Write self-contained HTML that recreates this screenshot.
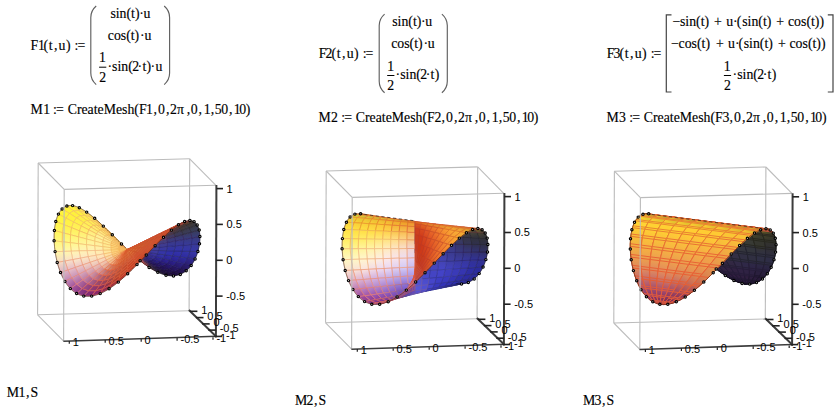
<!DOCTYPE html>
<html><head><meta charset="utf-8"><title>Mathcad</title>
<style>
html,body{margin:0;padding:0;background:#fff;}
body{width:839px;height:414px;overflow:hidden;font-family:"Liberation Serif",serif;}
svg{display:block;position:absolute;left:0;top:0;}
.m{font-family:"Liberation Serif",serif;font-size:13.8px;fill:#000;stroke:#000;stroke-width:0.15px;}
.al{font-family:"Liberation Sans",sans-serif;font-size:11px;fill:#000;}
.bx{stroke:#bcbcbc;stroke-width:1.1;fill:none;}
.ax{stroke:#3c3c3c;stroke-width:2;fill:none;stroke-linecap:square;}
.ax2{stroke:#3c3c3c;stroke-width:1.6;fill:none;stroke-linecap:square;}
.tk{stroke:#222;stroke-width:1.6;fill:none;}
.tk2{stroke:#222;stroke-width:1.2;fill:none;}
polygon{stroke-width:0.65;stroke-linejoin:round;}
.s2 polygon{stroke-width:0.7;}
.s3 polygon{stroke-width:1.0;}
.sil{stroke:#201810;stroke-width:0.9;stroke-opacity:0.75;stroke-dasharray:3.2 2.6;}
.dt{fill:#fff;fill-opacity:0.7;stroke:#000;stroke-width:1.15;}
.bl{stroke:#000;stroke-width:0.7;stroke-opacity:0.6;fill:none;}
.pr{stroke:#606060;stroke-width:1.15;fill:none;}
.fb{stroke:#000;stroke-width:1;}
.br{stroke:#444;stroke-width:1.2;fill:none;}
</style></head><body>
<svg width="839" height="414" viewBox="0 0 839 414">
<defs><linearGradient id="g1" gradientUnits="userSpaceOnUse" x1="130.6" y1="252.5" x2="139.4" y2="260.1"><stop stop-color="#9b9d6d"/><stop offset="1" stop-color="#7c7b65"/></linearGradient><linearGradient id="g2" gradientUnits="userSpaceOnUse" x1="139.4" y1="260.1" x2="147.9" y2="266.4"><stop stop-color="#7c7b65"/><stop offset="1" stop-color="#5b5757"/></linearGradient><linearGradient id="g3" gradientUnits="userSpaceOnUse" x1="121.8" y1="244.2" x2="130.6" y2="252.5"><stop stop-color="#b8bb71"/><stop offset="1" stop-color="#9b9d6d"/></linearGradient><linearGradient id="g4" gradientUnits="userSpaceOnUse" x1="147.9" y1="266.4" x2="156.1" y2="271.0"><stop stop-color="#5b5757"/><stop offset="1" stop-color="#3c3248"/></linearGradient><linearGradient id="g5" gradientUnits="userSpaceOnUse" x1="113.1" y1="235.6" x2="121.8" y2="244.2"><stop stop-color="#d2d36f"/><stop offset="1" stop-color="#b8bb71"/></linearGradient><linearGradient id="g6" gradientUnits="userSpaceOnUse" x1="156.1" y1="271.0" x2="163.8" y2="273.8"><stop stop-color="#3c3248"/><stop offset="1" stop-color="#23143b"/></linearGradient><linearGradient id="g7" gradientUnits="userSpaceOnUse" x1="104.6" y1="227.4" x2="113.1" y2="235.6"><stop stop-color="#e7e569"/><stop offset="1" stop-color="#d2d36f"/></linearGradient><linearGradient id="g8" gradientUnits="userSpaceOnUse" x1="130.2" y1="252.2" x2="137.9" y2="258.9"><stop stop-color="#a1a174"/><stop offset="1" stop-color="#82806b"/></linearGradient><linearGradient id="g9" gradientUnits="userSpaceOnUse" x1="137.9" y1="258.9" x2="145.4" y2="264.4"><stop stop-color="#82806b"/><stop offset="1" stop-color="#625c5e"/></linearGradient><linearGradient id="g10" gradientUnits="userSpaceOnUse" x1="122.4" y1="244.8" x2="130.2" y2="252.2"><stop stop-color="#bdbd78"/><stop offset="1" stop-color="#a1a174"/></linearGradient><linearGradient id="g11" gradientUnits="userSpaceOnUse" x1="163.8" y1="273.8" x2="170.9" y2="274.4"><stop stop-color="#23143b"/><stop offset="1" stop-color="#1c0a3b"/></linearGradient><linearGradient id="g12" gradientUnits="userSpaceOnUse" x1="145.4" y1="264.4" x2="152.7" y2="268.5"><stop stop-color="#625c5e"/><stop offset="1" stop-color="#42384e"/></linearGradient><linearGradient id="g13" gradientUnits="userSpaceOnUse" x1="96.5" y1="220.1" x2="104.6" y2="227.4"><stop stop-color="#f5ef5e"/><stop offset="1" stop-color="#e7e569"/></linearGradient><linearGradient id="g14" gradientUnits="userSpaceOnUse" x1="114.7" y1="237.3" x2="122.4" y2="244.8"><stop stop-color="#d5d476"/><stop offset="1" stop-color="#bdbd78"/></linearGradient><linearGradient id="g15" gradientUnits="userSpaceOnUse" x1="152.7" y1="268.5" x2="159.5" y2="270.9"><stop stop-color="#42384e"/><stop offset="1" stop-color="#261840"/></linearGradient><linearGradient id="g16" gradientUnits="userSpaceOnUse" x1="107.3" y1="230.0" x2="114.7" y2="237.3"><stop stop-color="#e9e470"/><stop offset="1" stop-color="#d5d476"/></linearGradient><linearGradient id="g17" gradientUnits="userSpaceOnUse" x1="88.9" y1="214.1" x2="96.5" y2="220.1"><stop stop-color="#fdf252"/><stop offset="1" stop-color="#f5ef5e"/></linearGradient><linearGradient id="g18" gradientUnits="userSpaceOnUse" x1="170.9" y1="274.4" x2="177.4" y2="273.0"><stop stop-color="#1c0a3b"/><stop offset="1" stop-color="#210f48"/></linearGradient><linearGradient id="g19" gradientUnits="userSpaceOnUse" x1="129.8" y1="251.9" x2="136.4" y2="257.6"><stop stop-color="#a7a67c"/><stop offset="1" stop-color="#8a8773"/></linearGradient><linearGradient id="g20" gradientUnits="userSpaceOnUse" x1="136.4" y1="257.6" x2="143.0" y2="262.5"><stop stop-color="#8a8773"/><stop offset="1" stop-color="#6a6466"/></linearGradient><linearGradient id="g21" gradientUnits="userSpaceOnUse" x1="159.5" y1="270.9" x2="165.8" y2="271.5"><stop stop-color="#261840"/><stop offset="1" stop-color="#1e0d43"/></linearGradient><linearGradient id="g22" gradientUnits="userSpaceOnUse" x1="123.0" y1="245.5" x2="129.8" y2="251.9"><stop stop-color="#c2c080"/><stop offset="1" stop-color="#a7a67c"/></linearGradient><linearGradient id="g23" gradientUnits="userSpaceOnUse" x1="100.1" y1="223.6" x2="107.3" y2="230.0"><stop stop-color="#f7ee66"/><stop offset="1" stop-color="#e9e470"/></linearGradient><linearGradient id="g24" gradientUnits="userSpaceOnUse" x1="143.0" y1="262.5" x2="149.2" y2="266.0"><stop stop-color="#6a6466"/><stop offset="1" stop-color="#4a3f56"/></linearGradient><linearGradient id="g25" gradientUnits="userSpaceOnUse" x1="116.4" y1="238.9" x2="123.0" y2="245.5"><stop stop-color="#d9d67f"/><stop offset="1" stop-color="#c2c080"/></linearGradient><linearGradient id="g26" gradientUnits="userSpaceOnUse" x1="149.2" y1="266.0" x2="155.1" y2="268.1"><stop stop-color="#4a3f56"/><stop offset="1" stop-color="#2e204b"/></linearGradient><linearGradient id="g27" gradientUnits="userSpaceOnUse" x1="109.9" y1="232.6" x2="116.4" y2="238.9"><stop stop-color="#ece579"/><stop offset="1" stop-color="#d9d67f"/></linearGradient><linearGradient id="g28" gradientUnits="userSpaceOnUse" x1="81.9" y1="210.0" x2="88.9" y2="214.1"><stop stop-color="#fff345"/><stop offset="1" stop-color="#fdf252"/></linearGradient><linearGradient id="g29" gradientUnits="userSpaceOnUse" x1="93.4" y1="218.3" x2="100.1" y2="223.6"><stop stop-color="#fef05a"/><stop offset="1" stop-color="#f7ee66"/></linearGradient><linearGradient id="g30" gradientUnits="userSpaceOnUse" x1="165.8" y1="271.5" x2="171.4" y2="270.2"><stop stop-color="#1e0d43"/><stop offset="1" stop-color="#241354"/></linearGradient><linearGradient id="g31" gradientUnits="userSpaceOnUse" x1="177.4" y1="273.0" x2="182.9" y2="269.6"><stop stop-color="#210f48"/><stop offset="1" stop-color="#261658"/></linearGradient><linearGradient id="g32" gradientUnits="userSpaceOnUse" x1="155.1" y1="268.1" x2="160.6" y2="268.6"><stop stop-color="#2e204b"/><stop offset="1" stop-color="#22114d"/></linearGradient><linearGradient id="g33" gradientUnits="userSpaceOnUse" x1="103.7" y1="227.0" x2="109.9" y2="232.6"><stop stop-color="#faee6f"/><stop offset="1" stop-color="#ece579"/></linearGradient><linearGradient id="g34" gradientUnits="userSpaceOnUse" x1="129.3" y1="251.5" x2="135.0" y2="256.4"><stop stop-color="#afac85"/><stop offset="1" stop-color="#938f7c"/></linearGradient><linearGradient id="g35" gradientUnits="userSpaceOnUse" x1="135.0" y1="256.4" x2="140.5" y2="260.5"><stop stop-color="#938f7c"/><stop offset="1" stop-color="#746d6f"/></linearGradient><linearGradient id="g36" gradientUnits="userSpaceOnUse" x1="123.6" y1="246.1" x2="129.3" y2="251.5"><stop stop-color="#c7c588"/><stop offset="1" stop-color="#afac85"/></linearGradient><linearGradient id="g37" gradientUnits="userSpaceOnUse" x1="140.5" y1="260.5" x2="145.8" y2="263.5"><stop stop-color="#746d6f"/><stop offset="1" stop-color="#544961"/></linearGradient><linearGradient id="g38" gradientUnits="userSpaceOnUse" x1="118.0" y1="240.6" x2="123.6" y2="246.1"><stop stop-color="#ddd887"/><stop offset="1" stop-color="#c7c588"/></linearGradient><linearGradient id="g39" gradientUnits="userSpaceOnUse" x1="87.2" y1="214.7" x2="93.4" y2="218.3"><stop stop-color="#fff04e"/><stop offset="1" stop-color="#fef05a"/></linearGradient><linearGradient id="g40" gradientUnits="userSpaceOnUse" x1="75.6" y1="208.1" x2="81.9" y2="210.0"><stop stop-color="#fff43a"/><stop offset="1" stop-color="#fff345"/></linearGradient><linearGradient id="g41" gradientUnits="userSpaceOnUse" x1="171.4" y1="270.2" x2="176.4" y2="267.3"><stop stop-color="#241354"/><stop offset="1" stop-color="#281867"/></linearGradient><linearGradient id="g42" gradientUnits="userSpaceOnUse" x1="145.8" y1="263.5" x2="150.8" y2="265.2"><stop stop-color="#544961"/><stop offset="1" stop-color="#382956"/></linearGradient><linearGradient id="g43" gradientUnits="userSpaceOnUse" x1="97.9" y1="222.5" x2="103.7" y2="227.0"><stop stop-color="#fff063"/><stop offset="1" stop-color="#faee6f"/></linearGradient><linearGradient id="g44" gradientUnits="userSpaceOnUse" x1="160.6" y1="268.6" x2="165.5" y2="267.5"><stop stop-color="#22114d"/><stop offset="1" stop-color="#24135d"/></linearGradient><linearGradient id="g45" gradientUnits="userSpaceOnUse" x1="112.5" y1="235.3" x2="118.0" y2="240.6"><stop stop-color="#efe682"/><stop offset="1" stop-color="#ddd887"/></linearGradient><linearGradient id="g46" gradientUnits="userSpaceOnUse" x1="182.9" y1="269.6" x2="187.6" y2="264.7"><stop stop-color="#261658"/><stop offset="1" stop-color="#2b1e73"/></linearGradient><linearGradient id="g47" gradientUnits="userSpaceOnUse" x1="150.8" y1="265.2" x2="155.4" y2="265.7"><stop stop-color="#382956"/><stop offset="1" stop-color="#271658"/></linearGradient><linearGradient id="g48" gradientUnits="userSpaceOnUse" x1="107.3" y1="230.5" x2="112.5" y2="235.3"><stop stop-color="#fdef78"/><stop offset="1" stop-color="#efe682"/></linearGradient><linearGradient id="g49" gradientUnits="userSpaceOnUse" x1="81.7" y1="213.0" x2="87.2" y2="214.7"><stop stop-color="#fff043"/><stop offset="1" stop-color="#fff04e"/></linearGradient><linearGradient id="g50" gradientUnits="userSpaceOnUse" x1="92.5" y1="219.4" x2="97.9" y2="222.5"><stop stop-color="#ffef58"/><stop offset="1" stop-color="#fff063"/></linearGradient><linearGradient id="g51" gradientUnits="userSpaceOnUse" x1="128.9" y1="251.2" x2="133.5" y2="255.2"><stop stop-color="#b7b48e"/><stop offset="1" stop-color="#9d9885"/></linearGradient><linearGradient id="g52" gradientUnits="userSpaceOnUse" x1="133.5" y1="255.2" x2="138.0" y2="258.5"><stop stop-color="#9d9885"/><stop offset="1" stop-color="#807979"/></linearGradient><linearGradient id="g53" gradientUnits="userSpaceOnUse" x1="124.2" y1="246.8" x2="128.9" y2="251.2"><stop stop-color="#cdca91"/><stop offset="1" stop-color="#b7b48e"/></linearGradient><linearGradient id="g54" gradientUnits="userSpaceOnUse" x1="165.5" y1="267.5" x2="169.8" y2="264.9"><stop stop-color="#24135d"/><stop offset="1" stop-color="#281973"/></linearGradient><linearGradient id="g55" gradientUnits="userSpaceOnUse" x1="138.0" y1="258.5" x2="142.4" y2="261.0"><stop stop-color="#807979"/><stop offset="1" stop-color="#61566b"/></linearGradient><linearGradient id="g56" gradientUnits="userSpaceOnUse" x1="119.6" y1="242.2" x2="124.2" y2="246.8"><stop stop-color="#e0db91"/><stop offset="1" stop-color="#cdca91"/></linearGradient><linearGradient id="g57" gradientUnits="userSpaceOnUse" x1="102.3" y1="226.7" x2="107.3" y2="230.5"><stop stop-color="#fff06e"/><stop offset="1" stop-color="#fdef78"/></linearGradient><linearGradient id="g58" gradientUnits="userSpaceOnUse" x1="155.4" y1="265.7" x2="159.6" y2="264.7"><stop stop-color="#271658"/><stop offset="1" stop-color="#251566"/></linearGradient><linearGradient id="g59" gradientUnits="userSpaceOnUse" x1="176.4" y1="267.3" x2="180.5" y2="262.9"><stop stop-color="#281867"/><stop offset="1" stop-color="#2c2182"/></linearGradient><linearGradient id="g60" gradientUnits="userSpaceOnUse" x1="142.4" y1="261.0" x2="146.5" y2="262.4"><stop stop-color="#61566b"/><stop offset="1" stop-color="#433461"/></linearGradient><linearGradient id="g61" gradientUnits="userSpaceOnUse" x1="115.1" y1="237.9" x2="119.6" y2="242.2"><stop stop-color="#efe78c"/><stop offset="1" stop-color="#e0db91"/></linearGradient><linearGradient id="g62" gradientUnits="userSpaceOnUse" x1="87.7" y1="217.9" x2="92.5" y2="219.4"><stop stop-color="#feee4e"/><stop offset="1" stop-color="#ffef58"/></linearGradient><linearGradient id="g63" gradientUnits="userSpaceOnUse" x1="146.5" y1="262.4" x2="150.3" y2="262.7"><stop stop-color="#433461"/><stop offset="1" stop-color="#2a1a5f"/></linearGradient><linearGradient id="g64" gradientUnits="userSpaceOnUse" x1="110.8" y1="234.0" x2="115.1" y2="237.9"><stop stop-color="#faee83"/><stop offset="1" stop-color="#efe78c"/></linearGradient><linearGradient id="g65" gradientUnits="userSpaceOnUse" x1="97.8" y1="224.0" x2="102.3" y2="226.7"><stop stop-color="#ffef63"/><stop offset="1" stop-color="#fff06e"/></linearGradient><linearGradient id="g66" gradientUnits="userSpaceOnUse" x1="187.6" y1="264.7" x2="191.3" y2="258.4"><stop stop-color="#2b1e73"/><stop offset="1" stop-color="#302a92"/></linearGradient><linearGradient id="g67" gradientUnits="userSpaceOnUse" x1="159.6" y1="264.7" x2="163.2" y2="262.6"><stop stop-color="#251566"/><stop offset="1" stop-color="#291c7d"/></linearGradient><linearGradient id="g68" gradientUnits="userSpaceOnUse" x1="169.8" y1="264.9" x2="173.4" y2="261.1"><stop stop-color="#281973"/><stop offset="1" stop-color="#2b218c"/></linearGradient><linearGradient id="g69" gradientUnits="userSpaceOnUse" x1="106.8" y1="230.8" x2="110.8" y2="234.0"><stop stop-color="#fef079"/><stop offset="1" stop-color="#faee83"/></linearGradient><linearGradient id="g70" gradientUnits="userSpaceOnUse" x1="128.5" y1="250.8" x2="132.1" y2="253.9"><stop stop-color="#c0bc97"/><stop offset="1" stop-color="#a9a48e"/></linearGradient><linearGradient id="g71" gradientUnits="userSpaceOnUse" x1="150.3" y1="262.7" x2="153.6" y2="262.0"><stop stop-color="#2a1a5f"/><stop offset="1" stop-color="#26196f"/></linearGradient><linearGradient id="g72" gradientUnits="userSpaceOnUse" x1="132.1" y1="253.9" x2="135.6" y2="256.5"><stop stop-color="#a9a48e"/><stop offset="1" stop-color="#8f8682"/></linearGradient><linearGradient id="g73" gradientUnits="userSpaceOnUse" x1="124.9" y1="247.4" x2="128.5" y2="250.8"><stop stop-color="#d3cf9b"/><stop offset="1" stop-color="#c0bc97"/></linearGradient><linearGradient id="g74" gradientUnits="userSpaceOnUse" x1="135.6" y1="256.5" x2="139.0" y2="258.4"><stop stop-color="#8f8682"/><stop offset="1" stop-color="#716575"/></linearGradient><linearGradient id="g75" gradientUnits="userSpaceOnUse" x1="121.3" y1="243.9" x2="124.9" y2="247.4"><stop stop-color="#e2de9a"/><stop offset="1" stop-color="#d3cf9b"/></linearGradient><linearGradient id="g76" gradientUnits="userSpaceOnUse" x1="93.8" y1="222.7" x2="97.8" y2="224.0"><stop stop-color="#feed5a"/><stop offset="1" stop-color="#ffef63"/></linearGradient><linearGradient id="g77" gradientUnits="userSpaceOnUse" x1="180.5" y1="262.9" x2="183.7" y2="257.4"><stop stop-color="#2c2182"/><stop offset="1" stop-color="#2e2b9d"/></linearGradient><linearGradient id="g78" gradientUnits="userSpaceOnUse" x1="139.0" y1="258.4" x2="142.1" y2="259.6"><stop stop-color="#716575"/><stop offset="1" stop-color="#53456c"/></linearGradient><linearGradient id="g79" gradientUnits="userSpaceOnUse" x1="117.8" y1="240.5" x2="121.3" y2="243.9"><stop stop-color="#eee896"/><stop offset="1" stop-color="#e2de9a"/></linearGradient><linearGradient id="g80" gradientUnits="userSpaceOnUse" x1="103.1" y1="228.7" x2="106.8" y2="230.8"><stop stop-color="#ffee6f"/><stop offset="1" stop-color="#fef079"/></linearGradient><linearGradient id="g81" gradientUnits="userSpaceOnUse" x1="163.2" y1="262.6" x2="166.2" y2="259.4"><stop stop-color="#291c7d"/><stop offset="1" stop-color="#2e2594"/></linearGradient><linearGradient id="g82" gradientUnits="userSpaceOnUse" x1="153.6" y1="262.0" x2="156.6" y2="260.2"><stop stop-color="#26196f"/><stop offset="1" stop-color="#2a2085"/></linearGradient><linearGradient id="g83" gradientUnits="userSpaceOnUse" x1="142.1" y1="259.6" x2="145.1" y2="259.8"><stop stop-color="#53456c"/><stop offset="1" stop-color="#3b2e6b"/></linearGradient><linearGradient id="g84" gradientUnits="userSpaceOnUse" x1="114.4" y1="237.5" x2="117.8" y2="240.5"><stop stop-color="#f7ed8d"/><stop offset="1" stop-color="#eee896"/></linearGradient><linearGradient id="g85" gradientUnits="userSpaceOnUse" x1="173.4" y1="261.1" x2="176.2" y2="256.4"><stop stop-color="#2b218c"/><stop offset="1" stop-color="#2f2ba2"/></linearGradient><linearGradient id="g86" gradientUnits="userSpaceOnUse" x1="111.3" y1="235.0" x2="114.4" y2="237.5"><stop stop-color="#fcee83"/><stop offset="1" stop-color="#f7ed8d"/></linearGradient><linearGradient id="g87" gradientUnits="userSpaceOnUse" x1="145.1" y1="259.8" x2="147.7" y2="259.3"><stop stop-color="#3b2e6b"/><stop offset="1" stop-color="#2f2677"/></linearGradient><linearGradient id="g88" gradientUnits="userSpaceOnUse" x1="99.8" y1="227.6" x2="103.1" y2="228.7"><stop stop-color="#feeb68"/><stop offset="1" stop-color="#ffee6f"/></linearGradient><linearGradient id="g89" gradientUnits="userSpaceOnUse" x1="191.3" y1="258.4" x2="193.9" y2="251.4"><stop stop-color="#302a92"/><stop offset="1" stop-color="#3737a7"/></linearGradient><linearGradient id="g90" gradientUnits="userSpaceOnUse" x1="156.6" y1="260.2" x2="159.1" y2="257.6"><stop stop-color="#2a2085"/><stop offset="1" stop-color="#302a9a"/></linearGradient><linearGradient id="g91" gradientUnits="userSpaceOnUse" x1="128.0" y1="250.5" x2="130.6" y2="252.7"><stop stop-color="#c8c5a0"/><stop offset="1" stop-color="#b6b097"/></linearGradient><linearGradient id="g92" gradientUnits="userSpaceOnUse" x1="130.6" y1="252.7" x2="133.1" y2="254.6"><stop stop-color="#b6b097"/><stop offset="1" stop-color="#9e958b"/></linearGradient><linearGradient id="g93" gradientUnits="userSpaceOnUse" x1="125.5" y1="248.0" x2="128.0" y2="250.5"><stop stop-color="#d7d4a4"/><stop offset="1" stop-color="#c8c5a0"/></linearGradient><linearGradient id="g94" gradientUnits="userSpaceOnUse" x1="108.4" y1="233.3" x2="111.3" y2="235.0"><stop stop-color="#fdec7a"/><stop offset="1" stop-color="#fcee83"/></linearGradient><linearGradient id="g95" gradientUnits="userSpaceOnUse" x1="133.1" y1="254.6" x2="135.5" y2="255.9"><stop stop-color="#9e958b"/><stop offset="1" stop-color="#83777e"/></linearGradient><linearGradient id="g96" gradientUnits="userSpaceOnUse" x1="166.2" y1="259.4" x2="168.6" y2="255.3"><stop stop-color="#2e2594"/><stop offset="1" stop-color="#312ea5"/></linearGradient><linearGradient id="g97" gradientUnits="userSpaceOnUse" x1="122.9" y1="245.5" x2="125.5" y2="248.0"><stop stop-color="#e3e0a3"/><stop offset="1" stop-color="#d7d4a4"/></linearGradient><linearGradient id="g98" gradientUnits="userSpaceOnUse" x1="147.7" y1="259.3" x2="150.0" y2="257.9"><stop stop-color="#2f2677"/><stop offset="1" stop-color="#312887"/></linearGradient><linearGradient id="g99" gradientUnits="userSpaceOnUse" x1="135.5" y1="255.9" x2="137.8" y2="256.7"><stop stop-color="#83777e"/><stop offset="1" stop-color="#685975"/></linearGradient><linearGradient id="g100" gradientUnits="userSpaceOnUse" x1="183.7" y1="257.4" x2="186.1" y2="251.2"><stop stop-color="#2e2b9d"/><stop offset="1" stop-color="#3435a9"/></linearGradient><linearGradient id="g101" gradientUnits="userSpaceOnUse" x1="120.4" y1="243.1" x2="122.9" y2="245.5"><stop stop-color="#ede79f"/><stop offset="1" stop-color="#e3e0a3"/></linearGradient><linearGradient id="g102" gradientUnits="userSpaceOnUse" x1="137.8" y1="256.7" x2="139.9" y2="256.9"><stop stop-color="#685975"/><stop offset="1" stop-color="#514273"/></linearGradient><linearGradient id="g103" gradientUnits="userSpaceOnUse" x1="118.0" y1="240.9" x2="120.4" y2="243.1"><stop stop-color="#f5eb96"/><stop offset="1" stop-color="#ede79f"/></linearGradient><linearGradient id="g104" gradientUnits="userSpaceOnUse" x1="176.2" y1="256.4" x2="178.2" y2="251.0"><stop stop-color="#2f2ba2"/><stop offset="1" stop-color="#3333ab"/></linearGradient><linearGradient id="g105" gradientUnits="userSpaceOnUse" x1="150.0" y1="257.9" x2="151.9" y2="255.8"><stop stop-color="#312887"/><stop offset="1" stop-color="#362e96"/></linearGradient><linearGradient id="g106" gradientUnits="userSpaceOnUse" x1="159.1" y1="257.6" x2="161.0" y2="254.3"><stop stop-color="#302a9a"/><stop offset="1" stop-color="#3434a7"/></linearGradient><linearGradient id="g107" gradientUnits="userSpaceOnUse" x1="115.8" y1="239.2" x2="118.0" y2="240.9"><stop stop-color="#fcec8b"/><stop offset="1" stop-color="#f5eb96"/></linearGradient><linearGradient id="g108" gradientUnits="userSpaceOnUse" x1="139.9" y1="256.9" x2="141.8" y2="256.5"><stop stop-color="#514273"/><stop offset="1" stop-color="#463879"/></linearGradient><linearGradient id="g109" gradientUnits="userSpaceOnUse" x1="94.5" y1="229.3" x2="96.9" y2="227.8"><stop stop-color="#feeb70"/><stop offset="1" stop-color="#fdea68"/></linearGradient><linearGradient id="g110" gradientUnits="userSpaceOnUse" x1="113.7" y1="238.0" x2="115.8" y2="239.2"><stop stop-color="#fce881"/><stop offset="1" stop-color="#fcec8b"/></linearGradient><linearGradient id="g111" gradientUnits="userSpaceOnUse" x1="141.8" y1="256.5" x2="143.4" y2="255.5"><stop stop-color="#463879"/><stop offset="1" stop-color="#433683"/></linearGradient><linearGradient id="g112" gradientUnits="userSpaceOnUse" x1="59.8" y1="223.0" x2="62.2" y2="216.1"><stop stop-color="#fff546"/><stop offset="1" stop-color="#fff63b"/></linearGradient><linearGradient id="g113" gradientUnits="userSpaceOnUse" x1="85.1" y1="227.9" x2="87.3" y2="224.7"><stop stop-color="#ffee63"/><stop offset="1" stop-color="#ffed59"/></linearGradient><linearGradient id="g114" gradientUnits="userSpaceOnUse" x1="151.9" y1="255.8" x2="153.5" y2="253.3"><stop stop-color="#362e96"/><stop offset="1" stop-color="#3c369d"/></linearGradient><linearGradient id="g115" gradientUnits="userSpaceOnUse" x1="127.6" y1="250.2" x2="129.2" y2="251.5"><stop stop-color="#cecba8"/><stop offset="1" stop-color="#c0ba9f"/></linearGradient><linearGradient id="g116" gradientUnits="userSpaceOnUse" x1="129.2" y1="251.5" x2="130.7" y2="252.6"><stop stop-color="#c0ba9f"/><stop offset="1" stop-color="#ada393"/></linearGradient><linearGradient id="g117" gradientUnits="userSpaceOnUse" x1="67.7" y1="226.2" x2="69.8" y2="220.0"><stop stop-color="#fff24e"/><stop offset="1" stop-color="#fff242"/></linearGradient><linearGradient id="g118" gradientUnits="userSpaceOnUse" x1="126.1" y1="248.7" x2="127.6" y2="250.2"><stop stop-color="#d9d7ad"/><stop offset="1" stop-color="#cecba8"/></linearGradient><linearGradient id="g119" gradientUnits="userSpaceOnUse" x1="130.7" y1="252.6" x2="132.1" y2="253.4"><stop stop-color="#ada393"/><stop offset="1" stop-color="#968886"/></linearGradient><linearGradient id="g120" gradientUnits="userSpaceOnUse" x1="124.5" y1="247.2" x2="126.1" y2="248.7"><stop stop-color="#e0dead"/><stop offset="1" stop-color="#d9d7ad"/></linearGradient><linearGradient id="g121" gradientUnits="userSpaceOnUse" x1="101.7" y1="233.8" x2="103.6" y2="232.7"><stop stop-color="#fdea82"/><stop offset="1" stop-color="#fbe777"/></linearGradient><linearGradient id="g122" gradientUnits="userSpaceOnUse" x1="143.4" y1="255.5" x2="144.8" y2="254.1"><stop stop-color="#433683"/><stop offset="1" stop-color="#463a8c"/></linearGradient><linearGradient id="g123" gradientUnits="userSpaceOnUse" x1="193.9" y1="251.4" x2="195.5" y2="244.2"><stop stop-color="#3737a7"/><stop offset="1" stop-color="#373996"/></linearGradient><linearGradient id="g124" gradientUnits="userSpaceOnUse" x1="132.1" y1="253.4" x2="133.5" y2="253.9"><stop stop-color="#968886"/><stop offset="1" stop-color="#7d6c7b"/></linearGradient><linearGradient id="g125" gradientUnits="userSpaceOnUse" x1="92.7" y1="231.9" x2="94.5" y2="229.3"><stop stop-color="#ffed7d"/><stop offset="1" stop-color="#feeb70"/></linearGradient><linearGradient id="g126" gradientUnits="userSpaceOnUse" x1="133.5" y1="253.9" x2="134.7" y2="254.0"><stop stop-color="#7d6c7b"/><stop offset="1" stop-color="#685677"/></linearGradient><linearGradient id="g127" gradientUnits="userSpaceOnUse" x1="75.6" y1="229.3" x2="77.4" y2="224.0"><stop stop-color="#fff15d"/><stop offset="1" stop-color="#fff04e"/></linearGradient><linearGradient id="g128" gradientUnits="userSpaceOnUse" x1="121.6" y1="244.4" x2="123.0" y2="245.7"><stop stop-color="#e9e2a1"/><stop offset="1" stop-color="#e5e1a9"/></linearGradient><linearGradient id="g129" gradientUnits="userSpaceOnUse" x1="186.1" y1="251.2" x2="187.4" y2="244.8"><stop stop-color="#3435a9"/><stop offset="1" stop-color="#37399b"/></linearGradient><linearGradient id="g130" gradientUnits="userSpaceOnUse" x1="120.3" y1="243.4" x2="121.6" y2="244.4"><stop stop-color="#eee095"/><stop offset="1" stop-color="#e9e2a1"/></linearGradient><linearGradient id="g131" gradientUnits="userSpaceOnUse" x1="134.7" y1="254.0" x2="135.9" y2="253.8"><stop stop-color="#685677"/><stop offset="1" stop-color="#5c4a79"/></linearGradient><linearGradient id="g132" gradientUnits="userSpaceOnUse" x1="83.5" y1="232.4" x2="85.1" y2="227.9"><stop stop-color="#fff070"/><stop offset="1" stop-color="#ffee63"/></linearGradient><linearGradient id="g133" gradientUnits="userSpaceOnUse" x1="178.2" y1="251.0" x2="179.4" y2="245.5"><stop stop-color="#3333ab"/><stop offset="1" stop-color="#37379c"/></linearGradient><linearGradient id="g134" gradientUnits="userSpaceOnUse" x1="100.3" y1="235.8" x2="101.7" y2="233.8"><stop stop-color="#ffef93"/><stop offset="1" stop-color="#fdea82"/></linearGradient><linearGradient id="g135" gradientUnits="userSpaceOnUse" x1="119.0" y1="242.7" x2="120.3" y2="243.4"><stop stop-color="#efdc8a"/><stop offset="1" stop-color="#eee095"/></linearGradient><linearGradient id="g136" gradientUnits="userSpaceOnUse" x1="109.0" y1="238.3" x2="110.3" y2="237.5"><stop stop-color="#fae588"/><stop offset="1" stop-color="#f7e17f"/></linearGradient><linearGradient id="g137" gradientUnits="userSpaceOnUse" x1="117.9" y1="242.3" x2="119.0" y2="242.7"><stop stop-color="#edd682"/><stop offset="1" stop-color="#efdc8a"/></linearGradient><linearGradient id="g138" gradientUnits="userSpaceOnUse" x1="170.3" y1="250.8" x2="171.3" y2="246.1"><stop stop-color="#3131a8"/><stop offset="1" stop-color="#36379a"/></linearGradient><linearGradient id="g139" gradientUnits="userSpaceOnUse" x1="91.4" y1="235.6" x2="92.7" y2="231.9"><stop stop-color="#fff087"/><stop offset="1" stop-color="#ffed7d"/></linearGradient><linearGradient id="g140" gradientUnits="userSpaceOnUse" x1="58.4" y1="231.6" x2="59.8" y2="223.0"><stop stop-color="#fff65c"/><stop offset="1" stop-color="#fff546"/></linearGradient><linearGradient id="g141" gradientUnits="userSpaceOnUse" x1="107.9" y1="239.8" x2="109.0" y2="238.3"><stop stop-color="#ffea91"/><stop offset="1" stop-color="#fae588"/></linearGradient><linearGradient id="g142" gradientUnits="userSpaceOnUse" x1="162.4" y1="250.6" x2="163.2" y2="246.7"><stop stop-color="#3737a3"/><stop offset="1" stop-color="#3c3a97"/></linearGradient><linearGradient id="g143" gradientUnits="userSpaceOnUse" x1="66.5" y1="233.7" x2="67.7" y2="226.2"><stop stop-color="#fff465"/><stop offset="1" stop-color="#fff24e"/></linearGradient><linearGradient id="g144" gradientUnits="userSpaceOnUse" x1="74.5" y1="235.8" x2="75.6" y2="229.3"><stop stop-color="#fff473"/><stop offset="1" stop-color="#fff15d"/></linearGradient><linearGradient id="g145" gradientUnits="userSpaceOnUse" x1="154.5" y1="250.4" x2="155.2" y2="247.4"><stop stop-color="#413c9c"/><stop offset="1" stop-color="#464195"/></linearGradient><linearGradient id="g146" gradientUnits="userSpaceOnUse" x1="82.6" y1="238.0" x2="83.5" y2="232.4"><stop stop-color="#fff384"/><stop offset="1" stop-color="#fff070"/></linearGradient><linearGradient id="g147" gradientUnits="userSpaceOnUse" x1="127.2" y1="249.8" x2="127.7" y2="250.3"><stop stop-color="#d0ceb1"/><stop offset="1" stop-color="#c7c1a7"/></linearGradient><linearGradient id="g148" gradientUnits="userSpaceOnUse" x1="127.7" y1="250.3" x2="128.2" y2="250.6"><stop stop-color="#c7c1a7"/><stop offset="1" stop-color="#b8af9a"/></linearGradient><linearGradient id="g149" gradientUnits="userSpaceOnUse" x1="126.7" y1="249.3" x2="127.2" y2="249.8"><stop stop-color="#d6d6b6"/><stop offset="1" stop-color="#d0ceb1"/></linearGradient><linearGradient id="g150" gradientUnits="userSpaceOnUse" x1="128.2" y1="250.6" x2="128.7" y2="250.9"><stop stop-color="#b8af9a"/><stop offset="1" stop-color="#a5968c"/></linearGradient><linearGradient id="g151" gradientUnits="userSpaceOnUse" x1="128.7" y1="250.9" x2="129.1" y2="251.1"><stop stop-color="#a5968c"/><stop offset="1" stop-color="#8f7d7f"/></linearGradient><linearGradient id="g152" gradientUnits="userSpaceOnUse" x1="129.1" y1="251.1" x2="129.6" y2="251.1"><stop stop-color="#8f7d7f"/><stop offset="1" stop-color="#7d6778"/></linearGradient><linearGradient id="g153" gradientUnits="userSpaceOnUse" x1="125.2" y1="247.9" x2="125.7" y2="248.3"><stop stop-color="#d9d4ac"/><stop offset="1" stop-color="#d9d8b4"/></linearGradient><linearGradient id="g154" gradientUnits="userSpaceOnUse" x1="90.7" y1="240.1" x2="91.4" y2="235.6"><stop stop-color="#fff395"/><stop offset="1" stop-color="#fff087"/></linearGradient><linearGradient id="g155" gradientUnits="userSpaceOnUse" x1="124.7" y1="247.6" x2="125.2" y2="247.9"><stop stop-color="#d9cfa0"/><stop offset="1" stop-color="#d9d4ac"/></linearGradient><linearGradient id="g156" gradientUnits="userSpaceOnUse" x1="129.6" y1="251.1" x2="129.9" y2="251.0"><stop stop-color="#7d6778"/><stop offset="1" stop-color="#715b78"/></linearGradient><linearGradient id="g157" gradientUnits="userSpaceOnUse" x1="124.3" y1="247.3" x2="124.7" y2="247.6"><stop stop-color="#d9c893"/><stop offset="1" stop-color="#d9cfa0"/></linearGradient><linearGradient id="g158" gradientUnits="userSpaceOnUse" x1="124.0" y1="247.2" x2="124.3" y2="247.3"><stop stop-color="#dbc387"/><stop offset="1" stop-color="#d9c893"/></linearGradient><linearGradient id="g159" gradientUnits="userSpaceOnUse" x1="123.6" y1="247.2" x2="124.0" y2="247.2"><stop stop-color="#e0c27e"/><stop offset="1" stop-color="#dbc387"/></linearGradient><linearGradient id="g160" gradientUnits="userSpaceOnUse" x1="123.4" y1="247.4" x2="123.6" y2="247.2"><stop stop-color="#e8c479"/><stop offset="1" stop-color="#e0c27e"/></linearGradient><linearGradient id="g161" gradientUnits="userSpaceOnUse" x1="195.5" y1="244.2" x2="195.9" y2="237.2"><stop stop-color="#373996"/><stop offset="1" stop-color="#383c7a"/></linearGradient><linearGradient id="g162" gradientUnits="userSpaceOnUse" x1="123.2" y1="247.7" x2="123.4" y2="247.4"><stop stop-color="#f1c875"/><stop offset="1" stop-color="#e8c479"/></linearGradient><linearGradient id="g163" gradientUnits="userSpaceOnUse" x1="187.4" y1="244.8" x2="187.8" y2="238.7"><stop stop-color="#37399b"/><stop offset="1" stop-color="#383b7f"/></linearGradient><linearGradient id="g164" gradientUnits="userSpaceOnUse" x1="179.4" y1="245.5" x2="179.7" y2="240.1"><stop stop-color="#37379c"/><stop offset="1" stop-color="#3a3a84"/></linearGradient><linearGradient id="g165" gradientUnits="userSpaceOnUse" x1="171.3" y1="246.1" x2="171.6" y2="241.6"><stop stop-color="#36379a"/><stop offset="1" stop-color="#3a3a84"/></linearGradient><linearGradient id="g166" gradientUnits="userSpaceOnUse" x1="123.0" y1="248.1" x2="123.2" y2="247.7"><stop stop-color="#f9cd75"/><stop offset="1" stop-color="#f1c875"/></linearGradient><linearGradient id="g167" gradientUnits="userSpaceOnUse" x1="163.2" y1="246.7" x2="163.5" y2="243.1"><stop stop-color="#3c3a97"/><stop offset="1" stop-color="#413d87"/></linearGradient><linearGradient id="g168" gradientUnits="userSpaceOnUse" x1="155.2" y1="247.4" x2="155.3" y2="244.5"><stop stop-color="#464195"/><stop offset="1" stop-color="#4b4389"/></linearGradient><linearGradient id="g169" gradientUnits="userSpaceOnUse" x1="147.1" y1="248.0" x2="147.2" y2="246.0"><stop stop-color="#524890"/><stop offset="1" stop-color="#564a88"/></linearGradient><linearGradient id="g170" gradientUnits="userSpaceOnUse" x1="98.6" y1="246.2" x2="98.7" y2="242.2"><stop stop-color="#fff0a4"/><stop offset="1" stop-color="#fff09c"/></linearGradient><linearGradient id="g171" gradientUnits="userSpaceOnUse" x1="90.6" y1="245.2" x2="90.7" y2="240.1"><stop stop-color="#fff3a4"/><stop offset="1" stop-color="#fff395"/></linearGradient><linearGradient id="g172" gradientUnits="userSpaceOnUse" x1="82.5" y1="244.2" x2="82.6" y2="238.0"><stop stop-color="#fff59c"/><stop offset="1" stop-color="#fff384"/></linearGradient><linearGradient id="g173" gradientUnits="userSpaceOnUse" x1="131.0" y1="248.9" x2="131.0" y2="248.5"><stop stop-color="#6e5984"/><stop offset="1" stop-color="#6f567c"/></linearGradient><linearGradient id="g174" gradientUnits="userSpaceOnUse" x1="74.4" y1="243.2" x2="74.5" y2="235.8"><stop stop-color="#fff790"/><stop offset="1" stop-color="#fff473"/></linearGradient><linearGradient id="g175" gradientUnits="userSpaceOnUse" x1="66.3" y1="242.2" x2="66.5" y2="233.7"><stop stop-color="#fff884"/><stop offset="1" stop-color="#fff465"/></linearGradient><linearGradient id="g176" gradientUnits="userSpaceOnUse" x1="58.2" y1="241.3" x2="58.4" y2="231.6"><stop stop-color="#fff87b"/><stop offset="1" stop-color="#fff65c"/></linearGradient><linearGradient id="g177" gradientUnits="userSpaceOnUse" x1="131.0" y1="248.5" x2="130.9" y2="248.3"><stop stop-color="#6f567c"/><stop offset="1" stop-color="#72526f"/></linearGradient><linearGradient id="g178" gradientUnits="userSpaceOnUse" x1="123.3" y1="250.9" x2="123.1" y2="250.3"><stop stop-color="#fccc76"/><stop offset="1" stop-color="#ffd37a"/></linearGradient><linearGradient id="g179" gradientUnits="userSpaceOnUse" x1="139.1" y1="247.4" x2="139.0" y2="246.4"><stop stop-color="#625186"/><stop offset="1" stop-color="#65507c"/></linearGradient><linearGradient id="g180" gradientUnits="userSpaceOnUse" x1="130.9" y1="248.3" x2="130.7" y2="248.1"><stop stop-color="#72526f"/><stop offset="1" stop-color="#794f5e"/></linearGradient><linearGradient id="g181" gradientUnits="userSpaceOnUse" x1="123.5" y1="251.4" x2="123.3" y2="250.9"><stop stop-color="#f5c16f"/><stop offset="1" stop-color="#fccc76"/></linearGradient><linearGradient id="g182" gradientUnits="userSpaceOnUse" x1="123.8" y1="251.8" x2="123.5" y2="251.4"><stop stop-color="#edb466"/><stop offset="1" stop-color="#f5c16f"/></linearGradient><linearGradient id="g183" gradientUnits="userSpaceOnUse" x1="130.7" y1="248.1" x2="130.5" y2="248.0"><stop stop-color="#794f5e"/><stop offset="1" stop-color="#854f4d"/></linearGradient><linearGradient id="g184" gradientUnits="userSpaceOnUse" x1="124.2" y1="252.1" x2="123.8" y2="251.8"><stop stop-color="#e4a45b"/><stop offset="1" stop-color="#edb466"/></linearGradient><linearGradient id="g185" gradientUnits="userSpaceOnUse" x1="147.2" y1="246.0" x2="147.0" y2="244.2"><stop stop-color="#564a88"/><stop offset="1" stop-color="#5b4a7c"/></linearGradient><linearGradient id="g186" gradientUnits="userSpaceOnUse" x1="130.5" y1="248.0" x2="130.2" y2="248.1"><stop stop-color="#854f4d"/><stop offset="1" stop-color="#975440"/></linearGradient><linearGradient id="g187" gradientUnits="userSpaceOnUse" x1="124.6" y1="252.2" x2="124.2" y2="252.1"><stop stop-color="#dc924d"/><stop offset="1" stop-color="#e4a45b"/></linearGradient><linearGradient id="g188" gradientUnits="userSpaceOnUse" x1="130.2" y1="248.1" x2="129.8" y2="248.3"><stop stop-color="#975440"/><stop offset="1" stop-color="#ac5e38"/></linearGradient><linearGradient id="g189" gradientUnits="userSpaceOnUse" x1="125.0" y1="252.2" x2="124.6" y2="252.2"><stop stop-color="#d58342"/><stop offset="1" stop-color="#dc924d"/></linearGradient><linearGradient id="g190" gradientUnits="userSpaceOnUse" x1="139.0" y1="246.4" x2="138.7" y2="245.5"><stop stop-color="#65507c"/><stop offset="1" stop-color="#6a4d6e"/></linearGradient><linearGradient id="g191" gradientUnits="userSpaceOnUse" x1="125.5" y1="252.1" x2="125.0" y2="252.2"><stop stop-color="#d27a3c"/><stop offset="1" stop-color="#d58342"/></linearGradient><linearGradient id="g192" gradientUnits="userSpaceOnUse" x1="99.0" y1="250.4" x2="98.6" y2="246.2"><stop stop-color="#ffeeae"/><stop offset="1" stop-color="#fff0a4"/></linearGradient><linearGradient id="g193" gradientUnits="userSpaceOnUse" x1="129.8" y1="248.3" x2="129.4" y2="248.6"><stop stop-color="#ac5e38"/><stop offset="1" stop-color="#be6837"/></linearGradient><linearGradient id="g194" gradientUnits="userSpaceOnUse" x1="155.3" y1="244.5" x2="155.0" y2="242.0"><stop stop-color="#4b4389"/><stop offset="1" stop-color="#504479"/></linearGradient><linearGradient id="g195" gradientUnits="userSpaceOnUse" x1="129.4" y1="248.6" x2="129.0" y2="248.9"><stop stop-color="#be6837"/><stop offset="1" stop-color="#ca7038"/></linearGradient><linearGradient id="g196" gradientUnits="userSpaceOnUse" x1="129.0" y1="248.9" x2="128.5" y2="249.4"><stop stop-color="#ca7038"/><stop offset="1" stop-color="#d2763a"/></linearGradient><linearGradient id="g197" gradientUnits="userSpaceOnUse" x1="115.9" y1="253.5" x2="115.3" y2="251.8"><stop stop-color="#fbcf85"/><stop offset="1" stop-color="#ffd887"/></linearGradient><linearGradient id="g198" gradientUnits="userSpaceOnUse" x1="91.0" y1="250.6" x2="90.6" y2="245.2"><stop stop-color="#fff0b3"/><stop offset="1" stop-color="#fff3a4"/></linearGradient><linearGradient id="g199" gradientUnits="userSpaceOnUse" x1="163.5" y1="243.1" x2="163.1" y2="239.8"><stop stop-color="#413d87"/><stop offset="1" stop-color="#463f73"/></linearGradient><linearGradient id="g200" gradientUnits="userSpaceOnUse" x1="138.7" y1="245.5" x2="138.2" y2="245.0"><stop stop-color="#6a4d6e"/><stop offset="1" stop-color="#734b5c"/></linearGradient><linearGradient id="g201" gradientUnits="userSpaceOnUse" x1="116.6" y1="254.9" x2="115.9" y2="253.5"><stop stop-color="#f5c582"/><stop offset="1" stop-color="#fbcf85"/></linearGradient><linearGradient id="g202" gradientUnits="userSpaceOnUse" x1="83.0" y1="250.8" x2="82.5" y2="244.2"><stop stop-color="#fff2b4"/><stop offset="1" stop-color="#fff59c"/></linearGradient><linearGradient id="g203" gradientUnits="userSpaceOnUse" x1="147.0" y1="244.2" x2="146.5" y2="242.8"><stop stop-color="#5b4a7c"/><stop offset="1" stop-color="#61486b"/></linearGradient><linearGradient id="g204" gradientUnits="userSpaceOnUse" x1="171.6" y1="241.6" x2="171.1" y2="237.6"><stop stop-color="#3a3a84"/><stop offset="1" stop-color="#3e3b6b"/></linearGradient><linearGradient id="g205" gradientUnits="userSpaceOnUse" x1="75.1" y1="251.1" x2="74.4" y2="243.2"><stop stop-color="#fff5b2"/><stop offset="1" stop-color="#fff790"/></linearGradient><linearGradient id="g206" gradientUnits="userSpaceOnUse" x1="117.5" y1="256.1" x2="116.6" y2="254.9"><stop stop-color="#efb97b"/><stop offset="1" stop-color="#f5c582"/></linearGradient><linearGradient id="g207" gradientUnits="userSpaceOnUse" x1="99.9" y1="254.6" x2="99.0" y2="250.4"><stop stop-color="#ffe8b6"/><stop offset="1" stop-color="#ffeeae"/></linearGradient><linearGradient id="g208" gradientUnits="userSpaceOnUse" x1="138.2" y1="245.0" x2="137.5" y2="244.8"><stop stop-color="#734b5c"/><stop offset="1" stop-color="#814b4a"/></linearGradient><linearGradient id="g209" gradientUnits="userSpaceOnUse" x1="108.5" y1="256.0" x2="107.6" y2="253.2"><stop stop-color="#fddba5"/><stop offset="1" stop-color="#ffe3a2"/></linearGradient><linearGradient id="g210" gradientUnits="userSpaceOnUse" x1="179.7" y1="240.1" x2="179.1" y2="235.5"><stop stop-color="#3a3a84"/><stop offset="1" stop-color="#393a62"/></linearGradient><linearGradient id="g211" gradientUnits="userSpaceOnUse" x1="67.1" y1="251.3" x2="66.3" y2="242.2"><stop stop-color="#fff7ad"/><stop offset="1" stop-color="#fff884"/></linearGradient><linearGradient id="g212" gradientUnits="userSpaceOnUse" x1="118.6" y1="257.0" x2="117.5" y2="256.1"><stop stop-color="#e9a96e"/><stop offset="1" stop-color="#efb97b"/></linearGradient><linearGradient id="g213" gradientUnits="userSpaceOnUse" x1="155.0" y1="242.0" x2="154.3" y2="240.0"><stop stop-color="#504479"/><stop offset="1" stop-color="#584366"/></linearGradient><linearGradient id="g214" gradientUnits="userSpaceOnUse" x1="187.8" y1="238.7" x2="187.1" y2="233.3"><stop stop-color="#383b7f"/><stop offset="1" stop-color="#3a3c5d"/></linearGradient><linearGradient id="g215" gradientUnits="userSpaceOnUse" x1="137.5" y1="244.8" x2="136.6" y2="244.9"><stop stop-color="#814b4a"/><stop offset="1" stop-color="#95513c"/></linearGradient><linearGradient id="g216" gradientUnits="userSpaceOnUse" x1="92.1" y1="256.0" x2="91.0" y2="250.6"><stop stop-color="#fee7be"/><stop offset="1" stop-color="#fff0b3"/></linearGradient><linearGradient id="g217" gradientUnits="userSpaceOnUse" x1="59.1" y1="251.5" x2="58.2" y2="241.3"><stop stop-color="#fff6a8"/><stop offset="1" stop-color="#fff87b"/></linearGradient><linearGradient id="g218" gradientUnits="userSpaceOnUse" x1="119.8" y1="257.4" x2="118.6" y2="257.0"><stop stop-color="#e1965c"/><stop offset="1" stop-color="#e9a96e"/></linearGradient><linearGradient id="g219" gradientUnits="userSpaceOnUse" x1="146.5" y1="242.8" x2="145.6" y2="241.9"><stop stop-color="#61486b"/><stop offset="1" stop-color="#6b4658"/></linearGradient><linearGradient id="g220" gradientUnits="userSpaceOnUse" x1="109.7" y1="258.5" x2="108.5" y2="256.0"><stop stop-color="#f7cfa1"/><stop offset="1" stop-color="#fddba5"/></linearGradient><linearGradient id="g221" gradientUnits="userSpaceOnUse" x1="195.9" y1="237.2" x2="195.2" y2="231.1"><stop stop-color="#383c7a"/><stop offset="1" stop-color="#383d5c"/></linearGradient><linearGradient id="g222" gradientUnits="userSpaceOnUse" x1="136.6" y1="244.9" x2="135.5" y2="245.5"><stop stop-color="#95513c"/><stop offset="1" stop-color="#ab5a35"/></linearGradient><linearGradient id="g223" gradientUnits="userSpaceOnUse" x1="101.1" y1="258.5" x2="99.9" y2="254.6"><stop stop-color="#fbdeba"/><stop offset="1" stop-color="#ffe8b6"/></linearGradient><linearGradient id="g224" gradientUnits="userSpaceOnUse" x1="121.1" y1="257.4" x2="119.8" y2="257.4"><stop stop-color="#db844b"/><stop offset="1" stop-color="#e1965c"/></linearGradient><linearGradient id="g225" gradientUnits="userSpaceOnUse" x1="84.4" y1="257.4" x2="83.0" y2="250.8"><stop stop-color="#fce6c3"/><stop offset="1" stop-color="#fff2b4"/></linearGradient><linearGradient id="g226" gradientUnits="userSpaceOnUse" x1="163.1" y1="239.8" x2="162.1" y2="237.3"><stop stop-color="#463f73"/><stop offset="1" stop-color="#4e3e5e"/></linearGradient><linearGradient id="g227" gradientUnits="userSpaceOnUse" x1="122.5" y1="257.0" x2="121.1" y2="257.4"><stop stop-color="#d97b41"/><stop offset="1" stop-color="#db844b"/></linearGradient><linearGradient id="g228" gradientUnits="userSpaceOnUse" x1="135.5" y1="245.5" x2="134.4" y2="246.4"><stop stop-color="#ab5a35"/><stop offset="1" stop-color="#be6533"/></linearGradient><linearGradient id="g229" gradientUnits="userSpaceOnUse" x1="111.2" y1="260.5" x2="109.7" y2="258.5"><stop stop-color="#f1bf96"/><stop offset="1" stop-color="#f7cfa1"/></linearGradient><linearGradient id="g230" gradientUnits="userSpaceOnUse" x1="145.6" y1="241.9" x2="144.4" y2="241.5"><stop stop-color="#6b4658"/><stop offset="1" stop-color="#7b4745"/></linearGradient><linearGradient id="g231" gradientUnits="userSpaceOnUse" x1="134.4" y1="246.4" x2="133.1" y2="247.6"><stop stop-color="#be6533"/><stop offset="1" stop-color="#cc6d35"/></linearGradient><linearGradient id="g232" gradientUnits="userSpaceOnUse" x1="133.1" y1="247.6" x2="131.7" y2="249.0"><stop stop-color="#cc6d35"/><stop offset="1" stop-color="#d57338"/></linearGradient><linearGradient id="g233" gradientUnits="userSpaceOnUse" x1="154.3" y1="240.0" x2="153.1" y2="238.8"><stop stop-color="#584366"/><stop offset="1" stop-color="#644152"/></linearGradient><linearGradient id="g234" gradientUnits="userSpaceOnUse" x1="76.6" y1="258.9" x2="75.1" y2="251.1"><stop stop-color="#fbe6c9"/><stop offset="1" stop-color="#fff5b2"/></linearGradient><linearGradient id="g235" gradientUnits="userSpaceOnUse" x1="93.7" y1="261.1" x2="92.1" y2="256.0"><stop stop-color="#f6d8c0"/><stop offset="1" stop-color="#fee7be"/></linearGradient><linearGradient id="g236" gradientUnits="userSpaceOnUse" x1="102.8" y1="262.0" x2="101.1" y2="258.5"><stop stop-color="#f3cdb5"/><stop offset="1" stop-color="#fbdeba"/></linearGradient><linearGradient id="g237" gradientUnits="userSpaceOnUse" x1="171.1" y1="237.6" x2="169.9" y2="234.5"><stop stop-color="#3e3b6b"/><stop offset="1" stop-color="#453a53"/></linearGradient><linearGradient id="g238" gradientUnits="userSpaceOnUse" x1="113.0" y1="261.8" x2="111.2" y2="260.5"><stop stop-color="#efb086"/><stop offset="1" stop-color="#f1bf96"/></linearGradient><linearGradient id="g239" gradientUnits="userSpaceOnUse" x1="144.4" y1="241.5" x2="143.0" y2="241.8"><stop stop-color="#7b4745"/><stop offset="1" stop-color="#914c37"/></linearGradient><linearGradient id="g240" gradientUnits="userSpaceOnUse" x1="68.9" y1="260.3" x2="67.1" y2="251.3"><stop stop-color="#f9e1c8"/><stop offset="1" stop-color="#fff7ad"/></linearGradient><linearGradient id="g241" gradientUnits="userSpaceOnUse" x1="115.0" y1="262.5" x2="113.0" y2="261.8"><stop stop-color="#e19468"/><stop offset="1" stop-color="#efb086"/></linearGradient><linearGradient id="g242" gradientUnits="userSpaceOnUse" x1="179.1" y1="235.5" x2="177.7" y2="231.8"><stop stop-color="#393a62"/><stop offset="1" stop-color="#3f394a"/></linearGradient><linearGradient id="g243" gradientUnits="userSpaceOnUse" x1="86.4" y1="263.6" x2="84.4" y2="257.4"><stop stop-color="#f1d0c4"/><stop offset="1" stop-color="#fce6c3"/></linearGradient><linearGradient id="g244" gradientUnits="userSpaceOnUse" x1="104.9" y1="264.8" x2="102.8" y2="262.0"><stop stop-color="#e9b6a2"/><stop offset="1" stop-color="#f3cdb5"/></linearGradient><linearGradient id="g245" gradientUnits="userSpaceOnUse" x1="162.1" y1="237.3" x2="160.5" y2="235.6"><stop stop-color="#4e3e5e"/><stop offset="1" stop-color="#5c3d4a"/></linearGradient><linearGradient id="g246" gradientUnits="userSpaceOnUse" x1="143.0" y1="241.8" x2="141.2" y2="242.7"><stop stop-color="#914c37"/><stop offset="1" stop-color="#a85530"/></linearGradient><linearGradient id="g247" gradientUnits="userSpaceOnUse" x1="153.1" y1="238.8" x2="151.4" y2="238.3"><stop stop-color="#644152"/><stop offset="1" stop-color="#75423f"/></linearGradient><linearGradient id="g248" gradientUnits="userSpaceOnUse" x1="61.1" y1="261.7" x2="59.1" y2="251.5"><stop stop-color="#f6dcc4"/><stop offset="1" stop-color="#fff6a8"/></linearGradient><linearGradient id="g249" gradientUnits="userSpaceOnUse" x1="95.9" y1="265.5" x2="93.7" y2="261.1"><stop stop-color="#eac1b8"/><stop offset="1" stop-color="#f6d8c0"/></linearGradient><linearGradient id="g250" gradientUnits="userSpaceOnUse" x1="117.2" y1="262.5" x2="115.0" y2="262.5"><stop stop-color="#da8052"/><stop offset="1" stop-color="#e19468"/></linearGradient><linearGradient id="g251" gradientUnits="userSpaceOnUse" x1="187.1" y1="233.3" x2="185.5" y2="229.0"><stop stop-color="#3a3c5d"/><stop offset="1" stop-color="#3c3a45"/></linearGradient><linearGradient id="g252" gradientUnits="userSpaceOnUse" x1="119.5" y1="261.9" x2="117.2" y2="262.5"><stop stop-color="#dc7744"/><stop offset="1" stop-color="#da8052"/></linearGradient><linearGradient id="g253" gradientUnits="userSpaceOnUse" x1="141.2" y1="242.7" x2="139.3" y2="244.2"><stop stop-color="#a85530"/><stop offset="1" stop-color="#bd5f2f"/></linearGradient><linearGradient id="g254" gradientUnits="userSpaceOnUse" x1="79.0" y1="266.2" x2="76.6" y2="258.9"><stop stop-color="#ecc7c7"/><stop offset="1" stop-color="#fbe6c9"/></linearGradient><linearGradient id="g255" gradientUnits="userSpaceOnUse" x1="107.4" y1="266.7" x2="104.9" y2="264.8"><stop stop-color="#de9c88"/><stop offset="1" stop-color="#e9b6a2"/></linearGradient><linearGradient id="g256" gradientUnits="userSpaceOnUse" x1="139.3" y1="244.2" x2="137.1" y2="246.2"><stop stop-color="#bd5f2f"/><stop offset="1" stop-color="#cb6832"/></linearGradient><linearGradient id="g257" gradientUnits="userSpaceOnUse" x1="169.9" y1="234.5" x2="168.0" y2="232.5"><stop stop-color="#453a53"/><stop offset="1" stop-color="#543941"/></linearGradient><linearGradient id="g258" gradientUnits="userSpaceOnUse" x1="151.4" y1="238.3" x2="149.4" y2="238.7"><stop stop-color="#75423f"/><stop offset="1" stop-color="#8d4732"/></linearGradient><linearGradient id="g259" gradientUnits="userSpaceOnUse" x1="98.6" y1="269.1" x2="95.9" y2="265.5"><stop stop-color="#dca5a6"/><stop offset="1" stop-color="#eac1b8"/></linearGradient><linearGradient id="g260" gradientUnits="userSpaceOnUse" x1="89.0" y1="269.1" x2="86.4" y2="263.6"><stop stop-color="#e0b3ba"/><stop offset="1" stop-color="#f1d0c4"/></linearGradient><linearGradient id="g261" gradientUnits="userSpaceOnUse" x1="195.2" y1="231.1" x2="193.3" y2="226.3"><stop stop-color="#383d5c"/><stop offset="1" stop-color="#383b44"/></linearGradient><linearGradient id="g262" gradientUnits="userSpaceOnUse" x1="137.1" y1="246.2" x2="134.8" y2="248.5"><stop stop-color="#cb6832"/><stop offset="1" stop-color="#d46d35"/></linearGradient><linearGradient id="g263" gradientUnits="userSpaceOnUse" x1="110.2" y1="267.7" x2="107.4" y2="266.7"><stop stop-color="#d3846c"/><stop offset="1" stop-color="#de9c88"/></linearGradient><linearGradient id="g264" gradientUnits="userSpaceOnUse" x1="160.5" y1="235.6" x2="158.4" y2="235.0"><stop stop-color="#5c3d4a"/><stop offset="1" stop-color="#703d38"/></linearGradient><linearGradient id="g265" gradientUnits="userSpaceOnUse" x1="71.6" y1="268.7" x2="68.9" y2="260.3"><stop stop-color="#e6bcc7"/><stop offset="1" stop-color="#f9e1c8"/></linearGradient><linearGradient id="g266" gradientUnits="userSpaceOnUse" x1="149.4" y1="238.7" x2="147.0" y2="240.0"><stop stop-color="#8d4732"/><stop offset="1" stop-color="#a54f2c"/></linearGradient><linearGradient id="g267" gradientUnits="userSpaceOnUse" x1="113.3" y1="267.7" x2="110.2" y2="267.7"><stop stop-color="#cd7357"/><stop offset="1" stop-color="#d3846c"/></linearGradient><linearGradient id="g268" gradientUnits="userSpaceOnUse" x1="177.7" y1="231.8" x2="175.4" y2="229.4"><stop stop-color="#3f394a"/><stop offset="1" stop-color="#4e383a"/></linearGradient><linearGradient id="g269" gradientUnits="userSpaceOnUse" x1="101.8" y1="271.6" x2="98.6" y2="269.1"><stop stop-color="#cd898d"/><stop offset="1" stop-color="#dca5a6"/></linearGradient><linearGradient id="g270" gradientUnits="userSpaceOnUse" x1="82.1" y1="272.6" x2="79.0" y2="266.2"><stop stop-color="#d6a4ba"/><stop offset="1" stop-color="#ecc7c7"/></linearGradient><linearGradient id="g271" gradientUnits="userSpaceOnUse" x1="64.2" y1="271.3" x2="61.1" y2="261.7"><stop stop-color="#dfb4c3"/><stop offset="1" stop-color="#f6dcc4"/></linearGradient><linearGradient id="g272" gradientUnits="userSpaceOnUse" x1="92.3" y1="273.4" x2="89.0" y2="269.1"><stop stop-color="#cd93a7"/><stop offset="1" stop-color="#e0b3ba"/></linearGradient><linearGradient id="g273" gradientUnits="userSpaceOnUse" x1="116.5" y1="266.7" x2="113.3" y2="267.7"><stop stop-color="#cc6a48"/><stop offset="1" stop-color="#cd7357"/></linearGradient><linearGradient id="g274" gradientUnits="userSpaceOnUse" x1="147.0" y1="240.0" x2="144.2" y2="242.0"><stop stop-color="#a54f2c"/><stop offset="1" stop-color="#bb592c"/></linearGradient><linearGradient id="g275" gradientUnits="userSpaceOnUse" x1="158.4" y1="235.0" x2="155.8" y2="235.6"><stop stop-color="#703d38"/><stop offset="1" stop-color="#89422d"/></linearGradient><linearGradient id="g276" gradientUnits="userSpaceOnUse" x1="168.0" y1="232.5" x2="165.4" y2="231.8"><stop stop-color="#543941"/><stop offset="1" stop-color="#6a3a32"/></linearGradient><linearGradient id="g277" gradientUnits="userSpaceOnUse" x1="105.4" y1="272.9" x2="101.8" y2="271.6"><stop stop-color="#c17271"/><stop offset="1" stop-color="#cd898d"/></linearGradient><linearGradient id="g278" gradientUnits="userSpaceOnUse" x1="185.5" y1="229.0" x2="182.9" y2="226.3"><stop stop-color="#3c3a45"/><stop offset="1" stop-color="#473835"/></linearGradient><linearGradient id="g279" gradientUnits="userSpaceOnUse" x1="120.0" y1="264.9" x2="116.5" y2="266.7"><stop stop-color="#ce6640"/><stop offset="1" stop-color="#cc6a48"/></linearGradient><linearGradient id="g280" gradientUnits="userSpaceOnUse" x1="144.2" y1="242.0" x2="141.2" y2="244.8"><stop stop-color="#bb592c"/><stop offset="1" stop-color="#c9612f"/></linearGradient><linearGradient id="g281" gradientUnits="userSpaceOnUse" x1="75.2" y1="276.1" x2="71.6" y2="268.7"><stop stop-color="#ca95b9"/><stop offset="1" stop-color="#e6bcc7"/></linearGradient><linearGradient id="g282" gradientUnits="userSpaceOnUse" x1="141.2" y1="244.8" x2="137.9" y2="248.1"><stop stop-color="#c9612f"/><stop offset="1" stop-color="#d26533"/></linearGradient><linearGradient id="g283" gradientUnits="userSpaceOnUse" x1="96.2" y1="276.5" x2="92.3" y2="273.4"><stop stop-color="#bb768e"/><stop offset="1" stop-color="#cd93a7"/></linearGradient><linearGradient id="g284" gradientUnits="userSpaceOnUse" x1="86.0" y1="277.8" x2="82.1" y2="272.6"><stop stop-color="#be80a5"/><stop offset="1" stop-color="#d6a4ba"/></linearGradient><linearGradient id="g285" gradientUnits="userSpaceOnUse" x1="155.8" y1="235.6" x2="152.7" y2="237.2"><stop stop-color="#89422d"/><stop offset="1" stop-color="#a44a29"/></linearGradient><linearGradient id="g286" gradientUnits="userSpaceOnUse" x1="109.3" y1="272.9" x2="105.4" y2="272.9"><stop stop-color="#ba635b"/><stop offset="1" stop-color="#c17271"/></linearGradient><linearGradient id="g287" gradientUnits="userSpaceOnUse" x1="193.3" y1="226.3" x2="190.4" y2="223.2"><stop stop-color="#383b44"/><stop offset="1" stop-color="#433833"/></linearGradient><linearGradient id="g288" gradientUnits="userSpaceOnUse" x1="175.4" y1="229.4" x2="172.4" y2="228.6"><stop stop-color="#4e383a"/><stop offset="1" stop-color="#66382d"/></linearGradient><linearGradient id="g289" gradientUnits="userSpaceOnUse" x1="68.3" y1="279.7" x2="64.2" y2="271.3"><stop stop-color="#c187b5"/><stop offset="1" stop-color="#dfb4c3"/></linearGradient><linearGradient id="g290" gradientUnits="userSpaceOnUse" x1="165.4" y1="231.8" x2="162.2" y2="232.4"><stop stop-color="#6a3a32"/><stop offset="1" stop-color="#863e29"/></linearGradient><linearGradient id="g291" gradientUnits="userSpaceOnUse" x1="113.6" y1="271.6" x2="109.3" y2="272.9"><stop stop-color="#ba5c4b"/><stop offset="1" stop-color="#ba635b"/></linearGradient><linearGradient id="g292" gradientUnits="userSpaceOnUse" x1="152.7" y1="237.2" x2="149.1" y2="239.9"><stop stop-color="#a44a29"/><stop offset="1" stop-color="#ba5329"/></linearGradient><linearGradient id="g293" gradientUnits="userSpaceOnUse" x1="100.6" y1="278.0" x2="96.2" y2="276.5"><stop stop-color="#ae6074"/><stop offset="1" stop-color="#bb768e"/></linearGradient><linearGradient id="g294" gradientUnits="userSpaceOnUse" x1="79.7" y1="282.1" x2="75.2" y2="276.1"><stop stop-color="#b06aa1"/><stop offset="1" stop-color="#ca95b9"/></linearGradient><linearGradient id="g295" gradientUnits="userSpaceOnUse" x1="90.6" y1="281.4" x2="86.0" y2="277.8"><stop stop-color="#aa628d"/><stop offset="1" stop-color="#be80a5"/></linearGradient><linearGradient id="g296" gradientUnits="userSpaceOnUse" x1="118.0" y1="269.2" x2="113.6" y2="271.6"><stop stop-color="#bf5a40"/><stop offset="1" stop-color="#ba5c4b"/></linearGradient><linearGradient id="g297" gradientUnits="userSpaceOnUse" x1="182.9" y1="226.3" x2="179.4" y2="225.3"><stop stop-color="#473835"/><stop offset="1" stop-color="#623729"/></linearGradient><linearGradient id="g298" gradientUnits="userSpaceOnUse" x1="149.1" y1="239.9" x2="145.2" y2="243.4"><stop stop-color="#ba5329"/><stop offset="1" stop-color="#c85b2d"/></linearGradient><linearGradient id="g299" gradientUnits="userSpaceOnUse" x1="162.2" y1="232.4" x2="158.4" y2="234.4"><stop stop-color="#863e29"/><stop offset="1" stop-color="#a34526"/></linearGradient><linearGradient id="g300" gradientUnits="userSpaceOnUse" x1="105.4" y1="278.0" x2="100.6" y2="278.0"><stop stop-color="#a7535e"/><stop offset="1" stop-color="#ae6074"/></linearGradient><linearGradient id="g301" gradientUnits="userSpaceOnUse" x1="122.6" y1="265.9" x2="118.0" y2="269.2"><stop stop-color="#c65838"/><stop offset="1" stop-color="#bf5a40"/></linearGradient><linearGradient id="g302" gradientUnits="userSpaceOnUse" x1="172.4" y1="228.6" x2="168.6" y2="229.3"><stop stop-color="#66382d"/><stop offset="1" stop-color="#843b26"/></linearGradient><linearGradient id="g303" gradientUnits="userSpaceOnUse" x1="145.2" y1="243.4" x2="141.0" y2="247.7"><stop stop-color="#c85b2d"/><stop offset="1" stop-color="#d05e30"/></linearGradient><linearGradient id="g304" gradientUnits="userSpaceOnUse" x1="73.5" y1="286.4" x2="68.3" y2="279.7"><stop stop-color="#a3569c"/><stop offset="1" stop-color="#c187b5"/></linearGradient><linearGradient id="g305" gradientUnits="userSpaceOnUse" x1="95.8" y1="283.2" x2="90.6" y2="281.4"><stop stop-color="#9c4e76"/><stop offset="1" stop-color="#aa628d"/></linearGradient><linearGradient id="g306" gradientUnits="userSpaceOnUse" x1="85.0" y1="286.2" x2="79.7" y2="282.1"><stop stop-color="#9a4d8a"/><stop offset="1" stop-color="#b06aa1"/></linearGradient><linearGradient id="g307" gradientUnits="userSpaceOnUse" x1="110.6" y1="276.5" x2="105.4" y2="278.0"><stop stop-color="#aa504d"/><stop offset="1" stop-color="#a7535e"/></linearGradient><linearGradient id="g308" gradientUnits="userSpaceOnUse" x1="190.4" y1="223.2" x2="186.4" y2="222.1"><stop stop-color="#433833"/><stop offset="1" stop-color="#613827"/></linearGradient><linearGradient id="g309" gradientUnits="userSpaceOnUse" x1="158.4" y1="234.4" x2="154.1" y2="237.7"><stop stop-color="#a34526"/><stop offset="1" stop-color="#bb4e28"/></linearGradient><linearGradient id="g310" gradientUnits="userSpaceOnUse" x1="116.0" y1="273.6" x2="110.6" y2="276.5"><stop stop-color="#b45240"/><stop offset="1" stop-color="#aa504d"/></linearGradient><linearGradient id="g311" gradientUnits="userSpaceOnUse" x1="168.6" y1="229.3" x2="164.1" y2="231.7"><stop stop-color="#843b26"/><stop offset="1" stop-color="#a44125"/></linearGradient><linearGradient id="g312" gradientUnits="userSpaceOnUse" x1="179.4" y1="225.3" x2="175.0" y2="226.2"><stop stop-color="#623729"/><stop offset="1" stop-color="#833a23"/></linearGradient><linearGradient id="g313" gradientUnits="userSpaceOnUse" x1="101.5" y1="283.2" x2="95.8" y2="283.2"><stop stop-color="#964362"/><stop offset="1" stop-color="#9c4e76"/></linearGradient><linearGradient id="g314" gradientUnits="userSpaceOnUse" x1="154.1" y1="237.7" x2="149.3" y2="242.0"><stop stop-color="#bb4e28"/><stop offset="1" stop-color="#c9562c"/></linearGradient><linearGradient id="g315" gradientUnits="userSpaceOnUse" x1="121.7" y1="269.5" x2="116.0" y2="273.6"><stop stop-color="#be4f33"/><stop offset="1" stop-color="#b45240"/></linearGradient><linearGradient id="g316" gradientUnits="userSpaceOnUse" x1="79.4" y1="291.1" x2="73.5" y2="286.4"><stop stop-color="#8e3d89"/><stop offset="1" stop-color="#a3569c"/></linearGradient><linearGradient id="g317" gradientUnits="userSpaceOnUse" x1="91.0" y1="288.4" x2="85.0" y2="286.2"><stop stop-color="#8e3c77"/><stop offset="1" stop-color="#9a4d8a"/></linearGradient><linearGradient id="g318" gradientUnits="userSpaceOnUse" x1="127.4" y1="264.4" x2="121.7" y2="269.5"><stop stop-color="#c34b2a"/><stop offset="1" stop-color="#be4f33"/></linearGradient><linearGradient id="g319" gradientUnits="userSpaceOnUse" x1="107.6" y1="281.4" x2="101.5" y2="283.2"><stop stop-color="#97414e"/><stop offset="1" stop-color="#964362"/></linearGradient><linearGradient id="g320" gradientUnits="userSpaceOnUse" x1="133.1" y1="258.8" x2="127.4" y2="264.4"><stop stop-color="#cd502e"/><stop offset="1" stop-color="#c34b2a"/></linearGradient><linearGradient id="g321" gradientUnits="userSpaceOnUse" x1="164.1" y1="231.7" x2="159.0" y2="235.5"><stop stop-color="#a44125"/><stop offset="1" stop-color="#be4927"/></linearGradient><linearGradient id="g322" gradientUnits="userSpaceOnUse" x1="186.4" y1="222.1" x2="181.4" y2="223.0"><stop stop-color="#613827"/><stop offset="1" stop-color="#823a21"/></linearGradient><linearGradient id="g323" gradientUnits="userSpaceOnUse" x1="175.0" y1="226.2" x2="169.8" y2="228.9"><stop stop-color="#833a23"/><stop offset="1" stop-color="#a43f25"/></linearGradient><linearGradient id="g324" gradientUnits="userSpaceOnUse" x1="97.6" y1="288.4" x2="91.0" y2="288.4"><stop stop-color="#8d356a"/><stop offset="1" stop-color="#8e3c77"/></linearGradient><linearGradient id="g325" gradientUnits="userSpaceOnUse" x1="114.1" y1="277.9" x2="107.6" y2="281.4"><stop stop-color="#af4a3b"/><stop offset="1" stop-color="#97414e"/></linearGradient><linearGradient id="g326" gradientUnits="userSpaceOnUse" x1="86.2" y1="293.5" x2="79.4" y2="291.1"><stop stop-color="#802d78"/><stop offset="1" stop-color="#8e3d89"/></linearGradient><linearGradient id="g327" gradientUnits="userSpaceOnUse" x1="159.0" y1="235.5" x2="153.4" y2="240.7"><stop stop-color="#be4927"/><stop offset="1" stop-color="#cc522b"/></linearGradient><linearGradient id="g328" gradientUnits="userSpaceOnUse" x1="120.7" y1="273.1" x2="114.1" y2="277.9"><stop stop-color="#bf4b2d"/><stop offset="1" stop-color="#af4a3b"/></linearGradient><linearGradient id="g329" gradientUnits="userSpaceOnUse" x1="104.6" y1="286.3" x2="97.6" y2="288.4"><stop stop-color="#833054"/><stop offset="1" stop-color="#8d356a"/></linearGradient><linearGradient id="g330" gradientUnits="userSpaceOnUse" x1="169.8" y1="228.9" x2="163.9" y2="233.3"><stop stop-color="#a43f25"/><stop offset="1" stop-color="#bf4528"/></linearGradient><linearGradient id="g331" gradientUnits="userSpaceOnUse" x1="127.5" y1="267.1" x2="120.7" y2="273.1"><stop stop-color="#c74828"/><stop offset="1" stop-color="#bf4b2d"/></linearGradient><linearGradient id="g332" gradientUnits="userSpaceOnUse" x1="181.4" y1="223.0" x2="175.5" y2="226.1"><stop stop-color="#823a21"/><stop offset="1" stop-color="#a23f23"/></linearGradient><linearGradient id="g333" gradientUnits="userSpaceOnUse" x1="93.7" y1="293.5" x2="86.2" y2="293.5"><stop stop-color="#88296f"/><stop offset="1" stop-color="#802d78"/></linearGradient><linearGradient id="g334" gradientUnits="userSpaceOnUse" x1="112.1" y1="282.3" x2="104.6" y2="286.3"><stop stop-color="#a63b38"/><stop offset="1" stop-color="#833054"/></linearGradient><linearGradient id="g335" gradientUnits="userSpaceOnUse" x1="163.9" y1="233.3" x2="157.4" y2="239.3"><stop stop-color="#bf4528"/><stop offset="1" stop-color="#cd4f2b"/></linearGradient><linearGradient id="g336" gradientUnits="userSpaceOnUse" x1="119.8" y1="276.7" x2="112.1" y2="282.3"><stop stop-color="#be432a"/><stop offset="1" stop-color="#a63b38"/></linearGradient><linearGradient id="g337" gradientUnits="userSpaceOnUse" x1="101.7" y1="291.2" x2="93.7" y2="293.5"><stop stop-color="#88265b"/><stop offset="1" stop-color="#88296f"/></linearGradient><linearGradient id="g338" gradientUnits="userSpaceOnUse" x1="175.5" y1="226.1" x2="168.8" y2="231.2"><stop stop-color="#a23f23"/><stop offset="1" stop-color="#bc4526"/></linearGradient><linearGradient id="g339" gradientUnits="userSpaceOnUse" x1="157.4" y1="239.3" x2="150.4" y2="246.4"><stop stop-color="#cd4f2b"/><stop offset="1" stop-color="#d0562f"/></linearGradient><linearGradient id="g340" gradientUnits="userSpaceOnUse" x1="127.6" y1="269.8" x2="119.8" y2="276.7"><stop stop-color="#c64327"/><stop offset="1" stop-color="#be432a"/></linearGradient><linearGradient id="g341" gradientUnits="userSpaceOnUse" x1="150.4" y1="246.4" x2="143.0" y2="254.1"><stop stop-color="#d0562f"/><stop offset="1" stop-color="#cf4e29"/></linearGradient><linearGradient id="g342" gradientUnits="userSpaceOnUse" x1="143.0" y1="254.1" x2="135.4" y2="262.1"><stop stop-color="#cf4e29"/><stop offset="1" stop-color="#cb4726"/></linearGradient><linearGradient id="g343" gradientUnits="userSpaceOnUse" x1="110.1" y1="286.6" x2="101.7" y2="291.2"><stop stop-color="#9a2d43"/><stop offset="1" stop-color="#88265b"/></linearGradient><linearGradient id="g344" gradientUnits="userSpaceOnUse" x1="168.8" y1="231.2" x2="161.5" y2="237.9"><stop stop-color="#bc4526"/><stop offset="1" stop-color="#ca4c2a"/></linearGradient><linearGradient id="g345" gradientUnits="userSpaceOnUse" x1="118.8" y1="280.3" x2="110.1" y2="286.6"><stop stop-color="#b23632"/><stop offset="1" stop-color="#9a2d43"/></linearGradient><linearGradient id="g346" gradientUnits="userSpaceOnUse" x1="127.6" y1="272.5" x2="118.8" y2="280.3"><stop stop-color="#bf3c2a"/><stop offset="1" stop-color="#b23632"/></linearGradient><linearGradient id="g347" gradientUnits="userSpaceOnUse" x1="136.5" y1="263.8" x2="127.6" y2="272.5"><stop stop-color="#c74024"/><stop offset="1" stop-color="#bf3c2a"/></linearGradient><linearGradient id="g348" gradientUnits="userSpaceOnUse" x1="145.2" y1="254.7" x2="136.5" y2="263.8"><stop stop-color="#cd4926"/><stop offset="1" stop-color="#c74024"/></linearGradient><linearGradient id="g349" gradientUnits="userSpaceOnUse" x1="418.6" y1="261.5" x2="427.3" y2="269.5"><stop stop-color="#4079cf"/><stop offset="1" stop-color="#396cd1"/></linearGradient><linearGradient id="g350" gradientUnits="userSpaceOnUse" x1="427.3" y1="269.5" x2="435.9" y2="276.1"><stop stop-color="#396cd1"/><stop offset="1" stop-color="#355ecd"/></linearGradient><linearGradient id="g351" gradientUnits="userSpaceOnUse" x1="409.8" y1="252.6" x2="418.6" y2="261.5"><stop stop-color="#4887c6"/><stop offset="1" stop-color="#4079cf"/></linearGradient><linearGradient id="g352" gradientUnits="userSpaceOnUse" x1="435.9" y1="276.1" x2="444.1" y2="281.0"><stop stop-color="#355ecd"/><stop offset="1" stop-color="#334fc4"/></linearGradient><linearGradient id="g353" gradientUnits="userSpaceOnUse" x1="401.1" y1="243.6" x2="409.8" y2="252.6"><stop stop-color="#5393b9"/><stop offset="1" stop-color="#4887c6"/></linearGradient><linearGradient id="g354" gradientUnits="userSpaceOnUse" x1="444.1" y1="281.0" x2="451.8" y2="283.8"><stop stop-color="#334fc4"/><stop offset="1" stop-color="#3040b6"/></linearGradient><linearGradient id="g355" gradientUnits="userSpaceOnUse" x1="392.6" y1="234.8" x2="401.1" y2="243.6"><stop stop-color="#609ea7"/><stop offset="1" stop-color="#5393b9"/></linearGradient><linearGradient id="g356" gradientUnits="userSpaceOnUse" x1="418.2" y1="262.9" x2="425.9" y2="270.8"><stop stop-color="#4179d3"/><stop offset="1" stop-color="#3c6cd5"/></linearGradient><linearGradient id="g357" gradientUnits="userSpaceOnUse" x1="425.9" y1="270.8" x2="433.4" y2="277.4"><stop stop-color="#3c6cd5"/><stop offset="1" stop-color="#395fd1"/></linearGradient><linearGradient id="g358" gradientUnits="userSpaceOnUse" x1="410.4" y1="254.1" x2="418.2" y2="262.9"><stop stop-color="#4a86ca"/><stop offset="1" stop-color="#4179d3"/></linearGradient><linearGradient id="g359" gradientUnits="userSpaceOnUse" x1="433.4" y1="277.4" x2="440.6" y2="282.3"><stop stop-color="#395fd1"/><stop offset="1" stop-color="#3751c7"/></linearGradient><linearGradient id="g360" gradientUnits="userSpaceOnUse" x1="451.8" y1="283.8" x2="458.9" y2="284.4"><stop stop-color="#3040b6"/><stop offset="1" stop-color="#2c33aa"/></linearGradient><linearGradient id="g361" gradientUnits="userSpaceOnUse" x1="384.5" y1="227.0" x2="392.6" y2="234.8"><stop stop-color="#6fa792"/><stop offset="1" stop-color="#609ea7"/></linearGradient><linearGradient id="g362" gradientUnits="userSpaceOnUse" x1="402.7" y1="245.0" x2="410.4" y2="254.1"><stop stop-color="#5491bd"/><stop offset="1" stop-color="#4a86ca"/></linearGradient><linearGradient id="g363" gradientUnits="userSpaceOnUse" x1="440.6" y1="282.3" x2="447.5" y2="285.0"><stop stop-color="#3751c7"/><stop offset="1" stop-color="#3542b9"/></linearGradient><linearGradient id="g364" gradientUnits="userSpaceOnUse" x1="395.3" y1="236.2" x2="402.7" y2="245.0"><stop stop-color="#5f9bab"/><stop offset="1" stop-color="#5491bd"/></linearGradient><linearGradient id="g365" gradientUnits="userSpaceOnUse" x1="458.9" y1="284.4" x2="465.4" y2="282.9"><stop stop-color="#2c33aa"/><stop offset="1" stop-color="#2829a0"/></linearGradient><linearGradient id="g366" gradientUnits="userSpaceOnUse" x1="424.4" y1="272.2" x2="430.9" y2="278.8"><stop stop-color="#3e6cda"/><stop offset="1" stop-color="#3c5fd5"/></linearGradient><linearGradient id="g367" gradientUnits="userSpaceOnUse" x1="417.7" y1="264.3" x2="424.4" y2="272.2"><stop stop-color="#4378d7"/><stop offset="1" stop-color="#3e6cda"/></linearGradient><linearGradient id="g368" gradientUnits="userSpaceOnUse" x1="376.9" y1="220.7" x2="384.5" y2="227.0"><stop stop-color="#81ae7c"/><stop offset="1" stop-color="#6fa792"/></linearGradient><linearGradient id="g369" gradientUnits="userSpaceOnUse" x1="447.5" y1="285.0" x2="453.7" y2="285.5"><stop stop-color="#3542b9"/><stop offset="1" stop-color="#3034ac"/></linearGradient><linearGradient id="g370" gradientUnits="userSpaceOnUse" x1="411.0" y1="255.5" x2="417.7" y2="264.3"><stop stop-color="#4a84cf"/><stop offset="1" stop-color="#4378d7"/></linearGradient><linearGradient id="g371" gradientUnits="userSpaceOnUse" x1="430.9" y1="278.8" x2="437.2" y2="283.5"><stop stop-color="#3c5fd5"/><stop offset="1" stop-color="#3b52ca"/></linearGradient><linearGradient id="g372" gradientUnits="userSpaceOnUse" x1="388.1" y1="228.3" x2="395.3" y2="236.2"><stop stop-color="#6da396"/><stop offset="1" stop-color="#5f9bab"/></linearGradient><linearGradient id="g373" gradientUnits="userSpaceOnUse" x1="404.4" y1="246.3" x2="411.0" y2="255.5"><stop stop-color="#548fc1"/><stop offset="1" stop-color="#4a84cf"/></linearGradient><linearGradient id="g374" gradientUnits="userSpaceOnUse" x1="437.2" y1="283.5" x2="443.1" y2="286.2"><stop stop-color="#3b52ca"/><stop offset="1" stop-color="#3944bb"/></linearGradient><linearGradient id="g375" gradientUnits="userSpaceOnUse" x1="453.7" y1="285.5" x2="459.4" y2="283.8"><stop stop-color="#3034ac"/><stop offset="1" stop-color="#2b2ba5"/></linearGradient><linearGradient id="g376" gradientUnits="userSpaceOnUse" x1="397.9" y1="237.5" x2="404.4" y2="246.3"><stop stop-color="#5e98b0"/><stop offset="1" stop-color="#548fc1"/></linearGradient><linearGradient id="g377" gradientUnits="userSpaceOnUse" x1="369.9" y1="216.3" x2="376.9" y2="220.7"><stop stop-color="#96b564"/><stop offset="1" stop-color="#81ae7c"/></linearGradient><linearGradient id="g378" gradientUnits="userSpaceOnUse" x1="443.1" y1="286.2" x2="448.6" y2="286.6"><stop stop-color="#3944bb"/><stop offset="1" stop-color="#3436af"/></linearGradient><linearGradient id="g379" gradientUnits="userSpaceOnUse" x1="381.4" y1="221.9" x2="388.1" y2="228.3"><stop stop-color="#7daa7f"/><stop offset="1" stop-color="#6da396"/></linearGradient><linearGradient id="g380" gradientUnits="userSpaceOnUse" x1="422.9" y1="273.6" x2="428.5" y2="280.1"><stop stop-color="#406cdf"/><stop offset="1" stop-color="#3f60da"/></linearGradient><linearGradient id="g381" gradientUnits="userSpaceOnUse" x1="417.3" y1="265.7" x2="422.9" y2="273.6"><stop stop-color="#4577dc"/><stop offset="1" stop-color="#406cdf"/></linearGradient><linearGradient id="g382" gradientUnits="userSpaceOnUse" x1="428.5" y1="280.1" x2="433.8" y2="284.8"><stop stop-color="#3f60da"/><stop offset="1" stop-color="#3f54ce"/></linearGradient><linearGradient id="g383" gradientUnits="userSpaceOnUse" x1="411.6" y1="256.9" x2="417.3" y2="265.7"><stop stop-color="#4b83d4"/><stop offset="1" stop-color="#4577dc"/></linearGradient><linearGradient id="g384" gradientUnits="userSpaceOnUse" x1="391.7" y1="229.6" x2="397.9" y2="237.5"><stop stop-color="#6ba09b"/><stop offset="1" stop-color="#5e98b0"/></linearGradient><linearGradient id="g385" gradientUnits="userSpaceOnUse" x1="433.8" y1="284.8" x2="438.8" y2="287.4"><stop stop-color="#3f54ce"/><stop offset="1" stop-color="#3e45bd"/></linearGradient><linearGradient id="g386" gradientUnits="userSpaceOnUse" x1="406.0" y1="247.7" x2="411.6" y2="256.9"><stop stop-color="#548dc6"/><stop offset="1" stop-color="#4b83d4"/></linearGradient><linearGradient id="g387" gradientUnits="userSpaceOnUse" x1="448.6" y1="286.6" x2="453.5" y2="284.8"><stop stop-color="#3436af"/><stop offset="1" stop-color="#2f2eab"/></linearGradient><linearGradient id="g388" gradientUnits="userSpaceOnUse" x1="375.2" y1="217.4" x2="381.4" y2="221.9"><stop stop-color="#92b066"/><stop offset="1" stop-color="#7daa7f"/></linearGradient><linearGradient id="g389" gradientUnits="userSpaceOnUse" x1="363.6" y1="214.2" x2="369.9" y2="216.3"><stop stop-color="#b0bc4d"/><stop offset="1" stop-color="#96b564"/></linearGradient><linearGradient id="g390" gradientUnits="userSpaceOnUse" x1="438.8" y1="287.4" x2="443.4" y2="287.7"><stop stop-color="#3e45bd"/><stop offset="1" stop-color="#3738b3"/></linearGradient><linearGradient id="g391" gradientUnits="userSpaceOnUse" x1="400.5" y1="238.9" x2="406.0" y2="247.7"><stop stop-color="#5d96b5"/><stop offset="1" stop-color="#548dc6"/></linearGradient><linearGradient id="g392" gradientUnits="userSpaceOnUse" x1="385.9" y1="223.1" x2="391.7" y2="229.6"><stop stop-color="#7aa683"/><stop offset="1" stop-color="#6ba09b"/></linearGradient><linearGradient id="g393" gradientUnits="userSpaceOnUse" x1="421.5" y1="275.0" x2="426.0" y2="281.5"><stop stop-color="#426be3"/><stop offset="1" stop-color="#4160df"/></linearGradient><linearGradient id="g394" gradientUnits="userSpaceOnUse" x1="416.9" y1="267.1" x2="421.5" y2="275.0"><stop stop-color="#4676e1"/><stop offset="1" stop-color="#426be3"/></linearGradient><linearGradient id="g395" gradientUnits="userSpaceOnUse" x1="426.0" y1="281.5" x2="430.3" y2="286.1"><stop stop-color="#4160df"/><stop offset="1" stop-color="#4355d1"/></linearGradient><linearGradient id="g396" gradientUnits="userSpaceOnUse" x1="412.2" y1="258.3" x2="416.9" y2="267.1"><stop stop-color="#4c81d9"/><stop offset="1" stop-color="#4676e1"/></linearGradient><linearGradient id="g397" gradientUnits="userSpaceOnUse" x1="395.3" y1="230.9" x2="400.5" y2="238.9"><stop stop-color="#689ca0"/><stop offset="1" stop-color="#5d96b5"/></linearGradient><linearGradient id="g398" gradientUnits="userSpaceOnUse" x1="430.3" y1="286.1" x2="434.4" y2="288.5"><stop stop-color="#4355d1"/><stop offset="1" stop-color="#4347bf"/></linearGradient><linearGradient id="g399" gradientUnits="userSpaceOnUse" x1="369.7" y1="215.1" x2="375.2" y2="217.4"><stop stop-color="#acb64d"/><stop offset="1" stop-color="#92b066"/></linearGradient><linearGradient id="g400" gradientUnits="userSpaceOnUse" x1="380.5" y1="218.5" x2="385.9" y2="223.1"><stop stop-color="#8daa6a"/><stop offset="1" stop-color="#7aa683"/></linearGradient><linearGradient id="g401" gradientUnits="userSpaceOnUse" x1="407.6" y1="249.1" x2="412.2" y2="258.3"><stop stop-color="#538bcb"/><stop offset="1" stop-color="#4c81d9"/></linearGradient><linearGradient id="g402" gradientUnits="userSpaceOnUse" x1="358.2" y1="214.5" x2="363.6" y2="214.2"><stop stop-color="#ccc43b"/><stop offset="1" stop-color="#b0bc4d"/></linearGradient><linearGradient id="g403" gradientUnits="userSpaceOnUse" x1="434.4" y1="288.5" x2="438.2" y2="288.7"><stop stop-color="#4347bf"/><stop offset="1" stop-color="#3b39b7"/></linearGradient><linearGradient id="g404" gradientUnits="userSpaceOnUse" x1="390.4" y1="224.3" x2="395.3" y2="230.9"><stop stop-color="#75a189"/><stop offset="1" stop-color="#689ca0"/></linearGradient><linearGradient id="g405" gradientUnits="userSpaceOnUse" x1="403.2" y1="240.2" x2="407.6" y2="249.1"><stop stop-color="#5c92ba"/><stop offset="1" stop-color="#538bcb"/></linearGradient><linearGradient id="g406" gradientUnits="userSpaceOnUse" x1="420.0" y1="276.4" x2="423.5" y2="282.8"><stop stop-color="#4369e8"/><stop offset="1" stop-color="#435fe4"/></linearGradient><linearGradient id="g407" gradientUnits="userSpaceOnUse" x1="423.5" y1="282.8" x2="426.9" y2="287.3"><stop stop-color="#435fe4"/><stop offset="1" stop-color="#4655d6"/></linearGradient><linearGradient id="g408" gradientUnits="userSpaceOnUse" x1="416.4" y1="268.5" x2="420.0" y2="276.4"><stop stop-color="#4774e5"/><stop offset="1" stop-color="#4369e8"/></linearGradient><linearGradient id="g409" gradientUnits="userSpaceOnUse" x1="375.8" y1="216.1" x2="380.5" y2="218.5"><stop stop-color="#a8b04f"/><stop offset="1" stop-color="#8daa6a"/></linearGradient><linearGradient id="g410" gradientUnits="userSpaceOnUse" x1="364.9" y1="215.3" x2="369.7" y2="215.1"><stop stop-color="#cbbe3a"/><stop offset="1" stop-color="#acb64d"/></linearGradient><linearGradient id="g411" gradientUnits="userSpaceOnUse" x1="426.9" y1="287.3" x2="430.1" y2="289.7"><stop stop-color="#4655d6"/><stop offset="1" stop-color="#4848c0"/></linearGradient><linearGradient id="g412" gradientUnits="userSpaceOnUse" x1="398.9" y1="232.1" x2="403.2" y2="240.2"><stop stop-color="#6598a6"/><stop offset="1" stop-color="#5c92ba"/></linearGradient><linearGradient id="g413" gradientUnits="userSpaceOnUse" x1="412.8" y1="259.7" x2="416.4" y2="268.5"><stop stop-color="#4c7fdd"/><stop offset="1" stop-color="#4774e5"/></linearGradient><linearGradient id="g414" gradientUnits="userSpaceOnUse" x1="385.9" y1="219.6" x2="390.4" y2="224.3"><stop stop-color="#88a56e"/><stop offset="1" stop-color="#75a189"/></linearGradient><linearGradient id="g415" gradientUnits="userSpaceOnUse" x1="430.1" y1="289.7" x2="433.0" y2="289.8"><stop stop-color="#4848c0"/><stop offset="1" stop-color="#3e3bbb"/></linearGradient><linearGradient id="g416" gradientUnits="userSpaceOnUse" x1="353.7" y1="217.3" x2="358.2" y2="214.5"><stop stop-color="#e6cc35"/><stop offset="1" stop-color="#ccc43b"/></linearGradient><linearGradient id="g417" gradientUnits="userSpaceOnUse" x1="409.3" y1="250.5" x2="412.8" y2="259.7"><stop stop-color="#5388d0"/><stop offset="1" stop-color="#4c7fdd"/></linearGradient><linearGradient id="g418" gradientUnits="userSpaceOnUse" x1="394.9" y1="225.5" x2="398.9" y2="232.1"><stop stop-color="#719c8f"/><stop offset="1" stop-color="#6598a6"/></linearGradient><linearGradient id="g419" gradientUnits="userSpaceOnUse" x1="405.8" y1="241.6" x2="409.3" y2="250.5"><stop stop-color="#5a8fbf"/><stop offset="1" stop-color="#5388d0"/></linearGradient><linearGradient id="g420" gradientUnits="userSpaceOnUse" x1="371.6" y1="216.1" x2="375.8" y2="216.1"><stop stop-color="#cab839"/><stop offset="1" stop-color="#a8b04f"/></linearGradient><linearGradient id="g421" gradientUnits="userSpaceOnUse" x1="381.8" y1="217.0" x2="385.9" y2="219.6"><stop stop-color="#a4aa51"/><stop offset="1" stop-color="#88a56e"/></linearGradient><linearGradient id="g422" gradientUnits="userSpaceOnUse" x1="360.9" y1="217.9" x2="364.9" y2="215.3"><stop stop-color="#e6c733"/><stop offset="1" stop-color="#cbbe3a"/></linearGradient><linearGradient id="g423" gradientUnits="userSpaceOnUse" x1="421.0" y1="284.1" x2="423.4" y2="288.6"><stop stop-color="#445de9"/><stop offset="1" stop-color="#4854dc"/></linearGradient><linearGradient id="g424" gradientUnits="userSpaceOnUse" x1="418.5" y1="277.8" x2="421.0" y2="284.1"><stop stop-color="#4467ed"/><stop offset="1" stop-color="#445de9"/></linearGradient><linearGradient id="g425" gradientUnits="userSpaceOnUse" x1="423.4" y1="288.6" x2="425.7" y2="290.9"><stop stop-color="#4854dc"/><stop offset="1" stop-color="#4d49c1"/></linearGradient><linearGradient id="g426" gradientUnits="userSpaceOnUse" x1="391.2" y1="220.6" x2="394.9" y2="225.5"><stop stop-color="#819f74"/><stop offset="1" stop-color="#719c8f"/></linearGradient><linearGradient id="g427" gradientUnits="userSpaceOnUse" x1="416.0" y1="269.9" x2="418.5" y2="277.8"><stop stop-color="#4872ea"/><stop offset="1" stop-color="#4467ed"/></linearGradient><linearGradient id="g428" gradientUnits="userSpaceOnUse" x1="402.5" y1="233.4" x2="405.8" y2="241.6"><stop stop-color="#6294ab"/><stop offset="1" stop-color="#5a8fbf"/></linearGradient><linearGradient id="g429" gradientUnits="userSpaceOnUse" x1="425.7" y1="290.9" x2="427.8" y2="290.9"><stop stop-color="#4d49c1"/><stop offset="1" stop-color="#433ebf"/></linearGradient><linearGradient id="g430" gradientUnits="userSpaceOnUse" x1="413.4" y1="261.1" x2="416.0" y2="269.9"><stop stop-color="#4d7ce2"/><stop offset="1" stop-color="#4872ea"/></linearGradient><linearGradient id="g431" gradientUnits="userSpaceOnUse" x1="479.3" y1="267.2" x2="481.9" y2="259.7"><stop stop-color="#2d2d9c"/><stop offset="1" stop-color="#333390"/></linearGradient><linearGradient id="g432" gradientUnits="userSpaceOnUse" x1="350.2" y1="222.4" x2="353.7" y2="217.3"><stop stop-color="#f7d538"/><stop offset="1" stop-color="#e6cc35"/></linearGradient><linearGradient id="g433" gradientUnits="userSpaceOnUse" x1="378.3" y1="216.9" x2="381.8" y2="217.0"><stop stop-color="#c8b239"/><stop offset="1" stop-color="#a4aa51"/></linearGradient><linearGradient id="g434" gradientUnits="userSpaceOnUse" x1="427.8" y1="290.9" x2="429.7" y2="288.6"><stop stop-color="#433ebf"/><stop offset="1" stop-color="#4343ca"/></linearGradient><linearGradient id="g435" gradientUnits="userSpaceOnUse" x1="368.2" y1="218.6" x2="371.6" y2="216.1"><stop stop-color="#e7c232"/><stop offset="1" stop-color="#cab839"/></linearGradient><linearGradient id="g436" gradientUnits="userSpaceOnUse" x1="410.9" y1="251.9" x2="413.4" y2="261.1"><stop stop-color="#5385d5"/><stop offset="1" stop-color="#4d7ce2"/></linearGradient><linearGradient id="g437" gradientUnits="userSpaceOnUse" x1="399.4" y1="226.7" x2="402.5" y2="233.4"><stop stop-color="#6b9795"/><stop offset="1" stop-color="#6294ab"/></linearGradient><linearGradient id="g438" gradientUnits="userSpaceOnUse" x1="387.9" y1="218.0" x2="391.2" y2="220.6"><stop stop-color="#9da355"/><stop offset="1" stop-color="#819f74"/></linearGradient><linearGradient id="g439" gradientUnits="userSpaceOnUse" x1="471.7" y1="267.7" x2="474.1" y2="260.0"><stop stop-color="#3030a5"/><stop offset="1" stop-color="#323295"/></linearGradient><linearGradient id="g440" gradientUnits="userSpaceOnUse" x1="408.4" y1="242.9" x2="410.9" y2="251.9"><stop stop-color="#598bc4"/><stop offset="1" stop-color="#5385d5"/></linearGradient><linearGradient id="g441" gradientUnits="userSpaceOnUse" x1="357.8" y1="222.9" x2="360.9" y2="217.9"><stop stop-color="#f7cf37"/><stop offset="1" stop-color="#e6c733"/></linearGradient><linearGradient id="g442" gradientUnits="userSpaceOnUse" x1="396.5" y1="221.7" x2="399.4" y2="226.7"><stop stop-color="#79997c"/><stop offset="1" stop-color="#6b9795"/></linearGradient><linearGradient id="g443" gradientUnits="userSpaceOnUse" x1="464.2" y1="268.2" x2="466.2" y2="260.4"><stop stop-color="#3838b0"/><stop offset="1" stop-color="#37379d"/></linearGradient><linearGradient id="g444" gradientUnits="userSpaceOnUse" x1="418.6" y1="285.5" x2="420.0" y2="289.9"><stop stop-color="#455bf0"/><stop offset="1" stop-color="#4853e4"/></linearGradient><linearGradient id="g445" gradientUnits="userSpaceOnUse" x1="420.0" y1="289.9" x2="421.4" y2="292.1"><stop stop-color="#4853e4"/><stop offset="1" stop-color="#524ac4"/></linearGradient><linearGradient id="g446" gradientUnits="userSpaceOnUse" x1="417.1" y1="279.2" x2="418.6" y2="285.5"><stop stop-color="#4665f2"/><stop offset="1" stop-color="#455bf0"/></linearGradient><linearGradient id="g447" gradientUnits="userSpaceOnUse" x1="375.4" y1="219.2" x2="378.3" y2="216.9"><stop stop-color="#e8be31"/><stop offset="1" stop-color="#c8b239"/></linearGradient><linearGradient id="g448" gradientUnits="userSpaceOnUse" x1="385.0" y1="217.7" x2="387.9" y2="218.0"><stop stop-color="#c7ad38"/><stop offset="1" stop-color="#9da355"/></linearGradient><linearGradient id="g449" gradientUnits="userSpaceOnUse" x1="406.1" y1="234.7" x2="408.4" y2="242.9"><stop stop-color="#5f90b1"/><stop offset="1" stop-color="#598bc4"/></linearGradient><linearGradient id="g450" gradientUnits="userSpaceOnUse" x1="415.6" y1="271.3" x2="417.1" y2="279.2"><stop stop-color="#496fee"/><stop offset="1" stop-color="#4665f2"/></linearGradient><linearGradient id="g451" gradientUnits="userSpaceOnUse" x1="365.5" y1="223.4" x2="368.2" y2="218.6"><stop stop-color="#f9ce38"/><stop offset="1" stop-color="#e7c232"/></linearGradient><linearGradient id="g452" gradientUnits="userSpaceOnUse" x1="422.6" y1="291.9" x2="423.8" y2="289.5"><stop stop-color="#4b48c7"/><stop offset="1" stop-color="#4d4dd2"/></linearGradient><linearGradient id="g453" gradientUnits="userSpaceOnUse" x1="456.6" y1="268.7" x2="458.3" y2="260.7"><stop stop-color="#3c3cb6"/><stop offset="1" stop-color="#3b3b9f"/></linearGradient><linearGradient id="g454" gradientUnits="userSpaceOnUse" x1="393.9" y1="218.9" x2="396.5" y2="221.7"><stop stop-color="#949c5a"/><stop offset="1" stop-color="#79997c"/></linearGradient><linearGradient id="g455" gradientUnits="userSpaceOnUse" x1="414.0" y1="262.5" x2="415.6" y2="271.3"><stop stop-color="#4e79e6"/><stop offset="1" stop-color="#496fee"/></linearGradient><linearGradient id="g456" gradientUnits="userSpaceOnUse" x1="347.8" y1="229.7" x2="350.2" y2="222.4"><stop stop-color="#ffe244"/><stop offset="1" stop-color="#f7d538"/></linearGradient><linearGradient id="g457" gradientUnits="userSpaceOnUse" x1="403.8" y1="227.8" x2="406.1" y2="234.7"><stop stop-color="#66929c"/><stop offset="1" stop-color="#5f90b1"/></linearGradient><linearGradient id="g458" gradientUnits="userSpaceOnUse" x1="412.5" y1="253.3" x2="414.0" y2="262.5"><stop stop-color="#5382d9"/><stop offset="1" stop-color="#4e79e6"/></linearGradient><linearGradient id="g459" gradientUnits="userSpaceOnUse" x1="449.0" y1="269.2" x2="450.4" y2="261.0"><stop stop-color="#4141be"/><stop offset="1" stop-color="#3f3fa3"/></linearGradient><linearGradient id="g460" gradientUnits="userSpaceOnUse" x1="382.6" y1="219.9" x2="385.0" y2="217.7"><stop stop-color="#eab930"/><stop offset="1" stop-color="#c7ad38"/></linearGradient><linearGradient id="g461" gradientUnits="userSpaceOnUse" x1="373.1" y1="223.9" x2="375.4" y2="219.2"><stop stop-color="#f9cc38"/><stop offset="1" stop-color="#e8be31"/></linearGradient><linearGradient id="g462" gradientUnits="userSpaceOnUse" x1="481.9" y1="259.7" x2="483.5" y2="252.0"><stop stop-color="#333390"/><stop offset="1" stop-color="#313166"/></linearGradient><linearGradient id="g463" gradientUnits="userSpaceOnUse" x1="355.7" y1="230.0" x2="357.8" y2="222.9"><stop stop-color="#ffdf42"/><stop offset="1" stop-color="#f7cf37"/></linearGradient><linearGradient id="g464" gradientUnits="userSpaceOnUse" x1="391.7" y1="218.5" x2="393.9" y2="218.9"><stop stop-color="#c7a736"/><stop offset="1" stop-color="#949c5a"/></linearGradient><linearGradient id="g465" gradientUnits="userSpaceOnUse" x1="401.8" y1="222.8" x2="403.8" y2="227.8"><stop stop-color="#709285"/><stop offset="1" stop-color="#66929c"/></linearGradient><linearGradient id="g466" gradientUnits="userSpaceOnUse" x1="424.8" y1="284.9" x2="425.6" y2="278.5"><stop stop-color="#4e4ed0"/><stop offset="1" stop-color="#4a4bc8"/></linearGradient><linearGradient id="g467" gradientUnits="userSpaceOnUse" x1="411.1" y1="244.2" x2="412.5" y2="253.3"><stop stop-color="#5888c9"/><stop offset="1" stop-color="#5382d9"/></linearGradient><linearGradient id="g468" gradientUnits="userSpaceOnUse" x1="474.1" y1="260.0" x2="475.4" y2="252.1"><stop stop-color="#323295"/><stop offset="1" stop-color="#323274"/></linearGradient><linearGradient id="g469" gradientUnits="userSpaceOnUse" x1="441.4" y1="269.6" x2="442.5" y2="261.3"><stop stop-color="#4545c5"/><stop offset="1" stop-color="#4444b3"/></linearGradient><linearGradient id="g470" gradientUnits="userSpaceOnUse" x1="416.6" y1="291.2" x2="417.0" y2="293.3"><stop stop-color="#4a54f3"/><stop offset="1" stop-color="#514bd7"/></linearGradient><linearGradient id="g471" gradientUnits="userSpaceOnUse" x1="363.6" y1="230.3" x2="365.5" y2="223.4"><stop stop-color="#ffde44"/><stop offset="1" stop-color="#f9ce38"/></linearGradient><linearGradient id="g472" gradientUnits="userSpaceOnUse" x1="466.2" y1="260.4" x2="467.4" y2="252.2"><stop stop-color="#37379d"/><stop offset="1" stop-color="#36367b"/></linearGradient><linearGradient id="g473" gradientUnits="userSpaceOnUse" x1="415.6" y1="280.6" x2="416.1" y2="286.8"><stop stop-color="#4863f7"/><stop offset="1" stop-color="#475af8"/></linearGradient><linearGradient id="g474" gradientUnits="userSpaceOnUse" x1="380.7" y1="224.4" x2="382.6" y2="219.9"><stop stop-color="#fac837"/><stop offset="1" stop-color="#eab930"/></linearGradient><linearGradient id="g475" gradientUnits="userSpaceOnUse" x1="409.7" y1="236.0" x2="411.1" y2="244.2"><stop stop-color="#5d8bb7"/><stop offset="1" stop-color="#5888c9"/></linearGradient><linearGradient id="g476" gradientUnits="userSpaceOnUse" x1="400.0" y1="219.9" x2="401.8" y2="222.8"><stop stop-color="#889463"/><stop offset="1" stop-color="#709285"/></linearGradient><linearGradient id="g477" gradientUnits="userSpaceOnUse" x1="389.8" y1="220.6" x2="391.7" y2="218.5"><stop stop-color="#ecb42d"/><stop offset="1" stop-color="#c7a736"/></linearGradient><linearGradient id="g478" gradientUnits="userSpaceOnUse" x1="425.6" y1="278.5" x2="426.3" y2="270.6"><stop stop-color="#4a4bc8"/><stop offset="1" stop-color="#4749bf"/></linearGradient><linearGradient id="g479" gradientUnits="userSpaceOnUse" x1="458.3" y1="260.7" x2="459.3" y2="252.4"><stop stop-color="#3b3b9f"/><stop offset="1" stop-color="#383881"/></linearGradient><linearGradient id="g480" gradientUnits="userSpaceOnUse" x1="433.9" y1="270.1" x2="434.7" y2="261.6"><stop stop-color="#4545c0"/><stop offset="1" stop-color="#4445b4"/></linearGradient><linearGradient id="g481" gradientUnits="userSpaceOnUse" x1="415.1" y1="272.8" x2="415.6" y2="280.6"><stop stop-color="#4b6df2"/><stop offset="1" stop-color="#4863f7"/></linearGradient><linearGradient id="g482" gradientUnits="userSpaceOnUse" x1="371.5" y1="230.7" x2="373.1" y2="223.9"><stop stop-color="#ffdc45"/><stop offset="1" stop-color="#f9cc38"/></linearGradient><linearGradient id="g483" gradientUnits="userSpaceOnUse" x1="418.2" y1="285.7" x2="418.5" y2="279.1"><stop stop-color="#5455d5"/><stop offset="1" stop-color="#4f50cd"/></linearGradient><linearGradient id="g484" gradientUnits="userSpaceOnUse" x1="346.4" y1="238.7" x2="347.8" y2="229.7"><stop stop-color="#ffec5f"/><stop offset="1" stop-color="#ffe244"/></linearGradient><linearGradient id="g485" gradientUnits="userSpaceOnUse" x1="408.3" y1="229.0" x2="409.7" y2="236.0"><stop stop-color="#618ca4"/><stop offset="1" stop-color="#5d8bb7"/></linearGradient><linearGradient id="g486" gradientUnits="userSpaceOnUse" x1="450.4" y1="261.0" x2="451.2" y2="252.5"><stop stop-color="#3f3fa3"/><stop offset="1" stop-color="#3b3b90"/></linearGradient><linearGradient id="g487" gradientUnits="userSpaceOnUse" x1="398.4" y1="219.4" x2="400.0" y2="219.9"><stop stop-color="#c8a034"/><stop offset="1" stop-color="#889463"/></linearGradient><linearGradient id="g488" gradientUnits="userSpaceOnUse" x1="414.6" y1="263.9" x2="415.1" y2="272.8"><stop stop-color="#4f76e9"/><stop offset="1" stop-color="#4b6df2"/></linearGradient><linearGradient id="g489" gradientUnits="userSpaceOnUse" x1="388.4" y1="224.9" x2="389.8" y2="220.6"><stop stop-color="#f9c238"/><stop offset="1" stop-color="#ecb42d"/></linearGradient><linearGradient id="g490" gradientUnits="userSpaceOnUse" x1="354.5" y1="238.8" x2="355.7" y2="230.0"><stop stop-color="#ffec61"/><stop offset="1" stop-color="#ffdf42"/></linearGradient><linearGradient id="g491" gradientUnits="userSpaceOnUse" x1="426.3" y1="270.6" x2="426.8" y2="261.9"><stop stop-color="#4749bf"/><stop offset="1" stop-color="#4749b5"/></linearGradient><linearGradient id="g492" gradientUnits="userSpaceOnUse" x1="379.4" y1="231.0" x2="380.7" y2="224.4"><stop stop-color="#ffd747"/><stop offset="1" stop-color="#fac837"/></linearGradient><linearGradient id="g493" gradientUnits="userSpaceOnUse" x1="442.5" y1="261.3" x2="443.2" y2="252.6"><stop stop-color="#4444b3"/><stop offset="1" stop-color="#3f409a"/></linearGradient><linearGradient id="g494" gradientUnits="userSpaceOnUse" x1="418.5" y1="279.1" x2="418.7" y2="271.1"><stop stop-color="#4f50cd"/><stop offset="1" stop-color="#4b4ec2"/></linearGradient><linearGradient id="g495" gradientUnits="userSpaceOnUse" x1="407.1" y1="223.9" x2="408.3" y2="229.0"><stop stop-color="#678c8f"/><stop offset="1" stop-color="#618ca4"/></linearGradient><linearGradient id="g496" gradientUnits="userSpaceOnUse" x1="414.2" y1="254.7" x2="414.6" y2="263.9"><stop stop-color="#547edd"/><stop offset="1" stop-color="#4f76e9"/></linearGradient><linearGradient id="g497" gradientUnits="userSpaceOnUse" x1="362.6" y1="238.9" x2="363.6" y2="230.3"><stop stop-color="#ffec68"/><stop offset="1" stop-color="#ffde44"/></linearGradient><linearGradient id="g498" gradientUnits="userSpaceOnUse" x1="397.0" y1="221.2" x2="398.4" y2="219.4"><stop stop-color="#eeab2a"/><stop offset="1" stop-color="#c8a034"/></linearGradient><linearGradient id="g499" gradientUnits="userSpaceOnUse" x1="434.7" y1="261.6" x2="435.1" y2="252.7"><stop stop-color="#4445b4"/><stop offset="1" stop-color="#4346a1"/></linearGradient><linearGradient id="g500" gradientUnits="userSpaceOnUse" x1="412.4" y1="294.6" x2="412.0" y2="293.0"><stop stop-color="#5d44ba"/><stop offset="1" stop-color="#6452df"/></linearGradient><linearGradient id="g501" gradientUnits="userSpaceOnUse" x1="412.0" y1="293.0" x2="411.7" y2="289.2"><stop stop-color="#6452df"/><stop offset="1" stop-color="#7560df"/></linearGradient><linearGradient id="g502" gradientUnits="userSpaceOnUse" x1="412.9" y1="293.7" x2="412.4" y2="294.6"><stop stop-color="#5f48c3"/><stop offset="1" stop-color="#5d44ba"/></linearGradient><linearGradient id="g503" gradientUnits="userSpaceOnUse" x1="370.6" y1="239.1" x2="371.5" y2="230.7"><stop stop-color="#ffea70"/><stop offset="1" stop-color="#ffdc45"/></linearGradient><linearGradient id="g504" gradientUnits="userSpaceOnUse" x1="387.4" y1="231.3" x2="388.4" y2="224.9"><stop stop-color="#fed14a"/><stop offset="1" stop-color="#f9c238"/></linearGradient><linearGradient id="g505" gradientUnits="userSpaceOnUse" x1="418.7" y1="271.1" x2="418.9" y2="262.2"><stop stop-color="#4b4ec2"/><stop offset="1" stop-color="#4a4eb7"/></linearGradient><linearGradient id="g506" gradientUnits="userSpaceOnUse" x1="413.7" y1="245.6" x2="414.2" y2="254.7"><stop stop-color="#5884cd"/><stop offset="1" stop-color="#547edd"/></linearGradient><linearGradient id="g507" gradientUnits="userSpaceOnUse" x1="406.0" y1="220.9" x2="407.1" y2="223.9"><stop stop-color="#768b71"/><stop offset="1" stop-color="#678c8f"/></linearGradient><linearGradient id="g508" gradientUnits="userSpaceOnUse" x1="411.7" y1="289.2" x2="411.4" y2="283.3"><stop stop-color="#7560df"/><stop offset="1" stop-color="#8c76df"/></linearGradient><linearGradient id="g509" gradientUnits="userSpaceOnUse" x1="413.4" y1="290.6" x2="412.9" y2="293.7"><stop stop-color="#6c45b3"/><stop offset="1" stop-color="#5f48c3"/></linearGradient><linearGradient id="g510" gradientUnits="userSpaceOnUse" x1="396.0" y1="225.4" x2="397.0" y2="221.2"><stop stop-color="#f4b535"/><stop offset="1" stop-color="#eeab2a"/></linearGradient><linearGradient id="g511" gradientUnits="userSpaceOnUse" x1="426.8" y1="261.9" x2="427.1" y2="252.9"><stop stop-color="#4749b5"/><stop offset="1" stop-color="#464ba5"/></linearGradient><linearGradient id="g512" gradientUnits="userSpaceOnUse" x1="411.4" y1="283.3" x2="411.2" y2="275.8"><stop stop-color="#8c76df"/><stop offset="1" stop-color="#ab9ae7"/></linearGradient><linearGradient id="g513" gradientUnits="userSpaceOnUse" x1="378.7" y1="239.2" x2="379.4" y2="231.0"><stop stop-color="#ffe778"/><stop offset="1" stop-color="#ffd747"/></linearGradient><linearGradient id="g514" gradientUnits="userSpaceOnUse" x1="413.9" y1="285.3" x2="413.4" y2="290.6"><stop stop-color="#7c459c"/><stop offset="1" stop-color="#6c45b3"/></linearGradient><linearGradient id="g515" gradientUnits="userSpaceOnUse" x1="483.5" y1="252.0" x2="483.9" y2="244.5"><stop stop-color="#313166"/><stop offset="1" stop-color="#2f2f46"/></linearGradient><linearGradient id="g516" gradientUnits="userSpaceOnUse" x1="405.1" y1="220.2" x2="406.0" y2="220.9"><stop stop-color="#cc9b31"/><stop offset="1" stop-color="#768b71"/></linearGradient><linearGradient id="g517" gradientUnits="userSpaceOnUse" x1="475.4" y1="252.1" x2="475.8" y2="244.5"><stop stop-color="#323274"/><stop offset="1" stop-color="#30304e"/></linearGradient><linearGradient id="g518" gradientUnits="userSpaceOnUse" x1="413.3" y1="237.2" x2="413.7" y2="245.6"><stop stop-color="#5b87bc"/><stop offset="1" stop-color="#5884cd"/></linearGradient><linearGradient id="g519" gradientUnits="userSpaceOnUse" x1="411.2" y1="275.8" x2="411.1" y2="267.1"><stop stop-color="#ab9ae7"/><stop offset="1" stop-color="#cabdf1"/></linearGradient><linearGradient id="g520" gradientUnits="userSpaceOnUse" x1="418.9" y1="262.2" x2="419.0" y2="253.0"><stop stop-color="#4a4eb7"/><stop offset="1" stop-color="#4a50aa"/></linearGradient><linearGradient id="g521" gradientUnits="userSpaceOnUse" x1="467.4" y1="252.2" x2="467.7" y2="244.4"><stop stop-color="#36367b"/><stop offset="1" stop-color="#343458"/></linearGradient><linearGradient id="g522" gradientUnits="userSpaceOnUse" x1="395.3" y1="231.6" x2="396.0" y2="225.4"><stop stop-color="#fac64e"/><stop offset="1" stop-color="#f4b535"/></linearGradient><linearGradient id="g523" gradientUnits="userSpaceOnUse" x1="386.8" y1="239.4" x2="387.4" y2="231.3"><stop stop-color="#ffe37f"/><stop offset="1" stop-color="#fed14a"/></linearGradient><linearGradient id="g524" gradientUnits="userSpaceOnUse" x1="459.3" y1="252.4" x2="459.6" y2="244.4"><stop stop-color="#383881"/><stop offset="1" stop-color="#363768"/></linearGradient><linearGradient id="g525" gradientUnits="userSpaceOnUse" x1="414.4" y1="278.2" x2="413.9" y2="285.3"><stop stop-color="#8e447f"/><stop offset="1" stop-color="#7c459c"/></linearGradient><linearGradient id="g526" gradientUnits="userSpaceOnUse" x1="451.2" y1="252.5" x2="451.5" y2="244.3"><stop stop-color="#3b3b90"/><stop offset="1" stop-color="#3b3c7a"/></linearGradient><linearGradient id="g527" gradientUnits="userSpaceOnUse" x1="404.3" y1="221.9" x2="405.1" y2="220.2"><stop stop-color="#ee9e26"/><stop offset="1" stop-color="#cc9b31"/></linearGradient><linearGradient id="g528" gradientUnits="userSpaceOnUse" x1="411.1" y1="267.1" x2="411.0" y2="257.8"><stop stop-color="#cabdf1"/><stop offset="1" stop-color="#e3d2f0"/></linearGradient><linearGradient id="g529" gradientUnits="userSpaceOnUse" x1="443.2" y1="252.6" x2="443.4" y2="244.3"><stop stop-color="#3f409a"/><stop offset="1" stop-color="#3f4286"/></linearGradient><linearGradient id="g530" gradientUnits="userSpaceOnUse" x1="412.8" y1="230.2" x2="413.3" y2="237.2"><stop stop-color="#5e87ab"/><stop offset="1" stop-color="#5b87bc"/></linearGradient><linearGradient id="g531" gradientUnits="userSpaceOnUse" x1="435.1" y1="252.7" x2="435.3" y2="244.2"><stop stop-color="#4346a1"/><stop offset="1" stop-color="#44488e"/></linearGradient><linearGradient id="g532" gradientUnits="userSpaceOnUse" x1="394.9" y1="239.5" x2="395.3" y2="231.6"><stop stop-color="#ffdd86"/><stop offset="1" stop-color="#fac64e"/></linearGradient><linearGradient id="g533" gradientUnits="userSpaceOnUse" x1="346.2" y1="248.8" x2="346.4" y2="238.7"><stop stop-color="#fff590"/><stop offset="1" stop-color="#ffec5f"/></linearGradient><linearGradient id="g534" gradientUnits="userSpaceOnUse" x1="403.6" y1="225.9" x2="404.3" y2="221.9"><stop stop-color="#f1aa35"/><stop offset="1" stop-color="#ee9e26"/></linearGradient><linearGradient id="g535" gradientUnits="userSpaceOnUse" x1="354.3" y1="248.8" x2="354.5" y2="238.8"><stop stop-color="#fff595"/><stop offset="1" stop-color="#ffec61"/></linearGradient><linearGradient id="g536" gradientUnits="userSpaceOnUse" x1="427.1" y1="252.9" x2="427.2" y2="244.2"><stop stop-color="#464ba5"/><stop offset="1" stop-color="#474f96"/></linearGradient><linearGradient id="g537" gradientUnits="userSpaceOnUse" x1="411.0" y1="257.8" x2="411.0" y2="248.5"><stop stop-color="#e3d2f0"/><stop offset="1" stop-color="#f2d5d0"/></linearGradient><linearGradient id="g538" gradientUnits="userSpaceOnUse" x1="362.4" y1="248.7" x2="362.6" y2="238.9"><stop stop-color="#fff49e"/><stop offset="1" stop-color="#ffec68"/></linearGradient><linearGradient id="g539" gradientUnits="userSpaceOnUse" x1="415.0" y1="269.9" x2="414.4" y2="278.2"><stop stop-color="#a2425f"/><stop offset="1" stop-color="#8e447f"/></linearGradient><linearGradient id="g540" gradientUnits="userSpaceOnUse" x1="370.5" y1="248.7" x2="370.6" y2="239.1"><stop stop-color="#fff3a9"/><stop offset="1" stop-color="#ffea70"/></linearGradient><linearGradient id="g541" gradientUnits="userSpaceOnUse" x1="419.0" y1="253.0" x2="419.1" y2="244.1"><stop stop-color="#4a50aa"/><stop offset="1" stop-color="#4b559d"/></linearGradient><linearGradient id="g542" gradientUnits="userSpaceOnUse" x1="378.6" y1="248.7" x2="378.7" y2="239.2"><stop stop-color="#fff0b5"/><stop offset="1" stop-color="#ffe778"/></linearGradient><linearGradient id="g543" gradientUnits="userSpaceOnUse" x1="403.2" y1="231.9" x2="403.6" y2="225.9"><stop stop-color="#f8bf53"/><stop offset="1" stop-color="#f1aa35"/></linearGradient><linearGradient id="g544" gradientUnits="userSpaceOnUse" x1="386.7" y1="248.6" x2="386.8" y2="239.4"><stop stop-color="#ffebbe"/><stop offset="1" stop-color="#ffe37f"/></linearGradient><linearGradient id="g545" gradientUnits="userSpaceOnUse" x1="403.8" y1="276.4" x2="403.3" y2="267.5"><stop stop-color="#b29fe5"/><stop offset="1" stop-color="#d5cbf5"/></linearGradient><linearGradient id="g546" gradientUnits="userSpaceOnUse" x1="404.5" y1="284.1" x2="403.8" y2="276.4"><stop stop-color="#9072d3"/><stop offset="1" stop-color="#b29fe5"/></linearGradient><linearGradient id="g547" gradientUnits="userSpaceOnUse" x1="394.8" y1="248.6" x2="394.9" y2="239.5"><stop stop-color="#fde4c6"/><stop offset="1" stop-color="#ffdd86"/></linearGradient><linearGradient id="g548" gradientUnits="userSpaceOnUse" x1="412.4" y1="225.0" x2="412.8" y2="230.2"><stop stop-color="#5f869b"/><stop offset="1" stop-color="#5e87ab"/></linearGradient><linearGradient id="g549" gradientUnits="userSpaceOnUse" x1="402.9" y1="239.7" x2="403.2" y2="231.9"><stop stop-color="#fcd287"/><stop offset="1" stop-color="#f8bf53"/></linearGradient><linearGradient id="g550" gradientUnits="userSpaceOnUse" x1="403.3" y1="267.5" x2="403.0" y2="258.0"><stop stop-color="#d5cbf5"/><stop offset="1" stop-color="#eddcf1"/></linearGradient><linearGradient id="g551" gradientUnits="userSpaceOnUse" x1="405.4" y1="290.1" x2="404.5" y2="284.1"><stop stop-color="#7758cb"/><stop offset="1" stop-color="#9072d3"/></linearGradient><linearGradient id="g552" gradientUnits="userSpaceOnUse" x1="403.0" y1="258.0" x2="402.9" y2="248.5"><stop stop-color="#eddcf1"/><stop offset="1" stop-color="#f9decc"/></linearGradient><linearGradient id="g553" gradientUnits="userSpaceOnUse" x1="402.9" y1="248.5" x2="402.9" y2="239.7"><stop stop-color="#f9decc"/><stop offset="1" stop-color="#fcd287"/></linearGradient><linearGradient id="g554" gradientUnits="userSpaceOnUse" x1="411.0" y1="248.5" x2="411.0" y2="239.8"><stop stop-color="#f2d5d0"/><stop offset="1" stop-color="#f6c88c"/></linearGradient><linearGradient id="g555" gradientUnits="userSpaceOnUse" x1="406.5" y1="294.0" x2="405.4" y2="290.1"><stop stop-color="#6645c0"/><stop offset="1" stop-color="#7758cb"/></linearGradient><linearGradient id="g556" gradientUnits="userSpaceOnUse" x1="415.5" y1="260.7" x2="415.0" y2="269.9"><stop stop-color="#b34041"/><stop offset="1" stop-color="#a2425f"/></linearGradient><linearGradient id="g557" gradientUnits="userSpaceOnUse" x1="395.0" y1="258.2" x2="394.8" y2="248.6"><stop stop-color="#f8e3ea"/><stop offset="1" stop-color="#fde4c6"/></linearGradient><linearGradient id="g558" gradientUnits="userSpaceOnUse" x1="407.7" y1="295.7" x2="406.5" y2="294.0"><stop stop-color="#6241ae"/><stop offset="1" stop-color="#6645c0"/></linearGradient><linearGradient id="g559" gradientUnits="userSpaceOnUse" x1="412.1" y1="221.8" x2="412.4" y2="225.0"><stop stop-color="#628389"/><stop offset="1" stop-color="#5f869b"/></linearGradient><linearGradient id="g560" gradientUnits="userSpaceOnUse" x1="411.0" y1="239.8" x2="411.1" y2="232.3"><stop stop-color="#f6c88c"/><stop offset="1" stop-color="#f6b65b"/></linearGradient><linearGradient id="g561" gradientUnits="userSpaceOnUse" x1="419.1" y1="244.1" x2="419.1" y2="236.1"><stop stop-color="#4b559d"/><stop offset="1" stop-color="#4e5c91"/></linearGradient><linearGradient id="g562" gradientUnits="userSpaceOnUse" x1="411.8" y1="221.0" x2="412.1" y2="221.8"><stop stop-color="#df9527"/><stop offset="1" stop-color="#628389"/></linearGradient><linearGradient id="g563" gradientUnits="userSpaceOnUse" x1="387.0" y1="258.5" x2="386.7" y2="248.6"><stop stop-color="#fce9e9"/><stop offset="1" stop-color="#ffebbe"/></linearGradient><linearGradient id="g564" gradientUnits="userSpaceOnUse" x1="411.1" y1="232.3" x2="411.3" y2="226.4"><stop stop-color="#f6b65b"/><stop offset="1" stop-color="#f1a33d"/></linearGradient><linearGradient id="g565" gradientUnits="userSpaceOnUse" x1="395.6" y1="267.9" x2="395.0" y2="258.2"><stop stop-color="#e1d0f0"/><stop offset="1" stop-color="#f8e3ea"/></linearGradient><linearGradient id="g566" gradientUnits="userSpaceOnUse" x1="409.0" y1="295.0" x2="407.7" y2="295.7"><stop stop-color="#5f49bf"/><stop offset="1" stop-color="#6241ae"/></linearGradient><linearGradient id="g567" gradientUnits="userSpaceOnUse" x1="427.2" y1="244.2" x2="427.1" y2="236.3"><stop stop-color="#474f96"/><stop offset="1" stop-color="#4b5588"/></linearGradient><linearGradient id="g568" gradientUnits="userSpaceOnUse" x1="411.5" y1="222.6" x2="411.8" y2="221.0"><stop stop-color="#ee922a"/><stop offset="1" stop-color="#df9527"/></linearGradient><linearGradient id="g569" gradientUnits="userSpaceOnUse" x1="411.3" y1="226.4" x2="411.5" y2="222.6"><stop stop-color="#f1a33d"/><stop offset="1" stop-color="#ee922a"/></linearGradient><linearGradient id="g570" gradientUnits="userSpaceOnUse" x1="416.1" y1="251.4" x2="415.5" y2="260.7"><stop stop-color="#c03e2a"/><stop offset="1" stop-color="#b34041"/></linearGradient><linearGradient id="g571" gradientUnits="userSpaceOnUse" x1="379.0" y1="258.7" x2="378.6" y2="248.7"><stop stop-color="#fdeee1"/><stop offset="1" stop-color="#fff0b5"/></linearGradient><linearGradient id="g572" gradientUnits="userSpaceOnUse" x1="396.5" y1="276.9" x2="395.6" y2="267.9"><stop stop-color="#bba9e5"/><stop offset="1" stop-color="#e1d0f0"/></linearGradient><linearGradient id="g573" gradientUnits="userSpaceOnUse" x1="435.3" y1="244.2" x2="435.1" y2="236.6"><stop stop-color="#44488e"/><stop offset="1" stop-color="#484f7e"/></linearGradient><linearGradient id="g574" gradientUnits="userSpaceOnUse" x1="410.4" y1="291.9" x2="409.0" y2="295.0"><stop stop-color="#6642ae"/><stop offset="1" stop-color="#5f49bf"/></linearGradient><linearGradient id="g575" gradientUnits="userSpaceOnUse" x1="419.1" y1="236.1" x2="419.0" y2="229.5"><stop stop-color="#4e5c91"/><stop offset="1" stop-color="#526489"/></linearGradient><linearGradient id="g576" gradientUnits="userSpaceOnUse" x1="443.4" y1="244.3" x2="443.1" y2="236.8"><stop stop-color="#3f4286"/><stop offset="1" stop-color="#444872"/></linearGradient><linearGradient id="g577" gradientUnits="userSpaceOnUse" x1="371.0" y1="258.9" x2="370.5" y2="248.7"><stop stop-color="#fff1d6"/><stop offset="1" stop-color="#fff3a9"/></linearGradient><linearGradient id="g578" gradientUnits="userSpaceOnUse" x1="397.7" y1="284.8" x2="396.5" y2="276.9"><stop stop-color="#997bd2"/><stop offset="1" stop-color="#bba9e5"/></linearGradient><linearGradient id="g579" gradientUnits="userSpaceOnUse" x1="387.8" y1="268.3" x2="387.0" y2="258.5"><stop stop-color="#e9d8f4"/><stop offset="1" stop-color="#fce9e9"/></linearGradient><linearGradient id="g580" gradientUnits="userSpaceOnUse" x1="416.6" y1="242.6" x2="416.1" y2="251.4"><stop stop-color="#c63c1f"/><stop offset="1" stop-color="#c03e2a"/></linearGradient><linearGradient id="g581" gradientUnits="userSpaceOnUse" x1="451.5" y1="244.3" x2="451.1" y2="237.0"><stop stop-color="#3b3c7a"/><stop offset="1" stop-color="#404265"/></linearGradient><linearGradient id="g582" gradientUnits="userSpaceOnUse" x1="411.9" y1="286.6" x2="410.4" y2="291.9"><stop stop-color="#7a4195"/><stop offset="1" stop-color="#6642ae"/></linearGradient><linearGradient id="g583" gradientUnits="userSpaceOnUse" x1="363.1" y1="259.1" x2="362.4" y2="248.7"><stop stop-color="#fff5ce"/><stop offset="1" stop-color="#fff49e"/></linearGradient><linearGradient id="g584" gradientUnits="userSpaceOnUse" x1="419.0" y1="229.5" x2="418.8" y2="224.8"><stop stop-color="#526489"/><stop offset="1" stop-color="#576c83"/></linearGradient><linearGradient id="g585" gradientUnits="userSpaceOnUse" x1="399.1" y1="290.9" x2="397.7" y2="284.8"><stop stop-color="#7d56c0"/><stop offset="1" stop-color="#997bd2"/></linearGradient><linearGradient id="g586" gradientUnits="userSpaceOnUse" x1="459.6" y1="244.4" x2="459.1" y2="237.3"><stop stop-color="#363768"/><stop offset="1" stop-color="#3b3b55"/></linearGradient><linearGradient id="g587" gradientUnits="userSpaceOnUse" x1="427.1" y1="236.3" x2="426.8" y2="229.9"><stop stop-color="#4b5588"/><stop offset="1" stop-color="#505d7c"/></linearGradient><linearGradient id="g588" gradientUnits="userSpaceOnUse" x1="355.1" y1="259.3" x2="354.3" y2="248.8"><stop stop-color="#fff7c6"/><stop offset="1" stop-color="#fff595"/></linearGradient><linearGradient id="g589" gradientUnits="userSpaceOnUse" x1="467.7" y1="244.4" x2="467.1" y2="237.5"><stop stop-color="#343458"/><stop offset="1" stop-color="#353544"/></linearGradient><linearGradient id="g590" gradientUnits="userSpaceOnUse" x1="380.1" y1="268.7" x2="379.0" y2="258.7"><stop stop-color="#eddaef"/><stop offset="1" stop-color="#fdeee1"/></linearGradient><linearGradient id="g591" gradientUnits="userSpaceOnUse" x1="389.1" y1="277.5" x2="387.8" y2="268.3"><stop stop-color="#c5aee6"/><stop offset="1" stop-color="#e9d8f4"/></linearGradient><linearGradient id="g592" gradientUnits="userSpaceOnUse" x1="413.5" y1="279.6" x2="411.9" y2="286.6"><stop stop-color="#904075"/><stop offset="1" stop-color="#7a4195"/></linearGradient><linearGradient id="g593" gradientUnits="userSpaceOnUse" x1="418.8" y1="224.8" x2="418.6" y2="222.2"><stop stop-color="#576c83"/><stop offset="1" stop-color="#607578"/></linearGradient><linearGradient id="g594" gradientUnits="userSpaceOnUse" x1="400.9" y1="295.0" x2="399.1" y2="290.9"><stop stop-color="#6f47b8"/><stop offset="1" stop-color="#7d56c0"/></linearGradient><linearGradient id="g595" gradientUnits="userSpaceOnUse" x1="347.1" y1="259.6" x2="346.2" y2="248.8"><stop stop-color="#fff7c3"/><stop offset="1" stop-color="#fff590"/></linearGradient><linearGradient id="g596" gradientUnits="userSpaceOnUse" x1="475.8" y1="244.5" x2="475.1" y2="237.7"><stop stop-color="#30304e"/><stop offset="1" stop-color="#31323c"/></linearGradient><linearGradient id="g597" gradientUnits="userSpaceOnUse" x1="418.6" y1="222.2" x2="418.3" y2="222.0"><stop stop-color="#607578"/><stop offset="1" stop-color="#e87a1f"/></linearGradient><linearGradient id="g598" gradientUnits="userSpaceOnUse" x1="417.9" y1="224.1" x2="417.5" y2="228.5"><stop stop-color="#dd591f"/><stop offset="1" stop-color="#d14320"/></linearGradient><linearGradient id="g599" gradientUnits="userSpaceOnUse" x1="435.1" y1="236.6" x2="434.6" y2="230.3"><stop stop-color="#484f7e"/><stop offset="1" stop-color="#50586f"/></linearGradient><linearGradient id="g600" gradientUnits="userSpaceOnUse" x1="418.3" y1="222.0" x2="417.9" y2="224.1"><stop stop-color="#e87a1f"/><stop offset="1" stop-color="#dd591f"/></linearGradient><linearGradient id="g601" gradientUnits="userSpaceOnUse" x1="483.9" y1="244.5" x2="483.2" y2="238.0"><stop stop-color="#2f2f46"/><stop offset="1" stop-color="#313137"/></linearGradient><linearGradient id="g602" gradientUnits="userSpaceOnUse" x1="402.9" y1="296.8" x2="400.9" y2="295.0"><stop stop-color="#673ea8"/><stop offset="1" stop-color="#6f47b8"/></linearGradient><linearGradient id="g603" gradientUnits="userSpaceOnUse" x1="415.1" y1="271.3" x2="413.5" y2="279.6"><stop stop-color="#a63e50"/><stop offset="1" stop-color="#904075"/></linearGradient><linearGradient id="g604" gradientUnits="userSpaceOnUse" x1="426.8" y1="229.9" x2="426.3" y2="225.4"><stop stop-color="#505d7c"/><stop offset="1" stop-color="#5a6771"/></linearGradient><linearGradient id="g605" gradientUnits="userSpaceOnUse" x1="372.3" y1="269.1" x2="371.0" y2="258.9"><stop stop-color="#f2dbe6"/><stop offset="1" stop-color="#fff1d6"/></linearGradient><linearGradient id="g606" gradientUnits="userSpaceOnUse" x1="390.8" y1="285.5" x2="389.1" y2="277.5"><stop stop-color="#a381d3"/><stop offset="1" stop-color="#c5aee6"/></linearGradient><linearGradient id="g607" gradientUnits="userSpaceOnUse" x1="443.1" y1="236.8" x2="442.3" y2="230.7"><stop stop-color="#444872"/><stop offset="1" stop-color="#4f5262"/></linearGradient><linearGradient id="g608" gradientUnits="userSpaceOnUse" x1="381.7" y1="278.1" x2="380.1" y2="268.7"><stop stop-color="#cdb0e3"/><stop offset="1" stop-color="#eddaef"/></linearGradient><linearGradient id="g609" gradientUnits="userSpaceOnUse" x1="416.6" y1="262.1" x2="415.1" y2="271.3"><stop stop-color="#b93b2f"/><stop offset="1" stop-color="#a63e50"/></linearGradient><linearGradient id="g610" gradientUnits="userSpaceOnUse" x1="364.6" y1="269.5" x2="363.1" y2="259.1"><stop stop-color="#fae2df"/><stop offset="1" stop-color="#fff5ce"/></linearGradient><linearGradient id="g611" gradientUnits="userSpaceOnUse" x1="392.9" y1="291.8" x2="390.8" y2="285.5"><stop stop-color="#895ec2"/><stop offset="1" stop-color="#a381d3"/></linearGradient><linearGradient id="g612" gradientUnits="userSpaceOnUse" x1="426.3" y1="225.4" x2="425.6" y2="223.0"><stop stop-color="#5a6771"/><stop offset="1" stop-color="#777558"/></linearGradient><linearGradient id="g613" gradientUnits="userSpaceOnUse" x1="451.1" y1="237.0" x2="450.1" y2="231.1"><stop stop-color="#404265"/><stop offset="1" stop-color="#4e4d54"/></linearGradient><linearGradient id="g614" gradientUnits="userSpaceOnUse" x1="434.6" y1="230.3" x2="433.7" y2="225.9"><stop stop-color="#50586f"/><stop offset="1" stop-color="#5f6360"/></linearGradient><linearGradient id="g615" gradientUnits="userSpaceOnUse" x1="418.2" y1="252.8" x2="416.6" y2="262.1"><stop stop-color="#c7381a"/><stop offset="1" stop-color="#b93b2f"/></linearGradient><linearGradient id="g616" gradientUnits="userSpaceOnUse" x1="425.6" y1="223.0" x2="424.7" y2="222.9"><stop stop-color="#777558"/><stop offset="1" stop-color="#e28a29"/></linearGradient><linearGradient id="g617" gradientUnits="userSpaceOnUse" x1="356.9" y1="269.9" x2="355.1" y2="259.3"><stop stop-color="#f9e2d8"/><stop offset="1" stop-color="#fff7c6"/></linearGradient><linearGradient id="g618" gradientUnits="userSpaceOnUse" x1="383.9" y1="286.2" x2="381.7" y2="278.1"><stop stop-color="#ac85d1"/><stop offset="1" stop-color="#cdb0e3"/></linearGradient><linearGradient id="g619" gradientUnits="userSpaceOnUse" x1="374.3" y1="278.6" x2="372.3" y2="269.1"><stop stop-color="#d2b0de"/><stop offset="1" stop-color="#f2dbe6"/></linearGradient><linearGradient id="g620" gradientUnits="userSpaceOnUse" x1="395.3" y1="296.1" x2="392.9" y2="291.8"><stop stop-color="#7848b3"/><stop offset="1" stop-color="#895ec2"/></linearGradient><linearGradient id="g621" gradientUnits="userSpaceOnUse" x1="459.1" y1="237.3" x2="457.9" y2="231.6"><stop stop-color="#3b3b55"/><stop offset="1" stop-color="#4c4847"/></linearGradient><linearGradient id="g622" gradientUnits="userSpaceOnUse" x1="409.9" y1="288.0" x2="407.4" y2="293.2"><stop stop-color="#783f92"/><stop offset="1" stop-color="#6740aa"/></linearGradient><linearGradient id="g623" gradientUnits="userSpaceOnUse" x1="424.7" y1="222.9" x2="423.6" y2="225.1"><stop stop-color="#e28a29"/><stop offset="1" stop-color="#e36422"/></linearGradient><linearGradient id="g624" gradientUnits="userSpaceOnUse" x1="423.6" y1="225.1" x2="422.5" y2="229.6"><stop stop-color="#e36422"/><stop offset="1" stop-color="#d84b1f"/></linearGradient><linearGradient id="g625" gradientUnits="userSpaceOnUse" x1="422.5" y1="229.6" x2="421.1" y2="236.0"><stop stop-color="#d84b1f"/><stop offset="1" stop-color="#d03d1b"/></linearGradient><linearGradient id="g626" gradientUnits="userSpaceOnUse" x1="442.3" y1="230.7" x2="441.1" y2="226.5"><stop stop-color="#4f5262"/><stop offset="1" stop-color="#656152"/></linearGradient><linearGradient id="g627" gradientUnits="userSpaceOnUse" x1="349.1" y1="270.3" x2="347.1" y2="259.6"><stop stop-color="#fae1d1"/><stop offset="1" stop-color="#fff7c3"/></linearGradient><linearGradient id="g628" gradientUnits="userSpaceOnUse" x1="433.7" y1="225.9" x2="432.5" y2="223.7"><stop stop-color="#5f6360"/><stop offset="1" stop-color="#897747"/></linearGradient><linearGradient id="g629" gradientUnits="userSpaceOnUse" x1="398.1" y1="297.9" x2="395.3" y2="296.1"><stop stop-color="#6c3aa1"/><stop offset="1" stop-color="#7848b3"/></linearGradient><linearGradient id="g630" gradientUnits="userSpaceOnUse" x1="467.1" y1="237.5" x2="465.7" y2="232.0"><stop stop-color="#353544"/><stop offset="1" stop-color="#49443d"/></linearGradient><linearGradient id="g631" gradientUnits="userSpaceOnUse" x1="412.5" y1="281.0" x2="409.9" y2="288.0"><stop stop-color="#903e6f"/><stop offset="1" stop-color="#783f92"/></linearGradient><linearGradient id="g632" gradientUnits="userSpaceOnUse" x1="386.6" y1="292.7" x2="383.9" y2="286.2"><stop stop-color="#9261c0"/><stop offset="1" stop-color="#ac85d1"/></linearGradient><linearGradient id="g633" gradientUnits="userSpaceOnUse" x1="367.0" y1="279.2" x2="364.6" y2="269.5"><stop stop-color="#d8b2d8"/><stop offset="1" stop-color="#fae2df"/></linearGradient><linearGradient id="g634" gradientUnits="userSpaceOnUse" x1="377.0" y1="287.0" x2="374.3" y2="278.6"><stop stop-color="#b286cd"/><stop offset="1" stop-color="#d2b0de"/></linearGradient><linearGradient id="g635" gradientUnits="userSpaceOnUse" x1="475.1" y1="237.7" x2="473.5" y2="232.4"><stop stop-color="#31323c"/><stop offset="1" stop-color="#464238"/></linearGradient><linearGradient id="g636" gradientUnits="userSpaceOnUse" x1="415.1" y1="272.7" x2="412.5" y2="281.0"><stop stop-color="#a93b45"/><stop offset="1" stop-color="#903e6f"/></linearGradient><linearGradient id="g637" gradientUnits="userSpaceOnUse" x1="450.1" y1="231.1" x2="448.6" y2="227.1"><stop stop-color="#4e4d54"/><stop offset="1" stop-color="#695f46"/></linearGradient><linearGradient id="g638" gradientUnits="userSpaceOnUse" x1="432.5" y1="223.7" x2="431.1" y2="223.8"><stop stop-color="#897747"/><stop offset="1" stop-color="#dd8d2e"/></linearGradient><linearGradient id="g639" gradientUnits="userSpaceOnUse" x1="441.1" y1="226.5" x2="439.5" y2="224.4"><stop stop-color="#656152"/><stop offset="1" stop-color="#95783f"/></linearGradient><linearGradient id="g640" gradientUnits="userSpaceOnUse" x1="417.8" y1="263.5" x2="415.1" y2="272.7"><stop stop-color="#bf391e"/><stop offset="1" stop-color="#a93b45"/></linearGradient><linearGradient id="g641" gradientUnits="userSpaceOnUse" x1="389.7" y1="297.1" x2="386.6" y2="292.7"><stop stop-color="#7f45ad"/><stop offset="1" stop-color="#9261c0"/></linearGradient><linearGradient id="g642" gradientUnits="userSpaceOnUse" x1="483.2" y1="238.0" x2="481.3" y2="232.8"><stop stop-color="#313137"/><stop offset="1" stop-color="#484333"/></linearGradient><linearGradient id="g643" gradientUnits="userSpaceOnUse" x1="359.6" y1="279.8" x2="356.9" y2="269.9"><stop stop-color="#ddb3d1"/><stop offset="1" stop-color="#f9e2d8"/></linearGradient><linearGradient id="g644" gradientUnits="userSpaceOnUse" x1="431.1" y1="223.8" x2="429.3" y2="226.2"><stop stop-color="#dd8d2e"/><stop offset="1" stop-color="#e97328"/></linearGradient><linearGradient id="g645" gradientUnits="userSpaceOnUse" x1="420.3" y1="254.2" x2="417.8" y2="263.5"><stop stop-color="#c93917"/><stop offset="1" stop-color="#bf391e"/></linearGradient><linearGradient id="g646" gradientUnits="userSpaceOnUse" x1="457.9" y1="231.6" x2="456.0" y2="227.7"><stop stop-color="#4c4847"/><stop offset="1" stop-color="#6c5e3d"/></linearGradient><linearGradient id="g647" gradientUnits="userSpaceOnUse" x1="429.3" y1="226.2" x2="427.4" y2="230.8"><stop stop-color="#e97328"/><stop offset="1" stop-color="#e05727"/></linearGradient><linearGradient id="g648" gradientUnits="userSpaceOnUse" x1="380.3" y1="293.6" x2="377.0" y2="287.0"><stop stop-color="#985fba"/><stop offset="1" stop-color="#b286cd"/></linearGradient><linearGradient id="g649" gradientUnits="userSpaceOnUse" x1="370.1" y1="287.7" x2="367.0" y2="279.2"><stop stop-color="#b784c6"/><stop offset="1" stop-color="#d8b2d8"/></linearGradient><linearGradient id="g650" gradientUnits="userSpaceOnUse" x1="427.4" y1="230.8" x2="425.2" y2="237.2"><stop stop-color="#e05727"/><stop offset="1" stop-color="#d7471f"/></linearGradient><linearGradient id="g651" gradientUnits="userSpaceOnUse" x1="425.2" y1="237.2" x2="422.8" y2="245.2"><stop stop-color="#d7471f"/><stop offset="1" stop-color="#d03d1b"/></linearGradient><linearGradient id="g652" gradientUnits="userSpaceOnUse" x1="393.3" y1="299.1" x2="389.7" y2="297.1"><stop stop-color="#70379a"/><stop offset="1" stop-color="#7f45ad"/></linearGradient><linearGradient id="g653" gradientUnits="userSpaceOnUse" x1="408.0" y1="289.4" x2="404.5" y2="294.5"><stop stop-color="#793e93"/><stop offset="1" stop-color="#6c3ea5"/></linearGradient><linearGradient id="g654" gradientUnits="userSpaceOnUse" x1="352.2" y1="280.3" x2="349.1" y2="270.3"><stop stop-color="#e1b3cb"/><stop offset="1" stop-color="#fae1d1"/></linearGradient><linearGradient id="g655" gradientUnits="userSpaceOnUse" x1="439.5" y1="224.4" x2="437.5" y2="224.7"><stop stop-color="#95783f"/><stop offset="1" stop-color="#dc9030"/></linearGradient><linearGradient id="g656" gradientUnits="userSpaceOnUse" x1="448.6" y1="227.1" x2="446.5" y2="225.2"><stop stop-color="#695f46"/><stop offset="1" stop-color="#9d7a39"/></linearGradient><linearGradient id="g657" gradientUnits="userSpaceOnUse" x1="465.7" y1="232.0" x2="463.5" y2="228.3"><stop stop-color="#49443d"/><stop offset="1" stop-color="#6f5e37"/></linearGradient><linearGradient id="g658" gradientUnits="userSpaceOnUse" x1="411.6" y1="282.4" x2="408.0" y2="289.4"><stop stop-color="#8f3d71"/><stop offset="1" stop-color="#793e93"/></linearGradient><linearGradient id="g659" gradientUnits="userSpaceOnUse" x1="384.2" y1="298.1" x2="380.3" y2="293.6"><stop stop-color="#8543a6"/><stop offset="1" stop-color="#985fba"/></linearGradient><linearGradient id="g660" gradientUnits="userSpaceOnUse" x1="363.2" y1="288.4" x2="359.6" y2="279.8"><stop stop-color="#bb80bf"/><stop offset="1" stop-color="#ddb3d1"/></linearGradient><linearGradient id="g661" gradientUnits="userSpaceOnUse" x1="437.5" y1="224.7" x2="435.0" y2="227.2"><stop stop-color="#dc9030"/><stop offset="1" stop-color="#ee812d"/></linearGradient><linearGradient id="g662" gradientUnits="userSpaceOnUse" x1="415.2" y1="274.1" x2="411.6" y2="282.4"><stop stop-color="#a93a45"/><stop offset="1" stop-color="#8f3d71"/></linearGradient><linearGradient id="g663" gradientUnits="userSpaceOnUse" x1="374.0" y1="294.4" x2="370.1" y2="287.7"><stop stop-color="#9d5bb3"/><stop offset="1" stop-color="#b784c6"/></linearGradient><linearGradient id="g664" gradientUnits="userSpaceOnUse" x1="473.5" y1="232.4" x2="470.9" y2="228.8"><stop stop-color="#464238"/><stop offset="1" stop-color="#705e32"/></linearGradient><linearGradient id="g665" gradientUnits="userSpaceOnUse" x1="456.0" y1="227.7" x2="453.5" y2="225.9"><stop stop-color="#6c5e3d"/><stop offset="1" stop-color="#a27b35"/></linearGradient><linearGradient id="g666" gradientUnits="userSpaceOnUse" x1="446.5" y1="225.2" x2="443.9" y2="225.5"><stop stop-color="#9d7a39"/><stop offset="1" stop-color="#df9330"/></linearGradient><linearGradient id="g667" gradientUnits="userSpaceOnUse" x1="435.0" y1="227.2" x2="432.3" y2="231.9"><stop stop-color="#ee812d"/><stop offset="1" stop-color="#e86729"/></linearGradient><linearGradient id="g668" gradientUnits="userSpaceOnUse" x1="401.5" y1="295.8" x2="397.3" y2="298.6"><stop stop-color="#6e3da4"/><stop offset="1" stop-color="#6a369b"/></linearGradient><linearGradient id="g669" gradientUnits="userSpaceOnUse" x1="418.9" y1="264.9" x2="415.2" y2="274.1"><stop stop-color="#bf381e"/><stop offset="1" stop-color="#a93a45"/></linearGradient><linearGradient id="g670" gradientUnits="userSpaceOnUse" x1="388.5" y1="300.2" x2="384.2" y2="298.1"><stop stop-color="#743392"/><stop offset="1" stop-color="#8543a6"/></linearGradient><linearGradient id="g671" gradientUnits="userSpaceOnUse" x1="422.5" y1="255.5" x2="418.9" y2="264.9"><stop stop-color="#cb3b19"/><stop offset="1" stop-color="#bf381e"/></linearGradient><linearGradient id="g672" gradientUnits="userSpaceOnUse" x1="432.3" y1="231.9" x2="429.2" y2="238.5"><stop stop-color="#e86729"/><stop offset="1" stop-color="#de5224"/></linearGradient><linearGradient id="g673" gradientUnits="userSpaceOnUse" x1="481.3" y1="232.8" x2="478.4" y2="229.4"><stop stop-color="#484333"/><stop offset="1" stop-color="#725e2e"/></linearGradient><linearGradient id="g674" gradientUnits="userSpaceOnUse" x1="356.3" y1="289.1" x2="352.2" y2="280.3"><stop stop-color="#bc7db7"/><stop offset="1" stop-color="#e1b3cb"/></linearGradient><linearGradient id="g675" gradientUnits="userSpaceOnUse" x1="425.9" y1="246.5" x2="422.5" y2="255.5"><stop stop-color="#d44420"/><stop offset="1" stop-color="#cb3b19"/></linearGradient><linearGradient id="g676" gradientUnits="userSpaceOnUse" x1="429.2" y1="238.5" x2="425.9" y2="246.5"><stop stop-color="#de5224"/><stop offset="1" stop-color="#d44420"/></linearGradient><linearGradient id="g677" gradientUnits="userSpaceOnUse" x1="406.0" y1="290.7" x2="401.5" y2="295.8"><stop stop-color="#793f99"/><stop offset="1" stop-color="#6e3da4"/></linearGradient><linearGradient id="g678" gradientUnits="userSpaceOnUse" x1="463.5" y1="228.3" x2="460.4" y2="226.7"><stop stop-color="#6f5e37"/><stop offset="1" stop-color="#a47c32"/></linearGradient><linearGradient id="g679" gradientUnits="userSpaceOnUse" x1="378.6" y1="299.1" x2="374.0" y2="294.4"><stop stop-color="#8b3fa0"/><stop offset="1" stop-color="#9d5bb3"/></linearGradient><linearGradient id="g680" gradientUnits="userSpaceOnUse" x1="367.7" y1="295.3" x2="363.2" y2="288.4"><stop stop-color="#9f55aa"/><stop offset="1" stop-color="#bb80bf"/></linearGradient><linearGradient id="g681" gradientUnits="userSpaceOnUse" x1="443.9" y1="225.5" x2="440.7" y2="228.2"><stop stop-color="#df9330"/><stop offset="1" stop-color="#f38e2f"/></linearGradient><linearGradient id="g682" gradientUnits="userSpaceOnUse" x1="393.4" y1="299.9" x2="388.5" y2="300.2"><stop stop-color="#6c3292"/><stop offset="1" stop-color="#743392"/></linearGradient><linearGradient id="g683" gradientUnits="userSpaceOnUse" x1="453.5" y1="225.9" x2="450.2" y2="226.4"><stop stop-color="#a27b35"/><stop offset="1" stop-color="#e29830"/></linearGradient><linearGradient id="g684" gradientUnits="userSpaceOnUse" x1="410.6" y1="283.8" x2="406.0" y2="290.7"><stop stop-color="#8d3e7b"/><stop offset="1" stop-color="#793f99"/></linearGradient><linearGradient id="g685" gradientUnits="userSpaceOnUse" x1="440.7" y1="228.2" x2="437.2" y2="233.0"><stop stop-color="#f38e2f"/><stop offset="1" stop-color="#ee762c"/></linearGradient><linearGradient id="g686" gradientUnits="userSpaceOnUse" x1="470.9" y1="228.8" x2="467.4" y2="227.4"><stop stop-color="#705e32"/><stop offset="1" stop-color="#a47d2f"/></linearGradient><linearGradient id="g687" gradientUnits="userSpaceOnUse" x1="415.3" y1="275.5" x2="410.6" y2="283.8"><stop stop-color="#a73b4d"/><stop offset="1" stop-color="#8d3e7b"/></linearGradient><linearGradient id="g688" gradientUnits="userSpaceOnUse" x1="383.8" y1="301.3" x2="378.6" y2="299.1"><stop stop-color="#78308a"/><stop offset="1" stop-color="#8b3fa0"/></linearGradient><linearGradient id="g689" gradientUnits="userSpaceOnUse" x1="398.5" y1="297.1" x2="393.4" y2="299.9"><stop stop-color="#6f3ea6"/><stop offset="1" stop-color="#6c3292"/></linearGradient><linearGradient id="g690" gradientUnits="userSpaceOnUse" x1="437.2" y1="233.0" x2="433.3" y2="239.7"><stop stop-color="#ee762c"/><stop offset="1" stop-color="#e45e26"/></linearGradient><linearGradient id="g691" gradientUnits="userSpaceOnUse" x1="361.4" y1="296.2" x2="356.3" y2="289.1"><stop stop-color="#9e4ea0"/><stop offset="1" stop-color="#bc7db7"/></linearGradient><linearGradient id="g692" gradientUnits="userSpaceOnUse" x1="420.0" y1="266.3" x2="415.3" y2="275.5"><stop stop-color="#be3826"/><stop offset="1" stop-color="#a73b4d"/></linearGradient><linearGradient id="g693" gradientUnits="userSpaceOnUse" x1="373.0" y1="300.1" x2="367.7" y2="295.3"><stop stop-color="#8d3c98"/><stop offset="1" stop-color="#9f55aa"/></linearGradient><linearGradient id="g694" gradientUnits="userSpaceOnUse" x1="450.2" y1="226.4" x2="446.4" y2="229.2"><stop stop-color="#e29830"/><stop offset="1" stop-color="#f89c30"/></linearGradient><linearGradient id="g695" gradientUnits="userSpaceOnUse" x1="460.4" y1="226.7" x2="456.6" y2="227.3"><stop stop-color="#a47c32"/><stop offset="1" stop-color="#df9a30"/></linearGradient><linearGradient id="g696" gradientUnits="userSpaceOnUse" x1="424.6" y1="256.9" x2="420.0" y2="266.3"><stop stop-color="#ce3e1b"/><stop offset="1" stop-color="#be3826"/></linearGradient><linearGradient id="g697" gradientUnits="userSpaceOnUse" x1="433.3" y1="239.7" x2="429.1" y2="247.9"><stop stop-color="#e45e26"/><stop offset="1" stop-color="#da4c21"/></linearGradient><linearGradient id="g698" gradientUnits="userSpaceOnUse" x1="429.1" y1="247.9" x2="424.6" y2="256.9"><stop stop-color="#da4c21"/><stop offset="1" stop-color="#ce3e1b"/></linearGradient><linearGradient id="g699" gradientUnits="userSpaceOnUse" x1="404.0" y1="292.1" x2="398.5" y2="297.1"><stop stop-color="#7642a5"/><stop offset="1" stop-color="#6f3ea6"/></linearGradient><linearGradient id="g700" gradientUnits="userSpaceOnUse" x1="478.4" y1="229.4" x2="474.4" y2="228.1"><stop stop-color="#725e2e"/><stop offset="1" stop-color="#a37c2b"/></linearGradient><linearGradient id="g701" gradientUnits="userSpaceOnUse" x1="389.5" y1="301.1" x2="383.8" y2="301.3"><stop stop-color="#6e2d86"/><stop offset="1" stop-color="#78308a"/></linearGradient><linearGradient id="g702" gradientUnits="userSpaceOnUse" x1="446.4" y1="229.2" x2="442.1" y2="234.2"><stop stop-color="#f89c30"/><stop offset="1" stop-color="#f2852e"/></linearGradient><linearGradient id="g703" gradientUnits="userSpaceOnUse" x1="409.6" y1="285.2" x2="404.0" y2="292.1"><stop stop-color="#87438c"/><stop offset="1" stop-color="#7642a5"/></linearGradient><linearGradient id="g704" gradientUnits="userSpaceOnUse" x1="379.0" y1="302.5" x2="373.0" y2="300.1"><stop stop-color="#7c2f84"/><stop offset="1" stop-color="#8d3c98"/></linearGradient><linearGradient id="g705" gradientUnits="userSpaceOnUse" x1="467.4" y1="227.4" x2="463.0" y2="228.2"><stop stop-color="#a47d2f"/><stop offset="1" stop-color="#d89a30"/></linearGradient><linearGradient id="g706" gradientUnits="userSpaceOnUse" x1="367.4" y1="301.1" x2="361.4" y2="296.2"><stop stop-color="#8f3d93"/><stop offset="1" stop-color="#9e4ea0"/></linearGradient><linearGradient id="g707" gradientUnits="userSpaceOnUse" x1="456.6" y1="227.3" x2="452.1" y2="230.3"><stop stop-color="#df9a30"/><stop offset="1" stop-color="#faa632"/></linearGradient><linearGradient id="g708" gradientUnits="userSpaceOnUse" x1="395.6" y1="298.4" x2="389.5" y2="301.1"><stop stop-color="#6f3aa0"/><stop offset="1" stop-color="#6e2d86"/></linearGradient><linearGradient id="g709" gradientUnits="userSpaceOnUse" x1="415.4" y1="276.9" x2="409.6" y2="285.2"><stop stop-color="#a53d57"/><stop offset="1" stop-color="#87438c"/></linearGradient><linearGradient id="g710" gradientUnits="userSpaceOnUse" x1="442.1" y1="234.2" x2="437.3" y2="241.0"><stop stop-color="#f2852e"/><stop offset="1" stop-color="#e96a29"/></linearGradient><linearGradient id="g711" gradientUnits="userSpaceOnUse" x1="421.1" y1="267.7" x2="415.4" y2="276.9"><stop stop-color="#c13b2a"/><stop offset="1" stop-color="#a53d57"/></linearGradient><linearGradient id="g712" gradientUnits="userSpaceOnUse" x1="437.3" y1="241.0" x2="432.2" y2="249.2"><stop stop-color="#e96a29"/><stop offset="1" stop-color="#df5626"/></linearGradient><linearGradient id="g713" gradientUnits="userSpaceOnUse" x1="426.7" y1="258.3" x2="421.1" y2="267.7"><stop stop-color="#d3461f"/><stop offset="1" stop-color="#c13b2a"/></linearGradient><linearGradient id="g714" gradientUnits="userSpaceOnUse" x1="432.2" y1="249.2" x2="426.7" y2="258.3"><stop stop-color="#df5626"/><stop offset="1" stop-color="#d3461f"/></linearGradient><linearGradient id="g715" gradientUnits="userSpaceOnUse" x1="402.0" y1="293.5" x2="395.6" y2="298.4"><stop stop-color="#7345ae"/><stop offset="1" stop-color="#6f3aa0"/></linearGradient><linearGradient id="g716" gradientUnits="userSpaceOnUse" x1="385.6" y1="302.3" x2="379.0" y2="302.5"><stop stop-color="#712a7d"/><stop offset="1" stop-color="#7c2f84"/></linearGradient><linearGradient id="g717" gradientUnits="userSpaceOnUse" x1="474.4" y1="228.1" x2="469.4" y2="229.1"><stop stop-color="#a37c2b"/><stop offset="1" stop-color="#d1982d"/></linearGradient><linearGradient id="g718" gradientUnits="userSpaceOnUse" x1="452.1" y1="230.3" x2="447.0" y2="235.3"><stop stop-color="#faa632"/><stop offset="1" stop-color="#f59330"/></linearGradient><linearGradient id="g719" gradientUnits="userSpaceOnUse" x1="463.0" y1="228.2" x2="457.8" y2="231.3"><stop stop-color="#d89a30"/><stop offset="1" stop-color="#f7ac36"/></linearGradient><linearGradient id="g720" gradientUnits="userSpaceOnUse" x1="374.2" y1="303.6" x2="367.4" y2="301.1"><stop stop-color="#813182"/><stop offset="1" stop-color="#8f3d93"/></linearGradient><linearGradient id="g721" gradientUnits="userSpaceOnUse" x1="408.7" y1="286.6" x2="402.0" y2="293.5"><stop stop-color="#7e4ba9"/><stop offset="1" stop-color="#7345ae"/></linearGradient><linearGradient id="g722" gradientUnits="userSpaceOnUse" x1="447.0" y1="235.3" x2="441.4" y2="242.2"><stop stop-color="#f59330"/><stop offset="1" stop-color="#ee782d"/></linearGradient><linearGradient id="g723" gradientUnits="userSpaceOnUse" x1="392.6" y1="299.7" x2="385.6" y2="302.3"><stop stop-color="#713798"/><stop offset="1" stop-color="#712a7d"/></linearGradient><linearGradient id="g724" gradientUnits="userSpaceOnUse" x1="415.5" y1="278.3" x2="408.7" y2="286.6"><stop stop-color="#a43e5e"/><stop offset="1" stop-color="#7e4ba9"/></linearGradient><linearGradient id="g725" gradientUnits="userSpaceOnUse" x1="441.4" y1="242.2" x2="435.3" y2="250.5"><stop stop-color="#ee782d"/><stop offset="1" stop-color="#e66329"/></linearGradient><linearGradient id="g726" gradientUnits="userSpaceOnUse" x1="422.2" y1="269.1" x2="415.5" y2="278.3"><stop stop-color="#c63d24"/><stop offset="1" stop-color="#a43e5e"/></linearGradient><linearGradient id="g727" gradientUnits="userSpaceOnUse" x1="457.8" y1="231.3" x2="451.9" y2="236.4"><stop stop-color="#f7ac36"/><stop offset="1" stop-color="#f89f32"/></linearGradient><linearGradient id="g728" gradientUnits="userSpaceOnUse" x1="381.7" y1="303.5" x2="374.2" y2="303.6"><stop stop-color="#772d82"/><stop offset="1" stop-color="#813182"/></linearGradient><linearGradient id="g729" gradientUnits="userSpaceOnUse" x1="435.3" y1="250.5" x2="428.9" y2="259.7"><stop stop-color="#e66329"/><stop offset="1" stop-color="#d84f21"/></linearGradient><linearGradient id="g730" gradientUnits="userSpaceOnUse" x1="469.4" y1="229.1" x2="463.5" y2="232.3"><stop stop-color="#d1982d"/><stop offset="1" stop-color="#f0aa32"/></linearGradient><linearGradient id="g731" gradientUnits="userSpaceOnUse" x1="428.9" y1="259.7" x2="422.2" y2="269.1"><stop stop-color="#d84f21"/><stop offset="1" stop-color="#c63d24"/></linearGradient><linearGradient id="g732" gradientUnits="userSpaceOnUse" x1="400.1" y1="294.8" x2="392.6" y2="299.7"><stop stop-color="#7444ad"/><stop offset="1" stop-color="#713798"/></linearGradient><linearGradient id="g733" gradientUnits="userSpaceOnUse" x1="451.9" y1="236.4" x2="445.4" y2="243.4"><stop stop-color="#f89f32"/><stop offset="1" stop-color="#f28730"/></linearGradient><linearGradient id="g734" gradientUnits="userSpaceOnUse" x1="407.7" y1="288.0" x2="400.1" y2="294.8"><stop stop-color="#7951bc"/><stop offset="1" stop-color="#7444ad"/></linearGradient><linearGradient id="g735" gradientUnits="userSpaceOnUse" x1="389.7" y1="301.0" x2="381.7" y2="303.5"><stop stop-color="#753593"/><stop offset="1" stop-color="#772d82"/></linearGradient><linearGradient id="g736" gradientUnits="userSpaceOnUse" x1="463.5" y1="232.3" x2="456.8" y2="237.6"><stop stop-color="#f0aa32"/><stop offset="1" stop-color="#f8a531"/></linearGradient><linearGradient id="g737" gradientUnits="userSpaceOnUse" x1="445.4" y1="243.4" x2="438.4" y2="251.8"><stop stop-color="#f28730"/><stop offset="1" stop-color="#ed712d"/></linearGradient><linearGradient id="g738" gradientUnits="userSpaceOnUse" x1="415.6" y1="279.7" x2="407.7" y2="288.0"><stop stop-color="#a54060"/><stop offset="1" stop-color="#7951bc"/></linearGradient><linearGradient id="g739" gradientUnits="userSpaceOnUse" x1="423.4" y1="270.5" x2="415.6" y2="279.7"><stop stop-color="#cc401d"/><stop offset="1" stop-color="#a54060"/></linearGradient><linearGradient id="g740" gradientUnits="userSpaceOnUse" x1="438.4" y1="251.8" x2="431.0" y2="261.0"><stop stop-color="#ed712d"/><stop offset="1" stop-color="#df5922"/></linearGradient><linearGradient id="g741" gradientUnits="userSpaceOnUse" x1="431.0" y1="261.0" x2="423.4" y2="270.5"><stop stop-color="#df5922"/><stop offset="1" stop-color="#cc401d"/></linearGradient><linearGradient id="g742" gradientUnits="userSpaceOnUse" x1="398.1" y1="296.2" x2="389.7" y2="301.0"><stop stop-color="#7941a3"/><stop offset="1" stop-color="#753593"/></linearGradient><linearGradient id="g743" gradientUnits="userSpaceOnUse" x1="456.8" y1="237.6" x2="449.5" y2="244.7"><stop stop-color="#f8a531"/><stop offset="1" stop-color="#f89430"/></linearGradient><linearGradient id="g744" gradientUnits="userSpaceOnUse" x1="406.8" y1="289.4" x2="398.1" y2="296.2"><stop stop-color="#844ba4"/><stop offset="1" stop-color="#7941a3"/></linearGradient><linearGradient id="g745" gradientUnits="userSpaceOnUse" x1="449.5" y1="244.7" x2="441.5" y2="253.1"><stop stop-color="#f89430"/><stop offset="1" stop-color="#f17c2e"/></linearGradient><linearGradient id="g746" gradientUnits="userSpaceOnUse" x1="415.6" y1="281.2" x2="406.8" y2="289.4"><stop stop-color="#a64667"/><stop offset="1" stop-color="#844ba4"/></linearGradient><linearGradient id="g747" gradientUnits="userSpaceOnUse" x1="441.5" y1="253.1" x2="433.2" y2="262.4"><stop stop-color="#f17c2e"/><stop offset="1" stop-color="#e26127"/></linearGradient><linearGradient id="g748" gradientUnits="userSpaceOnUse" x1="424.5" y1="272.0" x2="415.6" y2="281.2"><stop stop-color="#cc492a"/><stop offset="1" stop-color="#a64667"/></linearGradient><linearGradient id="g749" gradientUnits="userSpaceOnUse" x1="433.2" y1="262.4" x2="424.5" y2="272.0"><stop stop-color="#e26127"/><stop offset="1" stop-color="#cc492a"/></linearGradient><linearGradient id="g750" gradientUnits="userSpaceOnUse" x1="706.2" y1="257.1" x2="714.8" y2="265.5"><stop stop-color="#352d41"/><stop offset="1" stop-color="#322641"/></linearGradient><linearGradient id="g751" gradientUnits="userSpaceOnUse" x1="712.6" y1="263.4" x2="704.0" y2="254.9"><stop stop-color="#332741"/><stop offset="1" stop-color="#362f41"/></linearGradient><linearGradient id="g752" gradientUnits="userSpaceOnUse" x1="697.5" y1="248.1" x2="706.2" y2="257.1"><stop stop-color="#383541"/><stop offset="1" stop-color="#352d41"/></linearGradient><linearGradient id="g753" gradientUnits="userSpaceOnUse" x1="704.0" y1="254.9" x2="695.4" y2="245.9"><stop stop-color="#362f41"/><stop offset="1" stop-color="#393740"/></linearGradient><linearGradient id="g754" gradientUnits="userSpaceOnUse" x1="713.9" y1="258.0" x2="721.1" y2="266.2"><stop stop-color="#342c41"/><stop offset="1" stop-color="#322541"/></linearGradient><linearGradient id="g755" gradientUnits="userSpaceOnUse" x1="689.0" y1="239.2" x2="697.5" y2="248.1"><stop stop-color="#3d3d3f"/><stop offset="1" stop-color="#383541"/></linearGradient><linearGradient id="g756" gradientUnits="userSpaceOnUse" x1="719.3" y1="264.3" x2="712.1" y2="255.9"><stop stop-color="#322641"/><stop offset="1" stop-color="#352d41"/></linearGradient><linearGradient id="g757" gradientUnits="userSpaceOnUse" x1="695.4" y1="245.9" x2="686.9" y2="237.1"><stop stop-color="#393740"/><stop offset="1" stop-color="#3f403f"/></linearGradient><linearGradient id="g758" gradientUnits="userSpaceOnUse" x1="706.6" y1="249.3" x2="713.9" y2="258.0"><stop stop-color="#373341"/><stop offset="1" stop-color="#342c41"/></linearGradient><linearGradient id="g759" gradientUnits="userSpaceOnUse" x1="712.1" y1="255.9" x2="704.8" y2="247.0"><stop stop-color="#352d41"/><stop offset="1" stop-color="#383540"/></linearGradient><linearGradient id="g760" gradientUnits="userSpaceOnUse" x1="680.7" y1="231.0" x2="689.0" y2="239.2"><stop stop-color="#45483d"/><stop offset="1" stop-color="#3d3d3f"/></linearGradient><linearGradient id="g761" gradientUnits="userSpaceOnUse" x1="721.7" y1="259.0" x2="727.4" y2="267.0"><stop stop-color="#332a42"/><stop offset="1" stop-color="#312341"/></linearGradient><linearGradient id="g762" gradientUnits="userSpaceOnUse" x1="726.0" y1="265.1" x2="720.2" y2="256.9"><stop stop-color="#322541"/><stop offset="1" stop-color="#342c42"/></linearGradient><linearGradient id="g763" gradientUnits="userSpaceOnUse" x1="686.9" y1="237.1" x2="678.7" y2="229.1"><stop stop-color="#3f403f"/><stop offset="1" stop-color="#474b3c"/></linearGradient><linearGradient id="g764" gradientUnits="userSpaceOnUse" x1="699.2" y1="240.5" x2="706.6" y2="249.3"><stop stop-color="#3c3c3f"/><stop offset="1" stop-color="#373341"/></linearGradient><linearGradient id="g765" gradientUnits="userSpaceOnUse" x1="704.8" y1="247.0" x2="697.4" y2="238.4"><stop stop-color="#383540"/><stop offset="1" stop-color="#3d3e3e"/></linearGradient><linearGradient id="g766" gradientUnits="userSpaceOnUse" x1="715.7" y1="250.4" x2="721.7" y2="259.0"><stop stop-color="#363241"/><stop offset="1" stop-color="#332a42"/></linearGradient><linearGradient id="g767" gradientUnits="userSpaceOnUse" x1="729.4" y1="260.0" x2="733.7" y2="267.8"><stop stop-color="#322a43"/><stop offset="1" stop-color="#312342"/></linearGradient><linearGradient id="g768" gradientUnits="userSpaceOnUse" x1="720.2" y1="256.9" x2="714.1" y2="248.2"><stop stop-color="#342c42"/><stop offset="1" stop-color="#373441"/></linearGradient><linearGradient id="g769" gradientUnits="userSpaceOnUse" x1="672.8" y1="223.9" x2="680.7" y2="231.0"><stop stop-color="#515639"/><stop offset="1" stop-color="#45483d"/></linearGradient><linearGradient id="g770" gradientUnits="userSpaceOnUse" x1="732.7" y1="266.0" x2="728.3" y2="257.9"><stop stop-color="#312542"/><stop offset="1" stop-color="#332c43"/></linearGradient><linearGradient id="g771" gradientUnits="userSpaceOnUse" x1="678.7" y1="229.1" x2="670.8" y2="222.4"><stop stop-color="#474b3c"/><stop offset="1" stop-color="#565a38"/></linearGradient><linearGradient id="g772" gradientUnits="userSpaceOnUse" x1="691.9" y1="232.4" x2="699.2" y2="240.5"><stop stop-color="#43463c"/><stop offset="1" stop-color="#3c3c3f"/></linearGradient><linearGradient id="g773" gradientUnits="userSpaceOnUse" x1="697.4" y1="238.4" x2="690.1" y2="230.5"><stop stop-color="#3d3e3e"/><stop offset="1" stop-color="#46493b"/></linearGradient><linearGradient id="g774" gradientUnits="userSpaceOnUse" x1="709.4" y1="241.8" x2="715.7" y2="250.4"><stop stop-color="#3b3a3f"/><stop offset="1" stop-color="#363241"/></linearGradient><linearGradient id="g775" gradientUnits="userSpaceOnUse" x1="724.7" y1="251.5" x2="729.4" y2="260.0"><stop stop-color="#353142"/><stop offset="1" stop-color="#322a43"/></linearGradient><linearGradient id="g776" gradientUnits="userSpaceOnUse" x1="714.1" y1="248.2" x2="707.9" y2="239.7"><stop stop-color="#373441"/><stop offset="1" stop-color="#3c3d3e"/></linearGradient><linearGradient id="g777" gradientUnits="userSpaceOnUse" x1="728.3" y1="257.9" x2="723.5" y2="249.4"><stop stop-color="#332c43"/><stop offset="1" stop-color="#363341"/></linearGradient><linearGradient id="g778" gradientUnits="userSpaceOnUse" x1="665.3" y1="218.6" x2="672.8" y2="223.9"><stop stop-color="#676934"/><stop offset="1" stop-color="#515639"/></linearGradient><linearGradient id="g779" gradientUnits="userSpaceOnUse" x1="670.8" y1="222.4" x2="663.5" y2="217.6"><stop stop-color="#565a38"/><stop offset="1" stop-color="#6e6f33"/></linearGradient><linearGradient id="g780" gradientUnits="userSpaceOnUse" x1="684.8" y1="225.5" x2="691.9" y2="232.4"><stop stop-color="#505438"/><stop offset="1" stop-color="#43463c"/></linearGradient><linearGradient id="g781" gradientUnits="userSpaceOnUse" x1="703.1" y1="233.8" x2="709.4" y2="241.8"><stop stop-color="#42443c"/><stop offset="1" stop-color="#3b3a3f"/></linearGradient><linearGradient id="g782" gradientUnits="userSpaceOnUse" x1="690.1" y1="230.5" x2="683.0" y2="224.0"><stop stop-color="#46493b"/><stop offset="1" stop-color="#555837"/></linearGradient><linearGradient id="g783" gradientUnits="userSpaceOnUse" x1="719.7" y1="243.1" x2="724.7" y2="251.5"><stop stop-color="#39393f"/><stop offset="1" stop-color="#353142"/></linearGradient><linearGradient id="g784" gradientUnits="userSpaceOnUse" x1="707.9" y1="239.7" x2="701.5" y2="232.0"><stop stop-color="#3c3d3e"/><stop offset="1" stop-color="#45473b"/></linearGradient><linearGradient id="g785" gradientUnits="userSpaceOnUse" x1="723.5" y1="249.4" x2="718.4" y2="241.0"><stop stop-color="#363341"/><stop offset="1" stop-color="#3b3b3e"/></linearGradient><linearGradient id="g786" gradientUnits="userSpaceOnUse" x1="658.5" y1="215.4" x2="665.3" y2="218.6"><stop stop-color="#888430"/><stop offset="1" stop-color="#676934"/></linearGradient><linearGradient id="g787" gradientUnits="userSpaceOnUse" x1="663.5" y1="217.6" x2="656.9" y2="215.0"><stop stop-color="#6e6f33"/><stop offset="1" stop-color="#928b2f"/></linearGradient><linearGradient id="g788" gradientUnits="userSpaceOnUse" x1="677.9" y1="220.2" x2="684.8" y2="225.5"><stop stop-color="#666734"/><stop offset="1" stop-color="#505438"/></linearGradient><linearGradient id="g789" gradientUnits="userSpaceOnUse" x1="696.8" y1="227.0" x2="703.1" y2="233.8"><stop stop-color="#4f5238"/><stop offset="1" stop-color="#42443c"/></linearGradient><linearGradient id="g790" gradientUnits="userSpaceOnUse" x1="752.7" y1="268.5" x2="752.5" y2="261.0"><stop stop-color="#2d2446"/><stop offset="1" stop-color="#2e2b45"/></linearGradient><linearGradient id="g791" gradientUnits="userSpaceOnUse" x1="683.0" y1="224.0" x2="676.3" y2="219.2"><stop stop-color="#555837"/><stop offset="1" stop-color="#6d6d32"/></linearGradient><linearGradient id="g792" gradientUnits="userSpaceOnUse" x1="714.3" y1="235.2" x2="719.7" y2="243.1"><stop stop-color="#41433b"/><stop offset="1" stop-color="#39393f"/></linearGradient><linearGradient id="g793" gradientUnits="userSpaceOnUse" x1="729.9" y1="244.4" x2="733.8" y2="252.7"><stop stop-color="#38383e"/><stop offset="1" stop-color="#343143"/></linearGradient><linearGradient id="g794" gradientUnits="userSpaceOnUse" x1="762.4" y1="276.3" x2="766.1" y2="270.2"><stop stop-color="#281c39"/><stop offset="1" stop-color="#2a2241"/></linearGradient><linearGradient id="g795" gradientUnits="userSpaceOnUse" x1="701.5" y1="232.0" x2="695.2" y2="225.5"><stop stop-color="#45473b"/><stop offset="1" stop-color="#535636"/></linearGradient><linearGradient id="g796" gradientUnits="userSpaceOnUse" x1="718.4" y1="241.0" x2="713.0" y2="233.4"><stop stop-color="#3b3b3e"/><stop offset="1" stop-color="#43463a"/></linearGradient><linearGradient id="g797" gradientUnits="userSpaceOnUse" x1="732.8" y1="250.6" x2="728.8" y2="242.4"><stop stop-color="#343342"/><stop offset="1" stop-color="#393a3d"/></linearGradient><linearGradient id="g798" gradientUnits="userSpaceOnUse" x1="760.4" y1="263.9" x2="758.9" y2="271.0"><stop stop-color="#2d2944"/><stop offset="1" stop-color="#2a2141"/></linearGradient><linearGradient id="g799" gradientUnits="userSpaceOnUse" x1="652.4" y1="214.5" x2="658.5" y2="215.4"><stop stop-color="#b2a42d"/><stop offset="1" stop-color="#888430"/></linearGradient><linearGradient id="g800" gradientUnits="userSpaceOnUse" x1="759.4" y1="269.3" x2="760.6" y2="262.0"><stop stop-color="#2b2343"/><stop offset="1" stop-color="#2e2b44"/></linearGradient><linearGradient id="g801" gradientUnits="userSpaceOnUse" x1="671.5" y1="217.0" x2="677.9" y2="220.2"><stop stop-color="#87812f"/><stop offset="1" stop-color="#666734"/></linearGradient><linearGradient id="g802" gradientUnits="userSpaceOnUse" x1="656.9" y1="215.0" x2="651.0" y2="214.7"><stop stop-color="#928b2f"/><stop offset="1" stop-color="#bdac2c"/></linearGradient><linearGradient id="g803" gradientUnits="userSpaceOnUse" x1="751.9" y1="255.0" x2="752.7" y2="262.9"><stop stop-color="#303140"/><stop offset="1" stop-color="#2e2946"/></linearGradient><linearGradient id="g804" gradientUnits="userSpaceOnUse" x1="690.6" y1="221.8" x2="696.8" y2="227.0"><stop stop-color="#656533"/><stop offset="1" stop-color="#4f5238"/></linearGradient><linearGradient id="g805" gradientUnits="userSpaceOnUse" x1="676.3" y1="219.2" x2="670.0" y2="216.6"><stop stop-color="#6d6d32"/><stop offset="1" stop-color="#91892e"/></linearGradient><linearGradient id="g806" gradientUnits="userSpaceOnUse" x1="768.2" y1="264.9" x2="765.2" y2="271.8"><stop stop-color="#2c2844"/><stop offset="1" stop-color="#29203f"/></linearGradient><linearGradient id="g807" gradientUnits="userSpaceOnUse" x1="708.8" y1="228.5" x2="714.3" y2="235.2"><stop stop-color="#4e5037"/><stop offset="1" stop-color="#41433b"/></linearGradient><linearGradient id="g808" gradientUnits="userSpaceOnUse" x1="725.5" y1="236.6" x2="729.9" y2="244.4"><stop stop-color="#3f413a"/><stop offset="1" stop-color="#38383e"/></linearGradient><linearGradient id="g809" gradientUnits="userSpaceOnUse" x1="695.2" y1="225.5" x2="689.0" y2="220.8"><stop stop-color="#535636"/><stop offset="1" stop-color="#6c6a32"/></linearGradient><linearGradient id="g810" gradientUnits="userSpaceOnUse" x1="713.0" y1="233.4" x2="707.4" y2="227.0"><stop stop-color="#43463a"/><stop offset="1" stop-color="#525435"/></linearGradient><linearGradient id="g811" gradientUnits="userSpaceOnUse" x1="728.8" y1="242.4" x2="724.4" y2="234.8"><stop stop-color="#393a3d"/><stop offset="1" stop-color="#414438"/></linearGradient><linearGradient id="g812" gradientUnits="userSpaceOnUse" x1="766.1" y1="270.2" x2="768.7" y2="263.0"><stop stop-color="#2a2241"/><stop offset="1" stop-color="#2d2a45"/></linearGradient><linearGradient id="g813" gradientUnits="userSpaceOnUse" x1="647.1" y1="216.2" x2="652.4" y2="214.5"><stop stop-color="#ddc32d"/><stop offset="1" stop-color="#b2a42d"/></linearGradient><linearGradient id="g814" gradientUnits="userSpaceOnUse" x1="760.9" y1="256.1" x2="760.4" y2="263.9"><stop stop-color="#303043"/><stop offset="1" stop-color="#2d2944"/></linearGradient><linearGradient id="g815" gradientUnits="userSpaceOnUse" x1="665.6" y1="216.2" x2="671.5" y2="217.0"><stop stop-color="#b1a22c"/><stop offset="1" stop-color="#87812f"/></linearGradient><linearGradient id="g816" gradientUnits="userSpaceOnUse" x1="651.0" y1="214.7" x2="645.9" y2="217.0"><stop stop-color="#bdac2c"/><stop offset="1" stop-color="#e6c92d"/></linearGradient><linearGradient id="g817" gradientUnits="userSpaceOnUse" x1="684.5" y1="218.7" x2="690.6" y2="221.8"><stop stop-color="#867f2e"/><stop offset="1" stop-color="#656533"/></linearGradient><linearGradient id="g818" gradientUnits="userSpaceOnUse" x1="670.0" y1="216.6" x2="664.2" y2="216.4"><stop stop-color="#91892e"/><stop offset="1" stop-color="#bcaa2c"/></linearGradient><linearGradient id="g819" gradientUnits="userSpaceOnUse" x1="703.2" y1="223.4" x2="708.8" y2="228.5"><stop stop-color="#636232"/><stop offset="1" stop-color="#4e5037"/></linearGradient><linearGradient id="g820" gradientUnits="userSpaceOnUse" x1="736.8" y1="238.0" x2="740.1" y2="245.7"><stop stop-color="#3d3f37"/><stop offset="1" stop-color="#36373c"/></linearGradient><linearGradient id="g821" gradientUnits="userSpaceOnUse" x1="720.8" y1="230.0" x2="725.5" y2="236.6"><stop stop-color="#4c4d35"/><stop offset="1" stop-color="#3f413a"/></linearGradient><linearGradient id="g822" gradientUnits="userSpaceOnUse" x1="689.0" y1="220.8" x2="683.1" y2="218.3"><stop stop-color="#6c6a32"/><stop offset="1" stop-color="#90872d"/></linearGradient><linearGradient id="g823" gradientUnits="userSpaceOnUse" x1="707.4" y1="227.0" x2="701.8" y2="222.4"><stop stop-color="#525435"/><stop offset="1" stop-color="#6a6831"/></linearGradient><linearGradient id="g824" gradientUnits="userSpaceOnUse" x1="739.3" y1="243.7" x2="735.8" y2="236.3"><stop stop-color="#37393b"/><stop offset="1" stop-color="#3f4136"/></linearGradient><linearGradient id="g825" gradientUnits="userSpaceOnUse" x1="724.4" y1="234.8" x2="719.6" y2="228.6"><stop stop-color="#414438"/><stop offset="1" stop-color="#505134"/></linearGradient><linearGradient id="g826" gradientUnits="userSpaceOnUse" x1="642.7" y1="220.2" x2="647.1" y2="216.2"><stop stop-color="#f9d430"/><stop offset="1" stop-color="#ddc32d"/></linearGradient><linearGradient id="g827" gradientUnits="userSpaceOnUse" x1="660.3" y1="217.8" x2="665.6" y2="216.2"><stop stop-color="#dbc02c"/><stop offset="1" stop-color="#b1a22c"/></linearGradient><linearGradient id="g828" gradientUnits="userSpaceOnUse" x1="645.9" y1="217.0" x2="641.8" y2="221.6"><stop stop-color="#e6c92d"/><stop offset="1" stop-color="#fdd531"/></linearGradient><linearGradient id="g829" gradientUnits="userSpaceOnUse" x1="760.5" y1="248.2" x2="760.9" y2="256.1"><stop stop-color="#333337"/><stop offset="1" stop-color="#303043"/></linearGradient><linearGradient id="g830" gradientUnits="userSpaceOnUse" x1="678.8" y1="217.9" x2="684.5" y2="218.7"><stop stop-color="#b09f2b"/><stop offset="1" stop-color="#867f2e"/></linearGradient><linearGradient id="g831" gradientUnits="userSpaceOnUse" x1="664.2" y1="216.4" x2="659.1" y2="218.6"><stop stop-color="#bcaa2c"/><stop offset="1" stop-color="#e3c52d"/></linearGradient><linearGradient id="g832" gradientUnits="userSpaceOnUse" x1="748.0" y1="239.4" x2="750.3" y2="246.9"><stop stop-color="#3a3c33"/><stop offset="1" stop-color="#34363a"/></linearGradient><linearGradient id="g833" gradientUnits="userSpaceOnUse" x1="697.6" y1="220.3" x2="703.2" y2="223.4"><stop stop-color="#857d2d"/><stop offset="1" stop-color="#636232"/></linearGradient><linearGradient id="g834" gradientUnits="userSpaceOnUse" x1="760.9" y1="254.1" x2="760.3" y2="246.3"><stop stop-color="#313141"/><stop offset="1" stop-color="#343433"/></linearGradient><linearGradient id="g835" gradientUnits="userSpaceOnUse" x1="683.1" y1="218.3" x2="677.4" y2="218.1"><stop stop-color="#90872d"/><stop offset="1" stop-color="#bca82b"/></linearGradient><linearGradient id="g836" gradientUnits="userSpaceOnUse" x1="715.8" y1="225.0" x2="720.8" y2="230.0"><stop stop-color="#615f30"/><stop offset="1" stop-color="#4c4d35"/></linearGradient><linearGradient id="g837" gradientUnits="userSpaceOnUse" x1="732.9" y1="231.5" x2="736.8" y2="238.0"><stop stop-color="#494a32"/><stop offset="1" stop-color="#3d3f37"/></linearGradient><linearGradient id="g838" gradientUnits="userSpaceOnUse" x1="701.8" y1="222.4" x2="696.2" y2="219.9"><stop stop-color="#6a6831"/><stop offset="1" stop-color="#8f852c"/></linearGradient><linearGradient id="g839" gradientUnits="userSpaceOnUse" x1="719.6" y1="228.6" x2="714.5" y2="224.0"><stop stop-color="#505134"/><stop offset="1" stop-color="#69652f"/></linearGradient><linearGradient id="g840" gradientUnits="userSpaceOnUse" x1="735.8" y1="236.3" x2="731.8" y2="230.1"><stop stop-color="#3f4136"/><stop offset="1" stop-color="#4d4e31"/></linearGradient><linearGradient id="g841" gradientUnits="userSpaceOnUse" x1="770.7" y1="249.5" x2="770.0" y2="257.2"><stop stop-color="#2f2f36"/><stop offset="1" stop-color="#2f2e42"/></linearGradient><linearGradient id="g842" gradientUnits="userSpaceOnUse" x1="655.7" y1="221.9" x2="660.3" y2="217.8"><stop stop-color="#f6d02f"/><stop offset="1" stop-color="#dbc02c"/></linearGradient><linearGradient id="g843" gradientUnits="userSpaceOnUse" x1="673.5" y1="219.5" x2="678.8" y2="217.9"><stop stop-color="#dabd2c"/><stop offset="1" stop-color="#b09f2b"/></linearGradient><linearGradient id="g844" gradientUnits="userSpaceOnUse" x1="659.1" y1="218.6" x2="654.6" y2="223.2"><stop stop-color="#e3c52d"/><stop offset="1" stop-color="#fad130"/></linearGradient><linearGradient id="g845" gradientUnits="userSpaceOnUse" x1="770.3" y1="255.3" x2="770.8" y2="247.6"><stop stop-color="#2f2e3f"/><stop offset="1" stop-color="#302f33"/></linearGradient><linearGradient id="g846" gradientUnits="userSpaceOnUse" x1="759.2" y1="240.9" x2="760.5" y2="248.2"><stop stop-color="#36372e"/><stop offset="1" stop-color="#333337"/></linearGradient><linearGradient id="g847" gradientUnits="userSpaceOnUse" x1="692.0" y1="219.5" x2="697.6" y2="220.3"><stop stop-color="#b09d2b"/><stop offset="1" stop-color="#857d2d"/></linearGradient><linearGradient id="g848" gradientUnits="userSpaceOnUse" x1="677.4" y1="218.1" x2="672.2" y2="220.3"><stop stop-color="#bca82b"/><stop offset="1" stop-color="#e3c32c"/></linearGradient><linearGradient id="g849" gradientUnits="userSpaceOnUse" x1="710.6" y1="222.0" x2="715.8" y2="225.0"><stop stop-color="#837a2c"/><stop offset="1" stop-color="#615f30"/></linearGradient><linearGradient id="g850" gradientUnits="userSpaceOnUse" x1="744.9" y1="233.0" x2="748.0" y2="239.4"><stop stop-color="#45452e"/><stop offset="1" stop-color="#3a3c33"/></linearGradient><linearGradient id="g851" gradientUnits="userSpaceOnUse" x1="728.5" y1="226.6" x2="732.9" y2="231.5"><stop stop-color="#5f5c2d"/><stop offset="1" stop-color="#494a32"/></linearGradient><linearGradient id="g852" gradientUnits="userSpaceOnUse" x1="696.2" y1="219.9" x2="690.7" y2="219.7"><stop stop-color="#8f852c"/><stop offset="1" stop-color="#bca62b"/></linearGradient><linearGradient id="g853" gradientUnits="userSpaceOnUse" x1="637.0" y1="234.8" x2="639.3" y2="226.6"><stop stop-color="#f7c338"/><stop offset="1" stop-color="#ffd234"/></linearGradient><linearGradient id="g854" gradientUnits="userSpaceOnUse" x1="714.5" y1="224.0" x2="709.3" y2="221.6"><stop stop-color="#69652f"/><stop offset="1" stop-color="#8e822b"/></linearGradient><linearGradient id="g855" gradientUnits="userSpaceOnUse" x1="747.3" y1="237.7" x2="744.0" y2="231.6"><stop stop-color="#3c3e31"/><stop offset="1" stop-color="#49492d"/></linearGradient><linearGradient id="g856" gradientUnits="userSpaceOnUse" x1="731.8" y1="230.1" x2="727.3" y2="225.6"><stop stop-color="#4d4e31"/><stop offset="1" stop-color="#66622c"/></linearGradient><linearGradient id="g857" gradientUnits="userSpaceOnUse" x1="651.8" y1="228.1" x2="655.7" y2="221.9"><stop stop-color="#fed033"/><stop offset="1" stop-color="#f6d02f"/></linearGradient><linearGradient id="g858" gradientUnits="userSpaceOnUse" x1="638.6" y1="228.4" x2="636.6" y2="237.1"><stop stop-color="#fecf35"/><stop offset="1" stop-color="#f5bf3a"/></linearGradient><linearGradient id="g859" gradientUnits="userSpaceOnUse" x1="668.6" y1="223.5" x2="673.5" y2="219.5"><stop stop-color="#f6ce2f"/><stop offset="1" stop-color="#dabd2c"/></linearGradient><linearGradient id="g860" gradientUnits="userSpaceOnUse" x1="770.4" y1="242.3" x2="770.7" y2="249.5"><stop stop-color="#32322e"/><stop offset="1" stop-color="#2f2f36"/></linearGradient><linearGradient id="g861" gradientUnits="userSpaceOnUse" x1="686.7" y1="221.2" x2="692.0" y2="219.5"><stop stop-color="#dbbc2c"/><stop offset="1" stop-color="#b09d2b"/></linearGradient><linearGradient id="g862" gradientUnits="userSpaceOnUse" x1="672.2" y1="220.3" x2="667.5" y2="224.9"><stop stop-color="#e3c32c"/><stop offset="1" stop-color="#facf30"/></linearGradient><linearGradient id="g863" gradientUnits="userSpaceOnUse" x1="705.3" y1="221.2" x2="710.6" y2="222.0"><stop stop-color="#b09b2a"/><stop offset="1" stop-color="#837a2c"/></linearGradient><linearGradient id="g864" gradientUnits="userSpaceOnUse" x1="756.9" y1="234.5" x2="759.2" y2="240.9"><stop stop-color="#3f3f2a"/><stop offset="1" stop-color="#36372e"/></linearGradient><linearGradient id="g865" gradientUnits="userSpaceOnUse" x1="690.7" y1="219.7" x2="685.4" y2="221.9"><stop stop-color="#bca62b"/><stop offset="1" stop-color="#e4c12d"/></linearGradient><linearGradient id="g866" gradientUnits="userSpaceOnUse" x1="770.8" y1="247.6" x2="770.1" y2="240.6"><stop stop-color="#302f33"/><stop offset="1" stop-color="#33332c"/></linearGradient><linearGradient id="g867" gradientUnits="userSpaceOnUse" x1="723.6" y1="223.6" x2="728.5" y2="226.6"><stop stop-color="#81772a"/><stop offset="1" stop-color="#5f5c2d"/></linearGradient><linearGradient id="g868" gradientUnits="userSpaceOnUse" x1="741.1" y1="228.2" x2="744.9" y2="233.0"><stop stop-color="#5b572a"/><stop offset="1" stop-color="#45452e"/></linearGradient><linearGradient id="g869" gradientUnits="userSpaceOnUse" x1="635.7" y1="244.4" x2="637.0" y2="234.8"><stop stop-color="#f3b341"/><stop offset="1" stop-color="#f7c338"/></linearGradient><linearGradient id="g870" gradientUnits="userSpaceOnUse" x1="709.3" y1="221.6" x2="703.9" y2="221.4"><stop stop-color="#8e822b"/><stop offset="1" stop-color="#bba32a"/></linearGradient><linearGradient id="g871" gradientUnits="userSpaceOnUse" x1="648.8" y1="236.3" x2="651.8" y2="228.1"><stop stop-color="#fbc438"/><stop offset="1" stop-color="#fed033"/></linearGradient><linearGradient id="g872" gradientUnits="userSpaceOnUse" x1="758.7" y1="239.2" x2="756.2" y2="233.2"><stop stop-color="#37382d"/><stop offset="1" stop-color="#434229"/></linearGradient><linearGradient id="g873" gradientUnits="userSpaceOnUse" x1="727.3" y1="225.6" x2="722.4" y2="223.2"><stop stop-color="#66622c"/><stop offset="1" stop-color="#8c7e29"/></linearGradient><linearGradient id="g874" gradientUnits="userSpaceOnUse" x1="636.6" y1="237.1" x2="635.6" y2="247.0"><stop stop-color="#f5bf3a"/><stop offset="1" stop-color="#f1af44"/></linearGradient><linearGradient id="g875" gradientUnits="userSpaceOnUse" x1="744.0" y1="231.6" x2="740.0" y2="227.2"><stop stop-color="#49492d"/><stop offset="1" stop-color="#625d29"/></linearGradient><linearGradient id="g876" gradientUnits="userSpaceOnUse" x1="664.3" y1="229.7" x2="668.6" y2="223.5"><stop stop-color="#ffce33"/><stop offset="1" stop-color="#f6ce2f"/></linearGradient><linearGradient id="g877" gradientUnits="userSpaceOnUse" x1="651.0" y1="230.0" x2="648.2" y2="238.5"><stop stop-color="#fecd34"/><stop offset="1" stop-color="#fac03a"/></linearGradient><linearGradient id="g878" gradientUnits="userSpaceOnUse" x1="681.6" y1="225.1" x2="686.7" y2="221.2"><stop stop-color="#f8cd2f"/><stop offset="1" stop-color="#dbbc2c"/></linearGradient><linearGradient id="g879" gradientUnits="userSpaceOnUse" x1="685.4" y1="221.9" x2="680.3" y2="226.5"><stop stop-color="#e4c12d"/><stop offset="1" stop-color="#fbcf30"/></linearGradient><linearGradient id="g880" gradientUnits="userSpaceOnUse" x1="699.9" y1="222.8" x2="705.3" y2="221.2"><stop stop-color="#dcba2c"/><stop offset="1" stop-color="#b09b2a"/></linearGradient><linearGradient id="g881" gradientUnits="userSpaceOnUse" x1="768.9" y1="236.1" x2="770.4" y2="242.3"><stop stop-color="#3b3a29"/><stop offset="1" stop-color="#32322e"/></linearGradient><linearGradient id="g882" gradientUnits="userSpaceOnUse" x1="635.6" y1="255.0" x2="635.7" y2="244.4"><stop stop-color="#eca14c"/><stop offset="1" stop-color="#f3b341"/></linearGradient><linearGradient id="g883" gradientUnits="userSpaceOnUse" x1="718.5" y1="222.9" x2="723.6" y2="223.6"><stop stop-color="#ae9829"/><stop offset="1" stop-color="#81772a"/></linearGradient><linearGradient id="g884" gradientUnits="userSpaceOnUse" x1="646.7" y1="245.8" x2="648.8" y2="236.3"><stop stop-color="#f5b441"/><stop offset="1" stop-color="#fbc438"/></linearGradient><linearGradient id="g885" gradientUnits="userSpaceOnUse" x1="703.9" y1="221.4" x2="698.5" y2="223.6"><stop stop-color="#bba32a"/><stop offset="1" stop-color="#e5c02d"/></linearGradient><linearGradient id="g886" gradientUnits="userSpaceOnUse" x1="753.7" y1="229.8" x2="756.9" y2="234.5"><stop stop-color="#565127"/><stop offset="1" stop-color="#3f3f2a"/></linearGradient><linearGradient id="g887" gradientUnits="userSpaceOnUse" x1="736.7" y1="225.2" x2="741.1" y2="228.2"><stop stop-color="#7e7228"/><stop offset="1" stop-color="#5b572a"/></linearGradient><linearGradient id="g888" gradientUnits="userSpaceOnUse" x1="635.6" y1="247.0" x2="635.7" y2="257.7"><stop stop-color="#f1af44"/><stop offset="1" stop-color="#e99d4e"/></linearGradient><linearGradient id="g889" gradientUnits="userSpaceOnUse" x1="660.7" y1="237.8" x2="664.3" y2="229.7"><stop stop-color="#fac238"/><stop offset="1" stop-color="#ffce33"/></linearGradient><linearGradient id="g890" gradientUnits="userSpaceOnUse" x1="770.1" y1="240.6" x2="768.4" y2="234.7"><stop stop-color="#33332c"/><stop offset="1" stop-color="#403e28"/></linearGradient><linearGradient id="g891" gradientUnits="userSpaceOnUse" x1="648.2" y1="238.5" x2="646.3" y2="248.4"><stop stop-color="#fac03a"/><stop offset="1" stop-color="#f4b043"/></linearGradient><linearGradient id="g892" gradientUnits="userSpaceOnUse" x1="722.4" y1="223.2" x2="717.2" y2="223.1"><stop stop-color="#8c7e29"/><stop offset="1" stop-color="#baa029"/></linearGradient><linearGradient id="g893" gradientUnits="userSpaceOnUse" x1="756.2" y1="233.2" x2="752.8" y2="228.8"><stop stop-color="#434229"/><stop offset="1" stop-color="#5e5827"/></linearGradient><linearGradient id="g894" gradientUnits="userSpaceOnUse" x1="740.0" y1="227.2" x2="735.5" y2="224.9"><stop stop-color="#625d29"/><stop offset="1" stop-color="#897a27"/></linearGradient><linearGradient id="g895" gradientUnits="userSpaceOnUse" x1="663.3" y1="231.6" x2="659.8" y2="240.0"><stop stop-color="#fecc34"/><stop offset="1" stop-color="#f8bf39"/></linearGradient><linearGradient id="g896" gradientUnits="userSpaceOnUse" x1="676.8" y1="231.3" x2="681.6" y2="225.1"><stop stop-color="#ffcd33"/><stop offset="1" stop-color="#f8cd2f"/></linearGradient><linearGradient id="g897" gradientUnits="userSpaceOnUse" x1="694.5" y1="226.8" x2="699.9" y2="222.8"><stop stop-color="#f9cc30"/><stop offset="1" stop-color="#dcba2c"/></linearGradient><linearGradient id="g898" gradientUnits="userSpaceOnUse" x1="636.5" y1="265.8" x2="635.6" y2="255.0"><stop stop-color="#e18e57"/><stop offset="1" stop-color="#eca14c"/></linearGradient><linearGradient id="g899" gradientUnits="userSpaceOnUse" x1="645.5" y1="256.2" x2="646.7" y2="245.8"><stop stop-color="#eea34b"/><stop offset="1" stop-color="#f5b441"/></linearGradient><linearGradient id="g900" gradientUnits="userSpaceOnUse" x1="698.5" y1="223.6" x2="693.2" y2="228.1"><stop stop-color="#e5c02d"/><stop offset="1" stop-color="#fccd31"/></linearGradient><linearGradient id="g901" gradientUnits="userSpaceOnUse" x1="713.1" y1="224.5" x2="718.5" y2="222.9"><stop stop-color="#dbb72b"/><stop offset="1" stop-color="#ae9829"/></linearGradient><linearGradient id="g902" gradientUnits="userSpaceOnUse" x1="657.7" y1="247.2" x2="660.7" y2="237.8"><stop stop-color="#f5b341"/><stop offset="1" stop-color="#fac238"/></linearGradient><linearGradient id="g903" gradientUnits="userSpaceOnUse" x1="646.3" y1="248.4" x2="645.4" y2="258.9"><stop stop-color="#f4b043"/><stop offset="1" stop-color="#ec9f4d"/></linearGradient><linearGradient id="g904" gradientUnits="userSpaceOnUse" x1="635.7" y1="257.7" x2="636.9" y2="268.5"><stop stop-color="#e99d4e"/><stop offset="1" stop-color="#de895b"/></linearGradient><linearGradient id="g905" gradientUnits="userSpaceOnUse" x1="766.3" y1="231.3" x2="768.9" y2="236.1"><stop stop-color="#534e26"/><stop offset="1" stop-color="#3b3a29"/></linearGradient><linearGradient id="g906" gradientUnits="userSpaceOnUse" x1="731.7" y1="224.5" x2="736.7" y2="225.2"><stop stop-color="#ac9428"/><stop offset="1" stop-color="#7e7228"/></linearGradient><linearGradient id="g907" gradientUnits="userSpaceOnUse" x1="717.2" y1="223.1" x2="711.7" y2="225.2"><stop stop-color="#baa029"/><stop offset="1" stop-color="#e5be2c"/></linearGradient><linearGradient id="g908" gradientUnits="userSpaceOnUse" x1="659.8" y1="240.0" x2="657.1" y2="249.7"><stop stop-color="#f8bf39"/><stop offset="1" stop-color="#f3af44"/></linearGradient><linearGradient id="g909" gradientUnits="userSpaceOnUse" x1="749.7" y1="226.9" x2="753.7" y2="229.8"><stop stop-color="#7a6e26"/><stop offset="1" stop-color="#565127"/></linearGradient><linearGradient id="g910" gradientUnits="userSpaceOnUse" x1="672.5" y1="239.2" x2="676.8" y2="231.3"><stop stop-color="#fcc339"/><stop offset="1" stop-color="#ffcd33"/></linearGradient><linearGradient id="g911" gradientUnits="userSpaceOnUse" x1="735.5" y1="224.9" x2="730.4" y2="224.7"><stop stop-color="#897a27"/><stop offset="1" stop-color="#b89d28"/></linearGradient><linearGradient id="g912" gradientUnits="userSpaceOnUse" x1="768.4" y1="234.7" x2="765.5" y2="230.4"><stop stop-color="#403e28"/><stop offset="1" stop-color="#5b5426"/></linearGradient><linearGradient id="g913" gradientUnits="userSpaceOnUse" x1="675.7" y1="233.1" x2="671.5" y2="241.5"><stop stop-color="#ffcb35"/><stop offset="1" stop-color="#fabf3b"/></linearGradient><linearGradient id="g914" gradientUnits="userSpaceOnUse" x1="752.8" y1="228.8" x2="748.6" y2="226.5"><stop stop-color="#5e5827"/><stop offset="1" stop-color="#857626"/></linearGradient><linearGradient id="g915" gradientUnits="userSpaceOnUse" x1="645.3" y1="266.9" x2="645.5" y2="256.2"><stop stop-color="#e48f5a"/><stop offset="1" stop-color="#eea34b"/></linearGradient><linearGradient id="g916" gradientUnits="userSpaceOnUse" x1="638.6" y1="276.3" x2="636.5" y2="265.8"><stop stop-color="#cc7567"/><stop offset="1" stop-color="#e18e57"/></linearGradient><linearGradient id="g917" gradientUnits="userSpaceOnUse" x1="655.5" y1="257.5" x2="657.7" y2="247.2"><stop stop-color="#eea24c"/><stop offset="1" stop-color="#f5b341"/></linearGradient><linearGradient id="g918" gradientUnits="userSpaceOnUse" x1="645.4" y1="258.9" x2="645.4" y2="269.5"><stop stop-color="#ec9f4d"/><stop offset="1" stop-color="#df895f"/></linearGradient><linearGradient id="g919" gradientUnits="userSpaceOnUse" x1="707.5" y1="228.4" x2="713.1" y2="224.5"><stop stop-color="#f9ca30"/><stop offset="1" stop-color="#dbb72b"/></linearGradient><linearGradient id="g920" gradientUnits="userSpaceOnUse" x1="636.9" y1="268.5" x2="639.2" y2="278.8"><stop stop-color="#de895b"/><stop offset="1" stop-color="#c56d6a"/></linearGradient><linearGradient id="g921" gradientUnits="userSpaceOnUse" x1="657.1" y1="249.7" x2="655.0" y2="260.1"><stop stop-color="#f3af44"/><stop offset="1" stop-color="#ec9e50"/></linearGradient><linearGradient id="g922" gradientUnits="userSpaceOnUse" x1="668.7" y1="248.6" x2="672.5" y2="239.2"><stop stop-color="#f6b342"/><stop offset="1" stop-color="#fcc339"/></linearGradient><linearGradient id="g923" gradientUnits="userSpaceOnUse" x1="711.7" y1="225.2" x2="706.1" y2="229.7"><stop stop-color="#e5be2c"/><stop offset="1" stop-color="#fccc31"/></linearGradient><linearGradient id="g924" gradientUnits="userSpaceOnUse" x1="726.3" y1="226.1" x2="731.7" y2="224.5"><stop stop-color="#d9b42b"/><stop offset="1" stop-color="#ac9428"/></linearGradient><linearGradient id="g925" gradientUnits="userSpaceOnUse" x1="671.5" y1="241.5" x2="667.8" y2="251.1"><stop stop-color="#fabf3b"/><stop offset="1" stop-color="#f4af44"/></linearGradient><linearGradient id="g926" gradientUnits="userSpaceOnUse" x1="744.9" y1="226.2" x2="749.7" y2="226.9"><stop stop-color="#a99026"/><stop offset="1" stop-color="#7a6e26"/></linearGradient><linearGradient id="g927" gradientUnits="userSpaceOnUse" x1="684.3" y1="240.7" x2="689.3" y2="232.8"><stop stop-color="#fac039"/><stop offset="1" stop-color="#ffcc34"/></linearGradient><linearGradient id="g928" gradientUnits="userSpaceOnUse" x1="762.7" y1="228.5" x2="766.3" y2="231.3"><stop stop-color="#786a25"/><stop offset="1" stop-color="#534e26"/></linearGradient><linearGradient id="g929" gradientUnits="userSpaceOnUse" x1="730.4" y1="224.7" x2="724.8" y2="226.9"><stop stop-color="#b89d28"/><stop offset="1" stop-color="#e3ba2c"/></linearGradient><linearGradient id="g930" gradientUnits="userSpaceOnUse" x1="646.0" y1="277.2" x2="645.3" y2="266.9"><stop stop-color="#cb736b"/><stop offset="1" stop-color="#e48f5a"/></linearGradient><linearGradient id="g931" gradientUnits="userSpaceOnUse" x1="654.0" y1="268.0" x2="655.5" y2="257.5"><stop stop-color="#e28e5b"/><stop offset="1" stop-color="#eea24c"/></linearGradient><linearGradient id="g932" gradientUnits="userSpaceOnUse" x1="688.0" y1="234.7" x2="683.1" y2="242.9"><stop stop-color="#ffca35"/><stop offset="1" stop-color="#f9bd3c"/></linearGradient><linearGradient id="g933" gradientUnits="userSpaceOnUse" x1="748.6" y1="226.5" x2="743.6" y2="226.4"><stop stop-color="#857626"/><stop offset="1" stop-color="#b59927"/></linearGradient><linearGradient id="g934" gradientUnits="userSpaceOnUse" x1="641.7" y1="285.8" x2="638.6" y2="276.3"><stop stop-color="#ad576f"/><stop offset="1" stop-color="#cc7567"/></linearGradient><linearGradient id="g935" gradientUnits="userSpaceOnUse" x1="645.4" y1="269.5" x2="646.3" y2="279.6"><stop stop-color="#df895f"/><stop offset="1" stop-color="#c36c6e"/></linearGradient><linearGradient id="g936" gradientUnits="userSpaceOnUse" x1="765.5" y1="230.4" x2="761.7" y2="228.2"><stop stop-color="#5b5426"/><stop offset="1" stop-color="#837225"/></linearGradient><linearGradient id="g937" gradientUnits="userSpaceOnUse" x1="655.0" y1="260.1" x2="653.8" y2="270.6"><stop stop-color="#ec9e50"/><stop offset="1" stop-color="#de885f"/></linearGradient><linearGradient id="g938" gradientUnits="userSpaceOnUse" x1="665.4" y1="258.7" x2="668.7" y2="248.6"><stop stop-color="#efa34c"/><stop offset="1" stop-color="#f6b342"/></linearGradient><linearGradient id="g939" gradientUnits="userSpaceOnUse" x1="639.2" y1="278.8" x2="642.6" y2="287.9"><stop stop-color="#c56d6a"/><stop offset="1" stop-color="#a55070"/></linearGradient><linearGradient id="g940" gradientUnits="userSpaceOnUse" x1="667.8" y1="251.1" x2="664.7" y2="261.3"><stop stop-color="#f4af44"/><stop offset="1" stop-color="#ed9f4e"/></linearGradient><linearGradient id="g941" gradientUnits="userSpaceOnUse" x1="720.4" y1="230.0" x2="726.3" y2="226.1"><stop stop-color="#f7c730"/><stop offset="1" stop-color="#d9b42b"/></linearGradient><linearGradient id="g942" gradientUnits="userSpaceOnUse" x1="679.6" y1="250.0" x2="684.3" y2="240.7"><stop stop-color="#f5b242"/><stop offset="1" stop-color="#fac039"/></linearGradient><linearGradient id="g943" gradientUnits="userSpaceOnUse" x1="653.4" y1="278.1" x2="654.0" y2="268.0"><stop stop-color="#ca7369"/><stop offset="1" stop-color="#e28e5b"/></linearGradient><linearGradient id="g944" gradientUnits="userSpaceOnUse" x1="647.6" y1="286.5" x2="646.0" y2="277.2"><stop stop-color="#a95470"/><stop offset="1" stop-color="#cb736b"/></linearGradient><linearGradient id="g945" gradientUnits="userSpaceOnUse" x1="683.1" y1="242.9" x2="678.5" y2="252.4"><stop stop-color="#f9bd3c"/><stop offset="1" stop-color="#f3ae45"/></linearGradient><linearGradient id="g946" gradientUnits="userSpaceOnUse" x1="724.8" y1="226.9" x2="718.9" y2="231.3"><stop stop-color="#e3ba2c"/><stop offset="1" stop-color="#fbc931"/></linearGradient><linearGradient id="g947" gradientUnits="userSpaceOnUse" x1="739.5" y1="227.8" x2="744.9" y2="226.2"><stop stop-color="#d7b02a"/><stop offset="1" stop-color="#a99026"/></linearGradient><linearGradient id="g948" gradientUnits="userSpaceOnUse" x1="653.8" y1="270.6" x2="653.3" y2="280.5"><stop stop-color="#de885f"/><stop offset="1" stop-color="#c26c6b"/></linearGradient><linearGradient id="g949" gradientUnits="userSpaceOnUse" x1="662.8" y1="269.1" x2="665.4" y2="258.7"><stop stop-color="#e69158"/><stop offset="1" stop-color="#efa34c"/></linearGradient><linearGradient id="g950" gradientUnits="userSpaceOnUse" x1="646.3" y1="279.6" x2="648.2" y2="288.6"><stop stop-color="#c36c6e"/><stop offset="1" stop-color="#a04d70"/></linearGradient><linearGradient id="g951" gradientUnits="userSpaceOnUse" x1="645.8" y1="293.7" x2="641.7" y2="285.8"><stop stop-color="#8e3d6f"/><stop offset="1" stop-color="#ad576f"/></linearGradient><linearGradient id="g952" gradientUnits="userSpaceOnUse" x1="696.2" y1="242.2" x2="701.8" y2="234.4"><stop stop-color="#fbbf3b"/><stop offset="1" stop-color="#ffcb34"/></linearGradient><linearGradient id="g953" gradientUnits="userSpaceOnUse" x1="758.2" y1="227.9" x2="762.7" y2="228.5"><stop stop-color="#a78c25"/><stop offset="1" stop-color="#786a25"/></linearGradient><linearGradient id="g954" gradientUnits="userSpaceOnUse" x1="664.7" y1="261.3" x2="662.2" y2="271.7"><stop stop-color="#ed9f4e"/><stop offset="1" stop-color="#e28b5c"/></linearGradient><linearGradient id="g955" gradientUnits="userSpaceOnUse" x1="743.6" y1="226.4" x2="738.0" y2="228.6"><stop stop-color="#b59927"/><stop offset="1" stop-color="#e0b62b"/></linearGradient><linearGradient id="g956" gradientUnits="userSpaceOnUse" x1="642.6" y1="287.9" x2="647.0" y2="295.4"><stop stop-color="#a55070"/><stop offset="1" stop-color="#88376e"/></linearGradient><linearGradient id="g957" gradientUnits="userSpaceOnUse" x1="700.4" y1="236.2" x2="694.8" y2="244.4"><stop stop-color="#ffc836"/><stop offset="1" stop-color="#f9bc3d"/></linearGradient><linearGradient id="g958" gradientUnits="userSpaceOnUse" x1="675.3" y1="260.0" x2="679.6" y2="250.0"><stop stop-color="#eea24b"/><stop offset="1" stop-color="#f5b242"/></linearGradient><linearGradient id="g959" gradientUnits="userSpaceOnUse" x1="761.7" y1="228.2" x2="756.9" y2="228.1"><stop stop-color="#837225"/><stop offset="1" stop-color="#b39526"/></linearGradient><linearGradient id="g960" gradientUnits="userSpaceOnUse" x1="653.5" y1="287.3" x2="653.4" y2="278.1"><stop stop-color="#a7546f"/><stop offset="1" stop-color="#ca7369"/></linearGradient><linearGradient id="g961" gradientUnits="userSpaceOnUse" x1="678.5" y1="252.4" x2="674.3" y2="262.6"><stop stop-color="#f3ae45"/><stop offset="1" stop-color="#ec9e4e"/></linearGradient><linearGradient id="g962" gradientUnits="userSpaceOnUse" x1="714.3" y1="236.0" x2="720.4" y2="230.0"><stop stop-color="#fec935"/><stop offset="1" stop-color="#f7c730"/></linearGradient><linearGradient id="g963" gradientUnits="userSpaceOnUse" x1="650.2" y1="294.3" x2="647.6" y2="286.5"><stop stop-color="#8a3a6e"/><stop offset="1" stop-color="#a95470"/></linearGradient><linearGradient id="g964" gradientUnits="userSpaceOnUse" x1="660.8" y1="279.1" x2="662.8" y2="269.1"><stop stop-color="#cf7767"/><stop offset="1" stop-color="#e69158"/></linearGradient><linearGradient id="g965" gradientUnits="userSpaceOnUse" x1="653.3" y1="280.5" x2="653.7" y2="289.3"><stop stop-color="#c26c6b"/><stop offset="1" stop-color="#9f4c6f"/></linearGradient><linearGradient id="g966" gradientUnits="userSpaceOnUse" x1="648.2" y1="288.6" x2="650.9" y2="295.9"><stop stop-color="#a04d70"/><stop offset="1" stop-color="#86366d"/></linearGradient><linearGradient id="g967" gradientUnits="userSpaceOnUse" x1="662.2" y1="271.7" x2="660.4" y2="281.4"><stop stop-color="#e28b5c"/><stop offset="1" stop-color="#c66f6a"/></linearGradient><linearGradient id="g968" gradientUnits="userSpaceOnUse" x1="690.6" y1="251.3" x2="696.2" y2="242.2"><stop stop-color="#f4af44"/><stop offset="1" stop-color="#fbbf3b"/></linearGradient><linearGradient id="g969" gradientUnits="userSpaceOnUse" x1="650.9" y1="299.7" x2="645.8" y2="293.7"><stop stop-color="#7c2c69"/><stop offset="1" stop-color="#8e3d6f"/></linearGradient><linearGradient id="g970" gradientUnits="userSpaceOnUse" x1="671.5" y1="270.2" x2="675.3" y2="260.0"><stop stop-color="#e59156"/><stop offset="1" stop-color="#eea24b"/></linearGradient><linearGradient id="g971" gradientUnits="userSpaceOnUse" x1="694.8" y1="244.4" x2="689.3" y2="253.8"><stop stop-color="#f9bc3d"/><stop offset="1" stop-color="#f2ab46"/></linearGradient><linearGradient id="g972" gradientUnits="userSpaceOnUse" x1="733.4" y1="231.7" x2="739.5" y2="227.8"><stop stop-color="#f3c330"/><stop offset="1" stop-color="#d7b02a"/></linearGradient><linearGradient id="g973" gradientUnits="userSpaceOnUse" x1="674.3" y1="262.6" x2="670.6" y2="272.7"><stop stop-color="#ec9e4e"/><stop offset="1" stop-color="#e18b5a"/></linearGradient><linearGradient id="g974" gradientUnits="userSpaceOnUse" x1="654.5" y1="294.8" x2="653.5" y2="287.3"><stop stop-color="#8c3b6c"/><stop offset="1" stop-color="#a7546f"/></linearGradient><linearGradient id="g975" gradientUnits="userSpaceOnUse" x1="647.0" y1="295.4" x2="652.3" y2="300.9"><stop stop-color="#88376e"/><stop offset="1" stop-color="#792a67"/></linearGradient><linearGradient id="g976" gradientUnits="userSpaceOnUse" x1="659.5" y1="288.0" x2="660.8" y2="279.1"><stop stop-color="#ab566e"/><stop offset="1" stop-color="#cf7767"/></linearGradient><linearGradient id="g977" gradientUnits="userSpaceOnUse" x1="738.0" y1="228.6" x2="731.8" y2="233.0"><stop stop-color="#e0b62b"/><stop offset="1" stop-color="#f6c432"/></linearGradient><linearGradient id="g978" gradientUnits="userSpaceOnUse" x1="653.7" y1="289.3" x2="654.9" y2="296.4"><stop stop-color="#9f4c6f"/><stop offset="1" stop-color="#87366a"/></linearGradient><linearGradient id="g979" gradientUnits="userSpaceOnUse" x1="653.6" y1="300.1" x2="650.2" y2="294.3"><stop stop-color="#7c2c67"/><stop offset="1" stop-color="#8a3a6e"/></linearGradient><linearGradient id="g980" gradientUnits="userSpaceOnUse" x1="660.4" y1="281.4" x2="659.3" y2="290.0"><stop stop-color="#c66f6a"/><stop offset="1" stop-color="#a34e6e"/></linearGradient><linearGradient id="g981" gradientUnits="userSpaceOnUse" x1="752.7" y1="229.5" x2="758.2" y2="227.9"><stop stop-color="#d5ad29"/><stop offset="1" stop-color="#a78c25"/></linearGradient><linearGradient id="g982" gradientUnits="userSpaceOnUse" x1="708.0" y1="243.7" x2="714.3" y2="236.0"><stop stop-color="#fbbf3b"/><stop offset="1" stop-color="#fec935"/></linearGradient><linearGradient id="g983" gradientUnits="userSpaceOnUse" x1="685.3" y1="261.2" x2="690.6" y2="251.3"><stop stop-color="#eda14d"/><stop offset="1" stop-color="#f4af44"/></linearGradient><linearGradient id="g984" gradientUnits="userSpaceOnUse" x1="668.2" y1="280.0" x2="671.5" y2="270.2"><stop stop-color="#d07865"/><stop offset="1" stop-color="#e59156"/></linearGradient><linearGradient id="g985" gradientUnits="userSpaceOnUse" x1="650.9" y1="295.9" x2="654.6" y2="301.2"><stop stop-color="#86366d"/><stop offset="1" stop-color="#792965"/></linearGradient><linearGradient id="g986" gradientUnits="userSpaceOnUse" x1="712.7" y1="237.8" x2="706.4" y2="245.9"><stop stop-color="#fec836"/><stop offset="1" stop-color="#f9bb3d"/></linearGradient><linearGradient id="g987" gradientUnits="userSpaceOnUse" x1="689.3" y1="253.8" x2="684.0" y2="263.8"><stop stop-color="#f2ab46"/><stop offset="1" stop-color="#eb9d4f"/></linearGradient><linearGradient id="g988" gradientUnits="userSpaceOnUse" x1="670.6" y1="272.7" x2="667.4" y2="282.3"><stop stop-color="#e18b5a"/><stop offset="1" stop-color="#c87068"/></linearGradient><linearGradient id="g989" gradientUnits="userSpaceOnUse" x1="756.9" y1="228.1" x2="751.1" y2="230.2"><stop stop-color="#b39526"/><stop offset="1" stop-color="#dfb32b"/></linearGradient><linearGradient id="g990" gradientUnits="userSpaceOnUse" x1="658.9" y1="295.4" x2="659.5" y2="288.0"><stop stop-color="#8d3b69"/><stop offset="1" stop-color="#ab566e"/></linearGradient><linearGradient id="g991" gradientUnits="userSpaceOnUse" x1="656.3" y1="300.4" x2="654.5" y2="294.8"><stop stop-color="#7b2c64"/><stop offset="1" stop-color="#8c3b6c"/></linearGradient><linearGradient id="g992" gradientUnits="userSpaceOnUse" x1="656.8" y1="303.4" x2="650.9" y2="299.7"><stop stop-color="#722460"/><stop offset="1" stop-color="#7c2c69"/></linearGradient><linearGradient id="g993" gradientUnits="userSpaceOnUse" x1="659.3" y1="290.0" x2="658.9" y2="296.9"><stop stop-color="#a34e6e"/><stop offset="1" stop-color="#883667"/></linearGradient><linearGradient id="g994" gradientUnits="userSpaceOnUse" x1="654.9" y1="296.4" x2="656.9" y2="301.5"><stop stop-color="#87366a"/><stop offset="1" stop-color="#782962"/></linearGradient><linearGradient id="g995" gradientUnits="userSpaceOnUse" x1="665.4" y1="288.8" x2="668.2" y2="280.0"><stop stop-color="#ac546e"/><stop offset="1" stop-color="#d07865"/></linearGradient><linearGradient id="g996" gradientUnits="userSpaceOnUse" x1="726.8" y1="237.6" x2="733.4" y2="231.7"><stop stop-color="#fac435"/><stop offset="1" stop-color="#f3c330"/></linearGradient><linearGradient id="g997" gradientUnits="userSpaceOnUse" x1="680.2" y1="271.3" x2="685.3" y2="261.2"><stop stop-color="#e28f56"/><stop offset="1" stop-color="#eda14d"/></linearGradient><linearGradient id="g998" gradientUnits="userSpaceOnUse" x1="652.3" y1="300.9" x2="658.4" y2="303.9"><stop stop-color="#792a67"/><stop offset="1" stop-color="#71245d"/></linearGradient><linearGradient id="g999" gradientUnits="userSpaceOnUse" x1="657.9" y1="303.5" x2="653.6" y2="300.1"><stop stop-color="#72245f"/><stop offset="1" stop-color="#7c2c67"/></linearGradient><linearGradient id="g1000" gradientUnits="userSpaceOnUse" x1="667.4" y1="282.3" x2="664.8" y2="290.7"><stop stop-color="#c87068"/><stop offset="1" stop-color="#a44c6f"/></linearGradient><linearGradient id="g1001" gradientUnits="userSpaceOnUse" x1="701.6" y1="252.7" x2="708.0" y2="243.7"><stop stop-color="#f5ae44"/><stop offset="1" stop-color="#fbbf3b"/></linearGradient><linearGradient id="g1002" gradientUnits="userSpaceOnUse" x1="659.1" y1="300.8" x2="658.9" y2="295.4"><stop stop-color="#7b2c60"/><stop offset="1" stop-color="#8d3b69"/></linearGradient><linearGradient id="g1003" gradientUnits="userSpaceOnUse" x1="684.0" y1="263.8" x2="679.0" y2="273.8"><stop stop-color="#eb9d4f"/><stop offset="1" stop-color="#de8959"/></linearGradient><linearGradient id="g1004" gradientUnits="userSpaceOnUse" x1="654.6" y1="301.2" x2="659.0" y2="304.0"><stop stop-color="#792965"/><stop offset="1" stop-color="#71245c"/></linearGradient><linearGradient id="g1005" gradientUnits="userSpaceOnUse" x1="658.9" y1="296.9" x2="659.2" y2="301.8"><stop stop-color="#883667"/><stop offset="1" stop-color="#78295f"/></linearGradient><linearGradient id="g1006" gradientUnits="userSpaceOnUse" x1="658.9" y1="303.7" x2="656.3" y2="300.4"><stop stop-color="#72245d"/><stop offset="1" stop-color="#7b2c64"/></linearGradient><linearGradient id="g1007" gradientUnits="userSpaceOnUse" x1="706.4" y1="245.9" x2="700.0" y2="255.1"><stop stop-color="#f9bb3d"/><stop offset="1" stop-color="#f3ab46"/></linearGradient><linearGradient id="g1008" gradientUnits="userSpaceOnUse" x1="663.3" y1="295.9" x2="665.4" y2="288.8"><stop stop-color="#8d3a66"/><stop offset="1" stop-color="#ac546e"/></linearGradient><linearGradient id="g1009" gradientUnits="userSpaceOnUse" x1="664.8" y1="290.7" x2="662.9" y2="297.4"><stop stop-color="#a44c6f"/><stop offset="1" stop-color="#873663"/></linearGradient><linearGradient id="g1010" gradientUnits="userSpaceOnUse" x1="656.9" y1="301.5" x2="659.7" y2="304.1"><stop stop-color="#782962"/><stop offset="1" stop-color="#70245b"/></linearGradient><linearGradient id="g1011" gradientUnits="userSpaceOnUse" x1="675.6" y1="280.9" x2="680.2" y2="271.3"><stop stop-color="#cb7261"/><stop offset="1" stop-color="#e28f56"/></linearGradient><linearGradient id="g1012" gradientUnits="userSpaceOnUse" x1="660.0" y1="303.8" x2="659.1" y2="300.8"><stop stop-color="#71255b"/><stop offset="1" stop-color="#7b2c60"/></linearGradient><linearGradient id="g1013" gradientUnits="userSpaceOnUse" x1="746.3" y1="233.3" x2="752.7" y2="229.5"><stop stop-color="#f5c030"/><stop offset="1" stop-color="#d5ad29"/></linearGradient><linearGradient id="g1014" gradientUnits="userSpaceOnUse" x1="679.0" y1="273.8" x2="674.5" y2="283.2"><stop stop-color="#de8959"/><stop offset="1" stop-color="#c36a64"/></linearGradient><linearGradient id="g1015" gradientUnits="userSpaceOnUse" x1="661.8" y1="301.1" x2="663.3" y2="295.9"><stop stop-color="#7a2c5c"/><stop offset="1" stop-color="#8d3a66"/></linearGradient><linearGradient id="g1016" gradientUnits="userSpaceOnUse" x1="659.2" y1="301.8" x2="660.3" y2="304.2"><stop stop-color="#78295f"/><stop offset="1" stop-color="#70245a"/></linearGradient><linearGradient id="g1017" gradientUnits="userSpaceOnUse" x1="662.9" y1="297.4" x2="661.6" y2="302.1"><stop stop-color="#873663"/><stop offset="1" stop-color="#77295b"/></linearGradient><linearGradient id="g1018" gradientUnits="userSpaceOnUse" x1="663.5" y1="304.6" x2="656.8" y2="303.4"><stop stop-color="#6e2455"/><stop offset="1" stop-color="#722460"/></linearGradient><linearGradient id="g1019" gradientUnits="userSpaceOnUse" x1="662.9" y1="304.5" x2="657.9" y2="303.5"><stop stop-color="#6f2456"/><stop offset="1" stop-color="#72245f"/></linearGradient><linearGradient id="g1020" gradientUnits="userSpaceOnUse" x1="695.2" y1="262.5" x2="701.6" y2="252.7"><stop stop-color="#eea04c"/><stop offset="1" stop-color="#f5ae44"/></linearGradient><linearGradient id="g1021" gradientUnits="userSpaceOnUse" x1="661.0" y1="303.9" x2="661.8" y2="301.1"><stop stop-color="#71255a"/><stop offset="1" stop-color="#7a2c5c"/></linearGradient><linearGradient id="g1022" gradientUnits="userSpaceOnUse" x1="671.3" y1="289.5" x2="675.6" y2="280.9"><stop stop-color="#a95168"/><stop offset="1" stop-color="#cb7261"/></linearGradient><linearGradient id="g1023" gradientUnits="userSpaceOnUse" x1="751.1" y1="230.2" x2="744.6" y2="234.6"><stop stop-color="#dfb32b"/><stop offset="1" stop-color="#f8c232"/></linearGradient><linearGradient id="g1024" gradientUnits="userSpaceOnUse" x1="674.5" y1="283.2" x2="670.4" y2="291.4"><stop stop-color="#c36a64"/><stop offset="1" stop-color="#a14a68"/></linearGradient><linearGradient id="g1025" gradientUnits="userSpaceOnUse" x1="719.8" y1="245.2" x2="726.8" y2="237.6"><stop stop-color="#f8bb3b"/><stop offset="1" stop-color="#fac435"/></linearGradient><linearGradient id="g1026" gradientUnits="userSpaceOnUse" x1="700.0" y1="255.1" x2="693.6" y2="265.0"><stop stop-color="#f3ab46"/><stop offset="1" stop-color="#ec9d4e"/></linearGradient><linearGradient id="g1027" gradientUnits="userSpaceOnUse" x1="659.0" y1="304.0" x2="664.2" y2="304.3"><stop stop-color="#71245c"/><stop offset="1" stop-color="#6f2554"/></linearGradient><linearGradient id="g1028" gradientUnits="userSpaceOnUse" x1="658.4" y1="303.9" x2="665.3" y2="304.5"><stop stop-color="#71245d"/><stop offset="1" stop-color="#6e2552"/></linearGradient><linearGradient id="g1029" gradientUnits="userSpaceOnUse" x1="667.7" y1="296.5" x2="671.3" y2="289.5"><stop stop-color="#8b3962"/><stop offset="1" stop-color="#a95168"/></linearGradient><linearGradient id="g1030" gradientUnits="userSpaceOnUse" x1="662.1" y1="304.1" x2="664.6" y2="301.5"><stop stop-color="#702558"/><stop offset="1" stop-color="#782c59"/></linearGradient><linearGradient id="g1031" gradientUnits="userSpaceOnUse" x1="670.4" y1="291.4" x2="666.8" y2="297.9"><stop stop-color="#a14a68"/><stop offset="1" stop-color="#85355f"/></linearGradient><linearGradient id="g1032" gradientUnits="userSpaceOnUse" x1="666.8" y1="297.9" x2="663.9" y2="302.3"><stop stop-color="#85355f"/><stop offset="1" stop-color="#752a58"/></linearGradient><linearGradient id="g1033" gradientUnits="userSpaceOnUse" x1="664.6" y1="301.5" x2="667.7" y2="296.5"><stop stop-color="#782c59"/><stop offset="1" stop-color="#8b3962"/></linearGradient><linearGradient id="g1034" gradientUnits="userSpaceOnUse" x1="725.1" y1="239.3" x2="718.0" y2="247.3"><stop stop-color="#fac337"/><stop offset="1" stop-color="#f6b73d"/></linearGradient><linearGradient id="g1035" gradientUnits="userSpaceOnUse" x1="689.0" y1="272.4" x2="695.2" y2="262.5"><stop stop-color="#e38f53"/><stop offset="1" stop-color="#eea04c"/></linearGradient><linearGradient id="g1036" gradientUnits="userSpaceOnUse" x1="693.6" y1="265.0" x2="687.4" y2="274.8"><stop stop-color="#ec9d4e"/><stop offset="1" stop-color="#df8955"/></linearGradient><linearGradient id="g1037" gradientUnits="userSpaceOnUse" x1="670.8" y1="298.4" x2="666.2" y2="302.6"><stop stop-color="#81325e"/><stop offset="1" stop-color="#742a54"/></linearGradient><linearGradient id="g1038" gradientUnits="userSpaceOnUse" x1="683.0" y1="281.9" x2="689.0" y2="272.4"><stop stop-color="#cc715c"/><stop offset="1" stop-color="#e38f53"/></linearGradient><linearGradient id="g1039" gradientUnits="userSpaceOnUse" x1="667.3" y1="301.8" x2="672.0" y2="297.0"><stop stop-color="#772b56"/><stop offset="1" stop-color="#863660"/></linearGradient><linearGradient id="g1040" gradientUnits="userSpaceOnUse" x1="687.4" y1="274.8" x2="681.5" y2="284.1"><stop stop-color="#df8955"/><stop offset="1" stop-color="#c4675f"/></linearGradient><linearGradient id="g1041" gradientUnits="userSpaceOnUse" x1="712.6" y1="254.1" x2="719.8" y2="245.2"><stop stop-color="#f3a944"/><stop offset="1" stop-color="#f8bb3b"/></linearGradient><linearGradient id="g1042" gradientUnits="userSpaceOnUse" x1="675.9" y1="292.1" x2="670.8" y2="298.4"><stop stop-color="#9f4762"/><stop offset="1" stop-color="#81325e"/></linearGradient><linearGradient id="g1043" gradientUnits="userSpaceOnUse" x1="672.0" y1="297.0" x2="677.3" y2="290.3"><stop stop-color="#863660"/><stop offset="1" stop-color="#a84e62"/></linearGradient><linearGradient id="g1044" gradientUnits="userSpaceOnUse" x1="677.3" y1="290.3" x2="683.0" y2="281.9"><stop stop-color="#a84e62"/><stop offset="1" stop-color="#cc715c"/></linearGradient><linearGradient id="g1045" gradientUnits="userSpaceOnUse" x1="681.5" y1="284.1" x2="675.9" y2="292.1"><stop stop-color="#c4675f"/><stop offset="1" stop-color="#9f4762"/></linearGradient><linearGradient id="g1046" gradientUnits="userSpaceOnUse" x1="718.0" y1="247.3" x2="710.7" y2="256.5"><stop stop-color="#f6b73d"/><stop offset="1" stop-color="#f1a447"/></linearGradient><linearGradient id="g1047" gradientUnits="userSpaceOnUse" x1="674.8" y1="298.9" x2="668.5" y2="302.9"><stop stop-color="#80305e"/><stop offset="1" stop-color="#732855"/></linearGradient><linearGradient id="g1048" gradientUnits="userSpaceOnUse" x1="670.0" y1="302.1" x2="676.4" y2="297.6"><stop stop-color="#752958"/><stop offset="1" stop-color="#87355e"/></linearGradient><linearGradient id="g1049" gradientUnits="userSpaceOnUse" x1="705.2" y1="263.7" x2="712.6" y2="254.1"><stop stop-color="#ed9d4d"/><stop offset="1" stop-color="#f3a944"/></linearGradient><linearGradient id="g1050" gradientUnits="userSpaceOnUse" x1="710.7" y1="256.5" x2="703.3" y2="266.2"><stop stop-color="#f1a447"/><stop offset="1" stop-color="#eb9a4e"/></linearGradient><linearGradient id="g1051" gradientUnits="userSpaceOnUse" x1="681.5" y1="292.8" x2="674.8" y2="298.9"><stop stop-color="#a2495c"/><stop offset="1" stop-color="#80305e"/></linearGradient><linearGradient id="g1052" gradientUnits="userSpaceOnUse" x1="678.7" y1="299.4" x2="670.8" y2="303.2"><stop stop-color="#85335b"/><stop offset="1" stop-color="#732757"/></linearGradient><linearGradient id="g1053" gradientUnits="userSpaceOnUse" x1="676.4" y1="297.6" x2="683.2" y2="291.0"><stop stop-color="#87355e"/><stop offset="1" stop-color="#ab505b"/></linearGradient><linearGradient id="g1054" gradientUnits="userSpaceOnUse" x1="697.7" y1="273.5" x2="705.2" y2="263.7"><stop stop-color="#e28c50"/><stop offset="1" stop-color="#ed9d4d"/></linearGradient><linearGradient id="g1055" gradientUnits="userSpaceOnUse" x1="672.8" y1="302.5" x2="680.8" y2="298.1"><stop stop-color="#752859"/><stop offset="1" stop-color="#8d385a"/></linearGradient><linearGradient id="g1056" gradientUnits="userSpaceOnUse" x1="731.7" y1="246.7" x2="739.3" y2="239.1"><stop stop-color="#f4b43d"/><stop offset="1" stop-color="#fac036"/></linearGradient><linearGradient id="g1057" gradientUnits="userSpaceOnUse" x1="703.3" y1="266.2" x2="695.9" y2="275.9"><stop stop-color="#eb9a4e"/><stop offset="1" stop-color="#de8551"/></linearGradient><linearGradient id="g1058" gradientUnits="userSpaceOnUse" x1="688.6" y1="285.0" x2="681.5" y2="292.8"><stop stop-color="#c46757"/><stop offset="1" stop-color="#a2495c"/></linearGradient><linearGradient id="g1059" gradientUnits="userSpaceOnUse" x1="683.2" y1="291.0" x2="690.4" y2="282.8"><stop stop-color="#ab505b"/><stop offset="1" stop-color="#cc6e54"/></linearGradient><linearGradient id="g1060" gradientUnits="userSpaceOnUse" x1="690.4" y1="282.8" x2="697.7" y2="273.5"><stop stop-color="#cc6e54"/><stop offset="1" stop-color="#e28c50"/></linearGradient><linearGradient id="g1061" gradientUnits="userSpaceOnUse" x1="695.9" y1="275.9" x2="688.6" y2="285.0"><stop stop-color="#de8551"/><stop offset="1" stop-color="#c46757"/></linearGradient><linearGradient id="g1062" gradientUnits="userSpaceOnUse" x1="737.4" y1="240.9" x2="729.7" y2="248.8"><stop stop-color="#f9bd38"/><stop offset="1" stop-color="#f4b13e"/></linearGradient><linearGradient id="g1063" gradientUnits="userSpaceOnUse" x1="687.0" y1="293.5" x2="678.7" y2="299.4"><stop stop-color="#a54b57"/><stop offset="1" stop-color="#85335b"/></linearGradient><linearGradient id="g1064" gradientUnits="userSpaceOnUse" x1="680.8" y1="298.1" x2="689.2" y2="291.7"><stop stop-color="#8d385a"/><stop offset="1" stop-color="#ad5156"/></linearGradient><linearGradient id="g1065" gradientUnits="userSpaceOnUse" x1="723.6" y1="255.5" x2="731.7" y2="246.7"><stop stop-color="#efa644"/><stop offset="1" stop-color="#f4b43d"/></linearGradient><linearGradient id="g1066" gradientUnits="userSpaceOnUse" x1="729.7" y1="248.8" x2="721.5" y2="257.8"><stop stop-color="#f4b13e"/><stop offset="1" stop-color="#eea246"/></linearGradient><linearGradient id="g1067" gradientUnits="userSpaceOnUse" x1="695.6" y1="285.9" x2="687.0" y2="293.5"><stop stop-color="#c36551"/><stop offset="1" stop-color="#a54b57"/></linearGradient><linearGradient id="g1068" gradientUnits="userSpaceOnUse" x1="689.2" y1="291.7" x2="697.8" y2="283.7"><stop stop-color="#ad5156"/><stop offset="1" stop-color="#c96c51"/></linearGradient><linearGradient id="g1069" gradientUnits="userSpaceOnUse" x1="715.1" y1="265.0" x2="723.6" y2="255.5"><stop stop-color="#e8984c"/><stop offset="1" stop-color="#efa644"/></linearGradient><linearGradient id="g1070" gradientUnits="userSpaceOnUse" x1="721.5" y1="257.8" x2="713.0" y2="267.4"><stop stop-color="#eea246"/><stop offset="1" stop-color="#e6954e"/></linearGradient><linearGradient id="g1071" gradientUnits="userSpaceOnUse" x1="704.3" y1="277.0" x2="695.6" y2="285.9"><stop stop-color="#d98150"/><stop offset="1" stop-color="#c36551"/></linearGradient><linearGradient id="g1072" gradientUnits="userSpaceOnUse" x1="697.8" y1="283.7" x2="706.5" y2="274.6"><stop stop-color="#c96c51"/><stop offset="1" stop-color="#dd8750"/></linearGradient><linearGradient id="g1073" gradientUnits="userSpaceOnUse" x1="706.5" y1="274.6" x2="715.1" y2="265.0"><stop stop-color="#dd8750"/><stop offset="1" stop-color="#e8984c"/></linearGradient><linearGradient id="g1074" gradientUnits="userSpaceOnUse" x1="713.0" y1="267.4" x2="704.3" y2="277.0"><stop stop-color="#e6954e"/><stop offset="1" stop-color="#d98150"/></linearGradient></defs>
<g class="s1"><line x1="38.2" y1="163.0" x2="189.7" y2="158.8" class="bx"/>
<line x1="189.7" y1="158.8" x2="215.7" y2="185.2" class="bx"/>
<line x1="37.6" y1="314.8" x2="189.1" y2="310.7" class="bx"/>
<line x1="37.6" y1="314.8" x2="63.6" y2="341.2" class="bx"/>
<line x1="38.2" y1="163.0" x2="37.6" y2="314.8" class="bx"/>
<line x1="189.7" y1="158.8" x2="189.1" y2="310.7" class="bx"/>
<polygon points="130.4,252.4 138.6,259.5 140.1,260.7 130.8,252.7" fill="url(#g1)" stroke="#d45f48"/>
<polygon points="138.6,259.5 146.7,265.4 149.1,267.4 140.1,260.7" fill="url(#g2)" stroke="#bf5148"/>
<polygon points="122.1,244.5 130.4,252.4 130.8,252.7 121.5,243.9" fill="url(#g3)" stroke="#e17145"/>
<polygon points="146.7,265.4 154.4,269.8 157.8,272.3 149.1,267.4" fill="url(#g4)" stroke="#532e38"/>
<polygon points="113.9,236.5 122.1,244.5 121.5,243.9 112.3,234.8" fill="url(#g5)" stroke="#e98b48"/>
<polygon points="154.4,269.8 161.6,272.3 166.0,275.2 157.8,272.3" fill="url(#g6)" stroke="#251b37"/>
<polygon points="105.9,228.7 113.9,236.5 112.3,234.8 103.3,226.1" fill="url(#g7)" stroke="#f0a952"/>
<polygon points="130.0,252.0 137.2,258.3 138.6,259.5 130.4,252.4" fill="url(#g8)" stroke="#d7624a"/>
<polygon points="137.2,258.3 144.2,263.4 146.7,265.4 138.6,259.5" fill="url(#g9)" stroke="#c7554a"/>
<polygon points="122.7,245.2 130.0,252.0 130.4,252.4 122.1,244.5" fill="url(#g10)" stroke="#e2764a"/>
<polygon points="161.6,272.3 168.4,272.9 173.5,275.9 166.0,275.2" fill="url(#g11)" stroke="#190d30"/>
<polygon points="144.2,263.4 151.0,267.3 154.4,269.8 146.7,265.4" fill="url(#g12)" stroke="#813b41"/>
<polygon points="98.3,221.8 105.9,228.7 103.3,226.1 94.7,218.3" fill="url(#g13)" stroke="#f1b155"/>
<polygon points="115.6,238.1 122.7,245.2 122.1,244.5 113.9,236.5" fill="url(#g14)" stroke="#eb944f"/>
<polygon points="151.0,267.3 157.3,269.5 161.6,272.3 154.4,269.8" fill="url(#g15)" stroke="#271d39"/>
<polygon points="108.6,231.3 115.6,238.1 113.9,236.5 105.9,228.7" fill="url(#g16)" stroke="#f1ae56"/>
<polygon points="91.1,216.2 98.3,221.8 94.7,218.3 86.7,212.1" fill="url(#g17)" stroke="#f2bc59"/>
<polygon points="168.4,272.9 174.4,271.6 180.3,274.4 173.5,275.9" fill="url(#g18)" stroke="#180c30"/>
<polygon points="129.5,251.7 135.7,257.0 137.2,258.3 130.0,252.0" fill="url(#g19)" stroke="#d9674d"/>
<polygon points="135.7,257.0 141.7,261.5 144.2,263.4 137.2,258.3" fill="url(#g20)" stroke="#cd594c"/>
<polygon points="157.3,269.5 163.2,270.0 168.4,272.9 161.6,272.3" fill="url(#g21)" stroke="#180c30"/>
<polygon points="123.3,245.8 129.5,251.7 130.0,252.0 122.7,245.2" fill="url(#g22)" stroke="#e47e52"/>
<polygon points="101.9,225.3 108.6,231.3 105.9,228.7 98.3,221.8" fill="url(#g23)" stroke="#f2b156"/>
<polygon points="141.7,261.5 147.5,264.7 151.0,267.3 144.2,263.4" fill="url(#g24)" stroke="#a74749"/>
<polygon points="117.2,239.8 123.3,245.8 122.7,245.2 115.6,238.1" fill="url(#g25)" stroke="#ed9e56"/>
<polygon points="147.5,264.7 153.0,266.7 157.3,269.5 151.0,267.3" fill="url(#g26)" stroke="#272036"/>
<polygon points="111.2,233.9 117.2,239.8 115.6,238.1 108.6,231.3" fill="url(#g27)" stroke="#f2b157"/>
<polygon points="84.6,212.4 91.1,216.2 86.7,212.1 79.3,207.7" fill="url(#g28)" stroke="#f2c05c"/>
<polygon points="95.6,220.4 101.9,225.3 98.3,221.8 91.1,216.2" fill="url(#g29)" stroke="#f1b657"/>
<polygon points="163.2,270.0 168.5,268.9 174.4,271.6 168.4,272.9" fill="url(#g30)" stroke="#190e31"/>
<polygon points="174.4,271.6 179.7,268.5 186.2,270.8 180.3,274.4" fill="url(#g31)" stroke="#1d1139"/>
<polygon points="153.0,266.7 158.0,267.1 163.2,270.0 157.3,269.5" fill="url(#g32)" stroke="#1e1234"/>
<polygon points="105.5,228.8 111.2,233.9 108.6,231.3 101.9,225.3" fill="url(#g33)" stroke="#f2b155"/>
<polygon points="129.1,251.3 134.3,255.8 135.7,257.0 129.5,251.7" fill="url(#g34)" stroke="#dc6f53"/>
<polygon points="134.3,255.8 139.3,259.5 141.7,261.5 135.7,257.0" fill="url(#g35)" stroke="#d25f50"/>
<polygon points="123.9,246.4 129.1,251.3 129.5,251.7 123.3,245.8" fill="url(#g36)" stroke="#e6885e"/>
<polygon points="139.3,259.5 144.1,262.2 147.5,264.7 141.7,261.5" fill="url(#g37)" stroke="#bd504c"/>
<polygon points="118.8,241.4 123.9,246.4 123.3,245.8 117.2,239.8" fill="url(#g38)" stroke="#efa75c"/>
<polygon points="89.9,217.0 95.6,220.4 91.1,216.2 84.6,212.4" fill="url(#g39)" stroke="#f2be5b"/>
<polygon points="78.7,210.5 84.6,212.4 79.3,207.7 72.6,205.6" fill="url(#g40)" stroke="#f2c05c"/>
<polygon points="168.5,268.9 173.1,266.1 179.7,268.5 174.4,271.6" fill="url(#g41)" stroke="#1c1048"/>
<polygon points="144.1,262.2 148.6,263.8 153.0,266.7 147.5,264.7" fill="url(#g42)" stroke="#47293d"/>
<polygon points="100.1,224.6 105.5,228.8 101.9,225.3 95.6,220.4" fill="url(#g43)" stroke="#f2b256"/>
<polygon points="158.0,267.1 162.5,266.1 168.5,268.9 163.2,270.0" fill="url(#g44)" stroke="#1d1142"/>
<polygon points="113.8,236.6 118.8,241.4 117.2,239.8 111.2,233.9" fill="url(#g45)" stroke="#f2b35a"/>
<polygon points="179.7,268.5 184.1,263.8 191.2,265.5 186.2,270.8" fill="url(#g46)" stroke="#1c1048"/>
<polygon points="148.6,263.8 152.8,264.2 158.0,267.1 153.0,266.7" fill="url(#g47)" stroke="#25193d"/>
<polygon points="109.1,232.2 113.8,236.6 111.2,233.9 105.5,228.8" fill="url(#g48)" stroke="#f2b156"/>
<polygon points="84.7,215.4 89.9,217.0 84.6,212.4 78.7,210.5" fill="url(#g49)" stroke="#f2c05c"/>
<polygon points="95.2,221.7 100.1,224.6 95.6,220.4 89.9,217.0" fill="url(#g50)" stroke="#f1b958"/>
<polygon points="128.7,251.0 132.8,254.6 134.3,255.8 129.1,251.3" fill="url(#g51)" stroke="#e07b5f"/>
<polygon points="132.8,254.6 136.8,257.5 139.3,259.5 134.3,255.8" fill="url(#g52)" stroke="#d56555"/>
<polygon points="124.5,247.1 128.7,251.0 129.1,251.3 123.9,246.4" fill="url(#g53)" stroke="#e89168"/>
<polygon points="162.5,266.1 166.5,263.8 173.1,266.1 168.5,268.9" fill="url(#g54)" stroke="#1c1048"/>
<polygon points="136.8,257.5 140.7,259.7 144.1,262.2 139.3,259.5" fill="url(#g55)" stroke="#c9574e"/>
<polygon points="73.5,210.9 78.7,210.5 72.6,205.6 66.9,206.0" fill="#fff436" stroke="#f2c05c"/>
<polygon points="120.5,243.0 124.5,247.1 123.9,246.4 118.8,241.4" fill="url(#g56)" stroke="#efab61"/>
<polygon points="104.6,228.8 109.1,232.2 105.5,228.8 100.1,224.6" fill="url(#g57)" stroke="#f2b156"/>
<polygon points="152.8,264.2 156.6,263.4 162.5,266.1 158.0,267.1" fill="url(#g58)" stroke="#1c1048"/>
<polygon points="173.1,266.1 176.9,262.0 184.1,263.8 179.7,268.5" fill="url(#g59)" stroke="#21195e"/>
<polygon points="140.7,259.7 144.3,261.0 148.6,263.8 144.1,262.2" fill="url(#g60)" stroke="#94414c"/>
<polygon points="116.5,239.2 120.5,243.0 118.8,241.4 113.8,236.6" fill="url(#g61)" stroke="#f2b65f"/>
<polygon points="90.7,220.3 95.2,221.7 89.9,217.0 84.7,215.4" fill="url(#g62)" stroke="#f2bf5b"/>
<polygon points="144.3,261.0 147.7,261.3 152.8,264.2 148.6,263.8" fill="url(#g63)" stroke="#251941"/>
<polygon points="112.6,235.7 116.5,239.2 113.8,236.6 109.1,232.2" fill="url(#g64)" stroke="#f2b85f"/>
<polygon points="100.5,226.3 104.6,228.8 100.1,224.6 95.2,221.7" fill="url(#g65)" stroke="#f2b256"/>
<polygon points="80.2,215.7 84.7,215.4 78.7,210.5 73.5,210.9" fill="#feef3f" stroke="#f2c05c"/>
<polygon points="184.1,263.8 187.5,257.9 195.1,258.9 191.2,265.5" fill="url(#g66)" stroke="#221a62"/>
<polygon points="156.6,263.4 159.9,261.4 166.5,263.8 162.5,266.1" fill="url(#g67)" stroke="#1e1451"/>
<polygon points="166.5,263.8 169.8,260.2 176.9,262.0 173.1,266.1" fill="url(#g68)" stroke="#221a62"/>
<polygon points="109.1,232.9 112.6,235.7 109.1,232.2 104.6,228.8" fill="url(#g69)" stroke="#f2b257"/>
<polygon points="128.3,250.7 131.3,253.3 132.8,254.6 128.7,251.0" fill="url(#g70)" stroke="#e4876f"/>
<polygon points="147.7,261.3 150.7,260.6 156.6,263.4 152.8,264.2" fill="url(#g71)" stroke="#1c1048"/>
<polygon points="131.3,253.3 134.4,255.6 136.8,257.5 132.8,254.6" fill="url(#g72)" stroke="#da6e5b"/>
<polygon points="69.3,213.4 73.5,210.9 66.9,206.0 62.1,208.9" fill="#fff435" stroke="#f2c05c"/>
<polygon points="125.2,247.7 128.3,250.7 128.7,251.0 124.5,247.1" fill="url(#g73)" stroke="#ea986f"/>
<polygon points="134.4,255.6 137.2,257.2 140.7,259.7 136.8,257.5" fill="url(#g74)" stroke="#d15f54"/>
<polygon points="122.1,244.7 125.2,247.7 124.5,247.1 120.5,243.0" fill="url(#g75)" stroke="#f0ad67"/>
<polygon points="96.8,225.2 100.5,226.3 95.2,221.7 90.7,220.3" fill="url(#g76)" stroke="#f1b757"/>
<polygon points="86.9,220.5 90.7,220.3 84.7,215.4 80.2,215.7" fill="#feee4a" stroke="#f2c05c"/>
<polygon points="176.9,262.0 180.0,256.9 187.5,257.9 184.1,263.8" fill="url(#g77)" stroke="#26206f"/>
<polygon points="137.2,257.2 140.0,258.1 144.3,261.0 140.7,259.7" fill="url(#g78)" stroke="#bb5050"/>
<polygon points="119.1,241.8 122.1,244.7 120.5,243.0 116.5,239.2" fill="url(#g79)" stroke="#f2b964"/>
<polygon points="105.8,231.0 109.1,232.9 104.6,228.8 100.5,226.3" fill="url(#g80)" stroke="#f2b156"/>
<polygon points="159.9,261.4 162.6,258.5 169.8,260.2 166.5,263.8" fill="url(#g81)" stroke="#231b64"/>
<polygon points="150.7,260.6 153.3,259.1 159.9,261.4 156.6,263.4" fill="url(#g82)" stroke="#221a62"/>
<polygon points="76.5,217.9 80.2,215.7 73.5,210.9 69.3,213.4" fill="#fef03d" stroke="#f2c05c"/>
<polygon points="140.0,258.1 142.5,258.4 147.7,261.3 144.3,261.0" fill="url(#g83)" stroke="#542c4f"/>
<polygon points="116.2,239.2 119.1,241.8 116.5,239.2 112.6,235.7" fill="url(#g84)" stroke="#f2bd66"/>
<polygon points="169.8,260.2 172.4,255.8 180.0,256.9 176.9,262.0" fill="url(#g85)" stroke="#262070"/>
<polygon points="93.6,225.4 96.8,225.2 90.7,220.3 86.9,220.5" fill="#feed57" stroke="#f2bc59"/>
<polygon points="113.5,237.1 116.2,239.2 112.6,235.7 109.1,232.9" fill="url(#g86)" stroke="#f2bb64"/>
<polygon points="142.5,258.4 144.8,257.9 150.7,260.6 147.7,261.3" fill="url(#g87)" stroke="#231a5d"/>
<polygon points="102.8,230.1 105.8,231.0 100.5,226.3 96.8,225.2" fill="url(#g88)" stroke="#f2b156"/>
<polygon points="83.7,222.5 86.9,220.5 80.2,215.7 76.5,217.9" fill="#feee47" stroke="#f2c05c"/>
<polygon points="187.5,257.9 190.0,251.3 197.9,251.5 195.1,258.9" fill="url(#g89)" stroke="#282870"/>
<polygon points="66.0,218.1 69.3,213.4 62.1,208.9 58.4,214.1" fill="#fff539" stroke="#f2c05c"/>
<polygon points="153.3,259.1 155.5,256.7 162.6,258.5 159.9,261.4" fill="url(#g90)" stroke="#26206f"/>
<polygon points="127.8,250.3 129.9,252.1 131.3,253.3 128.3,250.7" fill="url(#g91)" stroke="#e78e77"/>
<polygon points="129.9,252.1 131.9,253.6 134.4,255.6 131.3,253.3" fill="url(#g92)" stroke="#e17f69"/>
<polygon points="125.8,248.4 127.8,250.3 128.3,250.7 125.2,247.7" fill="url(#g93)" stroke="#ec9c72"/>
<polygon points="111.1,235.7 113.5,237.1 109.1,232.9 105.8,231.0" fill="url(#g94)" stroke="#f2b156"/>
<polygon points="131.9,253.6 133.8,254.7 137.2,257.2 134.4,255.6" fill="url(#g95)" stroke="#d6675a"/>
<polygon points="162.6,258.5 164.8,254.8 172.4,255.8 169.8,260.2" fill="url(#g96)" stroke="#272670"/>
<polygon points="123.7,246.3 125.8,248.4 125.2,247.7 122.1,244.7" fill="url(#g97)" stroke="#efaa6e"/>
<polygon points="144.8,257.9 146.7,256.7 153.3,259.1 150.7,260.6" fill="url(#g98)" stroke="#221a62"/>
<polygon points="133.8,254.7 135.6,255.3 140.0,258.1 137.2,257.2" fill="url(#g99)" stroke="#cd5a50"/>
<polygon points="100.3,230.2 102.8,230.1 96.8,225.2 93.6,225.4" fill="#fdeb67" stroke="#f2b155"/>
<polygon points="180.0,256.9 182.1,251.1 190.0,251.3 187.5,257.9" fill="url(#g100)" stroke="#282870"/>
<polygon points="121.7,244.4 123.7,246.3 122.1,244.7 119.1,241.8" fill="url(#g101)" stroke="#f1b768"/>
<polygon points="73.6,222.0 76.5,217.9 69.3,213.4 66.0,218.1" fill="#fff13f" stroke="#f2c05c"/>
<polygon points="90.9,227.0 93.6,225.4 86.9,220.5 83.7,222.5" fill="#ffed57" stroke="#f2bd5a"/>
<polygon points="135.6,255.3 137.3,255.5 142.5,258.4 140.0,258.1" fill="url(#g102)" stroke="#af4d53"/>
<polygon points="119.8,242.7 121.7,244.4 119.1,241.8 116.2,239.2" fill="url(#g103)" stroke="#f2bc66"/>
<polygon points="108.9,235.0 111.1,235.7 105.8,231.0 102.8,230.1" fill="#fdea76" stroke="#f2b055"/>
<polygon points="172.4,255.8 174.2,250.9 182.1,251.1 180.0,256.9" fill="url(#g104)" stroke="#282870"/>
<polygon points="146.7,256.7 148.4,254.9 155.5,256.7 153.3,259.1" fill="url(#g105)" stroke="#262070"/>
<polygon points="155.5,256.7 157.2,253.8 164.8,254.8 162.6,258.5" fill="url(#g106)" stroke="#282870"/>
<polygon points="81.3,226.0 83.7,222.5 76.5,217.9 73.6,222.0" fill="#ffef4a" stroke="#f2c05c"/>
<polygon points="118.0,241.3 119.8,242.7 116.2,239.2 113.5,237.1" fill="url(#g107)" stroke="#f2be67"/>
<polygon points="137.3,255.5 138.8,255.1 144.8,257.9 142.5,258.4" fill="url(#g108)" stroke="#5e315a"/>
<polygon points="98.1,231.5 100.3,230.2 93.6,225.4 90.9,227.0" fill="url(#g109)" stroke="#f2b155"/>
<polygon points="106.9,235.1 108.9,235.0 102.8,230.1 100.3,230.2" fill="#fbe774" stroke="#f2b055"/>
<polygon points="116.4,240.3 118.0,241.3 113.5,237.1 111.1,235.7" fill="url(#g110)" stroke="#f2b55b"/>
<polygon points="138.8,255.1 140.1,254.3 146.7,256.7 144.8,257.9" fill="url(#g111)" stroke="#322365"/>
<polygon points="63.7,224.6 66.0,218.1 58.4,214.1 55.8,221.5" fill="url(#g112)" stroke="#f2c05c"/>
<polygon points="164.8,254.8 166.4,250.7 174.2,250.9 172.4,255.8" fill="#3130a9" stroke="#282870"/>
<polygon points="88.9,229.9 90.9,227.0 83.7,222.5 81.3,226.0" fill="url(#g113)" stroke="#f1b857"/>
<polygon points="148.4,254.9 149.7,252.7 157.2,253.8 155.5,256.7" fill="url(#g114)" stroke="#282670"/>
<polygon points="114.9,239.9 116.4,240.3 111.1,235.7 108.9,235.0" fill="#fae57e" stroke="#f2b054"/>
<polygon points="127.4,250.0 128.4,250.9 129.9,252.1 127.8,250.3" fill="url(#g115)" stroke="#e89379"/>
<polygon points="128.4,250.9 129.4,251.6 131.9,253.6 129.9,252.1" fill="url(#g116)" stroke="#e58a77"/>
<polygon points="71.6,227.7 73.6,222.0 66.0,218.1 63.7,224.6" fill="url(#g117)" stroke="#f2c05c"/>
<polygon points="126.4,249.0 127.4,250.0 127.8,250.3 125.8,248.4" fill="url(#g118)" stroke="#ec9c76"/>
<polygon points="129.4,251.6 130.4,252.2 133.8,254.7 131.9,253.6" fill="url(#g119)" stroke="#dc725f"/>
<polygon points="125.3,248.0 126.4,249.0 125.8,248.4 123.7,246.3" fill="url(#g120)" stroke="#eea275"/>
<polygon points="105.3,236.1 106.9,235.1 100.3,230.2 98.1,231.5" fill="url(#g121)" stroke="#f2b054"/>
<polygon points="140.1,254.3 141.2,253.2 148.4,254.9 146.7,256.7" fill="url(#g122)" stroke="#2d246c"/>
<polygon points="190.0,251.3 191.4,244.5 199.5,243.8 197.9,251.5" fill="url(#g123)" stroke="#282870"/>
<polygon points="130.4,252.2 131.3,252.5 135.6,255.3 133.8,254.7" fill="url(#g124)" stroke="#d66458"/>
<polygon points="157.2,253.8 158.5,250.5 166.4,250.7 164.8,254.8" fill="#3535a6" stroke="#282870"/>
<polygon points="124.3,247.0 125.3,248.0 123.7,246.3 121.7,244.4" fill="#e2e0ac" stroke="#efaa73"/>
<polygon points="96.5,233.9 98.1,231.5 90.9,227.0 88.9,229.9" fill="url(#g125)" stroke="#f2b155"/>
<polygon points="131.3,252.5 132.1,252.6 137.3,255.5 135.6,255.3" fill="url(#g126)" stroke="#cd584f"/>
<polygon points="79.5,230.9 81.3,226.0 73.6,222.0 71.6,227.7" fill="url(#g127)" stroke="#f2be5b"/>
<polygon points="123.4,246.2 124.3,247.0 121.7,244.4 119.8,242.7" fill="url(#g128)" stroke="#f1b36c"/>
<polygon points="113.6,239.9 114.9,239.9 108.9,235.0 106.9,235.1" fill="#f7e17d" stroke="#f2b054"/>
<polygon points="182.1,251.1 183.4,245.1 191.4,244.5 190.0,251.3" fill="url(#g129)" stroke="#282870"/>
<polygon points="122.5,245.5 123.4,246.2 119.8,242.7 118.0,241.3" fill="url(#g130)" stroke="#f2b965"/>
<polygon points="132.1,252.6 132.9,252.4 138.8,255.1 137.3,255.5" fill="url(#g131)" stroke="#ba5154"/>
<polygon points="141.2,253.2 142.1,251.7 149.7,252.7 148.4,254.9" fill="#483c90" stroke="#30276f"/>
<polygon points="87.4,234.0 88.9,229.9 81.3,226.0 79.5,230.9" fill="url(#g132)" stroke="#f2b256"/>
<polygon points="149.7,252.7 150.6,250.3 158.5,250.5 157.2,253.8" fill="#3e3a9d" stroke="#292771"/>
<polygon points="174.2,250.9 175.3,245.8 183.4,245.1 182.1,251.1" fill="url(#g133)" stroke="#282870"/>
<polygon points="104.1,237.8 105.3,236.1 98.1,231.5 96.5,233.9" fill="url(#g134)" stroke="#f2bc66"/>
<polygon points="121.7,245.0 122.5,245.5 118.0,241.3 116.4,240.3" fill="url(#g135)" stroke="#f2b65d"/>
<polygon points="132.9,252.4 133.6,252.0 140.1,254.3 138.8,255.1" fill="#5a477c" stroke="#a24a58"/>
<polygon points="112.6,240.6 113.6,239.9 106.9,235.1 105.3,236.1" fill="url(#g136)" stroke="#f2b055"/>
<polygon points="120.9,244.7 121.7,245.0 116.4,240.3 114.9,239.9" fill="url(#g137)" stroke="#f2b257"/>
<polygon points="166.4,250.7 167.3,246.4 175.3,245.8 174.2,250.9" fill="url(#g138)" stroke="#282870"/>
<polygon points="95.3,237.1 96.5,233.9 88.9,229.9 87.4,234.0" fill="url(#g139)" stroke="#f2b45a"/>
<polygon points="133.6,252.0 134.1,251.4 141.2,253.2 140.1,254.3" fill="#584682" stroke="#8e445e"/>
<polygon points="62.4,232.6 63.7,224.6 55.8,221.5 54.4,230.5" fill="url(#g140)" stroke="#f2bf5c"/>
<polygon points="120.3,244.8 120.9,244.7 114.9,239.9 113.6,239.9" fill="#edd480" stroke="#f2b156"/>
<polygon points="142.1,251.7 142.7,250.1 150.6,250.3 149.7,252.7" fill="#4c4293" stroke="#382b71"/>
<polygon points="111.7,241.7 112.6,240.6 105.3,236.1 104.1,237.8" fill="url(#g141)" stroke="#f2bc65"/>
<polygon points="158.5,250.5 159.2,247.1 167.3,246.4 166.4,250.7" fill="url(#g142)" stroke="#282770"/>
<polygon points="70.5,234.8 71.6,227.7 63.7,224.6 62.4,232.6" fill="url(#g143)" stroke="#f2bd5a"/>
<polygon points="103.2,240.3 104.1,237.8 96.5,233.9 95.3,237.1" fill="#fff096" stroke="#f2be68"/>
<polygon points="134.1,251.4 134.5,250.7 142.1,251.7 141.2,253.2" fill="#594988" stroke="#874462"/>
<polygon points="119.8,245.1 120.3,244.8 113.6,239.9 112.6,240.6" fill="#f0d580" stroke="#f2b156"/>
<polygon points="78.6,236.9 79.5,230.9 71.6,227.7 70.5,234.8" fill="url(#g144)" stroke="#f2b357"/>
<polygon points="150.6,250.3 151.1,247.7 159.2,247.1 158.5,250.5" fill="url(#g145)" stroke="#2b2772"/>
<polygon points="86.6,239.0 87.4,234.0 79.5,230.9 78.6,236.9" fill="url(#g146)" stroke="#f2b257"/>
<polygon points="127.0,249.6 127.0,249.6 128.4,250.9 127.4,250.0" fill="url(#g147)" stroke="#ea9579"/>
<polygon points="127.0,249.6 127.0,249.6 129.4,251.6 128.4,250.9" fill="url(#g148)" stroke="#e78e7b"/>
<polygon points="111.2,243.4 111.7,241.7 104.1,237.8 103.2,240.3" fill="#ffea91" stroke="#f2be67"/>
<polygon points="127.0,249.6 127.0,249.6 127.4,250.0 126.4,249.0" fill="url(#g149)" stroke="#ec9a78"/>
<polygon points="127.0,249.6 127.0,249.6 130.4,252.2 129.4,251.6" fill="url(#g150)" stroke="#e2816c"/>
<polygon points="127.0,249.6 127.0,249.6 126.4,249.0 125.3,248.0" fill="#d7d8b7" stroke="#ed9b78"/>
<polygon points="127.0,249.6 127.0,249.6 131.3,252.5 130.4,252.2" fill="url(#g151)" stroke="#d96958"/>
<polygon points="134.5,250.7 134.8,249.8 142.7,250.1 142.1,251.7" fill="#5c4d8c" stroke="#8a4664"/>
<polygon points="127.0,249.6 127.0,249.6 125.3,248.0 124.3,247.0" fill="#d9d8b6" stroke="#ed9c78"/>
<polygon points="119.4,245.7 119.8,245.1 112.6,240.6 111.7,241.7" fill="#f7d982" stroke="#f2b155"/>
<polygon points="127.0,249.6 127.0,249.6 132.1,252.6 131.3,252.5" fill="url(#g152)" stroke="#d66153"/>
<polygon points="127.0,249.6 127.0,249.6 124.3,247.0 123.4,246.2" fill="url(#g153)" stroke="#ed9d77"/>
<polygon points="94.7,241.1 95.3,237.1 87.4,234.0 86.6,239.0" fill="url(#g154)" stroke="#f2be68"/>
<polygon points="142.7,250.1 143.1,248.4 151.1,247.7 150.6,250.3" fill="#504692" stroke="#483170"/>
<polygon points="127.0,249.6 127.0,249.6 123.4,246.2 122.5,245.5" fill="url(#g155)" stroke="#eda073"/>
<polygon points="127.0,249.6 127.0,249.6 132.9,252.4 132.1,252.6" fill="url(#g156)" stroke="#d15a4e"/>
<polygon points="127.0,249.6 127.0,249.6 122.5,245.5 121.7,245.0" fill="url(#g157)" stroke="#eea46a"/>
<polygon points="127.0,249.6 127.0,249.6 133.6,252.0 132.9,252.4" fill="#6e577a" stroke="#cb5851"/>
<polygon points="102.8,243.3 103.2,240.3 95.3,237.1 94.7,241.1" fill="#fff099" stroke="#f2be68"/>
<polygon points="127.0,249.6 127.0,249.6 121.7,245.0 120.9,244.7" fill="url(#g158)" stroke="#eea35f"/>
<polygon points="119.1,246.5 119.4,245.7 111.7,241.7 111.2,243.4" fill="#fbdb80" stroke="#f2b054"/>
<polygon points="127.0,249.6 127.0,249.6 134.1,251.4 133.6,252.0" fill="#6b557f" stroke="#c65754"/>
<polygon points="127.0,249.6 127.0,249.6 120.9,244.7 120.3,244.8" fill="url(#g159)" stroke="#ee9f55"/>
<polygon points="134.8,249.8 135.0,249.0 143.1,248.4 142.7,250.1" fill="#5f508d" stroke="#944a64"/>
<polygon points="110.8,245.4 111.2,243.4 103.2,240.3 102.8,243.3" fill="#ffea90" stroke="#f2bd67"/>
<polygon points="127.0,249.6 127.0,249.6 134.5,250.7 134.1,251.4" fill="#6b5684" stroke="#c35857"/>
<polygon points="127.0,249.6 127.0,249.6 120.3,244.8 119.8,245.1" fill="url(#g160)" stroke="#ee9f50"/>
<polygon points="191.4,244.5 191.8,238.0 199.9,236.5 199.5,243.8" fill="url(#g161)" stroke="#28226d"/>
<polygon points="127.0,249.6 127.0,249.6 134.8,249.8 134.5,250.7" fill="#6c5888" stroke="#c0585a"/>
<polygon points="127.0,249.6 127.0,249.6 119.8,245.1 119.4,245.7" fill="url(#g162)" stroke="#efa551"/>
<polygon points="183.4,245.1 183.7,239.4 191.8,238.0 191.4,244.5" fill="url(#g163)" stroke="#27236f"/>
<polygon points="118.9,247.5 119.1,246.5 111.2,243.4 110.8,245.4" fill="#fedc7e" stroke="#f2b054"/>
<polygon points="175.3,245.8 175.6,240.9 183.7,239.4 183.4,245.1" fill="url(#g164)" stroke="#27246f"/>
<polygon points="167.3,246.4 167.5,242.3 175.6,240.9 175.3,245.8" fill="url(#g165)" stroke="#27236f"/>
<polygon points="127.0,249.6 127.0,249.6 119.4,245.7 119.1,246.5" fill="url(#g166)" stroke="#f1ab53"/>
<polygon points="159.2,247.1 159.4,243.8 167.5,242.3 167.3,246.4" fill="url(#g167)" stroke="#29246f"/>
<polygon points="127.0,249.6 127.0,249.6 135.0,249.0 134.8,249.8" fill="#6d5989" stroke="#c0595b"/>
<polygon points="151.1,247.7 151.3,245.3 159.4,243.8 159.2,247.1" fill="url(#g168)" stroke="#35296f"/>
<polygon points="143.1,248.4 143.2,246.7 151.3,245.3 151.1,247.7" fill="url(#g169)" stroke="#653a69"/>
<polygon points="127.0,249.6 127.0,249.6 119.1,246.5 118.9,247.5" fill="#fcd075" stroke="#f2af54"/>
<polygon points="135.0,249.0 135.1,248.2 143.2,246.7 143.1,248.4" fill="#615189" stroke="#a44e5f"/>
<polygon points="127.0,249.6 127.0,249.6 135.1,248.2 135.0,249.0" fill="#6d5987" stroke="#c35959"/>
<polygon points="127.0,249.6 127.0,249.6 118.9,247.5 118.9,248.7" fill="#ffd478" stroke="#f2b055"/>
<polygon points="118.9,248.7 118.9,247.5 110.8,245.4 110.8,247.7" fill="#ffdd7f" stroke="#f2b054"/>
<polygon points="110.8,247.7 110.8,245.4 102.8,243.3 102.7,246.7" fill="#ffea93" stroke="#f2be67"/>
<polygon points="102.7,246.7 102.8,243.3 94.7,241.1 94.6,245.7" fill="url(#g170)" stroke="#f2bd68"/>
<polygon points="94.6,245.7 94.7,241.1 86.6,239.0 86.5,244.7" fill="url(#g171)" stroke="#f2be68"/>
<polygon points="127.0,249.6 127.0,249.6 118.9,248.7 119.0,249.9" fill="#ffd77b" stroke="#f2b054"/>
<polygon points="86.5,244.7 86.6,239.0 78.6,236.9 78.4,243.7" fill="url(#g172)" stroke="#f2be68"/>
<polygon points="127.0,249.6 127.0,249.6 135.0,247.5 135.1,248.2" fill="url(#g173)" stroke="#c95954"/>
<polygon points="78.4,243.7 78.6,236.9 70.5,234.8 70.3,242.7" fill="url(#g174)" stroke="#f2b860"/>
<polygon points="70.3,242.7 70.5,234.8 62.4,232.6 62.2,241.8" fill="url(#g175)" stroke="#f2b358"/>
<polygon points="62.2,241.8 62.4,232.6 54.4,230.5 54.1,240.8" fill="url(#g176)" stroke="#f2b358"/>
<polygon points="127.0,249.6 127.0,249.6 119.0,249.9 119.2,251.1" fill="#ffd57b" stroke="#f2b055"/>
<polygon points="127.0,249.6 127.0,249.6 134.8,246.9 135.0,247.5" fill="url(#g177)" stroke="#d0584f"/>
<polygon points="127.0,249.6 127.0,249.6 119.2,251.1 119.6,252.2" fill="url(#g178)" stroke="#f2b055"/>
<polygon points="119.0,249.9 118.9,248.7 110.8,247.7 111.0,250.1" fill="#ffde83" stroke="#f2b054"/>
<polygon points="135.1,248.2 135.0,247.5 143.0,245.3 143.2,246.7" fill="url(#g179)" stroke="#b75358"/>
<polygon points="127.0,249.6 127.0,249.6 134.4,246.5 134.8,246.9" fill="url(#g180)" stroke="#d45648"/>
<polygon points="127.0,249.6 127.0,249.6 119.6,252.2 120.1,253.2" fill="url(#g181)" stroke="#f0a650"/>
<polygon points="127.0,249.6 127.0,249.6 120.1,253.2 120.7,254.0" fill="url(#g182)" stroke="#ea7f3c"/>
<polygon points="127.0,249.6 127.0,249.6 134.0,246.4 134.4,246.5" fill="url(#g183)" stroke="#d55444"/>
<polygon points="111.0,250.1 110.8,247.7 102.7,246.7 103.0,250.3" fill="#ffe999" stroke="#f2bd67"/>
<polygon points="127.0,249.6 127.0,249.6 120.7,254.0 121.4,254.5" fill="url(#g184)" stroke="#e86e37"/>
<polygon points="143.2,246.7 143.0,245.3 151.0,243.1 151.3,245.3" fill="url(#g185)" stroke="#90465d"/>
<polygon points="127.0,249.6 127.0,249.6 133.4,246.5 134.0,246.4" fill="url(#g186)" stroke="#d65540"/>
<polygon points="119.2,251.1 119.0,249.9 111.0,250.1 111.5,252.5" fill="#ffdb86" stroke="#f2b155"/>
<polygon points="127.0,249.6 127.0,249.6 121.4,254.5 122.2,254.8" fill="url(#g187)" stroke="#e76a37"/>
<polygon points="127.0,249.6 127.0,249.6 132.7,246.9 133.4,246.5" fill="url(#g188)" stroke="#d95738"/>
<polygon points="127.0,249.6 127.0,249.6 122.2,254.8 123.1,254.8" fill="url(#g189)" stroke="#e56436"/>
<polygon points="135.0,247.5 134.8,246.9 142.6,244.1 143.0,245.3" fill="url(#g190)" stroke="#c75552"/>
<polygon points="127.0,249.6 127.0,249.6 123.1,254.8 124.0,254.5" fill="url(#g191)" stroke="#de5f30"/>
<polygon points="103.0,250.3 102.7,246.7 94.6,245.7 95.0,250.5" fill="url(#g192)" stroke="#f2bb6e"/>
<polygon points="127.0,249.6 127.0,249.6 131.9,247.5 132.7,246.9" fill="url(#g193)" stroke="#d65631"/>
<polygon points="127.0,249.6 127.0,249.6 124.0,254.5 125.0,254.0" fill="#d2783b" stroke="#d8592b"/>
<polygon points="151.3,245.3 151.0,243.1 159.1,240.9 159.4,243.8" fill="url(#g194)" stroke="#5b3363"/>
<polygon points="127.0,249.6 127.0,249.6 131.0,248.3 131.9,247.5" fill="url(#g195)" stroke="#d4552b"/>
<polygon points="127.0,249.6 127.0,249.6 125.0,254.0 126.0,253.2" fill="#d2763b" stroke="#d7582b"/>
<polygon points="127.0,249.6 127.0,249.6 130.1,249.2 131.0,248.3" fill="url(#g196)" stroke="#d55629"/>
<polygon points="127.0,249.6 127.0,249.6 126.0,253.2 127.0,252.3" fill="#d4773c" stroke="#d8592c"/>
<polygon points="119.6,252.2 119.2,251.1 111.5,252.5 112.2,254.7" fill="url(#g197)" stroke="#f2b156"/>
<polygon points="127.0,249.6 127.0,249.6 129.1,250.2 130.1,249.2" fill="#d4773b" stroke="#d8592b"/>
<polygon points="127.0,249.6 127.0,249.6 127.0,252.3 128.1,251.3" fill="#d6783d" stroke="#da5b2d"/>
<polygon points="127.0,249.6 127.0,249.6 128.1,251.3 129.1,250.2" fill="#d6783d" stroke="#d95b2c"/>
<polygon points="95.0,250.5 94.6,245.7 86.5,244.7 87.0,250.7" fill="url(#g198)" stroke="#f2ba74"/>
<polygon points="111.5,252.5 111.0,250.1 103.0,250.3 103.7,253.9" fill="#ffe69f" stroke="#f2bc67"/>
<polygon points="159.4,243.8 159.1,240.9 167.1,238.7 167.5,242.3" fill="url(#g199)" stroke="#3a2664"/>
<polygon points="134.8,246.9 134.4,246.5 141.9,243.4 142.6,244.1" fill="url(#g200)" stroke="#ce544b"/>
<polygon points="120.1,253.2 119.6,252.2 112.2,254.7 113.2,256.7" fill="url(#g201)" stroke="#f2b056"/>
<polygon points="87.0,250.7 86.5,244.7 78.4,243.7 79.1,250.9" fill="url(#g202)" stroke="#f2bb6d"/>
<polygon points="143.0,245.3 142.6,244.1 150.4,241.4 151.0,243.1" fill="url(#g203)" stroke="#b74f54"/>
<polygon points="167.5,242.3 167.1,238.7 175.1,236.6 175.6,240.9" fill="url(#g204)" stroke="#2f2161"/>
<polygon points="79.1,250.9 78.4,243.7 70.3,242.7 71.1,251.2" fill="url(#g205)" stroke="#f2bd68"/>
<polygon points="120.7,254.0 120.1,253.2 113.2,256.7 114.4,258.3" fill="url(#g206)" stroke="#efa453"/>
<polygon points="103.7,253.9 103.0,250.3 95.0,250.5 96.0,255.3" fill="url(#g207)" stroke="#f2b77f"/>
<polygon points="134.4,246.5 134.0,246.4 140.9,243.2 141.9,243.4" fill="url(#g208)" stroke="#d25244"/>
<polygon points="112.2,254.7 111.5,252.5 103.7,253.9 104.8,257.3" fill="url(#g209)" stroke="#f2b968"/>
<polygon points="175.6,240.9 175.1,236.6 183.1,234.4 183.7,239.4" fill="url(#g210)" stroke="#2e205d"/>
<polygon points="71.1,251.2 70.3,242.7 62.2,241.8 63.1,251.4" fill="url(#g211)" stroke="#f2be68"/>
<polygon points="121.4,254.5 120.7,254.0 114.4,258.3 115.8,259.4" fill="url(#g212)" stroke="#e98040"/>
<polygon points="151.0,243.1 150.4,241.4 158.2,238.7 159.1,240.9" fill="url(#g213)" stroke="#9b4553"/>
<polygon points="183.7,239.4 183.1,234.4 191.1,232.2 191.8,238.0" fill="url(#g214)" stroke="#312056"/>
<polygon points="134.0,246.4 133.4,246.5 139.8,243.4 140.9,243.2" fill="url(#g215)" stroke="#d25341"/>
<polygon points="96.0,255.3 95.0,250.5 87.0,250.7 88.2,256.7" fill="url(#g216)" stroke="#f2b883"/>
<polygon points="63.1,251.4 62.2,241.8 54.1,240.8 55.1,251.6" fill="url(#g217)" stroke="#f2be68"/>
<polygon points="122.2,254.8 121.4,254.5 115.8,259.4 117.4,260.0" fill="url(#g218)" stroke="#e76c37"/>
<polygon points="142.6,244.1 141.9,243.4 149.3,240.3 150.4,241.4" fill="url(#g219)" stroke="#c6504c"/>
<polygon points="113.2,256.7 112.2,254.7 104.8,257.3 106.3,260.2" fill="url(#g220)" stroke="#f0b16a"/>
<polygon points="191.8,238.0 191.1,232.2 199.2,230.0 199.9,236.5" fill="url(#g221)" stroke="#312150"/>
<polygon points="133.4,246.5 132.7,246.9 138.4,244.1 139.8,243.4" fill="url(#g222)" stroke="#d65637"/>
<polygon points="104.8,257.3 103.7,253.9 96.0,255.3 97.4,259.8" fill="url(#g223)" stroke="#f2b682"/>
<polygon points="123.1,254.8 122.2,254.8 117.4,260.0 119.1,260.0" fill="url(#g224)" stroke="#e66438"/>
<polygon points="88.2,256.7 87.0,250.7 79.1,250.9 80.5,258.1" fill="url(#g225)" stroke="#f2b884"/>
<polygon points="159.1,240.9 158.2,238.7 166.0,235.9 167.1,238.7" fill="url(#g226)" stroke="#6e354d"/>
<polygon points="124.0,254.5 123.1,254.8 119.1,260.0 121.0,259.4" fill="url(#g227)" stroke="#e36235"/>
<polygon points="132.7,246.9 131.9,247.5 136.8,245.3 138.4,244.1" fill="url(#g228)" stroke="#d55530"/>
<polygon points="114.4,258.3 113.2,256.7 106.3,260.2 108.1,262.6" fill="url(#g229)" stroke="#efaa67"/>
<polygon points="125.0,254.0 124.0,254.5 121.0,259.4 123.0,258.3" fill="#d9783f" stroke="#db5c2e"/>
<polygon points="141.9,243.4 140.9,243.2 147.9,239.9 149.3,240.3" fill="url(#g230)" stroke="#cd4e43"/>
<polygon points="131.9,247.5 131.0,248.3 135.1,246.9 136.8,245.3" fill="url(#g231)" stroke="#d25329"/>
<polygon points="126.0,253.2 125.0,254.0 123.0,258.3 125.0,256.8" fill="#d8753d" stroke="#d7592b"/>
<polygon points="131.0,248.3 130.1,249.2 133.2,248.8 135.1,246.9" fill="url(#g232)" stroke="#d15327"/>
<polygon points="150.4,241.4 149.3,240.3 156.8,237.2 158.2,238.7" fill="url(#g233)" stroke="#ba4b4a"/>
<polygon points="127.0,252.3 126.0,253.2 125.0,256.8 127.1,255.0" fill="#d9743d" stroke="#d7592b"/>
<polygon points="80.5,258.1 79.1,250.9 71.1,251.2 72.7,259.6" fill="url(#g234)" stroke="#f2b884"/>
<polygon points="97.4,259.8 96.0,255.3 88.2,256.7 90.1,262.4" fill="url(#g235)" stroke="#f1b482"/>
<polygon points="130.1,249.2 129.1,250.2 131.2,250.8 133.2,248.8" fill="#d7743a" stroke="#d45628"/>
<polygon points="106.3,260.2 104.8,257.3 97.4,259.8 99.4,263.8" fill="url(#g236)" stroke="#ed9d7a"/>
<polygon points="128.1,251.3 127.0,252.3 127.1,255.0 129.2,253.0" fill="#da753d" stroke="#d7592b"/>
<polygon points="129.1,250.2 128.1,251.3 129.2,253.0 131.2,250.8" fill="#da763c" stroke="#d6582a"/>
<polygon points="167.1,238.7 166.0,235.9 173.8,233.2 175.1,236.6" fill="url(#g237)" stroke="#3b253e"/>
<polygon points="115.8,259.4 114.4,258.3 108.1,262.6 110.2,264.3" fill="url(#g238)" stroke="#ed9f5d"/>
<polygon points="140.9,243.2 139.8,243.4 146.2,240.3 147.9,239.9" fill="url(#g239)" stroke="#ce5041"/>
<polygon points="72.7,259.6 71.1,251.2 63.1,251.4 65.0,261.0" fill="url(#g240)" stroke="#f2b884"/>
<polygon points="117.4,260.0 115.8,259.4 110.2,264.3 112.6,265.1" fill="url(#g241)" stroke="#e7733d"/>
<polygon points="175.1,236.6 173.8,233.2 181.6,230.4 183.1,234.4" fill="url(#g242)" stroke="#292235"/>
<polygon points="90.1,262.4 88.2,256.7 80.5,258.1 82.7,264.9" fill="url(#g243)" stroke="#efa77e"/>
<polygon points="108.1,262.6 106.3,260.2 99.4,263.8 101.8,266.9" fill="url(#g244)" stroke="#ec9877"/>
<polygon points="158.2,238.7 156.8,237.2 164.3,234.1 166.0,235.9" fill="url(#g245)" stroke="#953f42"/>
<polygon points="139.8,243.4 138.4,244.1 144.1,241.3 146.2,240.3" fill="url(#g246)" stroke="#d35436"/>
<polygon points="149.3,240.3 147.9,239.9 154.9,236.7 156.8,237.2" fill="url(#g247)" stroke="#c74a41"/>
<polygon points="65.0,261.0 63.1,251.4 55.1,251.6 57.2,262.4" fill="url(#g248)" stroke="#f2b884"/>
<polygon points="99.4,263.8 97.4,259.8 90.1,262.4 92.5,267.3" fill="url(#g249)" stroke="#ec9678"/>
<polygon points="119.1,260.0 117.4,260.0 112.6,265.1 115.2,265.1" fill="url(#g250)" stroke="#e66438"/>
<polygon points="183.1,234.4 181.6,230.4 189.4,227.7 191.1,232.2" fill="url(#g251)" stroke="#272332"/>
<polygon points="121.0,259.4 119.1,260.0 115.2,265.1 118.0,264.3" fill="url(#g252)" stroke="#e56437"/>
<polygon points="138.4,244.1 136.8,245.3 141.7,243.1 144.1,241.3" fill="url(#g253)" stroke="#d45430"/>
<polygon points="82.7,264.9 80.5,258.1 72.7,259.6 75.3,267.5" fill="url(#g254)" stroke="#ec9979"/>
<polygon points="110.2,264.3 108.1,262.6 101.8,266.9 104.6,269.2" fill="url(#g255)" stroke="#e88f6f"/>
<polygon points="123.0,258.3 121.0,259.4 118.0,264.3 121.0,262.7" fill="#dd7540" stroke="#da5b2d"/>
<polygon points="136.8,245.3 135.1,246.9 139.1,245.5 141.7,243.1" fill="url(#g256)" stroke="#d2532b"/>
<polygon points="166.0,235.9 164.3,234.1 171.7,231.0 173.8,233.2" fill="url(#g257)" stroke="#452a35"/>
<polygon points="147.9,239.9 146.2,240.3 152.6,237.1 154.9,236.7" fill="url(#g258)" stroke="#c84d40"/>
<polygon points="101.8,266.9 99.4,263.8 92.5,267.3 95.5,271.3" fill="url(#g259)" stroke="#e9917d"/>
<polygon points="92.5,267.3 90.1,262.4 82.7,264.9 85.6,270.8" fill="url(#g260)" stroke="#ec9678"/>
<polygon points="191.1,232.2 189.4,227.7 197.2,224.9 199.2,230.0" fill="url(#g261)" stroke="#272332"/>
<polygon points="125.0,256.8 123.0,258.3 121.0,262.7 124.1,260.4" fill="#d9703e" stroke="#d55629"/>
<polygon points="135.1,246.9 133.2,248.8 136.3,248.3 139.1,245.5" fill="url(#g262)" stroke="#cf5125"/>
<polygon points="112.6,265.1 110.2,264.3 104.6,269.2 107.8,270.3" fill="url(#g263)" stroke="#e5673b"/>
<polygon points="127.1,255.0 125.0,256.8 124.1,260.4 127.2,257.7" fill="#d96f3d" stroke="#d35528"/>
<polygon points="156.8,237.2 154.9,236.7 161.9,233.4 164.3,234.1" fill="url(#g264)" stroke="#bb463e"/>
<polygon points="75.3,267.5 72.7,259.6 65.0,261.0 67.9,270.0" fill="url(#g265)" stroke="#ec9678"/>
<polygon points="133.2,248.8 131.2,250.8 133.4,251.4 136.3,248.3" fill="#d76e37" stroke="#d05225"/>
<polygon points="129.2,253.0 127.1,255.0 127.2,257.7 130.3,254.6" fill="#da6f3c" stroke="#d35427"/>
<polygon points="131.2,250.8 129.2,253.0 130.3,254.6 133.4,251.4" fill="#da703a" stroke="#d15326"/>
<polygon points="146.2,240.3 144.1,241.3 149.8,238.6 152.6,237.1" fill="url(#g266)" stroke="#d05236"/>
<polygon points="115.2,265.1 112.6,265.1 107.8,270.3 111.3,270.3" fill="url(#g267)" stroke="#e66438"/>
<polygon points="173.8,233.2 171.7,231.0 179.2,227.9 181.6,230.4" fill="url(#g268)" stroke="#2b252e"/>
<polygon points="104.6,269.2 101.8,266.9 95.5,271.3 99.0,274.0" fill="url(#g269)" stroke="#e68979"/>
<polygon points="85.6,270.8 82.7,264.9 75.3,267.5 78.7,274.4" fill="url(#g270)" stroke="#ea937b"/>
<polygon points="67.9,270.0 65.0,261.0 57.2,262.4 60.5,272.5" fill="url(#g271)" stroke="#ec9678"/>
<polygon points="95.5,271.3 92.5,267.3 85.6,270.8 89.2,275.6" fill="url(#g272)" stroke="#e68c82"/>
<polygon points="118.0,264.3 115.2,265.1 111.3,270.3 115.1,269.2" fill="url(#g273)" stroke="#e46237"/>
<polygon points="144.1,241.3 141.7,243.1 146.7,241.0 149.8,238.6" fill="url(#g274)" stroke="#d45430"/>
<polygon points="154.9,236.7 152.6,237.1 159.0,234.0 161.9,233.4" fill="url(#g275)" stroke="#c14a3f"/>
<polygon points="164.3,234.1 161.9,233.4 168.9,230.2 171.7,231.0" fill="url(#g276)" stroke="#8f3c38"/>
<polygon points="107.8,270.3 104.6,269.2 99.0,274.0 103.0,275.4" fill="url(#g277)" stroke="#e36641"/>
<polygon points="181.6,230.4 179.2,227.9 186.6,224.8 189.4,227.7" fill="url(#g278)" stroke="#26242c"/>
<polygon points="121.0,262.7 118.0,264.3 115.1,269.2 119.0,267.1" fill="url(#g279)" stroke="#d9592f"/>
<polygon points="141.7,243.1 139.1,245.5 143.2,244.1 146.7,241.0" fill="url(#g280)" stroke="#d3542e"/>
<polygon points="78.7,274.4 75.3,267.5 67.9,270.0 71.8,277.9" fill="url(#g281)" stroke="#e68c82"/>
<polygon points="124.1,260.4 121.0,262.7 119.0,267.1 123.1,264.0" fill="#cf653d" stroke="#d3542a"/>
<polygon points="139.1,245.5 136.3,248.3 139.5,247.9 143.2,244.1" fill="url(#g282)" stroke="#cf5126"/>
<polygon points="99.0,274.0 95.5,271.3 89.2,275.6 93.4,278.9" fill="url(#g283)" stroke="#e37f6f"/>
<polygon points="89.2,275.6 85.6,270.8 78.7,274.4 82.9,279.9" fill="url(#g284)" stroke="#e68c82"/>
<polygon points="127.2,257.7 124.1,260.4 123.1,264.0 127.3,260.4" fill="#d2643a" stroke="#d15227"/>
<polygon points="152.6,237.1 149.8,238.6 155.5,235.8 159.0,234.0" fill="url(#g285)" stroke="#cd5036"/>
<polygon points="136.3,248.3 133.4,251.4 135.5,252.0 139.5,247.9" fill="#d56634" stroke="#cf5125"/>
<polygon points="111.3,270.3 107.8,270.3 103.0,275.4 107.4,275.5" fill="url(#g286)" stroke="#e25d3c"/>
<polygon points="130.3,254.6 127.2,257.7 127.3,260.4 131.4,256.3" fill="#d56639" stroke="#d05126"/>
<polygon points="133.4,251.4 130.3,254.6 131.4,256.3 135.5,252.0" fill="#d76737" stroke="#cf5125"/>
<polygon points="189.4,227.7 186.6,224.8 194.1,221.6 197.2,224.9" fill="url(#g287)" stroke="#25242c"/>
<polygon points="171.7,231.0 168.9,230.2 175.9,226.9 179.2,227.9" fill="url(#g288)" stroke="#542f2e"/>
<polygon points="71.8,277.9 67.9,270.0 60.5,272.5 64.9,281.4" fill="url(#g289)" stroke="#e68c82"/>
<polygon points="161.9,233.4 159.0,234.0 165.4,230.9 168.9,230.2" fill="url(#g290)" stroke="#b8473e"/>
<polygon points="115.1,269.2 111.3,270.3 107.4,275.5 112.1,274.1" fill="url(#g291)" stroke="#e25c3c"/>
<polygon points="149.8,238.6 146.7,241.0 151.6,238.8 155.5,235.8" fill="url(#g292)" stroke="#d3532f"/>
<polygon points="103.0,275.4 99.0,274.0 93.4,278.9 98.2,280.6" fill="url(#g293)" stroke="#e06652"/>
<polygon points="82.9,279.9 78.7,274.4 71.8,277.9 76.6,284.2" fill="url(#g294)" stroke="#e3867b"/>
<polygon points="93.4,278.9 89.2,275.6 82.9,279.9 87.8,283.8" fill="url(#g295)" stroke="#e0746f"/>
<polygon points="119.0,267.1 115.1,269.2 112.1,274.1 117.0,271.4" fill="url(#g296)" stroke="#dc5937"/>
<polygon points="179.2,227.9 175.9,226.9 182.9,223.7 186.6,224.8" fill="url(#g297)" stroke="#362926"/>
<polygon points="146.7,241.0 143.2,244.1 147.3,242.7 151.6,238.8" fill="url(#g298)" stroke="#d45530"/>
<polygon points="159.0,234.0 155.5,235.8 161.2,233.0 165.4,230.9" fill="url(#g299)" stroke="#cb4f36"/>
<polygon points="107.4,275.5 103.0,275.4 98.2,280.6 103.5,280.6" fill="url(#g300)" stroke="#e25c3c"/>
<polygon points="123.1,264.0 119.0,267.1 117.0,271.4 122.2,267.7" fill="url(#g301)" stroke="#d55530"/>
<polygon points="168.9,230.2 165.4,230.9 171.8,227.7 175.9,226.9" fill="url(#g302)" stroke="#ad443c"/>
<polygon points="143.2,244.1 139.5,247.9 142.6,247.5 147.3,242.7" fill="url(#g303)" stroke="#d1522a"/>
<polygon points="127.3,260.4 123.1,264.0 122.2,267.7 127.4,263.1" fill="#c95835" stroke="#d4542f"/>
<polygon points="76.6,284.2 71.8,277.9 64.9,281.4 70.3,288.6" fill="url(#g304)" stroke="#df7774"/>
<polygon points="139.5,247.9 135.5,252.0 137.7,252.6 142.6,247.5" fill="#d25e32" stroke="#d05127"/>
<polygon points="131.4,256.3 127.3,260.4 127.4,263.1 132.6,257.9" fill="#ce5933" stroke="#d2532c"/>
<polygon points="135.5,252.0 131.4,256.3 132.6,257.9 137.7,252.6" fill="#d25c33" stroke="#d05128"/>
<polygon points="98.2,280.6 93.4,278.9 87.8,283.8 93.4,285.8" fill="url(#g305)" stroke="#e06f67"/>
<polygon points="87.8,283.8 82.9,279.9 76.6,284.2 82.2,288.7" fill="url(#g306)" stroke="#e17878"/>
<polygon points="112.1,274.1 107.4,275.5 103.5,280.6 109.1,279.0" fill="url(#g307)" stroke="#e25c3c"/>
<polygon points="186.6,224.8 182.9,223.7 189.9,220.4 194.1,221.6" fill="url(#g308)" stroke="#302824"/>
<polygon points="155.5,235.8 151.6,238.8 156.5,236.6 161.2,233.0" fill="url(#g309)" stroke="#d3532f"/>
<polygon points="117.0,271.4 112.1,274.1 109.1,279.0 115.1,275.8" fill="url(#g310)" stroke="#df5a3a"/>
<polygon points="165.4,230.9 161.2,233.0 167.0,230.3 171.8,227.7" fill="url(#g311)" stroke="#c94e36"/>
<polygon points="175.9,226.9 171.8,227.7 178.2,224.6 182.9,223.7" fill="url(#g312)" stroke="#a1423b"/>
<polygon points="103.5,280.6 98.2,280.6 93.4,285.8 99.5,285.8" fill="url(#g313)" stroke="#e0583d"/>
<polygon points="151.6,238.8 147.3,242.7 151.3,241.4 156.5,236.6" fill="url(#g314)" stroke="#d55731"/>
<polygon points="122.2,267.7 117.0,271.4 115.1,275.8 121.2,271.3" fill="url(#g315)" stroke="#d55531"/>
<polygon points="82.2,288.7 76.6,284.2 70.3,288.6 76.6,293.5" fill="url(#g316)" stroke="#e17777"/>
<polygon points="93.4,285.8 87.8,283.8 82.2,288.7 88.6,290.9" fill="url(#g317)" stroke="#df5b43"/>
<polygon points="147.3,242.7 142.6,247.5 145.7,247.0 151.3,241.4" fill="#cd582d" stroke="#d3542e"/>
<polygon points="127.4,263.1 122.2,267.7 121.2,271.3 127.4,265.8" fill="url(#g318)" stroke="#d55731"/>
<polygon points="142.6,247.5 137.7,252.6 139.8,253.2 145.7,247.0" fill="#d05830" stroke="#d2532c"/>
<polygon points="109.1,279.0 103.5,280.6 99.5,285.8 106.1,283.8" fill="url(#g319)" stroke="#dc5740"/>
<polygon points="132.6,257.9 127.4,263.1 127.4,265.8 133.7,259.6" fill="url(#g320)" stroke="#d55731"/>
<polygon points="161.2,233.0 156.5,236.6 161.5,234.4 167.0,230.3" fill="url(#g321)" stroke="#d3522f"/>
<polygon points="137.7,252.6 132.6,257.9 133.7,259.6 139.8,253.2" fill="#d05230" stroke="#d3542f"/>
<polygon points="182.9,223.7 178.2,224.6 184.6,221.5 189.9,220.4" fill="url(#g322)" stroke="#994039"/>
<polygon points="171.8,227.7 167.0,230.3 172.7,227.5 178.2,224.6" fill="url(#g323)" stroke="#c84d37"/>
<polygon points="99.5,285.8 93.4,285.8 88.6,290.9 95.6,290.9" fill="url(#g324)" stroke="#df593f"/>
<polygon points="115.1,275.8 109.1,279.0 106.1,283.8 113.1,280.1" fill="url(#g325)" stroke="#da573c"/>
<polygon points="88.6,290.9 82.2,288.7 76.6,293.5 83.8,296.1" fill="url(#g326)" stroke="#d46362"/>
<polygon points="156.5,236.6 151.3,241.4 155.4,240.0 161.5,234.4" fill="url(#g327)" stroke="#d65732"/>
<polygon points="121.2,271.3 115.1,275.8 113.1,280.1 120.2,274.9" fill="url(#g328)" stroke="#d55530"/>
<polygon points="151.3,241.4 145.7,247.0 148.8,246.6 155.4,240.0" fill="#cf562d" stroke="#d3542e"/>
<polygon points="106.1,283.8 99.5,285.8 95.6,290.9 103.2,288.7" fill="url(#g329)" stroke="#db5441"/>
<polygon points="167.0,230.3 161.5,234.4 166.4,232.3 172.7,227.5" fill="url(#g330)" stroke="#d2522e"/>
<polygon points="127.4,265.8 121.2,271.3 120.2,274.9 127.5,268.4" fill="url(#g331)" stroke="#d65732"/>
<polygon points="145.7,247.0 139.8,253.2 141.9,253.8 148.8,246.6" fill="#d1552e" stroke="#d3532e"/>
<polygon points="178.2,224.6 172.7,227.5 178.4,224.7 184.6,221.5" fill="url(#g332)" stroke="#c64d36"/>
<polygon points="133.7,259.6 127.4,265.8 127.5,268.4 134.8,261.3" fill="#ca4928" stroke="#d55731"/>
<polygon points="139.8,253.2 133.7,259.6 134.8,261.3 141.9,253.8" fill="#cf4e2b" stroke="#d45530"/>
<polygon points="95.6,290.9 88.6,290.9 83.8,296.1 91.7,296.1" fill="url(#g333)" stroke="#d46362"/>
<polygon points="113.1,280.1 106.1,283.8 103.2,288.7 111.1,284.5" fill="url(#g334)" stroke="#d45242"/>
<polygon points="161.5,234.4 155.4,240.0 159.4,238.6 166.4,232.3" fill="url(#g335)" stroke="#d65732"/>
<polygon points="120.2,274.9 113.1,280.1 111.1,284.5 119.3,278.5" fill="url(#g336)" stroke="#d4542f"/>
<polygon points="103.2,288.7 95.6,290.9 91.7,296.1 100.2,293.6" fill="url(#g337)" stroke="#d95646"/>
<polygon points="172.7,227.5 166.4,232.3 171.3,230.1 178.4,224.7" fill="url(#g338)" stroke="#d2512e"/>
<polygon points="155.4,240.0 148.8,246.6 152.0,246.1 159.4,238.6" fill="url(#g339)" stroke="#d4542f"/>
<polygon points="127.5,268.4 120.2,274.9 119.3,278.5 127.6,271.1" fill="url(#g340)" stroke="#d55630"/>
<polygon points="148.8,246.6 141.9,253.8 144.1,254.4 152.0,246.1" fill="url(#g341)" stroke="#d4542f"/>
<polygon points="134.8,261.3 127.5,268.4 127.6,271.1 135.9,262.9" fill="#c84426" stroke="#d45430"/>
<polygon points="141.9,253.8 134.8,261.3 135.9,262.9 144.1,254.4" fill="url(#g342)" stroke="#d45530"/>
<polygon points="111.1,284.5 103.2,288.7 100.2,293.6 109.1,288.8" fill="url(#g343)" stroke="#d55242"/>
<polygon points="166.4,232.3 159.4,238.6 163.5,237.2 171.3,230.1" fill="url(#g344)" stroke="#d65732"/>
<polygon points="119.3,278.5 111.1,284.5 109.1,288.8 118.3,282.1" fill="url(#g345)" stroke="#d15135"/>
<polygon points="159.4,238.6 152.0,246.1 155.1,245.7 163.5,237.2" fill="#cd4f2b" stroke="#d55631"/>
<polygon points="127.6,271.1 119.3,278.5 118.3,282.1 127.7,273.8" fill="url(#g346)" stroke="#d1502d"/>
<polygon points="152.0,246.1 144.1,254.4 146.2,255.0 155.1,245.7" fill="#ce4d2a" stroke="#d55530"/>
<polygon points="135.9,262.9 127.6,271.1 127.7,273.8 137.0,264.6" fill="url(#g347)" stroke="#d14f2c"/>
<polygon points="144.1,254.4 135.9,262.9 137.0,264.6 146.2,255.0" fill="url(#g348)" stroke="#ce4929"/>
<polyline points="112.1,234.6 111.0,233.5 109.8,232.4 108.7,231.3 107.6,230.2 106.4,229.1 105.3,228.0 104.2,227.0 103.1,225.9 102.0,224.9 100.9,223.9 99.8,222.9 98.8,221.9 97.7,220.9 96.6,220.0 95.6,219.1 94.5,218.2 93.5,217.3 92.5,216.5 91.4,215.6 90.4,214.8 89.4,214.1 88.4,213.3 87.5,212.6 86.5,211.9 85.5,211.3 84.6,210.7 83.6,210.1 82.7,209.5 81.8,209.0 80.9,208.5 80.0,208.0 79.1,207.6 78.2,207.2 77.4,206.9 76.5,206.6 75.7,206.3 74.9,206.1 74.0,205.9 73.3,205.7 72.5,205.6 71.7,205.5 71.0,205.5 70.2,205.5 69.5,205.5 68.8,205.6 68.1,205.7 67.4,205.8 66.7,206.0 66.1,206.3 65.5,206.5 64.9,206.8 64.2,207.2 63.7,207.6 63.1,208.0 62.5,208.5 62.0,209.0 61.5,209.5 61.0,210.1 60.5,210.7 60.0,211.3 59.6,212.0 59.1,212.7 58.7,213.5 58.3,214.3 57.9,215.1 57.6,215.9 57.2,216.8 56.9,217.7 56.6,218.7 56.3,219.6 56.0,220.6 55.8,221.7 55.5,222.7 55.3,223.8 55.1,224.9 54.9,226.0 54.7,227.2 54.6,228.3 54.5,229.5 54.4,230.7 54.3,232.0 54.2,233.2 54.1,234.5 54.1,235.8 54.1,237.1 54.1,238.4 54.1,239.7 54.2,241.0 54.2,242.3 54.3,243.7 54.4,245.0 54.5,246.4 54.6,247.8 54.8,249.1 54.9,250.5 55.1,251.9 55.3,253.2 55.6,254.6 55.8,255.9 56.1,257.3 56.4,258.6 56.7,260.0 57.0,261.3 57.3,262.6 57.7,264.0 58.0,265.3 58.4,266.6 58.8,267.8 59.2,269.1 59.7,270.3 60.1,271.6 60.6,272.8 61.1,274.0 61.6,275.1 62.1,276.3 62.7,277.4 63.2,278.5 63.8,279.6 64.4,280.6 65.0,281.6 65.6,282.6 66.3,283.6 66.9,284.5 67.6,285.4 68.3,286.3 69.0,287.1 69.7,287.9 70.4,288.7 71.2,289.5 71.9,290.2 72.7,290.8 73.5,291.5 74.3,292.1 75.1,292.6 76.0,293.1 76.8,293.6 77.7,294.1 78.5,294.5 79.4,294.9 80.3,295.2 81.2,295.5 82.1,295.7 83.0,295.9 84.0,296.1 84.9,296.3 85.9,296.3 86.9,296.4 87.9,296.4 88.9,296.4 89.9,296.3 90.9,296.2 91.9,296.1 92.9,295.9 94.0,295.7 95.0,295.4 96.1,295.1 97.1,294.8 98.2,294.4 99.3,294.0 100.4,293.5 101.5,293.0 102.6,292.5 103.7,292.0 104.8,291.4 105.9,290.7 107.0,290.1 108.2,289.4 109.3,288.7 110.4,287.9 111.6,287.1 112.7,286.3 113.9,285.5 115.0,284.6 116.2,283.7 117.4,282.8 118.5,281.9 119.7,280.9 120.9,279.9 122.0,278.9 123.2,277.9 124.4,276.9 125.5,275.8 126.7,274.7 127.9,273.6 129.1,272.5 130.2,271.4 131.4,270.2 132.6,269.1 133.7,267.9 134.9,266.7 136.1,265.6 137.2,264.4 138.4,263.2 139.6,262.0 140.7,260.8 141.9,259.6 143.0,258.4 144.2,257.2 145.3,256.0 146.4,254.8 147.6,253.6 148.7,252.4 149.8,251.2 150.9,250.1 152.0,248.9 153.1,247.8 154.2,246.6 155.3,245.5 156.4,244.4 157.4,243.3 158.5,242.2 159.6,241.1 160.6,240.1 161.6,239.0 162.7,238.0 163.7,237.0 164.7,236.1 165.7,235.1 166.7,234.2 167.7,233.3 168.6,232.4 169.6,231.6 170.5,230.7 171.5,229.9 172.4,229.2 173.3,228.4 174.2,227.7 175.1,227.0 176.0,226.4 176.8,225.8 177.7,225.2 178.5,224.6 179.3,224.1 180.2,223.6 181.0,223.2 181.7,222.8 182.5,222.4 183.3,222.0 184.0,221.7 184.7,221.4 185.4,221.2 186.1,221.0 186.8,220.8 187.5,220.7 188.1,220.5 188.8,220.5 189.4,220.4 190.0,220.4 190.6,220.5 191.1,220.6 191.7,220.7 192.2,220.8 192.7,221.0 193.2,221.2 193.7,221.4 194.2,221.7 194.6,222.0 195.0,222.3 195.5,222.7 195.9,223.1 196.2,223.6 196.6,224.0 196.9,224.5 197.3,225.0 197.6,225.6 197.9,226.2 198.1,226.8 198.4,227.4 198.6,228.0 198.8,228.7 199.0,229.4 199.2,230.2 199.4,230.9 199.5,231.7 199.6,232.5 199.7,233.3 199.8,234.1 199.9,234.9 199.9,235.8 199.9,236.7 199.9,237.5 199.9,238.4 199.9,239.3 199.9,240.3 199.8,241.2 199.7,242.1 199.6,243.1 199.5,244.0 199.3,245.0 199.2,245.9 199.0,246.9 198.8,247.9 198.6,248.8 198.4,249.8 198.1,250.7 197.8,251.7 197.5,252.7 197.2,253.6 196.9,254.5 196.6,255.5 196.2,256.4 195.8,257.3 195.4,258.2 195.0,259.1 194.6,260.0 194.1,260.8 193.7,261.7 193.2,262.5 192.7,263.3 192.2,264.1 191.6,264.9 191.1,265.7 190.5,266.4 189.9,267.1 189.3,267.8 188.7,268.5 188.1,269.1 187.5,269.8 186.8,270.4 186.1,270.9 185.4,271.5 184.7,272.0 184.0,272.5 183.3,272.9 182.5,273.3 181.7,273.7 181.0,274.1 180.2,274.4 179.4,274.7 178.6,275.0 177.7,275.2 176.9,275.4 176.0,275.6 175.1,275.7 174.3,275.8 173.4,275.9 172.5,275.9 171.5,275.9 170.6,275.8 169.7,275.8 168.7,275.7 167.8,275.5 166.8,275.3 165.8,275.1 164.8,274.9 163.8,274.6 162.8,274.3 161.8,273.9 160.7,273.6 159.7,273.1 158.7,272.7 157.6,272.2 156.5,271.7 155.5,271.1 154.4,270.6 153.3,270.0 152.2,269.3 151.1,268.7 150.0,268.0 148.9,267.2 147.8,266.5 146.7,265.7 145.6,264.9 144.4,264.1 143.3,263.2 142.2,262.4 141.0,261.5 139.9,260.5" class="bl"/>
<polyline points="126.0,248.2 124.8,247.0 123.6,245.9 122.5,244.8 121.3,243.7 120.1,242.5 119.0,241.4 117.8,240.3 116.7,239.1 115.5,238.0 114.4,236.9 113.2,235.7 112.1,234.6" class="bl"/>
<circle cx="55.1" cy="251.6" r="1.15" class="dt"/>
<circle cx="54.1" cy="240.8" r="1.15" class="dt"/>
<circle cx="54.4" cy="230.5" r="1.15" class="dt"/>
<circle cx="55.8" cy="221.5" r="1.15" class="dt"/>
<circle cx="58.4" cy="214.1" r="1.15" class="dt"/>
<circle cx="62.1" cy="208.9" r="1.15" class="dt"/>
<circle cx="66.9" cy="206.0" r="1.15" class="dt"/>
<circle cx="72.6" cy="205.6" r="1.15" class="dt"/>
<circle cx="79.3" cy="207.7" r="1.15" class="dt"/>
<circle cx="86.7" cy="212.1" r="1.15" class="dt"/>
<circle cx="94.7" cy="218.3" r="1.15" class="dt"/>
<circle cx="103.3" cy="226.1" r="1.15" class="dt"/>
<circle cx="112.3" cy="234.8" r="1.15" class="dt"/>
<circle cx="121.5" cy="243.9" r="1.15" class="dt"/>
<circle cx="140.1" cy="260.7" r="1.15" class="dt"/>
<circle cx="149.1" cy="267.4" r="1.15" class="dt"/>
<circle cx="157.8" cy="272.3" r="1.15" class="dt"/>
<circle cx="166.0" cy="275.2" r="1.15" class="dt"/>
<circle cx="173.5" cy="275.9" r="1.15" class="dt"/>
<circle cx="180.3" cy="274.4" r="1.15" class="dt"/>
<circle cx="186.2" cy="270.8" r="1.15" class="dt"/>
<circle cx="191.2" cy="265.5" r="1.15" class="dt"/>
<circle cx="195.1" cy="258.9" r="1.15" class="dt"/>
<circle cx="197.9" cy="251.5" r="1.15" class="dt"/>
<circle cx="199.5" cy="243.8" r="1.15" class="dt"/>
<circle cx="199.9" cy="236.5" r="1.15" class="dt"/>
<circle cx="199.2" cy="230.0" r="1.15" class="dt"/>
<circle cx="197.2" cy="224.9" r="1.15" class="dt"/>
<circle cx="194.1" cy="221.6" r="1.15" class="dt"/>
<circle cx="189.9" cy="220.4" r="1.15" class="dt"/>
<circle cx="184.6" cy="221.5" r="1.15" class="dt"/>
<circle cx="178.4" cy="224.7" r="1.15" class="dt"/>
<circle cx="171.3" cy="230.1" r="1.15" class="dt"/>
<circle cx="163.5" cy="237.2" r="1.15" class="dt"/>
<circle cx="155.1" cy="245.7" r="1.15" class="dt"/>
<circle cx="146.2" cy="255.0" r="1.15" class="dt"/>
<circle cx="137.0" cy="264.6" r="1.15" class="dt"/>
<circle cx="127.7" cy="273.8" r="1.15" class="dt"/>
<circle cx="118.3" cy="282.1" r="1.15" class="dt"/>
<circle cx="109.1" cy="288.8" r="1.15" class="dt"/>
<circle cx="100.2" cy="293.6" r="1.15" class="dt"/>
<circle cx="91.7" cy="296.1" r="1.15" class="dt"/>
<circle cx="83.8" cy="296.1" r="1.15" class="dt"/>
<circle cx="76.6" cy="293.5" r="1.15" class="dt"/>
<circle cx="70.3" cy="288.6" r="1.15" class="dt"/>
<circle cx="64.9" cy="281.4" r="1.15" class="dt"/>
<circle cx="60.5" cy="272.5" r="1.15" class="dt"/>
<circle cx="57.2" cy="262.4" r="1.15" class="dt"/>

<line x1="64.2" y1="189.4" x2="215.7" y2="185.2" class="bx"/>
<line x1="38.2" y1="163.0" x2="64.2" y2="189.4" class="bx"/>
<line x1="64.2" y1="189.4" x2="63.6" y2="341.2" class="bx"/>
<line x1="215.9" y1="336.3" x2="216.4" y2="186.0" class="ax"/>
<line x1="215.9" y1="336.3" x2="64.2" y2="341.2" class="ax2"/>
<line x1="215.9" y1="336.3" x2="189.6" y2="310.7" class="ax"/>
<line x1="216.4" y1="188.6" x2="223.0" y2="188.6" class="tk"/>
<text x="226.6" y="192.5" class="al">1</text>
<line x1="216.3" y1="224.4" x2="222.9" y2="224.4" class="tk"/>
<text x="226.5" y="228.3" class="al">0.5</text>
<line x1="216.1" y1="260.3" x2="222.7" y2="260.3" class="tk"/>
<text x="226.3" y="264.2" class="al">0</text>
<line x1="216.0" y1="296.1" x2="222.6" y2="296.1" class="tk"/>
<text x="226.2" y="300.0" class="al">-0.5</text>
<line x1="69.3" y1="341.1" x2="69.3" y2="343.7" class="tk2"/>
<text x="72.7" y="345.5" class="al">1</text>
<line x1="105.2" y1="340.1" x2="105.2" y2="342.7" class="tk2"/>
<text x="108.6" y="344.5" class="al">0.5</text>
<line x1="141.2" y1="339.1" x2="141.2" y2="341.7" class="tk2"/>
<text x="144.6" y="343.5" class="al">0</text>
<line x1="177.1" y1="338.1" x2="177.1" y2="340.7" class="tk2"/>
<text x="180.5" y="342.5" class="al">-0.5</text>
<line x1="213.0" y1="337.2" x2="213.0" y2="339.8" class="tk2"/>
<text x="216.4" y="341.6" class="al">-1</text>
<line x1="189.8" y1="311.3" x2="197.4" y2="311.3" class="tk"/>
<text x="201.2" y="313.6" class="al">1</text>
<line x1="195.9" y1="317.6" x2="203.5" y2="317.6" class="tk"/>
<text x="207.3" y="319.9" class="al">0.5</text>
<line x1="202.1" y1="323.9" x2="209.7" y2="323.9" class="tk"/>
<text x="213.5" y="326.2" class="al">0</text>
<line x1="208.3" y1="330.1" x2="215.9" y2="330.1" class="tk"/>
<text x="219.7" y="332.4" class="al">-0.5</text>
<line x1="214.5" y1="336.4" x2="222.1" y2="336.4" class="tk"/>
<text x="225.9" y="338.7" class="al">-1</text></g>
<g class="s2"><line x1="326.2" y1="171.0" x2="477.7" y2="166.9" class="bx"/>
<line x1="477.7" y1="166.9" x2="503.7" y2="193.3" class="bx"/>
<line x1="325.6" y1="322.8" x2="477.1" y2="318.7" class="bx"/>
<line x1="325.6" y1="322.8" x2="351.6" y2="349.2" class="bx"/>
<line x1="326.2" y1="171.0" x2="325.6" y2="322.8" class="bx"/>
<line x1="477.7" y1="166.9" x2="477.1" y2="318.7" class="bx"/>
<polygon points="418.4,262.2 426.6,270.2 428.1,268.8 418.8,260.8" fill="url(#g349)" stroke="#5e4e9f"/>
<polygon points="426.6,270.2 434.6,276.8 437.1,275.4 428.1,268.8" fill="url(#g350)" stroke="#55499e"/>
<polygon points="410.1,253.4 418.4,262.2 418.8,260.8 409.5,251.9" fill="url(#g351)" stroke="#634f9c"/>
<polygon points="434.6,276.8 442.4,281.6 445.8,280.4 437.1,275.4" fill="url(#g352)" stroke="#403c98"/>
<polygon points="401.9,244.3 410.1,253.4 409.5,251.9 400.3,242.9" fill="url(#g353)" stroke="#6e5192"/>
<polygon points="442.4,281.6 449.6,284.4 454.0,283.2 445.8,280.4" fill="url(#g354)" stroke="#363695"/>
<polygon points="394.0,235.5 401.9,244.3 400.3,242.9 391.3,234.2" fill="url(#g355)" stroke="#895780"/>
<polygon points="418.0,263.6 425.1,271.5 426.6,270.2 418.4,262.2" fill="url(#g356)" stroke="#6150a1"/>
<polygon points="425.1,271.5 432.2,278.1 434.6,276.8 426.6,270.2" fill="url(#g357)" stroke="#5b4da1"/>
<polygon points="410.7,254.8 418.0,263.6 418.4,262.2 410.1,253.4" fill="url(#g358)" stroke="#64519d"/>
<polygon points="432.2,278.1 438.9,282.9 442.4,281.6 434.6,276.8" fill="url(#g359)" stroke="#47419b"/>
<polygon points="449.6,284.4 456.3,285.0 461.5,283.9 454.0,283.2" fill="url(#g360)" stroke="#2b2a77"/>
<polygon points="386.3,227.7 394.0,235.5 391.3,234.2 382.7,226.4" fill="url(#g361)" stroke="#ab606d"/>
<polygon points="403.6,245.7 410.7,254.8 410.1,253.4 401.9,244.3" fill="url(#g362)" stroke="#6e5295"/>
<polygon points="438.9,282.9 445.3,285.6 449.6,284.4 442.4,281.6" fill="url(#g363)" stroke="#363696"/>
<polygon points="396.6,236.8 403.6,245.7 401.9,244.3 394.0,235.5" fill="url(#g364)" stroke="#865784"/>
<polygon points="456.3,285.0 462.4,283.4 468.3,282.4 461.5,283.9" fill="url(#g365)" stroke="#282770"/>
<polygon points="423.7,272.9 429.7,279.5 432.2,278.1 425.1,271.5" fill="url(#g366)" stroke="#6050a3"/>
<polygon points="417.5,265.0 423.7,272.9 425.1,271.5 418.0,263.6" fill="url(#g367)" stroke="#6351a2"/>
<polygon points="379.2,221.3 386.3,227.7 382.7,226.4 374.7,220.1" fill="url(#g368)" stroke="#c3675d"/>
<polygon points="445.3,285.6 451.2,286.1 456.3,285.0 449.6,284.4" fill="url(#g369)" stroke="#2f2f83"/>
<polygon points="411.3,256.2 417.5,265.0 418.0,263.6 410.7,254.8" fill="url(#g370)" stroke="#66529f"/>
<polygon points="429.7,279.5 435.5,284.2 438.9,282.9 432.2,278.1" fill="url(#g371)" stroke="#52489f"/>
<polygon points="389.9,228.9 396.6,236.8 394.0,235.5 386.3,227.7" fill="url(#g372)" stroke="#a65f71"/>
<polygon points="405.2,247.0 411.3,256.2 410.7,254.8 403.6,245.7" fill="url(#g373)" stroke="#6d5397"/>
<polygon points="435.5,284.2 440.9,286.8 445.3,285.6 438.9,282.9" fill="url(#g374)" stroke="#373696"/>
<polygon points="451.2,286.1 456.4,284.3 462.4,283.4 456.3,285.0" fill="url(#g375)" stroke="#282870"/>
<polygon points="399.2,238.2 405.2,247.0 403.6,245.7 396.6,236.8" fill="url(#g376)" stroke="#815788"/>
<polygon points="372.6,216.8 379.2,221.3 374.7,220.1 367.3,215.8" fill="url(#g377)" stroke="#d46c4d"/>
<polygon points="462.4,283.4 467.6,279.7 474.2,278.9 468.3,282.4" fill="#28299e" stroke="#272470"/>
<polygon points="440.9,286.8 446.0,287.1 451.2,286.1 445.3,285.6" fill="url(#g378)" stroke="#343491"/>
<polygon points="383.6,222.5 389.9,228.9 386.3,227.7 379.2,221.3" fill="url(#g379)" stroke="#bf6560"/>
<polygon points="422.2,274.3 427.2,280.8 429.7,279.5 423.7,272.9" fill="url(#g380)" stroke="#6352a4"/>
<polygon points="417.1,266.4 422.2,274.3 423.7,272.9 417.5,265.0" fill="url(#g381)" stroke="#6453a3"/>
<polygon points="427.2,280.8 432.0,285.4 435.5,284.2 429.7,279.5" fill="url(#g382)" stroke="#5d4fa3"/>
<polygon points="411.9,257.6 417.1,266.4 417.5,265.0 411.3,256.2" fill="url(#g383)" stroke="#6753a0"/>
<polygon points="393.5,230.2 399.2,238.2 396.6,236.8 389.9,228.9" fill="url(#g384)" stroke="#a05e75"/>
<polygon points="432.0,285.4 436.6,288.0 440.9,286.8 435.5,284.2" fill="url(#g385)" stroke="#393897"/>
<polygon points="406.8,248.4 411.9,257.6 411.3,256.2 405.2,247.0" fill="url(#g386)" stroke="#6d539a"/>
<polygon points="446.0,287.1 450.5,285.2 456.4,284.3 451.2,286.1" fill="url(#g387)" stroke="#282871"/>
<polygon points="456.4,284.3 461.0,280.5 467.6,279.7 462.4,283.4" fill="#2b2ba3" stroke="#282770"/>
<polygon points="377.9,217.9 383.6,222.5 379.2,221.3 372.6,216.8" fill="url(#g388)" stroke="#d1694f"/>
<polygon points="366.7,214.6 372.6,216.8 367.3,215.8 360.6,213.7" fill="url(#g389)" stroke="#e0713e"/>
<polygon points="436.6,288.0 440.8,288.2 446.0,287.1 440.9,286.8" fill="url(#g390)" stroke="#363695"/>
<polygon points="401.9,239.5 406.8,248.4 405.2,247.0 399.2,238.2" fill="url(#g391)" stroke="#7d568d"/>
<polygon points="388.1,223.7 393.5,230.2 389.9,228.9 383.6,222.5" fill="url(#g392)" stroke="#ba6363"/>
<polygon points="467.6,279.7 472.0,274.2 479.2,273.6 474.2,278.9" fill="#2c2b9b" stroke="#272370"/>
<polygon points="420.7,275.7 424.8,282.1 427.2,280.8 422.2,274.3" fill="url(#g393)" stroke="#6553a5"/>
<polygon points="416.7,267.8 420.7,275.7 422.2,274.3 417.1,266.4" fill="url(#g394)" stroke="#6653a3"/>
<polygon points="424.8,282.1 428.6,286.7 432.0,285.4 427.2,280.8" fill="url(#g395)" stroke="#6453a6"/>
<polygon points="450.5,285.2 454.4,281.3 461.0,280.5 456.4,284.3" fill="#2e2eaa" stroke="#282870"/>
<polygon points="412.5,259.0 416.7,267.8 417.1,266.4 411.9,257.6" fill="url(#g396)" stroke="#6853a1"/>
<polygon points="440.8,288.2 444.6,286.2 450.5,285.2 446.0,287.1" fill="#3433b2" stroke="#2c2b7b"/>
<polygon points="397.1,231.5 401.9,239.5 399.2,238.2 393.5,230.2" fill="url(#g397)" stroke="#985c7a"/>
<polygon points="428.6,286.7 432.2,289.1 436.6,288.0 432.0,285.4" fill="url(#g398)" stroke="#433e9a"/>
<polygon points="372.7,215.6 377.9,217.9 372.6,216.8 366.7,214.6" fill="url(#g399)" stroke="#de6e3e"/>
<polygon points="383.2,219.0 388.1,223.7 383.6,222.5 377.9,217.9" fill="url(#g400)" stroke="#cd6752"/>
<polygon points="408.5,249.8 412.5,259.0 411.9,257.6 406.8,248.4" fill="url(#g401)" stroke="#6c549c"/>
<polygon points="461.0,280.5 464.9,274.9 472.0,274.2 467.6,279.7" fill="#2d2ca2" stroke="#282770"/>
<polygon points="361.6,214.9 366.7,214.6 360.6,213.7 354.9,214.1" fill="url(#g402)" stroke="#e67834"/>
<polygon points="432.2,289.1 435.6,289.3 440.8,288.2 436.6,288.0" fill="url(#g403)" stroke="#363696"/>
<polygon points="392.6,224.9 397.1,231.5 393.5,230.2 388.1,223.7" fill="url(#g404)" stroke="#b46167"/>
<polygon points="404.5,240.9 408.5,249.8 406.8,248.4 401.9,239.5" fill="url(#g405)" stroke="#795691"/>
<polygon points="444.6,286.2 447.9,282.1 454.4,281.3 450.5,285.2" fill="#3131b2" stroke="#2a2976"/>
<polygon points="435.6,289.3 438.6,287.1 444.6,286.2 440.8,288.2" fill="#3635b8" stroke="#34348f"/>
<polygon points="419.3,277.1 422.3,283.5 424.8,282.1 420.7,275.7" fill="url(#g406)" stroke="#6554a5"/>
<polygon points="454.4,281.3 457.8,275.5 464.9,274.9 461.0,280.5" fill="#2f2fa8" stroke="#282870"/>
<polygon points="422.3,283.5 425.2,288.0 428.6,286.7 424.8,282.1" fill="url(#g407)" stroke="#6755a7"/>
<polygon points="472.0,274.2 475.5,267.5 483.1,267.0 479.2,273.6" fill="#2b2b9c" stroke="#272470"/>
<polygon points="416.2,269.2 419.3,277.1 420.7,275.7 416.7,267.8" fill="url(#g408)" stroke="#6654a4"/>
<polygon points="378.8,216.6 383.2,219.0 377.9,217.9 372.7,215.6" fill="url(#g409)" stroke="#dc6b40"/>
<polygon points="368.3,215.7 372.7,215.6 366.7,214.6 361.6,214.9" fill="url(#g410)" stroke="#e57534"/>
<polygon points="425.2,288.0 427.9,290.3 432.2,289.1 428.6,286.7" fill="url(#g411)" stroke="#5c4fa3"/>
<polygon points="400.7,232.8 404.5,240.9 401.9,239.5 397.1,231.5" fill="url(#g412)" stroke="#905a80"/>
<polygon points="413.1,260.4 416.2,269.2 416.7,267.8 412.5,259.0" fill="url(#g413)" stroke="#6854a2"/>
<polygon points="388.5,220.1 392.6,224.9 388.1,223.7 383.2,219.0" fill="url(#g414)" stroke="#c86455"/>
<polygon points="427.9,290.3 430.4,290.3 435.6,289.3 432.2,289.1" fill="url(#g415)" stroke="#363696"/>
<polygon points="357.3,217.6 361.6,214.9 354.9,214.1 350.1,216.9" fill="url(#g416)" stroke="#e9842d"/>
<polygon points="410.1,251.2 413.1,260.4 412.5,259.0 408.5,249.8" fill="url(#g417)" stroke="#6c549e"/>
<polygon points="438.6,287.1 441.3,282.9 447.9,282.1 444.6,286.2" fill="#3333b8" stroke="#32328b"/>
<polygon points="464.9,274.9 467.9,268.0 475.5,267.5 472.0,274.2" fill="#2e2ea4" stroke="#282870"/>
<polygon points="447.9,282.1 450.6,276.2 457.8,275.5 454.4,281.3" fill="#3434b4" stroke="#2f2e82"/>
<polygon points="397.1,226.1 400.7,232.8 397.1,231.5 392.6,224.9" fill="url(#g418)" stroke="#ab5f6c"/>
<polygon points="430.4,290.3 432.7,288.1 438.6,287.1 435.6,289.3" fill="#3838bf" stroke="#363695"/>
<polygon points="407.1,242.2 410.1,251.2 408.5,249.8 404.5,240.9" fill="url(#g419)" stroke="#755696"/>
<polygon points="374.9,216.5 378.8,216.6 372.7,215.6 368.3,215.7" fill="url(#g420)" stroke="#e47135"/>
<polygon points="384.8,217.5 388.5,220.1 383.2,219.0 378.8,216.6" fill="url(#g421)" stroke="#d86743"/>
<polygon points="457.8,275.5 460.4,268.4 467.9,268.0 464.9,274.9" fill="#3535b0" stroke="#2b2b78"/>
<polygon points="364.5,218.3 368.3,215.7 361.6,214.9 357.3,217.6" fill="url(#g422)" stroke="#e87f2e"/>
<polygon points="419.8,284.8 421.7,289.2 425.2,288.0 422.3,283.5" fill="url(#g423)" stroke="#6755a7"/>
<polygon points="417.8,278.5 419.8,284.8 422.3,283.5 419.3,277.1" fill="url(#g424)" stroke="#6654a5"/>
<polygon points="421.7,289.2 423.5,291.5 427.9,290.3 425.2,288.0" fill="url(#g425)" stroke="#6a58a9"/>
<polygon points="393.8,221.2 397.1,226.1 392.6,224.9 388.5,220.1" fill="url(#g426)" stroke="#c1625a"/>
<polygon points="441.3,282.9 443.5,276.8 450.6,276.2 447.9,282.1" fill="#3a3abe" stroke="#363696"/>
<polygon points="415.8,270.6 417.8,278.5 419.3,277.1 416.2,269.2" fill="url(#g427)" stroke="#6754a4"/>
<polygon points="404.3,234.1 407.1,242.2 404.5,240.9 400.7,232.8" fill="url(#g428)" stroke="#875886"/>
<polygon points="432.7,288.1 434.7,283.7 441.3,282.9 438.6,287.1" fill="#3838be" stroke="#363695"/>
<polygon points="423.5,291.5 425.2,291.4 430.4,290.3 427.9,290.3" fill="url(#g429)" stroke="#373796"/>
<polygon points="413.7,261.8 415.8,270.6 416.2,269.2 413.1,260.4" fill="url(#g430)" stroke="#6954a3"/>
<polygon points="475.5,267.5 478.0,259.9 485.9,259.6 483.1,267.0" fill="url(#g431)" stroke="#272670"/>
<polygon points="450.6,276.2 452.8,268.9 460.4,268.4 457.8,275.5" fill="#3a3ab8" stroke="#363695"/>
<polygon points="354.0,222.7 357.3,217.6 350.1,216.9 346.4,222.2" fill="url(#g432)" stroke="#ea9224"/>
<polygon points="381.6,217.3 384.8,217.5 378.8,216.6 374.9,216.5" fill="url(#g433)" stroke="#e36e35"/>
<polygon points="425.2,291.4 426.7,289.0 432.7,288.1 430.4,290.3" fill="url(#g434)" stroke="#363696"/>
<polygon points="371.8,218.9 374.9,216.5 368.3,215.7 364.5,218.3" fill="url(#g435)" stroke="#e87b2f"/>
<polygon points="411.7,252.6 413.7,261.8 413.1,260.4 410.1,251.2" fill="url(#g436)" stroke="#6b55a0"/>
<polygon points="401.6,227.2 404.3,234.1 400.7,232.8 397.1,226.1" fill="url(#g437)" stroke="#a05c72"/>
<polygon points="390.9,218.5 393.8,221.2 388.5,220.1 384.8,217.5" fill="url(#g438)" stroke="#d46446"/>
<polygon points="467.9,268.0 470.1,260.2 478.0,259.9 475.5,267.5" fill="url(#g439)" stroke="#282870"/>
<polygon points="434.7,283.7 436.3,277.5 443.5,276.8 441.3,282.9" fill="#3d3dc3" stroke="#363696"/>
<polygon points="409.7,243.6 411.7,252.6 410.1,251.2 407.1,242.2" fill="url(#g440)" stroke="#71559a"/>
<polygon points="443.5,276.8 445.2,269.4 452.8,268.9 450.6,276.2" fill="#3e3ebe" stroke="#363696"/>
<polygon points="426.7,289.0 428.1,284.5 434.7,283.7 432.7,288.1" fill="#4444cc" stroke="#3a3897"/>
<polygon points="361.7,223.2 364.5,218.3 357.3,217.6 354.0,222.7" fill="url(#g441)" stroke="#ea9125"/>
<polygon points="399.1,222.3 401.6,227.2 397.1,226.1 393.8,221.2" fill="url(#g442)" stroke="#b85e5f"/>
<polygon points="460.4,268.4 462.2,260.5 470.1,260.2 467.9,268.0" fill="url(#g443)" stroke="#2b2a77"/>
<polygon points="417.3,286.1 418.3,290.5 421.7,289.2 419.8,284.8" fill="url(#g444)" stroke="#6655a6"/>
<polygon points="418.3,290.5 419.2,292.7 423.5,291.5 421.7,289.2" fill="url(#g445)" stroke="#6c59a9"/>
<polygon points="416.3,279.9 417.3,286.1 419.8,284.8 417.8,278.5" fill="url(#g446)" stroke="#6654a4"/>
<polygon points="379.0,219.6 381.6,217.3 374.9,216.5 371.8,218.9" fill="url(#g447)" stroke="#e7772f"/>
<polygon points="419.2,292.7 420.0,292.5 425.2,291.4 423.5,291.5" fill="#4f43b9" stroke="#3c3997"/>
<polygon points="388.3,218.1 390.9,218.5 384.8,217.5 381.6,217.3" fill="url(#g448)" stroke="#e26b36"/>
<polygon points="407.9,235.3 409.7,243.6 407.1,242.2 404.3,234.1" fill="url(#g449)" stroke="#7e568d"/>
<polygon points="415.3,272.0 416.3,279.9 417.8,278.5 415.8,270.6" fill="url(#g450)" stroke="#6754a4"/>
<polygon points="428.1,284.5 429.2,278.1 436.3,277.5 434.7,283.7" fill="#4545c9" stroke="#393897"/>
<polygon points="369.3,223.7 371.8,218.9 364.5,218.3 361.7,223.2" fill="url(#g451)" stroke="#ea8f25"/>
<polygon points="420.0,292.5 420.8,290.0 426.7,289.0 425.2,291.4" fill="url(#g452)" stroke="#6b58a9"/>
<polygon points="436.3,277.5 437.6,269.9 445.2,269.4 443.5,276.8" fill="#4343c7" stroke="#373696"/>
<polygon points="452.8,268.9 454.4,260.8 462.2,260.5 460.4,268.4" fill="url(#g453)" stroke="#323189"/>
<polygon points="396.9,219.4 399.1,222.3 393.8,221.2 390.9,218.5" fill="url(#g454)" stroke="#ce604b"/>
<polygon points="414.3,263.2 415.3,272.0 415.8,270.6 413.7,261.8" fill="url(#g455)" stroke="#6955a3"/>
<polygon points="351.7,229.9 354.0,222.7 346.4,222.2 343.8,229.5" fill="url(#g456)" stroke="#eca036"/>
<polygon points="406.1,228.4 407.9,235.3 404.3,234.1 401.6,227.2" fill="url(#g457)" stroke="#93587a"/>
<polygon points="420.8,290.0 421.5,285.3 428.1,284.5 426.7,289.0" fill="#4e4ed2" stroke="#6c59a9"/>
<polygon points="413.3,254.0 414.3,263.2 413.7,261.8 411.7,252.6" fill="url(#g458)" stroke="#6b55a1"/>
<polygon points="445.2,269.4 446.5,261.1 454.4,260.8 452.8,268.9" fill="url(#g459)" stroke="#363696"/>
<polygon points="386.2,220.2 388.3,218.1 381.6,217.3 379.0,219.6" fill="url(#g460)" stroke="#e6752f"/>
<polygon points="376.9,224.2 379.0,219.6 371.8,218.9 369.3,223.7" fill="url(#g461)" stroke="#ea8c27"/>
<polygon points="478.0,259.9 479.4,252.0 487.5,251.9 485.9,259.6" fill="url(#g462)" stroke="#241c64"/>
<polygon points="359.6,230.2 361.7,223.2 354.0,222.7 351.7,229.9" fill="url(#g463)" stroke="#ea9428"/>
<polygon points="429.2,278.1 430.1,270.4 437.6,269.9 436.3,277.5" fill="#4444c3" stroke="#363696"/>
<polygon points="395.0,219.0 396.9,219.4 390.9,218.5 388.3,218.1" fill="url(#g464)" stroke="#e06737"/>
<polygon points="404.5,223.3 406.1,228.4 401.6,227.2 399.1,222.3" fill="url(#g465)" stroke="#ab5b66"/>
<polygon points="421.5,285.3 422.0,278.8 429.2,278.1 428.1,284.5" fill="url(#g466)" stroke="#6957a8"/>
<polygon points="412.4,244.9 413.3,254.0 411.7,252.6 409.7,243.6" fill="url(#g467)" stroke="#6f559d"/>
<polygon points="470.1,260.2 471.4,252.2 479.4,252.0 478.0,259.9" fill="url(#g468)" stroke="#26206c"/>
<polygon points="437.6,269.9 438.6,261.4 446.5,261.1 445.2,269.4" fill="url(#g469)" stroke="#373696"/>
<polygon points="414.8,291.8 414.8,293.9 419.2,292.7 418.3,290.5" fill="url(#g470)" stroke="#6956a7"/>
<polygon points="414.8,293.9 414.8,293.6 420.0,292.5 419.2,292.7" fill="#5447bf" stroke="#564aa1"/>
<polygon points="367.6,230.5 369.3,223.7 361.7,223.2 359.6,230.2" fill="url(#g471)" stroke="#ea9428"/>
<polygon points="414.9,287.5 414.8,291.8 418.3,290.5 417.3,286.1" fill="#4857f6" stroke="#6554a4"/>
<polygon points="414.8,293.6 414.8,290.9 420.8,290.0 420.0,292.5" fill="#5550d5" stroke="#6e5aaa"/>
<polygon points="462.2,260.5 463.3,252.3 471.4,252.2 470.1,260.2" fill="url(#g472)" stroke="#27236f"/>
<polygon points="414.9,281.2 414.9,287.5 417.3,286.1 416.3,279.9" fill="url(#g473)" stroke="#6653a3"/>
<polygon points="384.6,224.7 386.2,220.2 379.0,219.6 376.9,224.2" fill="url(#g474)" stroke="#e9832a"/>
<polygon points="411.5,236.6 412.4,244.9 409.7,243.6 407.9,235.3" fill="url(#g475)" stroke="#775593"/>
<polygon points="403.0,220.4 404.5,223.3 399.1,222.3 396.9,219.4" fill="url(#g476)" stroke="#c45d52"/>
<polygon points="393.4,220.9 395.0,219.0 388.3,218.1 386.2,220.2" fill="url(#g477)" stroke="#e5742e"/>
<polygon points="422.0,278.8 422.5,270.8 430.1,270.4 429.2,278.1" fill="url(#g478)" stroke="#3c3a98"/>
<polygon points="414.8,290.9 414.9,286.1 421.5,285.3 420.8,290.0" fill="#5656d7" stroke="#6e5aaa"/>
<polygon points="454.4,260.8 455.3,252.4 463.3,252.3 462.2,260.5" fill="url(#g479)" stroke="#28246f"/>
<polygon points="430.1,270.4 430.7,261.7 438.6,261.4 437.6,269.9" fill="url(#g480)" stroke="#363696"/>
<polygon points="414.9,273.5 414.9,281.2 416.3,279.9 415.3,272.0" fill="url(#g481)" stroke="#6754a3"/>
<polygon points="375.5,230.8 376.9,224.2 369.3,223.7 367.6,230.5" fill="url(#g482)" stroke="#ea9227"/>
<polygon points="414.9,286.1 414.9,279.4 422.0,278.8 421.5,285.3" fill="url(#g483)" stroke="#6e5aaa"/>
<polygon points="350.5,238.7 351.7,229.9 343.8,229.5 342.4,238.6" fill="url(#g484)" stroke="#f2be5a"/>
<polygon points="410.6,229.6 411.5,236.6 407.9,235.3 406.1,228.4" fill="url(#g485)" stroke="#855683"/>
<polygon points="446.5,261.1 447.2,252.5 455.3,252.4 454.4,260.8" fill="url(#g486)" stroke="#282670"/>
<polygon points="401.7,219.8 403.0,220.4 396.9,219.4 395.0,219.0" fill="url(#g487)" stroke="#de6439"/>
<polygon points="414.9,264.6 414.9,273.5 415.3,272.0 414.3,263.2" fill="url(#g488)" stroke="#6955a3"/>
<polygon points="392.2,225.2 393.4,220.9 386.2,220.2 384.6,224.7" fill="url(#g489)" stroke="#e8792e"/>
<polygon points="358.5,238.9 359.6,230.2 351.7,229.9 350.5,238.7" fill="url(#g490)" stroke="#f2be5a"/>
<polygon points="422.5,270.8 422.8,262.0 430.7,261.7 430.1,270.4" fill="url(#g491)" stroke="#383796"/>
<polygon points="383.4,231.1 384.6,224.7 376.9,224.2 375.5,230.8" fill="url(#g492)" stroke="#ea9126"/>
<polygon points="438.6,261.4 439.2,252.7 447.2,252.5 446.5,261.1" fill="url(#g493)" stroke="#2f2d7f"/>
<polygon points="414.9,279.4 414.9,271.3 422.5,270.8 422.0,278.8" fill="url(#g494)" stroke="#6454a6"/>
<polygon points="409.8,224.4 410.6,229.6 406.1,228.4 404.5,223.3" fill="url(#g495)" stroke="#9a5670"/>
<polygon points="415.0,255.4 414.9,264.6 414.3,263.2 413.3,254.0" fill="url(#g496)" stroke="#6b56a2"/>
<polygon points="366.6,239.0 367.6,230.5 359.6,230.2 358.5,238.9" fill="url(#g497)" stroke="#f1bc59"/>
<polygon points="400.7,221.6 401.7,219.8 395.0,219.0 393.4,220.9" fill="url(#g498)" stroke="#e3752b"/>
<polygon points="430.7,261.7 431.1,252.8 439.2,252.7 438.6,261.4" fill="url(#g499)" stroke="#35348e"/>
<polygon points="414.8,294.0 414.8,292.5 409.3,293.5 410.1,295.1" fill="url(#g500)" stroke="#6e5aaa"/>
<polygon points="414.8,292.5 414.9,288.8 408.6,289.6 409.3,293.5" fill="url(#g501)" stroke="#6d59a9"/>
<polygon points="414.8,293.1 414.8,294.0 410.1,295.1 410.9,294.3" fill="url(#g502)" stroke="#6e5aaa"/>
<polygon points="374.7,239.2 375.5,230.8 367.6,230.5 366.6,239.0" fill="url(#g503)" stroke="#f1b655"/>
<polygon points="391.3,231.5 392.2,225.2 384.6,224.7 383.4,231.1" fill="url(#g504)" stroke="#e98629"/>
<polygon points="414.9,271.3 415.0,262.3 422.8,262.0 422.5,270.8" fill="url(#g505)" stroke="#403c99"/>
<polygon points="415.0,246.3 415.0,255.4 413.3,254.0 412.4,244.9" fill="url(#g506)" stroke="#6d56a0"/>
<polygon points="409.1,221.3 409.8,224.4 404.5,223.3 403.0,220.4" fill="url(#g507)" stroke="#b3585c"/>
<polygon points="414.9,288.8 414.9,283.0 408.0,283.7 408.6,289.6" fill="url(#g508)" stroke="#825f9c"/>
<polygon points="414.8,289.9 414.8,293.1 410.9,294.3 411.9,291.2" fill="url(#g509)" stroke="#6754a5"/>
<polygon points="399.8,225.6 400.7,221.6 393.4,220.9 392.2,225.2" fill="url(#g510)" stroke="#e4772b"/>
<polygon points="422.8,262.0 423.0,252.9 431.1,252.8 430.7,261.7" fill="url(#g511)" stroke="#383692"/>
<polygon points="414.9,283.0 414.9,275.5 407.5,276.1 408.0,283.7" fill="url(#g512)" stroke="#e18b87"/>
<polygon points="382.7,239.3 383.4,231.1 375.5,230.8 374.7,239.2" fill="url(#g513)" stroke="#f0b052"/>
<polygon points="414.9,284.6 414.8,289.9 411.9,291.2 412.9,286.0" fill="url(#g514)" stroke="#9c597b"/>
<polygon points="479.4,252.0 479.8,244.5 487.9,244.5 487.5,251.9" fill="url(#g515)" stroke="#261f36"/>
<polygon points="408.4,220.6 409.1,221.3 403.0,220.4 401.7,219.8" fill="url(#g516)" stroke="#d75f3f"/>
<polygon points="471.4,252.2 471.7,244.4 479.8,244.5 479.4,252.0" fill="url(#g517)" stroke="#261c3f"/>
<polygon points="415.0,237.9 415.0,246.3 412.4,244.9 411.5,236.6" fill="url(#g518)" stroke="#725599"/>
<polygon points="414.9,275.5 414.9,266.9 407.2,267.3 407.5,276.1" fill="url(#g519)" stroke="#e28c88"/>
<polygon points="415.0,262.3 415.0,253.1 423.0,252.9 422.8,262.0" fill="url(#g520)" stroke="#3d3a95"/>
<polygon points="463.3,252.3 463.6,244.4 471.7,244.4 471.4,252.2" fill="url(#g521)" stroke="#281c49"/>
<polygon points="399.2,231.8 399.8,225.6 392.2,225.2 391.3,231.5" fill="url(#g522)" stroke="#e87430"/>
<polygon points="390.8,239.4 391.3,231.5 383.4,231.1 382.7,239.3" fill="url(#g523)" stroke="#f1ac51"/>
<polygon points="455.3,252.4 455.5,244.3 463.6,244.4 463.3,252.3" fill="url(#g524)" stroke="#2b1e5c"/>
<polygon points="414.9,277.5 414.9,284.6 412.9,286.0 413.9,278.9" fill="url(#g525)" stroke="#d9665f"/>
<polygon points="447.2,252.5 447.4,244.3 455.5,244.3 455.3,252.4" fill="url(#g526)" stroke="#28226c"/>
<polygon points="407.9,222.2 408.4,220.6 401.7,219.8 400.7,221.6" fill="url(#g527)" stroke="#e27529"/>
<polygon points="414.9,266.9 415.0,257.7 407.0,257.9 407.2,267.3" fill="url(#g528)" stroke="#ea987f"/>
<polygon points="439.2,252.7 439.3,244.2 447.4,244.3 447.2,252.5" fill="url(#g529)" stroke="#2b256f"/>
<polygon points="415.1,230.8 415.0,237.9 411.5,236.6 410.6,229.6" fill="url(#g530)" stroke="#7a548c"/>
<polygon points="431.1,252.8 431.2,244.2 439.3,244.2 439.2,252.7" fill="url(#g531)" stroke="#2f2974"/>
<polygon points="398.9,239.6 399.2,231.8 391.3,231.5 390.8,239.4" fill="url(#g532)" stroke="#f1ab51"/>
<polygon points="350.2,248.8 350.5,238.7 342.4,238.6 342.1,248.8" fill="url(#g533)" stroke="#f2b156"/>
<polygon points="407.5,226.1 407.9,222.2 400.7,221.6 399.8,225.6" fill="url(#g534)" stroke="#e27828"/>
<polygon points="358.3,248.7 358.5,238.9 350.5,238.7 350.2,248.8" fill="url(#g535)" stroke="#f2b156"/>
<polygon points="423.0,252.9 423.1,244.1 431.2,244.2 431.1,252.8" fill="url(#g536)" stroke="#37307e"/>
<polygon points="415.0,257.7 415.0,248.5 406.9,248.5 407.0,257.9" fill="url(#g537)" stroke="#ed9c7b"/>
<polygon points="366.4,248.7 366.6,239.0 358.5,238.9 358.3,248.7" fill="url(#g538)" stroke="#f2b459"/>
<polygon points="414.9,269.1 414.9,277.5 413.9,278.9 415.0,270.6" fill="url(#g539)" stroke="#e0583c"/>
<polygon points="374.5,248.7 374.7,239.2 366.6,239.0 366.4,248.7" fill="url(#g540)" stroke="#f2be68"/>
<polygon points="415.0,253.1 415.0,244.1 423.1,244.1 423.0,252.9" fill="url(#g541)" stroke="#403789"/>
<polygon points="382.6,248.6 382.7,239.3 374.7,239.2 374.5,248.7" fill="url(#g542)" stroke="#f2be68"/>
<polygon points="407.1,232.1 407.5,226.1 399.8,225.6 399.2,231.8" fill="url(#g543)" stroke="#e87430"/>
<polygon points="390.7,248.6 390.8,239.4 382.7,239.3 382.6,248.6" fill="url(#g544)" stroke="#f2bd67"/>
<polygon points="407.5,276.1 407.2,267.3 399.4,267.7 400.2,276.7" fill="url(#g545)" stroke="#e38d87"/>
<polygon points="408.0,283.7 407.5,276.1 400.2,276.7 401.1,284.4" fill="url(#g546)" stroke="#e18b87"/>
<polygon points="398.8,248.6 398.9,239.6 390.8,239.4 390.7,248.6" fill="url(#g547)" stroke="#f1b86b"/>
<polygon points="415.1,225.5 415.1,230.8 410.6,229.6 409.8,224.4" fill="url(#g548)" stroke="#88537b"/>
<polygon points="407.0,239.7 407.1,232.1 399.2,231.8 398.9,239.6" fill="url(#g549)" stroke="#ee9c49"/>
<polygon points="407.2,267.3 407.0,257.9 399.0,258.1 399.4,267.7" fill="url(#g550)" stroke="#eea282"/>
<polygon points="408.6,289.6 408.0,283.7 401.1,284.4 402.3,290.5" fill="url(#g551)" stroke="#865e98"/>
<polygon points="407.0,257.9 406.9,248.5 398.8,248.6 399.0,258.1" fill="url(#g552)" stroke="#efa880"/>
<polygon points="406.9,248.5 407.0,239.7 398.9,239.6 398.8,248.6" fill="url(#g553)" stroke="#f0ae72"/>
<polygon points="415.0,248.5 415.0,239.9 407.0,239.7 406.9,248.5" fill="url(#g554)" stroke="#ed9c78"/>
<polygon points="409.3,293.5 408.6,289.6 402.3,290.5 403.7,294.5" fill="url(#g555)" stroke="#6d59a8"/>
<polygon points="415.0,260.0 414.9,269.1 415.0,270.6 416.1,261.4" fill="url(#g556)" stroke="#de5a3c"/>
<polygon points="399.0,258.1 398.8,248.6 390.7,248.6 391.0,258.4" fill="url(#g557)" stroke="#f1b283"/>
<polygon points="410.1,295.1 409.3,293.5 403.7,294.5 405.3,296.3" fill="url(#g558)" stroke="#6351a2"/>
<polygon points="415.1,222.3 415.1,225.5 409.8,224.4 409.1,221.3" fill="url(#g559)" stroke="#97526b"/>
<polygon points="415.0,239.9 415.1,232.4 407.1,232.1 407.0,239.7" fill="url(#g560)" stroke="#ec8f44"/>
<polygon points="415.0,244.1 415.1,236.0 423.1,236.2 423.1,244.1" fill="url(#g561)" stroke="#4d3779"/>
<polygon points="415.1,221.4 415.1,222.3 409.1,221.3 408.4,220.6" fill="url(#g562)" stroke="#ba5652"/>
<polygon points="391.0,258.4 390.7,248.6 382.6,248.6 383.0,258.6" fill="url(#g563)" stroke="#f2b784"/>
<polygon points="415.1,232.4 415.1,226.6 407.5,226.1 407.1,232.1" fill="url(#g564)" stroke="#e86c38"/>
<polygon points="399.4,267.7 399.0,258.1 391.0,258.4 391.7,268.1" fill="url(#g565)" stroke="#efa782"/>
<polygon points="410.9,294.3 410.1,295.1 405.3,296.3 407.0,295.6" fill="url(#g566)" stroke="#5b4b9d"/>
<polygon points="423.1,244.1 423.1,236.2 431.1,236.4 431.2,244.2" fill="url(#g567)" stroke="#453070"/>
<polygon points="415.1,222.9 415.1,221.4 408.4,220.6 407.9,222.2" fill="url(#g568)" stroke="#d95d28"/>
<polygon points="415.1,226.6 415.1,222.9 407.9,222.2 407.5,226.1" fill="url(#g569)" stroke="#e27728"/>
<polygon points="415.0,250.8 415.0,260.0 416.1,261.4 417.1,252.1" fill="url(#g570)" stroke="#d3532f"/>
<polygon points="383.0,258.6 382.6,248.6 374.5,248.7 375.0,258.8" fill="url(#g571)" stroke="#f2b884"/>
<polygon points="400.2,276.7 399.4,267.7 391.7,268.1 392.8,277.2" fill="url(#g572)" stroke="#e59083"/>
<polygon points="431.2,244.2 431.1,236.4 439.1,236.7 439.3,244.2" fill="url(#g573)" stroke="#402c69"/>
<polygon points="411.9,291.2 410.9,294.3 407.0,295.6 408.9,292.5" fill="url(#g574)" stroke="#5c4da0"/>
<polygon points="415.1,236.0 415.1,229.3 422.9,229.7 423.1,236.2" fill="url(#g575)" stroke="#683d6d"/>
<polygon points="439.3,244.2 439.1,236.7 447.1,236.9 447.4,244.3" fill="url(#g576)" stroke="#3d2862"/>
<polygon points="375.0,258.8 374.5,248.7 366.4,248.7 367.1,259.0" fill="url(#g577)" stroke="#f2b884"/>
<polygon points="401.1,284.4 400.2,276.7 392.8,277.2 394.2,285.1" fill="url(#g578)" stroke="#e28c88"/>
<polygon points="391.7,268.1 391.0,258.4 383.0,258.6 384.0,268.5" fill="url(#g579)" stroke="#f0aa88"/>
<polygon points="415.0,241.9 415.0,250.8 417.1,252.1 418.1,243.3" fill="url(#g580)" stroke="#cd4828"/>
<polygon points="447.4,244.3 447.1,236.9 455.1,237.1 455.5,244.3" fill="url(#g581)" stroke="#382356"/>
<polygon points="412.9,286.0 411.9,291.2 408.9,292.5 410.9,287.3" fill="url(#g582)" stroke="#9f5673"/>
<polygon points="367.1,259.0 366.4,248.7 358.3,248.7 359.1,259.2" fill="url(#g583)" stroke="#f2b884"/>
<polygon points="415.1,229.3 415.1,224.5 422.5,225.1 422.9,229.7" fill="url(#g584)" stroke="#814463"/>
<polygon points="402.3,290.5 401.1,284.4 394.2,285.1 396.0,291.4" fill="url(#g585)" stroke="#a5668a"/>
<polygon points="455.5,244.3 455.1,237.1 463.1,237.4 463.6,244.4" fill="url(#g586)" stroke="#2c1f3e"/>
<polygon points="423.1,236.2 422.9,229.7 430.7,230.1 431.1,236.4" fill="url(#g587)" stroke="#6a3a62"/>
<polygon points="415.1,234.2 415.0,241.9 418.1,243.3 419.1,235.4" fill="#c93c1d" stroke="#c63c20"/>
<polygon points="359.1,259.2 358.3,248.7 350.2,248.8 351.1,259.4" fill="url(#g588)" stroke="#f2b87f"/>
<polygon points="463.6,244.4 463.1,237.4 471.1,237.6 471.7,244.4" fill="url(#g589)" stroke="#252332"/>
<polygon points="384.0,268.5 383.0,258.6 375.0,258.8 376.2,268.9" fill="url(#g590)" stroke="#f0ac88"/>
<polygon points="392.8,277.2 391.7,268.1 384.0,268.5 385.4,277.8" fill="url(#g591)" stroke="#e9957e"/>
<polygon points="413.9,278.9 412.9,286.0 410.9,287.3 413.0,280.3" fill="url(#g592)" stroke="#d86056"/>
<polygon points="415.1,224.5 415.1,221.8 422.1,222.6 422.5,225.1" fill="url(#g593)" stroke="#964a5c"/>
<polygon points="403.7,294.5 402.3,290.5 396.0,291.4 398.1,295.5" fill="url(#g594)" stroke="#75579d"/>
<polygon points="415.1,227.9 415.1,234.2 419.1,235.4 420.0,229.0" fill="#ce401f" stroke="#c5391f"/>
<polygon points="351.1,259.4 350.2,248.8 342.1,248.8 343.1,259.7" fill="url(#g595)" stroke="#f2b979"/>
<polygon points="471.7,244.4 471.1,237.6 479.2,237.8 479.8,244.5" fill="url(#g596)" stroke="#242430"/>
<polygon points="415.1,221.8 415.1,221.5 421.5,222.4 422.1,222.6" fill="url(#g597)" stroke="#d65b3f"/>
<polygon points="415.1,223.6 415.1,227.9 420.0,229.0 420.8,224.6" fill="url(#g598)" stroke="#ca4224"/>
<polygon points="431.1,236.4 430.7,230.1 438.5,230.5 439.1,236.7" fill="url(#g599)" stroke="#6e3859"/>
<polygon points="415.1,221.5 415.1,223.6 420.8,224.6 421.5,222.4" fill="url(#g600)" stroke="#ce5024"/>
<polygon points="479.8,244.5 479.2,237.8 487.2,238.1 487.9,244.5" fill="url(#g601)" stroke="#242430"/>
<polygon points="405.3,296.3 403.7,294.5 398.1,295.5 400.5,297.4" fill="url(#g602)" stroke="#6d4f93"/>
<polygon points="415.0,270.6 413.9,278.9 413.0,280.3 415.1,272.0" fill="url(#g603)" stroke="#df583e"/>
<polygon points="422.9,229.7 422.5,225.1 430.0,225.6 430.7,230.1" fill="url(#g604)" stroke="#8f4456"/>
<polygon points="376.2,268.9 375.0,258.8 367.1,259.0 368.5,269.3" fill="url(#g605)" stroke="#f1b384"/>
<polygon points="394.2,285.1 392.8,277.2 385.4,277.8 387.3,285.9" fill="url(#g606)" stroke="#e28c88"/>
<polygon points="439.1,236.7 438.5,230.5 446.2,230.9 447.1,236.9" fill="url(#g607)" stroke="#6c354e"/>
<polygon points="385.4,277.8 384.0,268.5 376.2,268.9 378.0,278.3" fill="url(#g608)" stroke="#eb977c"/>
<polygon points="407.0,295.6 405.3,296.3 400.5,297.4 403.1,296.8" fill="#643da7" stroke="#664483"/>
<polygon points="416.1,261.4 415.0,270.6 415.1,272.0 417.2,262.8" fill="url(#g609)" stroke="#d45332"/>
<polygon points="368.5,269.3 367.1,259.0 359.1,259.2 360.7,269.7" fill="url(#g610)" stroke="#f2b784"/>
<polygon points="396.0,291.4 394.2,285.1 387.3,285.9 389.7,292.3" fill="url(#g611)" stroke="#c37380"/>
<polygon points="422.5,225.1 422.1,222.6 429.1,223.3 430.0,225.6" fill="url(#g612)" stroke="#b14e4d"/>
<polygon points="447.1,236.9 446.2,230.9 454.0,231.4 455.1,237.1" fill="url(#g613)" stroke="#532d3f"/>
<polygon points="430.7,230.1 430.0,225.6 437.4,226.2 438.5,230.5" fill="url(#g614)" stroke="#99454d"/>
<polygon points="417.1,252.1 416.1,261.4 417.2,262.8 419.3,253.5" fill="url(#g615)" stroke="#cd4828"/>
<polygon points="408.9,292.5 407.0,295.6 403.1,296.8 406.0,293.8" fill="#6442b0" stroke="#5e4996"/>
<polygon points="422.1,222.6 421.5,222.4 427.9,223.3 429.1,223.3" fill="url(#g616)" stroke="#dd5f35"/>
<polygon points="360.7,269.7 359.1,259.2 351.1,259.4 353.0,270.1" fill="url(#g617)" stroke="#f2b884"/>
<polygon points="387.3,285.9 385.4,277.8 378.0,278.3 380.4,286.6" fill="url(#g618)" stroke="#e28c88"/>
<polygon points="378.0,278.3 376.2,268.9 368.5,269.3 370.6,278.9" fill="url(#g619)" stroke="#ec977a"/>
<polygon points="398.1,295.5 396.0,291.4 389.7,292.3 392.5,296.6" fill="url(#g620)" stroke="#9a608c"/>
<polygon points="418.1,243.3 417.1,252.1 419.3,253.5 421.3,244.6" fill="#ca3817" stroke="#c63b20"/>
<polygon points="455.1,237.1 454.0,231.4 461.8,231.8 463.1,237.4" fill="url(#g621)" stroke="#2f2532"/>
<polygon points="410.9,287.3 408.9,292.5 406.0,293.8 408.9,288.7" fill="url(#g622)" stroke="#a2546e"/>
<polygon points="421.5,222.4 420.8,224.6 426.5,225.7 427.9,223.3" fill="url(#g623)" stroke="#d25526"/>
<polygon points="419.1,235.4 418.1,243.3 421.3,244.6 423.2,236.6" fill="#cd3a19" stroke="#c53a1f"/>
<polygon points="420.8,224.6 420.0,229.0 424.9,230.2 426.5,225.7" fill="url(#g624)" stroke="#ce4d25"/>
<polygon points="420.0,229.0 419.1,235.4 423.2,236.6 424.9,230.2" fill="url(#g625)" stroke="#c5391f"/>
<polygon points="438.5,230.5 437.4,226.2 444.9,226.8 446.2,230.9" fill="url(#g626)" stroke="#9a4346"/>
<polygon points="353.0,270.1 351.1,259.4 343.1,259.7 345.2,270.5" fill="url(#g627)" stroke="#f2b884"/>
<polygon points="430.0,225.6 429.1,223.3 436.0,224.1 437.4,226.2" fill="url(#g628)" stroke="#be5046"/>
<polygon points="400.5,297.4 398.1,295.5 392.5,296.6 395.7,298.5" fill="url(#g629)" stroke="#91557d"/>
<polygon points="463.1,237.4 461.8,231.8 469.6,232.2 471.1,237.6" fill="url(#g630)" stroke="#25242e"/>
<polygon points="413.0,280.3 410.9,287.3 408.9,288.7 412.0,281.7" fill="url(#g631)" stroke="#d76058"/>
<polygon points="389.7,292.3 387.3,285.9 380.4,286.6 383.4,293.1" fill="url(#g632)" stroke="#d27b7e"/>
<polygon points="370.6,278.9 368.5,269.3 360.7,269.7 363.3,279.5" fill="url(#g633)" stroke="#ec9778"/>
<polygon points="380.4,286.6 378.0,278.3 370.6,278.9 373.6,287.3" fill="url(#g634)" stroke="#e48c85"/>
<polygon points="471.1,237.6 469.6,232.2 477.4,232.6 479.2,237.8" fill="url(#g635)" stroke="#25242d"/>
<polygon points="415.1,272.0 413.0,280.3 412.0,281.7 415.2,273.4" fill="url(#g636)" stroke="#dd583f"/>
<polygon points="403.1,296.8 400.5,297.4 395.7,298.5 399.2,298.0" fill="#68389e" stroke="#8c4b6e"/>
<polygon points="446.2,230.9 444.9,226.8 452.3,227.4 454.0,231.4" fill="url(#g637)" stroke="#8f3f40"/>
<polygon points="429.1,223.3 427.9,223.3 434.3,224.2 436.0,224.1" fill="url(#g638)" stroke="#dc5f32"/>
<polygon points="437.4,226.2 436.0,224.1 443.0,224.8 444.9,226.8" fill="url(#g639)" stroke="#c35143"/>
<polygon points="417.2,262.8 415.1,272.0 415.2,273.4 418.3,264.2" fill="url(#g640)" stroke="#d2502d"/>
<polygon points="392.5,296.6 389.7,292.3 383.4,293.1 387.0,297.6" fill="url(#g641)" stroke="#c66d7b"/>
<polygon points="479.2,237.8 477.4,232.6 485.2,233.0 487.2,238.1" fill="url(#g642)" stroke="#262626"/>
<polygon points="363.3,279.5 360.7,269.7 353.0,270.1 355.9,280.0" fill="url(#g643)" stroke="#ec9678"/>
<polygon points="427.9,223.3 426.5,225.7 432.2,226.7 434.3,224.2" fill="url(#g644)" stroke="#d85a28"/>
<polygon points="406.0,293.8 403.1,296.8 399.2,298.0 403.0,295.1" fill="#693ca5" stroke="#7b4a7b"/>
<polygon points="419.3,253.5 417.2,262.8 418.3,264.2 421.4,254.9" fill="url(#g645)" stroke="#c73e21"/>
<polygon points="454.0,231.4 452.3,227.4 459.8,228.0 461.8,231.8" fill="url(#g646)" stroke="#7b3939"/>
<polygon points="426.5,225.7 424.9,230.2 429.8,231.3 432.2,226.7" fill="url(#g647)" stroke="#ce5024"/>
<polygon points="383.4,293.1 380.4,286.6 373.6,287.3 377.2,294.0" fill="url(#g648)" stroke="#d87c7b"/>
<polygon points="373.6,287.3 370.6,278.9 363.3,279.5 366.7,288.0" fill="url(#g649)" stroke="#e68c82"/>
<polygon points="421.3,244.6 419.3,253.5 421.4,254.9 424.4,245.9" fill="#cd3a19" stroke="#c53a1f"/>
<polygon points="424.9,230.2 423.2,236.6 427.2,237.9 429.8,231.3" fill="url(#g650)" stroke="#cb4525"/>
<polygon points="423.2,236.6 421.3,244.6 424.4,245.9 427.2,237.9" fill="url(#g651)" stroke="#c4391e"/>
<polygon points="395.7,298.5 392.5,296.6 387.0,297.6 390.9,299.6" fill="url(#g652)" stroke="#b85d6c"/>
<polygon points="408.9,288.7 406.0,293.8 403.0,295.1 407.0,290.0" fill="url(#g653)" stroke="#b05869"/>
<polygon points="355.9,280.0 353.0,270.1 345.2,270.5 348.5,280.6" fill="url(#g654)" stroke="#ec9678"/>
<polygon points="436.0,224.1 434.3,224.2 440.7,225.1 443.0,224.8" fill="url(#g655)" stroke="#dc5e30"/>
<polygon points="444.9,226.8 443.0,224.8 450.0,225.5 452.3,227.4" fill="url(#g656)" stroke="#c75240"/>
<polygon points="461.8,231.8 459.8,228.0 467.2,228.5 469.6,232.2" fill="url(#g657)" stroke="#673434"/>
<polygon points="412.0,281.7 408.9,288.7 407.0,290.0 411.1,283.1" fill="url(#g658)" stroke="#d7615a"/>
<polygon points="399.2,298.0 395.7,298.5 390.9,299.6 395.3,299.2" fill="#6b3597" stroke="#b25563"/>
<polygon points="387.0,297.6 383.4,293.1 377.2,294.0 381.4,298.6" fill="url(#g659)" stroke="#db7477"/>
<polygon points="366.7,288.0 363.3,279.5 355.9,280.0 359.8,288.8" fill="url(#g660)" stroke="#e68c82"/>
<polygon points="434.3,224.2 432.2,226.7 437.9,227.7 440.7,225.1" fill="url(#g661)" stroke="#d95d28"/>
<polygon points="415.2,273.4 412.0,281.7 411.1,283.1 415.3,274.8" fill="url(#g662)" stroke="#dd583f"/>
<polygon points="377.2,294.0 373.6,287.3 366.7,288.0 370.9,294.9" fill="url(#g663)" stroke="#db7978"/>
<polygon points="469.6,232.2 467.2,228.5 474.6,229.1 477.4,232.6" fill="url(#g664)" stroke="#5c3230"/>
<polygon points="452.3,227.4 450.0,225.5 456.9,226.3 459.8,228.0" fill="url(#g665)" stroke="#c8533e"/>
<polygon points="443.0,224.8 440.7,225.1 447.0,226.0 450.0,225.5" fill="url(#g666)" stroke="#dc5f2f"/>
<polygon points="432.2,226.7 429.8,231.3 434.7,232.5 437.9,227.7" fill="url(#g667)" stroke="#d55727"/>
<polygon points="403.0,295.1 399.2,298.0 395.3,299.2 400.0,296.4" fill="url(#g668)" stroke="#934f70"/>
<polygon points="418.3,264.2 415.2,273.4 415.3,274.8 419.4,265.6" fill="url(#g669)" stroke="#d1502d"/>
<polygon points="390.9,299.6 387.0,297.6 381.4,298.6 386.2,300.8" fill="url(#g670)" stroke="#cc6263"/>
<polygon points="421.4,254.9 418.3,264.2 419.4,265.6 423.5,256.2" fill="url(#g671)" stroke="#c73d21"/>
<polygon points="429.8,231.3 427.2,237.9 431.3,239.1 434.7,232.5" fill="url(#g672)" stroke="#ce5024"/>
<polygon points="477.4,232.6 474.6,229.1 482.1,229.7 485.2,233.0" fill="url(#g673)" stroke="#5e3330"/>
<polygon points="359.8,288.8 355.9,280.0 348.5,280.6 352.9,289.5" fill="url(#g674)" stroke="#e68c82"/>
<polygon points="424.4,245.9 421.4,254.9 423.5,256.2 427.5,247.2" fill="url(#g675)" stroke="#c4391e"/>
<polygon points="427.2,237.9 424.4,245.9 427.5,247.2 431.3,239.1" fill="url(#g676)" stroke="#c84023"/>
<polygon points="407.0,290.0 403.0,295.1 400.0,296.4 405.0,291.4" fill="url(#g677)" stroke="#ab586d"/>
<polygon points="459.8,228.0 456.9,226.3 463.9,227.0 467.2,228.5" fill="url(#g678)" stroke="#c9533c"/>
<polygon points="381.4,298.6 377.2,294.0 370.9,294.9 375.8,299.6" fill="url(#g679)" stroke="#e07777"/>
<polygon points="370.9,294.9 366.7,288.0 359.8,288.8 364.6,295.8" fill="url(#g680)" stroke="#de7776"/>
<polygon points="440.7,225.1 437.9,227.7 443.6,228.7 447.0,226.0" fill="url(#g681)" stroke="#e17328"/>
<polygon points="395.3,299.2 390.9,299.6 386.2,300.8 391.4,300.5" fill="url(#g682)" stroke="#ca5d5f"/>
<polygon points="450.0,225.5 447.0,226.0 453.4,226.9 456.9,226.3" fill="url(#g683)" stroke="#dc5f2e"/>
<polygon points="411.1,283.1 407.0,290.0 405.0,291.4 410.1,284.5" fill="url(#g684)" stroke="#d6625c"/>
<polygon points="437.9,227.7 434.7,232.5 439.7,233.6 443.6,228.7" fill="url(#g685)" stroke="#d85a28"/>
<polygon points="467.2,228.5 463.9,227.0 470.9,227.8 474.6,229.1" fill="url(#g686)" stroke="#c9533b"/>
<polygon points="415.3,274.8 411.1,283.1 410.1,284.5 415.3,276.2" fill="url(#g687)" stroke="#df583d"/>
<polygon points="386.2,300.8 381.4,298.6 375.8,299.6 381.4,301.9" fill="url(#g688)" stroke="#d36260"/>
<polygon points="400.0,296.4 395.3,299.2 391.4,300.5 397.1,297.7" fill="url(#g689)" stroke="#a65368"/>
<polygon points="434.7,232.5 431.3,239.1 435.3,240.3 439.7,233.6" fill="url(#g690)" stroke="#ce5024"/>
<polygon points="364.6,295.8 359.8,288.8 352.9,289.5 358.3,296.6" fill="url(#g691)" stroke="#e07776"/>
<polygon points="419.4,265.6 415.3,274.8 415.3,276.2 420.6,267.0" fill="url(#g692)" stroke="#d2512f"/>
<polygon points="375.8,299.6 370.9,294.9 364.6,295.8 370.2,300.6" fill="url(#g693)" stroke="#e17777"/>
<polygon points="447.0,226.0 443.6,228.7 449.3,229.7 453.4,226.9" fill="url(#g694)" stroke="#e27828"/>
<polygon points="456.9,226.3 453.4,226.9 459.8,227.8 463.9,227.0" fill="url(#g695)" stroke="#dc602e"/>
<polygon points="423.5,256.2 419.4,265.6 420.6,267.0 425.7,257.6" fill="url(#g696)" stroke="#c73d21"/>
<polygon points="431.3,239.1 427.5,247.2 430.6,248.5 435.3,240.3" fill="url(#g697)" stroke="#ce4d25"/>
<polygon points="427.5,247.2 423.5,256.2 425.7,257.6 430.6,248.5" fill="url(#g698)" stroke="#c53a1f"/>
<polygon points="405.0,291.4 400.0,296.4 397.1,297.7 403.0,292.8" fill="url(#g699)" stroke="#97567a"/>
<polygon points="474.6,229.1 470.9,227.8 477.9,228.5 482.1,229.7" fill="url(#g700)" stroke="#c8523a"/>
<polygon points="391.4,300.5 386.2,300.8 381.4,301.9 387.5,301.7" fill="url(#g701)" stroke="#d16161"/>
<polygon points="443.6,228.7 439.7,233.6 444.6,234.7 449.3,229.7" fill="url(#g702)" stroke="#e07128"/>
<polygon points="410.1,284.5 405.0,291.4 403.0,292.8 409.2,285.9" fill="url(#g703)" stroke="#d06768"/>
<polygon points="381.4,301.9 375.8,299.6 370.2,300.6 376.6,303.0" fill="url(#g704)" stroke="#d5625f"/>
<polygon points="463.9,227.0 459.8,227.8 466.2,228.6 470.9,227.8" fill="url(#g705)" stroke="#db5f2e"/>
<polygon points="370.2,300.6 364.6,295.8 358.3,296.6 364.6,301.6" fill="url(#g706)" stroke="#e17777"/>
<polygon points="453.4,226.9 449.3,229.7 455.0,230.8 459.8,227.8" fill="url(#g707)" stroke="#e27828"/>
<polygon points="397.1,297.7 391.4,300.5 387.5,301.7 394.1,299.1" fill="url(#g708)" stroke="#c15a60"/>
<polygon points="415.3,276.2 410.1,284.5 409.2,285.9 415.4,277.6" fill="url(#g709)" stroke="#e0583c"/>
<polygon points="439.7,233.6 435.3,240.3 439.4,241.6 444.6,234.7" fill="url(#g710)" stroke="#d75928"/>
<polygon points="420.6,267.0 415.3,276.2 415.4,277.6 421.7,268.4" fill="url(#g711)" stroke="#d35230"/>
<polygon points="435.3,240.3 430.6,248.5 433.7,249.8 439.4,241.6" fill="url(#g712)" stroke="#ce5024"/>
<polygon points="425.7,257.6 420.6,267.0 421.7,268.4 427.8,259.0" fill="url(#g713)" stroke="#c63c20"/>
<polygon points="430.6,248.5 425.7,257.6 427.8,259.0 433.7,249.8" fill="url(#g714)" stroke="#cb4425"/>
<polygon points="403.0,292.8 397.1,297.7 394.1,299.1 401.0,294.1" fill="url(#g715)" stroke="#8f547d"/>
<polygon points="387.5,301.7 381.4,301.9 376.6,303.0 383.6,302.9" fill="url(#g716)" stroke="#d36362"/>
<polygon points="470.9,227.8 466.2,228.6 472.6,229.5 477.9,228.5" fill="url(#g717)" stroke="#da5e2e"/>
<polygon points="449.3,229.7 444.6,234.7 449.5,235.9 455.0,230.8" fill="url(#g718)" stroke="#e27828"/>
<polygon points="459.8,227.8 455.0,230.8 460.7,231.8 466.2,228.6" fill="url(#g719)" stroke="#e3762a"/>
<polygon points="376.6,303.0 370.2,300.6 364.6,301.6 371.8,304.2" fill="url(#g720)" stroke="#d6625e"/>
<polygon points="409.2,285.9 403.0,292.8 401.0,294.1 408.2,287.3" fill="url(#g721)" stroke="#995c84"/>
<polygon points="444.6,234.7 439.4,241.6 443.4,242.8 449.5,235.9" fill="url(#g722)" stroke="#d85a28"/>
<polygon points="394.1,299.1 387.5,301.7 383.6,302.9 391.1,300.4" fill="url(#g723)" stroke="#ce5f60"/>
<polygon points="415.4,277.6 409.2,285.9 408.2,287.3 415.5,279.0" fill="url(#g724)" stroke="#de6e68"/>
<polygon points="439.4,241.6 433.7,249.8 436.9,251.1 443.4,242.8" fill="url(#g725)" stroke="#cf5125"/>
<polygon points="421.7,268.4 415.4,277.6 415.5,279.0 422.8,269.8" fill="url(#g726)" stroke="#d2512e"/>
<polygon points="455.0,230.8 449.5,235.9 454.4,237.0 460.7,231.8" fill="url(#g727)" stroke="#e37729"/>
<polygon points="383.6,302.9 376.6,303.0 371.8,304.2 379.7,304.2" fill="url(#g728)" stroke="#d46463"/>
<polygon points="433.7,249.8 427.8,259.0 429.9,260.3 436.9,251.1" fill="url(#g729)" stroke="#ce4f25"/>
<polygon points="466.2,228.6 460.7,231.8 466.4,232.8 472.6,229.5" fill="url(#g730)" stroke="#e3742b"/>
<polygon points="427.8,259.0 421.7,268.4 422.8,269.8 429.9,260.3" fill="url(#g731)" stroke="#c63b20"/>
<polygon points="401.0,294.1 394.1,299.1 391.1,300.4 399.1,295.5" fill="url(#g732)" stroke="#a45770"/>
<polygon points="449.5,235.9 443.4,242.8 447.5,244.0 454.4,237.0" fill="url(#g733)" stroke="#e07128"/>
<polygon points="408.2,287.3 401.0,294.1 399.1,295.5 407.3,288.7" fill="url(#g734)" stroke="#845992"/>
<polygon points="391.1,300.4 383.6,302.9 379.7,304.2 388.2,301.7" fill="url(#g735)" stroke="#d26261"/>
<polygon points="460.7,231.8 454.4,237.0 459.3,238.1 466.4,232.8" fill="url(#g736)" stroke="#e37729"/>
<polygon points="443.4,242.8 436.9,251.1 440.0,252.4 447.5,244.0" fill="url(#g737)" stroke="#d85a28"/>
<polygon points="415.5,279.0 408.2,287.3 407.3,288.7 415.6,280.5" fill="url(#g738)" stroke="#cc6e78"/>
<polygon points="422.8,269.8 415.5,279.0 415.6,280.5 423.9,271.3" fill="url(#g739)" stroke="#cb4526"/>
<polygon points="436.9,251.1 429.9,260.3 432.1,261.7 440.0,252.4" fill="url(#g740)" stroke="#ce5024"/>
<polygon points="429.9,260.3 422.8,269.8 423.9,271.3 432.1,261.7" fill="url(#g741)" stroke="#c94123"/>
<polygon points="399.1,295.5 391.1,300.4 388.2,301.7 397.1,296.9" fill="url(#g742)" stroke="#c35e64"/>
<polygon points="454.4,237.0 447.5,244.0 451.5,245.3 459.3,238.1" fill="url(#g743)" stroke="#e27828"/>
<polygon points="407.3,288.7 399.1,295.5 397.1,296.9 406.3,290.1" fill="url(#g744)" stroke="#c46773"/>
<polygon points="447.5,244.0 440.0,252.4 443.1,253.8 451.5,245.3" fill="url(#g745)" stroke="#d95d28"/>
<polygon points="415.6,280.5 407.3,288.7 406.3,290.1 415.7,281.9" fill="url(#g746)" stroke="#e07574"/>
<polygon points="440.0,252.4 432.1,261.7 434.2,263.1 443.1,253.8" fill="url(#g747)" stroke="#d05225"/>
<polygon points="423.9,271.3 415.6,280.5 415.7,281.9 425.0,272.7" fill="url(#g748)" stroke="#d55431"/>
<polygon points="432.1,261.7 423.9,271.3 425.0,272.7 434.2,263.1" fill="url(#g749)" stroke="#cf4d28"/>
<polyline points="363.7,214.4 362.9,214.1 362.0,213.9" class="bl"/>
<polyline points="360.5,213.7 359.7,213.6 359.0,213.5" class="bl"/>
<polyline points="357.5,213.6 356.8,213.6 356.1,213.8 355.4,213.9 354.7,214.1 354.1,214.3 353.5,214.6 352.9,214.9 352.2,215.3 351.7,215.6 351.1,216.1 350.5,216.5 350.0,217.0 349.5,217.6 349.0,218.1 348.5,218.7 348.0,219.4 347.6,220.1 347.1,220.8 346.7,221.5 346.3,222.3 345.9,223.1 345.6,224.0 345.2,224.9 344.9,225.8 344.6,226.7 344.3,227.7 344.0,228.7 343.8,229.7 343.5,230.8 343.3,231.9 343.1,233.0 342.9,234.1 342.7,235.2 342.6,236.4 342.5,237.6 342.4,238.8 342.3,240.0 342.2,241.3 342.1,242.5 342.1,243.8 342.1,245.1 342.1,246.4 342.1,247.7 342.2,249.1 342.2,250.4 342.3,251.7 342.4,253.1 342.5,254.5 342.6,255.8 342.8,257.2 342.9,258.5 343.1,259.9 343.3,261.3 343.6,262.6 343.8,264.0 344.1,265.4 344.4,266.7 344.7,268.0 345.0,269.4 345.3,270.7 345.7,272.0 346.0,273.3 346.4,274.6 346.8,275.9 347.2,277.1 347.7,278.4 348.1,279.6 348.6,280.8 349.1,282.0 349.6,283.2 350.1,284.3 350.7,285.4 351.2,286.5 351.8,287.6 352.4,288.7 353.0,289.7 353.6,290.7 354.3,291.6 354.9,292.6 355.6,293.5 356.3,294.4 357.0,295.2 357.7,296.0 358.4,296.8 359.2,297.5 359.9,298.2 360.7,298.9 361.5,299.5 362.3,300.1 363.1,300.7 364.0,301.2 364.8,301.7 365.7,302.1 366.5,302.6 367.4,302.9 368.3,303.3 369.2,303.5 370.1,303.8 371.0,304.0 372.0,304.2 372.9,304.3 373.9,304.4 374.9,304.5 375.9,304.5 376.9,304.4 377.9,304.4 378.9,304.3 379.9,304.1 380.9,303.9 382.0,303.7 383.0,303.5 384.1,303.2 385.1,302.8 386.2,302.4 387.3,302.0 388.4,301.6 389.5,301.1 390.6,300.6 391.7,300.0 392.8,299.4 393.9,298.8 395.0,298.1 396.2,297.5 397.3,296.7 398.4,296.0 399.6,295.2 400.7,294.4 401.9,293.6 403.0,292.7 404.2,291.8 405.4,290.9 406.5,289.9 407.7,289.0 408.9,288.0 410.0,287.0 411.2,286.0 412.4,284.9 413.5,283.8 414.7,282.8 415.9,281.7 417.1,280.5 418.2,279.4 419.4,278.3 420.6,277.1 421.7,276.0 422.9,274.8 424.1,273.6 425.2,272.4 426.4,271.2 427.6,270.1 428.7,268.9 429.9,267.7 431.0,266.5 432.2,265.3 433.3,264.1 434.4,262.9 435.6,261.7 436.7,260.5 437.8,259.3 438.9,258.1 440.0,257.0 441.1,255.8 442.2,254.7 443.3,253.6 444.4,252.4 445.4,251.3 446.5,250.3 447.6,249.2 448.6,248.1 449.6,247.1 450.7,246.1 451.7,245.1 452.7,244.1 453.7,243.2 454.7,242.3 455.7,241.4 456.6,240.5 457.6,239.6 458.5,238.8 459.5,238.0 460.4,237.2 461.3,236.5 462.2,235.8 463.1,235.1 464.0,234.5 464.8,233.8 465.7,233.3 466.5,232.7 467.3,232.2 468.2,231.7 469.0,231.2 469.7,230.8 470.5,230.4 471.3,230.1 472.0,229.8 472.7,229.5 473.4,229.2 474.1,229.0 474.8,228.9 475.5,228.7 476.1,228.6 476.8,228.5 477.4,228.5 478.0,228.5 478.6,228.5 479.1,228.6 479.7,228.7 480.2,228.9 480.7,229.0 481.2,229.2 481.7,229.5 482.2,229.8 482.6,230.1 483.0,230.4 483.5,230.8 483.9,231.2 484.2,231.6 484.6,232.1 484.9,232.6 485.3,233.1 485.6,233.6 485.9,234.2 486.1,234.8 486.4,235.5 486.6,236.1 486.8,236.8 487.0,237.5 487.2,238.2 487.4,239.0 487.5,239.7 487.6,240.5 487.7,241.3 487.8,242.1 487.9,243.0 487.9,243.8 487.9,244.7 487.9,245.6 487.9,246.5 487.9,247.4 487.9,248.3 487.8,249.2 487.7,250.2 487.6,251.1 487.5,252.1 487.3,253.0 487.2,254.0 487.0,255.0 486.8,255.9 486.6,256.9 486.4,257.8 486.1,258.8 485.8,259.8 485.5,260.7 485.2,261.7 484.9,262.6 484.6,263.5 484.2,264.5 483.8,265.4 483.4,266.3 483.0,267.2 482.6,268.0 482.1,268.9 481.7,269.8 481.2,270.6 480.7,271.4 480.2,272.2 479.6,273.0 479.1,273.7 478.5,274.5 477.9,275.2 477.3,275.9 476.7,276.6 476.1,277.2 475.5,277.8 474.8,278.4 474.1,279.0 473.4,279.5 472.7,280.0 472.0,280.5 471.3,281.0 470.5,281.4 469.7,281.8 469.0,282.1 468.2,282.5 467.4,282.8 466.6,283.0 465.7,283.3 464.9,283.5 464.0,283.6 463.1,283.8 462.3,283.9 461.4,283.9 460.5,284.0 459.5,283.9 458.6,283.9 457.7,283.8 456.7,283.7 455.8,283.6" class="bl"/>
<circle cx="343.1" cy="259.7" r="1.15" class="dt"/>
<circle cx="342.1" cy="248.8" r="1.15" class="dt"/>
<circle cx="342.4" cy="238.6" r="1.15" class="dt"/>
<circle cx="343.8" cy="229.5" r="1.15" class="dt"/>
<circle cx="346.4" cy="222.2" r="1.15" class="dt"/>
<circle cx="350.1" cy="216.9" r="1.15" class="dt"/>
<circle cx="354.9" cy="214.1" r="1.15" class="dt"/>
<circle cx="360.6" cy="213.7" r="1.15" class="dt"/>
<circle cx="461.5" cy="283.9" r="1.15" class="dt"/>
<circle cx="468.3" cy="282.4" r="1.15" class="dt"/>
<circle cx="474.2" cy="278.9" r="1.15" class="dt"/>
<circle cx="479.2" cy="273.6" r="1.15" class="dt"/>
<circle cx="483.1" cy="267.0" r="1.15" class="dt"/>
<circle cx="485.9" cy="259.6" r="1.15" class="dt"/>
<circle cx="487.5" cy="251.9" r="1.15" class="dt"/>
<circle cx="487.9" cy="244.5" r="1.15" class="dt"/>
<circle cx="487.2" cy="238.1" r="1.15" class="dt"/>
<circle cx="485.2" cy="233.0" r="1.15" class="dt"/>
<circle cx="482.1" cy="229.7" r="1.15" class="dt"/>
<circle cx="477.9" cy="228.5" r="1.15" class="dt"/>
<circle cx="472.6" cy="229.5" r="1.15" class="dt"/>
<circle cx="466.4" cy="232.8" r="1.15" class="dt"/>
<circle cx="459.3" cy="238.1" r="1.15" class="dt"/>
<circle cx="451.5" cy="245.3" r="1.15" class="dt"/>
<circle cx="443.1" cy="253.8" r="1.15" class="dt"/>
<circle cx="434.2" cy="263.1" r="1.15" class="dt"/>
<circle cx="425.0" cy="272.7" r="1.15" class="dt"/>
<circle cx="415.7" cy="281.9" r="1.15" class="dt"/>
<circle cx="406.3" cy="290.1" r="1.15" class="dt"/>
<circle cx="397.1" cy="296.9" r="1.15" class="dt"/>
<circle cx="388.2" cy="301.7" r="1.15" class="dt"/>
<circle cx="379.7" cy="304.2" r="1.15" class="dt"/>
<circle cx="371.8" cy="304.2" r="1.15" class="dt"/>
<circle cx="364.6" cy="301.6" r="1.15" class="dt"/>
<circle cx="358.3" cy="296.6" r="1.15" class="dt"/>
<circle cx="352.9" cy="289.5" r="1.15" class="dt"/>
<circle cx="348.5" cy="280.6" r="1.15" class="dt"/>
<circle cx="345.2" cy="270.5" r="1.15" class="dt"/>
<line x1="413.4" y1="220.6" x2="357.0" y2="213.5" class="sil"/>
<line x1="352.2" y1="197.4" x2="503.7" y2="193.3" class="bx"/>
<line x1="326.2" y1="171.0" x2="352.2" y2="197.4" class="bx"/>
<line x1="352.2" y1="197.4" x2="351.6" y2="349.2" class="bx"/>
<line x1="503.9" y1="344.3" x2="504.4" y2="194.1" class="ax"/>
<line x1="503.9" y1="344.3" x2="352.2" y2="349.2" class="ax2"/>
<line x1="503.9" y1="344.3" x2="477.6" y2="318.7" class="ax"/>
<line x1="504.4" y1="196.6" x2="511.0" y2="196.6" class="tk"/>
<text x="514.6" y="200.5" class="al">1</text>
<line x1="504.3" y1="232.5" x2="510.9" y2="232.5" class="tk"/>
<text x="514.5" y="236.4" class="al">0.5</text>
<line x1="504.1" y1="268.3" x2="510.7" y2="268.3" class="tk"/>
<text x="514.3" y="272.2" class="al">0</text>
<line x1="504.0" y1="304.2" x2="510.6" y2="304.2" class="tk"/>
<text x="514.2" y="308.1" class="al">-0.5</text>
<line x1="357.3" y1="349.1" x2="357.3" y2="351.7" class="tk2"/>
<text x="360.7" y="353.5" class="al">1</text>
<line x1="393.2" y1="348.2" x2="393.2" y2="350.8" class="tk2"/>
<text x="396.6" y="352.6" class="al">0.5</text>
<line x1="429.2" y1="347.2" x2="429.2" y2="349.8" class="tk2"/>
<text x="432.6" y="351.6" class="al">0</text>
<line x1="465.1" y1="346.2" x2="465.1" y2="348.8" class="tk2"/>
<text x="468.5" y="350.6" class="al">-0.5</text>
<line x1="501.0" y1="345.2" x2="501.0" y2="347.8" class="tk2"/>
<text x="504.4" y="349.6" class="al">-1</text>
<line x1="477.8" y1="319.3" x2="485.4" y2="319.3" class="tk"/>
<text x="489.2" y="321.6" class="al">1</text>
<line x1="483.9" y1="325.6" x2="491.5" y2="325.6" class="tk"/>
<text x="495.3" y="327.9" class="al">0.5</text>
<line x1="490.1" y1="331.9" x2="497.7" y2="331.9" class="tk"/>
<text x="501.5" y="334.2" class="al">0</text>
<line x1="496.3" y1="338.2" x2="503.9" y2="338.2" class="tk"/>
<text x="507.7" y="340.5" class="al">-0.5</text>
<line x1="502.5" y1="344.5" x2="510.1" y2="344.5" class="tk"/>
<text x="513.9" y="346.8" class="al">-1</text></g>
<g class="s3"><line x1="614.4" y1="171.2" x2="765.9" y2="167.0" class="bx"/>
<line x1="765.9" y1="167.0" x2="791.9" y2="193.4" class="bx"/>
<line x1="613.8" y1="323.0" x2="765.3" y2="318.9" class="bx"/>
<line x1="613.8" y1="323.0" x2="639.8" y2="349.4" class="bx"/>
<line x1="614.4" y1="171.2" x2="613.8" y2="323.0" class="bx"/>
<line x1="765.9" y1="167.0" x2="765.3" y2="318.9" class="bx"/>
<polygon points="711.6,265.1 720.8,272.4 725.5,273.1 717.9,265.9" fill="#312241" stroke="#261c38"/>
<polygon points="723.7,271.4 716.0,263.9 709.3,263.0 718.5,270.7" fill="#322441" stroke="#261d38"/>
<polygon points="731.0,277.4 723.7,271.4 718.5,270.7 727.5,277.0" fill="#2f1e40" stroke="#251a37"/>
<polygon points="720.8,272.4 729.6,278.3 732.8,278.7 725.5,273.1" fill="#2f1d3f" stroke="#241a35"/>
<polygon points="702.3,256.6 711.6,265.1 717.9,265.9 710.1,257.5" fill="url(#g750)" stroke="#252232"/>
<polygon points="716.0,263.9 708.1,255.4 700.0,254.3 709.3,263.0" fill="url(#g751)" stroke="#242331"/>
<polygon points="737.9,281.7 731.0,277.4 727.5,277.0 736.0,281.4" fill="#2e1a3f" stroke="#211832"/>
<polygon points="729.6,278.3 738.1,282.2 739.6,282.4 732.8,278.7" fill="#2e1a3e" stroke="#201731"/>
<polygon points="693.0,247.6 702.3,256.6 710.1,257.5 702.1,248.7" fill="url(#g752)" stroke="#242430"/>
<polygon points="734.6,277.9 728.8,272.0 723.7,271.4 731.0,277.4" fill="#2f1e3f" stroke="#241a36"/>
<polygon points="725.5,273.1 732.8,278.7 736.0,279.1 730.3,273.7" fill="#2f1c3f" stroke="#231934"/>
<polygon points="708.1,255.4 700.1,246.5 690.7,245.3 700.0,254.3" fill="url(#g753)" stroke="#242430"/>
<polygon points="717.9,265.9 725.5,273.1 730.3,273.7 724.2,266.6" fill="#312140" stroke="#261c38"/>
<polygon points="739.8,281.9 734.6,277.9 731.0,277.4 737.9,281.7" fill="#2e1a3f" stroke="#211731"/>
<polygon points="728.8,272.0 722.6,264.7 716.0,263.9 723.7,271.4" fill="#312341" stroke="#261c38"/>
<polygon points="732.8,278.7 739.6,282.4 741.1,282.6 736.0,279.1" fill="#2e193e" stroke="#201730"/>
<polygon points="744.3,283.8 737.9,281.7 736.0,281.4 744.1,283.8" fill="#2d183e" stroke="#1f162f"/>
<polygon points="710.1,257.5 717.9,265.9 724.2,266.6 717.8,258.5" fill="url(#g754)" stroke="#252134"/>
<polygon points="741.7,282.1 738.1,278.3 734.6,277.9 739.8,281.9" fill="#2e1a3e" stroke="#211731"/>
<polygon points="744.5,283.8 739.8,281.9 737.9,281.7 744.3,283.8" fill="#2d183e" stroke="#1f162f"/>
<polygon points="736.0,279.1 741.1,282.6 742.5,282.8 739.1,279.5" fill="#2d193e" stroke="#201730"/>
<polygon points="730.3,273.7 736.0,279.1 739.1,279.5 735.1,274.3" fill="#2f1c3f" stroke="#231934"/>
<polygon points="738.1,282.2 746.0,284.0 745.8,284.0 739.6,282.4" fill="#2d183e" stroke="#1f162f"/>
<polygon points="683.9,238.6 693.0,247.6 702.1,248.7 694.1,239.9" fill="url(#g755)" stroke="#25242f"/>
<polygon points="722.6,264.7 716.2,256.4 708.1,255.4 716.0,263.9" fill="url(#g756)" stroke="#252232"/>
<polygon points="738.1,278.3 734.0,272.7 728.8,272.0 734.6,277.9" fill="#2f1d3f" stroke="#231935"/>
<polygon points="739.6,282.4 745.8,284.0 745.6,283.9 741.1,282.6" fill="#2d183e" stroke="#1f162f"/>
<polygon points="744.7,283.8 741.7,282.1 739.8,281.9 744.5,283.8" fill="#2d183e" stroke="#1f162f"/>
<polygon points="741.1,282.6 745.6,283.9 745.3,283.9 742.5,282.8" fill="#2c183d" stroke="#1f162f"/>
<polygon points="700.1,246.5 692.1,237.7 681.7,236.4 690.7,245.3" fill="url(#g757)" stroke="#25242e"/>
<polygon points="744.9,283.9 743.6,282.4 741.7,282.1 744.7,283.8" fill="#2d183d" stroke="#1f162f"/>
<polygon points="742.5,282.8 745.3,283.9 745.1,283.9 744.0,283.0" fill="#2c183d" stroke="#1f162f"/>
<polygon points="739.1,279.5 742.5,282.8 744.0,283.0 742.3,279.9" fill="#2d193e" stroke="#201730"/>
<polygon points="724.2,266.6 730.3,273.7 735.1,274.3 730.5,267.4" fill="#302040" stroke="#261b38"/>
<polygon points="743.6,282.4 741.7,278.8 738.1,278.3 741.7,282.1" fill="#2e1a3e" stroke="#201730"/>
<polygon points="744.0,283.0 745.1,283.9 744.9,283.9 745.5,283.1" fill="#2c183d" stroke="#1f162e"/>
<polygon points="745.1,283.9 745.5,282.6 743.6,282.4 744.9,283.9" fill="#2c183d" stroke="#1f162f"/>
<polygon points="734.0,272.7 729.3,265.5 722.6,264.7 728.8,272.0" fill="#312241" stroke="#261c38"/>
<polygon points="745.5,283.1 744.9,283.9 744.7,283.8 747.0,283.3" fill="#2c183d" stroke="#1f162e"/>
<polygon points="702.1,248.7 710.1,257.5 717.8,258.5 711.1,249.8" fill="url(#g758)" stroke="#242430"/>
<polygon points="747.0,283.3 744.7,283.8 744.5,283.8 748.5,283.5" fill="#2c183d" stroke="#1f162e"/>
<polygon points="745.3,283.9 747.4,282.9 745.5,282.6 745.1,283.9" fill="#2c183d" stroke="#1f162e"/>
<polygon points="735.1,274.3 739.1,279.5 742.3,279.9 739.9,274.9" fill="#2f1c3f" stroke="#231934"/>
<polygon points="742.3,279.9 744.0,283.0 745.5,283.1 745.4,280.3" fill="#2d193e" stroke="#20172f"/>
<polygon points="748.5,283.5 744.5,283.8 744.3,283.8 750.0,283.7" fill="#2c183d" stroke="#1f162e"/>
<polygon points="741.7,278.8 739.2,273.3 734.0,272.7 738.1,278.3" fill="#2f1d3f" stroke="#241a35"/>
<polygon points="745.6,283.9 749.4,283.1 747.4,282.9 745.3,283.9" fill="#2c183d" stroke="#1f162e"/>
<polygon points="745.5,282.6 745.3,279.2 741.7,278.8 743.6,282.4" fill="#2d1a3e" stroke="#201730"/>
<polygon points="716.2,256.4 709.4,247.6 700.1,246.5 708.1,255.4" fill="url(#g759)" stroke="#242430"/>
<polygon points="750.0,283.7 744.3,283.8 744.1,283.8 751.4,283.9" fill="#2c183d" stroke="#1e162e"/>
<polygon points="745.8,284.0 751.3,283.3 749.4,283.1 745.6,283.9" fill="#2c183d" stroke="#1e162e"/>
<polygon points="675.1,230.3 683.9,238.6 694.1,239.9 686.3,231.7" fill="url(#g760)" stroke="#29252a"/>
<polygon points="717.8,258.5 724.2,266.6 730.5,267.4 725.5,259.5" fill="url(#g761)" stroke="#261f35"/>
<polygon points="745.4,280.3 745.5,283.1 747.0,283.3 748.6,280.7" fill="#2d193d" stroke="#1f162f"/>
<polygon points="746.0,284.0 753.2,283.6 751.3,283.3 745.8,284.0" fill="#2c183d" stroke="#1e162e"/>
<polygon points="729.3,265.5 724.2,257.4 716.2,256.4 722.6,264.7" fill="url(#g762)" stroke="#252133"/>
<polygon points="747.4,282.9 748.8,279.7 745.3,279.2 745.5,282.6" fill="#2d1a3e" stroke="#20172f"/>
<polygon points="730.5,267.4 735.1,274.3 739.9,274.9 736.8,268.2" fill="#302041" stroke="#261b38"/>
<polygon points="739.9,274.9 742.3,279.9 745.4,280.3 744.6,275.5" fill="#2f1d3f" stroke="#231934"/>
<polygon points="692.1,237.7 684.4,229.8 673.0,228.4 681.7,236.4" fill="url(#g763)" stroke="#2a2629"/>
<polygon points="748.6,280.7 747.0,283.3 748.5,283.5 751.7,281.1" fill="#2c193d" stroke="#1f162e"/>
<polygon points="739.2,273.3 736.0,266.4 729.3,265.5 734.0,272.7" fill="#302141" stroke="#261c39"/>
<polygon points="745.3,279.2 744.3,274.0 739.2,273.3 741.7,278.8" fill="#2f1e3f" stroke="#241a35"/>
<polygon points="694.1,239.9 702.1,248.7 711.1,249.8 704.3,241.2" fill="url(#g764)" stroke="#24242f"/>
<polygon points="749.4,283.1 752.4,280.1 748.8,279.7 747.4,282.9" fill="#2c1a3d" stroke="#1f162e"/>
<polygon points="751.7,281.1 748.5,283.5 750.0,283.7 754.9,281.5" fill="#2c193d" stroke="#1e162e"/>
<polygon points="709.4,247.6 702.6,239.1 692.1,237.7 700.1,246.5" fill="url(#g765)" stroke="#25242f"/>
<polygon points="744.6,275.5 745.4,280.3 748.6,280.7 749.4,276.1" fill="#2e1d3f" stroke="#221832"/>
<polygon points="711.1,249.8 717.8,258.5 725.5,259.5 720.2,251.0" fill="url(#g766)" stroke="#242430"/>
<polygon points="751.3,283.3 756.0,280.6 752.4,280.1 749.4,283.1" fill="#2b193c" stroke="#1e162e"/>
<polygon points="736.8,268.2 739.9,274.9 744.6,275.5 743.2,269.0" fill="#302142" stroke="#271c3a"/>
<polygon points="725.5,259.5 730.5,267.4 736.8,268.2 733.3,260.5" fill="url(#g767)" stroke="#261e37"/>
<polygon points="748.8,279.7 749.5,274.6 744.3,274.0 745.3,279.2" fill="#2f1e3f" stroke="#231934"/>
<polygon points="754.9,281.5 750.0,283.7 751.4,283.9 758.0,281.9" fill="#2b183c" stroke="#1e162d"/>
<polygon points="724.2,257.4 718.8,248.8 709.4,247.6 716.2,256.4" fill="url(#g768)" stroke="#242430"/>
<polygon points="666.8,223.2 675.1,230.3 686.3,231.7 678.8,224.7" fill="url(#g769)" stroke="#36292a"/>
<polygon points="744.3,274.0 742.7,267.2 736.0,266.4 739.2,273.3" fill="#302243" stroke="#271c3a"/>
<polygon points="736.0,266.4 732.3,258.4 724.2,257.4 729.3,265.5" fill="url(#g770)" stroke="#252035"/>
<polygon points="749.4,276.1 748.6,280.7 751.7,281.1 754.2,276.7" fill="#2d1c3e" stroke="#20172f"/>
<polygon points="753.2,283.6 759.5,281.0 756.0,280.6 751.3,283.3" fill="#2a183c" stroke="#1e162d"/>
<polygon points="684.4,229.8 676.9,223.2 664.8,221.7 673.0,228.4" fill="url(#g771)" stroke="#3e2b2c"/>
<polygon points="686.3,231.7 694.1,239.9 704.3,241.2 697.5,233.1" fill="url(#g772)" stroke="#28252a"/>
<polygon points="752.4,280.1 754.6,275.3 749.5,274.6 748.8,279.7" fill="#2d1d3e" stroke="#211830"/>
<polygon points="743.2,269.0 744.6,275.5 749.4,276.1 749.5,269.8" fill="#2f2142" stroke="#271c39"/>
<polygon points="702.6,239.1 695.8,231.2 684.4,229.8 692.1,237.7" fill="url(#g773)" stroke="#292629"/>
<polygon points="704.3,241.2 711.1,249.8 720.2,251.0 714.6,242.4" fill="url(#g774)" stroke="#242430"/>
<polygon points="754.2,276.7 751.7,281.1 754.9,281.5 758.9,277.3" fill="#2b1b3c" stroke="#1e162d"/>
<polygon points="733.3,260.5 736.8,268.2 743.2,269.0 741.0,261.5" fill="#302746" stroke="#271e39"/>
<polygon points="720.2,251.0 725.5,259.5 733.3,260.5 729.2,252.1" fill="url(#g775)" stroke="#242331"/>
<polygon points="749.5,274.6 749.4,268.1 742.7,267.2 744.3,274.0" fill="#2f2243" stroke="#271c3a"/>
<polygon points="718.8,248.8 713.1,240.4 702.6,239.1 709.4,247.6" fill="url(#g776)" stroke="#25242f"/>
<polygon points="756.0,280.6 759.8,275.9 754.6,275.3 752.4,280.1" fill="#2b1b3c" stroke="#1e162d"/>
<polygon points="742.7,267.2 740.4,259.4 732.3,258.4 736.0,266.4" fill="#312946" stroke="#261f37"/>
<polygon points="732.3,258.4 728.2,250.0 718.8,248.8 724.2,257.4" fill="url(#g777)" stroke="#242430"/>
<polygon points="659.0,217.8 666.8,223.2 678.8,224.7 671.6,219.4" fill="url(#g778)" stroke="#6a3635"/>
<polygon points="758.9,277.3 754.9,281.5 758.0,281.9 763.7,277.9" fill="#291a3a" stroke="#1e162c"/>
<polygon points="749.5,269.8 749.4,276.1 754.2,276.7 755.8,270.6" fill="#2d2040" stroke="#241a36"/>
<polygon points="676.9,223.2 669.9,218.4 657.2,216.8 664.8,221.7" fill="url(#g779)" stroke="#7d3b39"/>
<polygon points="678.8,224.7 686.3,231.7 697.5,233.1 690.8,226.2" fill="url(#g780)" stroke="#332829"/>
<polygon points="759.5,281.0 765.0,276.6 759.8,275.9 756.0,280.6" fill="#291a3a" stroke="#1e162c"/>
<polygon points="754.6,275.3 756.0,268.9 749.4,268.1 749.5,274.6" fill="#2d2142" stroke="#261b38"/>
<polygon points="741.0,261.5 743.2,269.0 749.5,269.8 748.8,262.4" fill="#2f2746" stroke="#271d39"/>
<polygon points="697.5,233.1 704.3,241.2 714.6,242.4 708.7,234.5" fill="url(#g781)" stroke="#27252b"/>
<polygon points="695.8,231.2 689.1,224.7 676.9,223.2 684.4,229.8" fill="url(#g782)" stroke="#3a2a2a"/>
<polygon points="729.2,252.1 733.3,260.5 741.0,261.5 738.3,253.3" fill="#322e45" stroke="#242331"/>
<polygon points="714.6,242.4 720.2,251.0 729.2,252.1 724.8,243.7" fill="url(#g783)" stroke="#242430"/>
<polygon points="749.4,268.1 748.5,260.5 740.4,259.4 742.7,267.2" fill="#2f2847" stroke="#261f37"/>
<polygon points="755.8,270.6 754.2,276.7 758.9,277.3 762.1,271.4" fill="#2a1e3d" stroke="#1f162e"/>
<polygon points="713.1,240.4 707.3,232.7 695.8,231.2 702.6,239.1" fill="url(#g784)" stroke="#282529"/>
<polygon points="740.4,259.4 737.5,251.2 728.2,250.0 732.3,258.4" fill="#332f44" stroke="#242430"/>
<polygon points="728.2,250.0 723.6,241.7 713.1,240.4 718.8,248.8" fill="url(#g785)" stroke="#242430"/>
<polygon points="652.0,214.6 659.0,217.8 671.6,219.4 665.0,216.2" fill="url(#g786)" stroke="#d4583d"/>
<polygon points="759.8,275.9 762.7,269.7 756.0,268.9 754.6,275.3" fill="#2a1f3e" stroke="#201730"/>
<polygon points="748.8,262.4 749.5,269.8 755.8,270.6 756.5,263.4" fill="#2d2547" stroke="#271d3a"/>
<polygon points="669.9,218.4 663.4,215.8 650.3,214.1 657.2,216.8" fill="url(#g787)" stroke="#d95a36"/>
<polygon points="671.6,219.4 678.8,224.7 690.8,226.2 684.3,221.0" fill="url(#g788)" stroke="#643434"/>
<polygon points="762.1,271.4 758.9,277.3 763.7,277.9 768.4,272.2" fill="#281d3b" stroke="#1e162d"/>
<polygon points="690.8,226.2 697.5,233.1 708.7,234.5 702.8,227.7" fill="url(#g789)" stroke="#302828"/>
<polygon points="756.0,268.9 756.6,261.5 748.5,260.5 749.4,268.1" fill="url(#g790)" stroke="#271e39"/>
<polygon points="738.3,253.3 741.0,261.5 748.8,262.4 747.4,254.4" fill="#312d44" stroke="#242331"/>
<polygon points="689.1,224.7 682.7,220.0 669.9,218.4 676.9,223.2" fill="url(#g791)" stroke="#773a37"/>
<polygon points="708.7,234.5 714.6,242.4 724.8,243.7 719.9,235.9" fill="url(#g792)" stroke="#26252b"/>
<polygon points="724.8,243.7 729.2,252.1 738.3,253.3 735.0,245.0" fill="url(#g793)" stroke="#242430"/>
<polygon points="765.0,276.6 769.4,270.6 762.7,269.7 759.8,275.9" fill="url(#g794)" stroke="#1f172e"/>
<polygon points="707.3,232.7 701.3,226.3 689.1,224.7 695.8,231.2" fill="url(#g795)" stroke="#352929"/>
<polygon points="748.5,260.5 746.9,252.4 737.5,251.2 740.4,259.4" fill="#312f43" stroke="#242430"/>
<polygon points="723.6,241.7 718.7,234.1 707.3,232.7 713.1,240.4" fill="url(#g796)" stroke="#272529"/>
<polygon points="737.5,251.2 734.1,243.0 723.6,241.7 728.2,250.0" fill="url(#g797)" stroke="#242430"/>
<polygon points="756.5,263.4 755.8,270.6 762.1,271.4 764.3,264.4" fill="url(#g798)" stroke="#261d39"/>
<polygon points="645.8,213.7 652.0,214.6 665.0,216.2 659.0,215.4" fill="url(#g799)" stroke="#e35f34"/>
<polygon points="762.7,269.7 764.7,262.5 756.6,261.5 756.0,268.9" fill="url(#g800)" stroke="#261e37"/>
<polygon points="665.0,216.2 671.6,219.4 684.3,221.0 678.0,217.9" fill="url(#g801)" stroke="#d3583d"/>
<polygon points="663.4,215.8 657.6,215.5 644.3,213.9 650.3,214.1" fill="url(#g802)" stroke="#e56434"/>
<polygon points="747.4,254.4 748.8,262.4 756.5,263.4 756.4,255.5" fill="url(#g803)" stroke="#242331"/>
<polygon points="684.3,221.0 690.8,226.2 702.8,227.7 696.9,222.6" fill="url(#g804)" stroke="#5e3332"/>
<polygon points="682.7,220.0 676.5,217.4 663.4,215.8 669.9,218.4" fill="url(#g805)" stroke="#d85a36"/>
<polygon points="735.0,245.0 738.3,253.3 747.4,254.4 745.2,246.3" fill="#34343f" stroke="#242430"/>
<polygon points="764.3,264.4 762.1,271.4 768.4,272.2 772.0,265.4" fill="url(#g806)" stroke="#251c37"/>
<polygon points="756.6,261.5 756.2,253.5 746.9,252.4 748.5,260.5" fill="#302f41" stroke="#242430"/>
<polygon points="702.8,227.7 708.7,234.5 719.9,235.9 714.8,229.2" fill="url(#g807)" stroke="#2d2726"/>
<polygon points="719.9,235.9 724.8,243.7 735.0,245.0 731.1,237.3" fill="url(#g808)" stroke="#26252b"/>
<polygon points="701.3,226.3 695.4,221.6 682.7,220.0 689.1,224.7" fill="url(#g809)" stroke="#723836"/>
<polygon points="746.9,252.4 744.6,244.3 734.1,243.0 737.5,251.2" fill="#35363e" stroke="#242430"/>
<polygon points="718.7,234.1 713.5,227.8 701.3,226.3 707.3,232.7" fill="url(#g810)" stroke="#312827"/>
<polygon points="734.1,243.0 730.1,235.6 718.7,234.1 723.6,241.7" fill="url(#g811)" stroke="#272529"/>
<polygon points="769.4,270.6 772.8,263.5 764.7,262.5 762.7,269.7" fill="url(#g812)" stroke="#261e37"/>
<polygon points="640.5,215.3 645.8,213.7 659.0,215.4 653.7,217.0" fill="url(#g813)" stroke="#e87333"/>
<polygon points="756.4,255.5 756.5,263.4 764.3,264.4 765.5,256.7" fill="url(#g814)" stroke="#242331"/>
<polygon points="659.0,215.4 665.0,216.2 678.0,217.9 672.2,217.0" fill="url(#g815)" stroke="#e25f34"/>
<polygon points="657.6,215.5 652.5,217.8 639.3,216.1 644.3,213.9" fill="url(#g816)" stroke="#e97832"/>
<polygon points="764.7,262.5 765.6,254.7 756.2,253.5 756.6,261.5" fill="#2f2f44" stroke="#242430"/>
<polygon points="745.2,246.3 747.4,254.4 756.4,255.5 755.4,247.6" fill="#32333e" stroke="#242430"/>
<polygon points="678.0,217.9 684.3,221.0 696.9,222.6 691.1,219.5" fill="url(#g817)" stroke="#d2573c"/>
<polygon points="676.5,217.4 670.8,217.2 657.6,215.5 663.4,215.8" fill="url(#g818)" stroke="#e56234"/>
<polygon points="696.9,222.6 702.8,227.7 714.8,229.2 709.5,224.2" fill="url(#g819)" stroke="#553130"/>
<polygon points="731.1,237.3 735.0,245.0 745.2,246.3 742.4,238.7" fill="url(#g820)" stroke="#26252a"/>
<polygon points="714.8,229.2 719.9,235.9 731.1,237.3 726.8,230.8" fill="url(#g821)" stroke="#2a2724"/>
<polygon points="695.4,221.6 689.6,219.1 676.5,217.4 682.7,220.0" fill="url(#g822)" stroke="#d75936"/>
<polygon points="756.2,253.5 755.0,245.7 744.6,244.3 746.9,252.4" fill="#33353c" stroke="#242430"/>
<polygon points="713.5,227.8 708.2,223.2 695.4,221.6 701.3,226.3" fill="url(#g823)" stroke="#6a3634"/>
<polygon points="765.5,256.7 764.3,264.4 772.0,265.4 774.5,257.8" fill="#2e2c45" stroke="#252232"/>
<polygon points="744.6,244.3 741.5,237.0 730.1,235.6 734.1,243.0" fill="url(#g824)" stroke="#272627"/>
<polygon points="730.1,235.6 725.7,229.3 713.5,227.8 718.7,234.1" fill="url(#g825)" stroke="#2d2825"/>
<polygon points="636.2,219.4 640.5,215.3 653.7,217.0 649.2,221.1" fill="url(#g826)" stroke="#ea862f"/>
<polygon points="772.8,263.5 775.0,255.9 765.6,254.7 764.7,262.5" fill="#2e2d45" stroke="#242331"/>
<polygon points="653.7,217.0 659.0,215.4 672.2,217.0 666.9,218.7" fill="url(#g827)" stroke="#e87233"/>
<polygon points="652.5,217.8 648.2,222.4 635.3,220.8 639.3,216.1" fill="url(#g828)" stroke="#ea882f"/>
<polygon points="755.4,247.6 756.4,255.5 765.5,256.7 765.6,248.9" fill="url(#g829)" stroke="#242430"/>
<polygon points="672.2,217.0 678.0,217.9 691.1,219.5 685.4,218.7" fill="url(#g830)" stroke="#e25e34"/>
<polygon points="670.8,217.2 665.6,219.4 652.5,217.8 657.6,215.5" fill="url(#g831)" stroke="#e97632"/>
<polygon points="742.4,238.7 745.2,246.3 755.4,247.6 753.6,240.2" fill="url(#g832)" stroke="#262627"/>
<polygon points="691.1,219.5 696.9,222.6 709.5,224.2 704.1,221.1" fill="url(#g833)" stroke="#d1573c"/>
<polygon points="765.6,254.7 765.5,247.0 755.0,245.7 756.2,253.5" fill="url(#g834)" stroke="#242430"/>
<polygon points="689.6,219.1 684.1,218.9 670.8,217.2 676.5,217.4" fill="url(#g835)" stroke="#e46134"/>
<polygon points="709.5,224.2 714.8,229.2 726.8,230.8 722.1,225.8" fill="url(#g836)" stroke="#4b2e2d"/>
<polygon points="726.8,230.8 731.1,237.3 742.4,238.7 738.9,232.3" fill="url(#g837)" stroke="#292722"/>
<polygon points="708.2,223.2 702.7,220.7 689.6,219.1 695.4,221.6" fill="url(#g838)" stroke="#d65936"/>
<polygon points="755.0,245.7 753.0,238.4 741.5,237.0 744.6,244.3" fill="#383a34" stroke="#272722"/>
<polygon points="725.7,229.3 720.9,224.8 708.2,223.2 713.5,227.8" fill="url(#g839)" stroke="#5f3332"/>
<polygon points="741.5,237.0 737.9,230.9 725.7,229.3 730.1,235.6" fill="url(#g840)" stroke="#2a2722"/>
<polygon points="633.1,225.8 636.2,219.4 649.2,221.1 645.6,227.3" fill="#ffd532" stroke="#ea892f"/>
<polygon points="765.6,248.9 765.5,256.7 774.5,257.8 775.9,250.2" fill="url(#g841)" stroke="#242430"/>
<polygon points="649.2,221.1 653.7,217.0 666.9,218.7 662.1,222.7" fill="url(#g842)" stroke="#ea8430"/>
<polygon points="648.2,222.4 644.8,229.2 632.5,227.7 635.3,220.8" fill="#ffd433" stroke="#ea892f"/>
<polygon points="666.9,218.7 672.2,217.0 685.4,218.7 680.1,220.3" fill="url(#g843)" stroke="#e87033"/>
<polygon points="665.6,219.4 661.1,224.0 648.2,222.4 652.5,217.8" fill="url(#g844)" stroke="#ea862f"/>
<polygon points="775.0,255.9 776.0,248.3 765.5,247.0 765.6,254.7" fill="url(#g845)" stroke="#242330"/>
<polygon points="753.6,240.2 755.4,247.6 765.6,248.9 764.8,241.6" fill="url(#g846)" stroke="#272720"/>
<polygon points="685.4,218.7 691.1,219.5 704.1,221.1 698.6,220.4" fill="url(#g847)" stroke="#e25e34"/>
<polygon points="684.1,218.9 678.8,221.1 665.6,219.4 670.8,217.2" fill="url(#g848)" stroke="#e97532"/>
<polygon points="704.1,221.1 709.5,224.2 722.1,225.8 717.1,222.8" fill="url(#g849)" stroke="#cf563c"/>
<polygon points="738.9,232.3 742.4,238.7 753.6,240.2 750.9,233.8" fill="url(#g850)" stroke="#28281f"/>
<polygon points="722.1,225.8 726.8,230.8 738.9,232.3 734.8,227.4" fill="url(#g851)" stroke="#3d2b29"/>
<polygon points="702.7,220.7 697.3,220.6 684.1,218.9 689.6,219.1" fill="url(#g852)" stroke="#e46033"/>
<polygon points="765.5,247.0 764.4,239.9 753.0,238.4 755.0,245.7" fill="#35362f" stroke="#28281f"/>
<polygon points="631.1,234.0 633.1,225.8 645.6,227.3 642.9,235.5" fill="url(#g853)" stroke="#ea852f"/>
<polygon points="720.9,224.8 715.8,222.4 702.7,220.7 708.2,223.2" fill="url(#g854)" stroke="#d5583c"/>
<polygon points="753.0,238.4 750.1,232.4 737.9,230.9 741.5,237.0" fill="url(#g855)" stroke="#28281f"/>
<polygon points="737.9,230.9 733.7,226.4 720.9,224.8 725.7,229.3" fill="url(#g856)" stroke="#4f2f2d"/>
<polygon points="645.6,227.3 649.2,221.1 662.1,222.7 658.1,228.9" fill="url(#g857)" stroke="#ea882f"/>
<polygon points="644.8,229.2 642.4,237.8 630.8,236.3 632.5,227.7" fill="url(#g858)" stroke="#ea8330"/>
<polygon points="662.1,222.7 666.9,218.7 680.1,220.3 675.1,224.3" fill="url(#g859)" stroke="#ea8330"/>
<polygon points="661.1,224.0 657.2,230.8 644.8,229.2 648.2,222.4" fill="#fed132" stroke="#ea882f"/>
<polygon points="764.8,241.6 765.6,248.9 775.9,250.2 776.0,243.0" fill="url(#g860)" stroke="#262527"/>
<polygon points="680.1,220.3 685.4,218.7 698.6,220.4 693.3,222.0" fill="url(#g861)" stroke="#e86f33"/>
<polygon points="678.8,221.1 673.9,225.7 661.1,224.0 665.6,219.4" fill="url(#g862)" stroke="#ea852f"/>
<polygon points="698.6,220.4 704.1,221.1 717.1,222.8 711.9,222.0" fill="url(#g863)" stroke="#e15e34"/>
<polygon points="750.9,233.8 753.6,240.2 764.8,241.6 762.9,235.3" fill="url(#g864)" stroke="#28281e"/>
<polygon points="697.3,220.6 691.9,222.8 678.8,221.1 684.1,218.9" fill="url(#g865)" stroke="#e97432"/>
<polygon points="776.0,248.3 775.8,241.3 764.4,239.9 765.5,247.0" fill="url(#g866)" stroke="#272623"/>
<polygon points="717.1,222.8 722.1,225.8 734.8,227.4 730.2,224.4" fill="url(#g867)" stroke="#cc553c"/>
<polygon points="734.8,227.4 738.9,232.3 750.9,233.8 747.4,229.0" fill="url(#g868)" stroke="#302924"/>
<polygon points="630.2,243.7 631.1,234.0 642.9,235.5 641.2,245.1" fill="url(#g869)" stroke="#e97633"/>
<polygon points="715.8,222.4 710.5,222.2 697.3,220.6 702.7,220.7" fill="url(#g870)" stroke="#e45f33"/>
<polygon points="642.9,235.5 645.6,227.3 658.1,228.9 654.7,237.0" fill="url(#g871)" stroke="#ea852f"/>
<polygon points="764.4,239.9 762.3,233.9 750.1,232.4 753.0,238.4" fill="url(#g872)" stroke="#28281e"/>
<polygon points="733.7,226.4 728.9,224.0 715.8,222.4 720.9,224.8" fill="url(#g873)" stroke="#d3583c"/>
<polygon points="642.4,237.8 641.0,247.7 630.2,246.3 630.8,236.3" fill="url(#g874)" stroke="#e97433"/>
<polygon points="750.1,232.4 746.4,228.0 733.7,226.4 737.9,230.9" fill="url(#g875)" stroke="#3d2b28"/>
<polygon points="658.1,228.9 662.1,222.7 675.1,224.3 670.6,230.5" fill="url(#g876)" stroke="#ea872f"/>
<polygon points="657.2,230.8 654.0,239.3 642.4,237.8 644.8,229.2" fill="url(#g877)" stroke="#ea8230"/>
<polygon points="673.9,225.7 669.5,232.3 657.2,230.8 661.1,224.0" fill="#fed032" stroke="#ea872f"/>
<polygon points="675.1,224.3 680.1,220.3 693.3,222.0 688.0,225.9" fill="url(#g878)" stroke="#ea8230"/>
<polygon points="691.9,222.8 686.8,227.3 673.9,225.7 678.8,221.1" fill="url(#g879)" stroke="#ea852f"/>
<polygon points="693.3,222.0 698.6,220.4 711.9,222.0 706.5,223.6" fill="url(#g880)" stroke="#e86e33"/>
<polygon points="762.9,235.3 764.8,241.6 776.0,243.0 774.9,236.8" fill="url(#g881)" stroke="#28281e"/>
<polygon points="630.6,254.4 630.2,243.7 641.2,245.1 640.5,255.6" fill="url(#g882)" stroke="#e96c35"/>
<polygon points="711.9,222.0 717.1,222.8 730.2,224.4 725.1,223.7" fill="url(#g883)" stroke="#e05d34"/>
<polygon points="641.2,245.1 642.9,235.5 654.7,237.0 652.2,246.5" fill="url(#g884)" stroke="#e97633"/>
<polygon points="710.5,222.2 705.1,224.4 691.9,222.8 697.3,220.6" fill="url(#g885)" stroke="#e97332"/>
<polygon points="747.4,229.0 750.9,233.8 762.9,235.3 760.0,230.5" fill="url(#g886)" stroke="#2a2820"/>
<polygon points="730.2,224.4 734.8,227.4 747.4,229.0 743.2,226.1" fill="url(#g887)" stroke="#c7543b"/>
<polygon points="641.0,247.7 640.5,258.3 630.9,257.1 630.2,246.3" fill="url(#g888)" stroke="#e96a35"/>
<polygon points="654.7,237.0 658.1,228.9 670.6,230.5 666.6,238.5" fill="url(#g889)" stroke="#ea842f"/>
<polygon points="775.8,241.3 774.5,235.5 762.3,233.9 764.4,239.9" fill="url(#g890)" stroke="#28281e"/>
<polygon points="654.0,239.3 651.7,249.0 641.0,247.7 642.4,237.8" fill="url(#g891)" stroke="#e97433"/>
<polygon points="728.9,224.0 723.8,223.9 710.5,222.2 715.8,222.4" fill="url(#g892)" stroke="#e35f33"/>
<polygon points="762.3,233.9 759.2,229.6 746.4,228.0 750.1,232.4" fill="url(#g893)" stroke="#2f2923"/>
<polygon points="746.4,228.0 742.0,225.7 728.9,224.0 733.7,226.4" fill="url(#g894)" stroke="#cf563c"/>
<polygon points="669.5,232.3 665.7,240.7 654.0,239.3 657.2,230.8" fill="url(#g895)" stroke="#ea8130"/>
<polygon points="670.6,230.5 675.1,224.3 688.0,225.9 683.1,232.1" fill="url(#g896)" stroke="#ea872f"/>
<polygon points="686.8,227.3 681.9,233.9 669.5,232.3 673.9,225.7" fill="#ffcf32" stroke="#ea872f"/>
<polygon points="688.0,225.9 693.3,222.0 706.5,223.6 701.0,227.6" fill="url(#g897)" stroke="#ea8230"/>
<polygon points="632.2,265.3 630.6,254.4 640.5,255.6 640.9,266.4" fill="url(#g898)" stroke="#e96435"/>
<polygon points="640.5,255.6 641.2,245.1 652.2,246.5 650.5,256.9" fill="url(#g899)" stroke="#e96d35"/>
<polygon points="705.1,224.4 699.6,228.9 686.8,227.3 691.9,222.8" fill="url(#g900)" stroke="#ea842f"/>
<polygon points="706.5,223.6 711.9,222.0 725.1,223.7 719.7,225.3" fill="url(#g901)" stroke="#e86c33"/>
<polygon points="652.2,246.5 654.7,237.0 666.6,238.5 663.2,247.9" fill="url(#g902)" stroke="#e97633"/>
<polygon points="651.7,249.0 650.2,259.5 640.5,258.3 641.0,247.7" fill="url(#g903)" stroke="#e96b35"/>
<polygon points="640.5,258.3 641.1,269.0 632.7,268.0 630.9,257.1" fill="url(#g904)" stroke="#e96235"/>
<polygon points="760.0,230.5 762.9,235.3 774.9,236.8 772.7,232.1" fill="url(#g905)" stroke="#29281f"/>
<polygon points="725.1,223.7 730.2,224.4 743.2,226.1 738.3,225.4" fill="url(#g906)" stroke="#df5c34"/>
<polygon points="723.8,223.9 718.3,226.1 705.1,224.4 710.5,222.2" fill="url(#g907)" stroke="#e87132"/>
<polygon points="665.7,240.7 662.4,250.4 651.7,249.0 654.0,239.3" fill="url(#g908)" stroke="#e97433"/>
<polygon points="743.2,226.1 747.4,229.0 760.0,230.5 756.2,227.7" fill="url(#g909)" stroke="#c2523a"/>
<polygon points="666.6,238.5 670.6,230.5 683.1,232.1 678.4,240.0" fill="url(#g910)" stroke="#ea8430"/>
<polygon points="742.0,225.7 737.0,225.6 723.8,223.9 728.9,224.0" fill="url(#g911)" stroke="#e25e33"/>
<polygon points="774.5,235.5 771.9,231.3 759.2,229.6 762.3,233.9" fill="url(#g912)" stroke="#2c2821"/>
<polygon points="681.9,233.9 677.3,242.2 665.7,240.7 669.5,232.3" fill="url(#g913)" stroke="#ea8130"/>
<polygon points="759.2,229.6 755.1,227.3 742.0,225.7 746.4,228.0" fill="url(#g914)" stroke="#cb553b"/>
<polygon points="683.1,232.1 688.0,225.9 701.0,227.6 695.6,233.6" fill="#fece32" stroke="#ea862f"/>
<polygon points="640.9,266.4 640.5,255.6 650.5,256.9 649.6,267.5" fill="url(#g915)" stroke="#e96535"/>
<polygon points="634.9,275.8 632.2,265.3 640.9,266.4 642.3,276.7" fill="url(#g916)" stroke="#e96135"/>
<polygon points="699.6,228.9 694.2,235.4 681.9,233.9 686.8,227.3" fill="#ffcd33" stroke="#ea862f"/>
<polygon points="650.5,256.9 652.2,246.5 663.2,247.9 660.4,258.1" fill="url(#g917)" stroke="#e96c35"/>
<polygon points="650.2,259.5 649.6,270.1 641.1,269.0 640.5,258.3" fill="url(#g918)" stroke="#e96335"/>
<polygon points="701.0,227.6 706.5,223.6 719.7,225.3 714.0,229.2" fill="url(#g919)" stroke="#ea8030"/>
<polygon points="641.1,269.0 642.8,279.2 635.7,278.3 632.7,268.0" fill="url(#g920)" stroke="#e96135"/>
<polygon points="662.4,250.4 659.8,260.7 650.2,259.5 651.7,249.0" fill="url(#g921)" stroke="#e96b35"/>
<polygon points="663.2,247.9 666.6,238.5 678.4,240.0 674.2,249.3" fill="url(#g922)" stroke="#e97633"/>
<polygon points="718.3,226.1 712.5,230.5 699.6,228.9 705.1,224.4" fill="url(#g923)" stroke="#ea832f"/>
<polygon points="719.7,225.3 725.1,223.7 738.3,225.4 732.9,227.0" fill="url(#g924)" stroke="#e76a33"/>
<polygon points="677.3,242.2 673.2,251.7 662.4,250.4 665.7,240.7" fill="url(#g925)" stroke="#e97433"/>
<polygon points="738.3,225.4 743.2,226.1 756.2,227.7 751.5,227.0" fill="url(#g926)" stroke="#de5c34"/>
<polygon points="678.4,240.0 683.1,232.1 695.6,233.6 690.2,241.5" fill="url(#g927)" stroke="#ea8230"/>
<polygon points="756.2,227.7 760.0,230.5 772.7,232.1 769.3,229.3" fill="url(#g928)" stroke="#be5139"/>
<polygon points="737.0,225.6 731.4,227.7 718.3,226.1 723.8,223.9" fill="url(#g929)" stroke="#e86f32"/>
<polygon points="642.3,276.7 640.9,266.4 649.6,267.5 649.7,277.7" fill="url(#g930)" stroke="#e96135"/>
<polygon points="649.6,267.5 650.5,256.9 660.4,258.1 658.4,268.6" fill="url(#g931)" stroke="#e96535"/>
<polygon points="694.2,235.4 688.9,243.7 677.3,242.2 681.9,233.9" fill="url(#g932)" stroke="#ea7d31"/>
<polygon points="755.1,227.3 750.2,227.2 737.0,225.6 742.0,225.7" fill="url(#g933)" stroke="#e15d33"/>
<polygon points="638.7,285.4 634.9,275.8 642.3,276.7 644.6,286.1" fill="url(#g934)" stroke="#e55e36"/>
<polygon points="649.6,270.1 649.8,280.1 642.8,279.2 641.1,269.0" fill="url(#g935)" stroke="#e86135"/>
<polygon points="771.9,231.3 768.2,229.0 755.1,227.3 759.2,229.6" fill="url(#g936)" stroke="#c8543b"/>
<polygon points="659.8,260.7 658.0,271.1 649.6,270.1 650.2,259.5" fill="url(#g937)" stroke="#e96235"/>
<polygon points="695.6,233.6 701.0,227.6 714.0,229.2 708.1,235.2" fill="#fecc32" stroke="#ea862f"/>
<polygon points="660.4,258.1 663.2,247.9 674.2,249.3 670.4,259.4" fill="url(#g938)" stroke="#e96d35"/>
<polygon points="642.8,279.2 645.4,288.3 639.8,287.6 635.7,278.3" fill="url(#g939)" stroke="#e55e36"/>
<polygon points="673.2,251.7 669.5,261.9 659.8,260.7 662.4,250.4" fill="url(#g940)" stroke="#e96b35"/>
<polygon points="712.5,230.5 706.6,237.0 694.2,235.4 699.6,228.9" fill="#ffcc33" stroke="#ea852f"/>
<polygon points="714.0,229.2 719.7,225.3 732.9,227.0 726.9,230.8" fill="url(#g941)" stroke="#ea7d31"/>
<polygon points="674.2,249.3 678.4,240.0 690.2,241.5 685.1,250.7" fill="url(#g942)" stroke="#e97533"/>
<polygon points="649.7,277.7 649.6,267.5 658.4,268.6 657.1,278.6" fill="url(#g943)" stroke="#e96135"/>
<polygon points="644.6,286.1 642.3,276.7 649.7,277.7 650.6,286.9" fill="url(#g944)" stroke="#e55e36"/>
<polygon points="688.9,243.7 683.9,253.1 673.2,251.7 677.3,242.2" fill="url(#g945)" stroke="#e97333"/>
<polygon points="731.4,227.7 725.4,232.1 712.5,230.5 718.3,226.1" fill="url(#g946)" stroke="#ea8130"/>
<polygon points="732.9,227.0 738.3,225.4 751.5,227.0 746.1,228.6" fill="url(#g947)" stroke="#e76832"/>
<polygon points="658.0,271.1 656.9,281.0 649.8,280.1 649.6,270.1" fill="url(#g948)" stroke="#e86135"/>
<polygon points="658.4,268.6 660.4,258.1 670.4,259.4 667.1,269.7" fill="url(#g949)" stroke="#e96535"/>
<polygon points="649.8,280.1 650.9,289.0 645.4,288.3 642.8,279.2" fill="url(#g950)" stroke="#e45e36"/>
<polygon points="643.6,293.5 638.7,285.4 644.6,286.1 648.0,294.0" fill="url(#g951)" stroke="#e25c3c"/>
<polygon points="690.2,241.5 695.6,233.6 708.1,235.2 702.1,243.0" fill="url(#g952)" stroke="#ea8130"/>
<polygon points="751.5,227.0 756.2,227.7 769.3,229.3 764.8,228.7" fill="url(#g953)" stroke="#dd5b34"/>
<polygon points="669.5,261.9 666.4,272.2 658.0,271.1 659.8,260.7" fill="url(#g954)" stroke="#e96335"/>
<polygon points="750.2,227.2 744.6,229.4 731.4,227.7 737.0,225.6" fill="url(#g955)" stroke="#e86d32"/>
<polygon points="645.4,288.3 649.0,295.7 645.0,295.2 639.8,287.6" fill="url(#g956)" stroke="#e15b3c"/>
<polygon points="706.6,237.0 700.6,245.1 688.9,243.7 694.2,235.4" fill="url(#g957)" stroke="#ea7c32"/>
<polygon points="670.4,259.4 674.2,249.3 685.1,250.7 680.3,260.6" fill="url(#g958)" stroke="#e96c35"/>
<polygon points="768.2,229.0 763.5,228.9 750.2,227.2 755.1,227.3" fill="url(#g959)" stroke="#e05d33"/>
<polygon points="650.6,286.9 649.7,277.7 657.1,278.6 656.5,287.6" fill="url(#g960)" stroke="#e55e36"/>
<polygon points="683.9,253.1 679.2,263.2 669.5,261.9 673.2,251.7" fill="url(#g961)" stroke="#e96b35"/>
<polygon points="708.1,235.2 714.0,229.2 726.9,230.8 720.6,236.8" fill="url(#g962)" stroke="#ea852f"/>
<polygon points="648.0,294.0 644.6,286.1 650.6,286.9 652.4,294.6" fill="url(#g963)" stroke="#e15b3c"/>
<polygon points="657.1,278.6 658.4,268.6 667.1,269.7 664.5,279.5" fill="url(#g964)" stroke="#e96135"/>
<polygon points="656.9,281.0 656.5,289.7 650.9,289.0 649.8,280.1" fill="url(#g965)" stroke="#e45d36"/>
<polygon points="650.9,289.0 652.9,296.2 649.0,295.7 645.4,288.3" fill="url(#g966)" stroke="#e15b3c"/>
<polygon points="666.4,272.2 663.9,281.9 656.9,281.0 658.0,271.1" fill="url(#g967)" stroke="#e96135"/>
<polygon points="725.4,232.1 718.9,238.6 706.6,237.0 712.5,230.5" fill="#feca33" stroke="#ea852f"/>
<polygon points="685.1,250.7 690.2,241.5 702.1,243.0 696.1,252.0" fill="url(#g968)" stroke="#e97433"/>
<polygon points="649.5,299.6 643.6,293.5 648.0,294.0 652.2,299.9" fill="url(#g969)" stroke="#dd5c43"/>
<polygon points="667.1,269.7 670.4,259.4 680.3,260.6 675.9,270.8" fill="url(#g970)" stroke="#e96535"/>
<polygon points="700.6,245.1 694.6,254.4 683.9,253.1 688.9,243.7" fill="url(#g971)" stroke="#e97233"/>
<polygon points="726.9,230.8 732.9,227.0 746.1,228.6 739.9,232.5" fill="url(#g972)" stroke="#e97932"/>
<polygon points="679.2,263.2 674.8,273.3 666.4,272.2 669.5,261.9" fill="url(#g973)" stroke="#e96335"/>
<polygon points="652.4,294.6 650.6,286.9 656.5,287.6 656.7,295.1" fill="url(#g974)" stroke="#e15b3c"/>
<polygon points="649.0,295.7 653.4,301.0 651.1,300.7 645.0,295.2" fill="url(#g975)" stroke="#dc5b41"/>
<polygon points="656.5,287.6 657.1,278.6 664.5,279.5 662.4,288.4" fill="url(#g976)" stroke="#e55e36"/>
<polygon points="744.6,229.4 738.2,233.8 725.4,232.1 731.4,227.7" fill="url(#g977)" stroke="#ea7d31"/>
<polygon points="656.5,289.7 656.9,296.7 652.9,296.2 650.9,289.0" fill="url(#g978)" stroke="#e15b3c"/>
<polygon points="652.2,299.9 648.0,294.0 652.4,294.6 655.0,300.3" fill="url(#g979)" stroke="#dd5b40"/>
<polygon points="663.9,281.9 662.0,290.4 656.5,289.7 656.9,281.0" fill="url(#g980)" stroke="#e45e36"/>
<polygon points="746.1,228.6 751.5,227.0 764.8,228.7 759.3,230.3" fill="url(#g981)" stroke="#e76632"/>
<polygon points="702.1,243.0 708.1,235.2 720.6,236.8 713.9,244.5" fill="url(#g982)" stroke="#ea8030"/>
<polygon points="680.3,260.6 685.1,250.7 696.1,252.0 690.3,261.9" fill="url(#g983)" stroke="#e96b35"/>
<polygon points="664.5,279.5 667.1,269.7 675.9,270.8 671.9,280.5" fill="url(#g984)" stroke="#e96135"/>
<polygon points="652.9,296.2 655.7,301.3 653.4,301.0 649.0,295.7" fill="url(#g985)" stroke="#dd5a3f"/>
<polygon points="718.9,238.6 712.2,246.6 700.6,245.1 706.6,237.0" fill="url(#g986)" stroke="#ea7b32"/>
<polygon points="694.6,254.4 688.8,264.4 679.2,263.2 683.9,253.1" fill="url(#g987)" stroke="#e96a35"/>
<polygon points="674.8,273.3 670.9,282.8 663.9,281.9 666.4,272.2" fill="url(#g988)" stroke="#e96135"/>
<polygon points="763.5,228.9 757.7,231.0 744.6,229.4 750.2,227.2" fill="url(#g989)" stroke="#e86b32"/>
<polygon points="656.7,295.1 656.5,287.6 662.4,288.4 661.1,295.7" fill="url(#g990)" stroke="#e15b3c"/>
<polygon points="655.0,300.3 652.4,294.6 656.7,295.1 657.7,300.6" fill="url(#g991)" stroke="#de5a3e"/>
<polygon points="656.3,303.3 649.5,299.6 652.2,299.9 657.3,303.5" fill="url(#g992)" stroke="#d55843"/>
<polygon points="662.0,290.4 660.9,297.2 656.9,296.7 656.5,289.7" fill="url(#g993)" stroke="#e15b3c"/>
<polygon points="656.9,296.7 658.1,301.6 655.7,301.3 652.9,296.2" fill="url(#g994)" stroke="#dd593d"/>
<polygon points="662.4,288.4 664.5,279.5 671.9,280.5 668.4,289.1" fill="url(#g995)" stroke="#e55e36"/>
<polygon points="720.6,236.8 726.9,230.8 739.9,232.5 733.1,238.4" fill="url(#g996)" stroke="#ea8130"/>
<polygon points="675.9,270.8 680.3,260.6 690.3,261.9 684.6,271.9" fill="url(#g997)" stroke="#e96535"/>
<polygon points="653.4,301.0 658.7,304.0 658.1,303.9 651.1,300.7" fill="url(#g998)" stroke="#d45844"/>
<polygon points="657.3,303.5 652.2,299.9 655.0,300.3 658.4,303.6" fill="url(#g999)" stroke="#d55843"/>
<polygon points="670.9,282.8 667.6,291.1 662.0,290.4 663.9,281.9" fill="url(#g1000)" stroke="#e45e36"/>
<polygon points="696.1,252.0 702.1,243.0 713.9,244.5 707.1,253.4" fill="url(#g1001)" stroke="#e97433"/>
<polygon points="657.7,300.6 656.7,295.1 661.1,295.7 660.4,300.9" fill="url(#g1002)" stroke="#de593d"/>
<polygon points="688.8,264.4 683.2,274.3 674.8,273.3 679.2,263.2" fill="url(#g1003)" stroke="#e96335"/>
<polygon points="738.2,233.8 731.3,240.1 718.9,238.6 725.4,232.1" fill="#f9c534" stroke="#ea8130"/>
<polygon points="655.7,301.3 659.4,304.1 658.7,304.0 653.4,301.0" fill="url(#g1004)" stroke="#d45843"/>
<polygon points="660.9,297.2 660.4,301.9 658.1,301.6 656.9,296.7" fill="url(#g1005)" stroke="#de593d"/>
<polygon points="658.4,303.6 655.0,300.3 657.7,300.6 659.4,303.7" fill="url(#g1006)" stroke="#d55843"/>
<polygon points="712.2,246.6 705.4,255.8 694.6,254.4 700.6,245.1" fill="url(#g1007)" stroke="#e97233"/>
<polygon points="661.1,295.7 662.4,288.4 668.4,289.1 665.5,296.2" fill="url(#g1008)" stroke="#e15b3c"/>
<polygon points="667.6,291.1 664.8,297.7 660.9,297.2 662.0,290.4" fill="url(#g1009)" stroke="#e15b3c"/>
<polygon points="658.1,301.6 660.0,304.1 659.4,304.1 655.7,301.3" fill="url(#g1010)" stroke="#d55743"/>
<polygon points="671.9,280.5 675.9,270.8 684.6,271.9 679.3,281.4" fill="url(#g1011)" stroke="#e96135"/>
<polygon points="659.4,303.7 657.7,300.6 660.4,300.9 660.5,303.9" fill="url(#g1012)" stroke="#d65742"/>
<polygon points="739.9,232.5 746.1,228.6 759.3,230.3 752.8,234.1" fill="url(#g1013)" stroke="#e97732"/>
<polygon points="683.2,274.3 678.0,283.6 670.9,282.8 674.8,273.3" fill="url(#g1014)" stroke="#e86135"/>
<polygon points="660.4,300.9 661.1,295.7 665.5,296.2 663.2,301.3" fill="url(#g1015)" stroke="#de593d"/>
<polygon points="660.4,301.9 660.6,304.2 660.0,304.1 658.1,301.6" fill="url(#g1016)" stroke="#d55742"/>
<polygon points="664.8,297.7 662.7,302.2 660.4,301.9 660.9,297.2" fill="url(#g1017)" stroke="#dd593d"/>
<polygon points="663.8,304.6 656.3,303.3 657.3,303.5 663.2,304.5" fill="url(#g1018)" stroke="#d55640"/>
<polygon points="663.2,304.5 657.3,303.5 658.4,303.6 662.5,304.5" fill="url(#g1019)" stroke="#d65640"/>
<polygon points="690.3,261.9 696.1,252.0 707.1,253.4 700.2,263.1" fill="url(#g1020)" stroke="#e96b35"/>
<polygon points="660.5,303.9 660.4,300.9 663.2,301.3 661.6,304.0" fill="url(#g1021)" stroke="#d65740"/>
<polygon points="662.5,304.5 658.4,303.6 659.4,303.7 661.9,304.4" fill="#70235a" stroke="#d6563f"/>
<polygon points="662.7,302.2 661.3,304.3 660.6,304.2 660.4,301.9" fill="#72265a" stroke="#d6563f"/>
<polygon points="668.4,289.1 671.9,280.5 679.3,281.4 674.3,289.9" fill="url(#g1022)" stroke="#e55e36"/>
<polygon points="661.9,304.4 659.4,303.7 660.5,303.9 661.3,304.3" fill="#6f235a" stroke="#d6563f"/>
<polygon points="757.7,231.0 751.1,235.4 738.2,233.8 744.6,229.4" fill="url(#g1023)" stroke="#ea7a31"/>
<polygon points="661.3,304.3 660.5,303.9 661.6,304.0 660.6,304.2" fill="#6f2359" stroke="#d6563f"/>
<polygon points="678.0,283.6 673.1,291.8 667.6,291.1 670.9,282.8" fill="url(#g1024)" stroke="#e45d36"/>
<polygon points="660.6,304.2 661.6,304.0 662.6,304.1 660.0,304.1" fill="#6f2359" stroke="#d6563e"/>
<polygon points="713.9,244.5 720.6,236.8 733.1,238.4 725.7,245.9" fill="url(#g1025)" stroke="#ea7a32"/>
<polygon points="705.4,255.8 698.5,265.6 688.8,264.4 694.6,254.4" fill="url(#g1026)" stroke="#e96935"/>
<polygon points="660.0,304.1 662.6,304.1 663.7,304.3 659.4,304.1" fill="#6f2359" stroke="#d6563e"/>
<polygon points="659.4,304.1 663.7,304.3 664.7,304.4 658.7,304.0" fill="url(#g1027)" stroke="#d7563d"/>
<polygon points="658.7,304.0 664.7,304.4 665.8,304.5 658.1,303.9" fill="url(#g1028)" stroke="#d7563d"/>
<polygon points="665.0,302.5 661.9,304.4 661.3,304.3 662.7,302.2" fill="#712657" stroke="#d7563d"/>
<polygon points="665.5,296.2 668.4,289.1 674.3,289.9 669.8,296.8" fill="url(#g1029)" stroke="#e15b3c"/>
<polygon points="661.6,304.0 663.2,301.3 665.9,301.6 662.6,304.1" fill="url(#g1030)" stroke="#d8563d"/>
<polygon points="673.1,291.8 668.8,298.2 664.8,297.7 667.6,291.1" fill="url(#g1031)" stroke="#e05b3c"/>
<polygon points="668.8,298.2 665.0,302.5 662.7,302.2 664.8,297.7" fill="url(#g1032)" stroke="#dd593d"/>
<polygon points="663.2,301.3 665.5,296.2 669.8,296.8 665.9,301.6" fill="url(#g1033)" stroke="#de593d"/>
<polygon points="731.3,240.1 723.9,248.1 712.2,246.6 718.9,238.6" fill="url(#g1034)" stroke="#e97733"/>
<polygon points="667.4,302.8 662.5,304.5 661.9,304.4 665.0,302.5" fill="#712655" stroke="#d8553b"/>
<polygon points="684.6,271.9 690.3,261.9 700.2,263.1 693.3,273.0" fill="url(#g1035)" stroke="#e96535"/>
<polygon points="662.6,304.1 665.9,301.6 668.7,302.0 663.7,304.3" fill="#722854" stroke="#d8553b"/>
<polygon points="698.5,265.6 691.7,275.4 683.2,274.3 688.8,264.4" fill="url(#g1036)" stroke="#e96335"/>
<polygon points="669.7,303.1 663.2,304.5 662.5,304.5 667.4,302.8" fill="#702752" stroke="#d8553b"/>
<polygon points="672.8,298.7 667.4,302.8 665.0,302.5 668.8,298.2" fill="url(#g1037)" stroke="#db583d"/>
<polygon points="663.7,304.3 668.7,302.0 671.4,302.3 664.7,304.4" fill="#712853" stroke="#d8553b"/>
<polygon points="679.3,281.4 684.6,271.9 693.3,273.0 686.7,282.3" fill="url(#g1038)" stroke="#e96135"/>
<polygon points="665.9,301.6 669.8,296.8 674.2,297.3 668.7,302.0" fill="url(#g1039)" stroke="#dd593d"/>
<polygon points="672.0,303.4 663.8,304.6 663.2,304.5 669.7,303.1" fill="#6f2652" stroke="#d8553b"/>
<polygon points="691.7,275.4 685.0,284.5 678.0,283.6 683.2,274.3" fill="url(#g1040)" stroke="#e86135"/>
<polygon points="707.1,253.4 713.9,244.5 725.7,245.9 718.1,254.8" fill="url(#g1041)" stroke="#e97233"/>
<polygon points="733.1,238.4 739.9,232.5 752.8,234.1 745.5,239.9" fill="#fac233" stroke="#ea7e31"/>
<polygon points="678.7,292.5 672.8,298.7 668.8,298.2 673.1,291.8" fill="url(#g1042)" stroke="#df5a3d"/>
<polygon points="669.8,296.8 674.3,289.9 680.2,290.6 674.2,297.3" fill="url(#g1043)" stroke="#e15b3c"/>
<polygon points="674.3,289.9 679.3,281.4 686.7,282.3 680.2,290.6" fill="url(#g1044)" stroke="#e55e36"/>
<polygon points="685.0,284.5 678.7,292.5 673.1,291.8 678.0,283.6" fill="url(#g1045)" stroke="#e45d36"/>
<polygon points="723.9,248.1 716.1,257.1 705.4,255.8 712.2,246.6" fill="url(#g1046)" stroke="#e96f34"/>
<polygon points="664.7,304.4 671.4,302.3 674.1,302.7 665.8,304.5" fill="#712655" stroke="#d8553b"/>
<polygon points="751.1,235.4 743.6,241.7 731.3,240.1 738.2,233.8" fill="#fac135" stroke="#ea7c31"/>
<polygon points="676.7,299.2 669.7,303.1 667.4,302.8 672.8,298.7" fill="url(#g1047)" stroke="#da583e"/>
<polygon points="668.7,302.0 674.2,297.3 678.6,297.9 671.4,302.3" fill="url(#g1048)" stroke="#dc593d"/>
<polygon points="700.2,263.1 707.1,253.4 718.1,254.8 710.1,264.4" fill="url(#g1049)" stroke="#e96835"/>
<polygon points="716.1,257.1 708.1,266.8 698.5,265.6 705.4,255.8" fill="url(#g1050)" stroke="#e96735"/>
<polygon points="684.3,293.2 676.7,299.2 672.8,298.7 678.7,292.5" fill="url(#g1051)" stroke="#df5a3d"/>
<polygon points="680.7,299.7 672.0,303.4 669.7,303.1 676.7,299.2" fill="url(#g1052)" stroke="#da583e"/>
<polygon points="674.2,297.3 680.2,290.6 686.2,291.4 678.6,297.9" fill="url(#g1053)" stroke="#e05b3d"/>
<polygon points="693.3,273.0 700.2,263.1 710.1,264.4 702.1,274.1" fill="url(#g1054)" stroke="#e96335"/>
<polygon points="671.4,302.3 678.6,297.9 683.0,298.4 674.1,302.7" fill="url(#g1055)" stroke="#dd593d"/>
<polygon points="725.7,245.9 733.1,238.4 745.5,239.9 737.6,247.4" fill="url(#g1056)" stroke="#e97533"/>
<polygon points="708.1,266.8 700.1,276.4 691.7,275.4 698.5,265.6" fill="url(#g1057)" stroke="#e96235"/>
<polygon points="692.1,285.4 684.3,293.2 678.7,292.5 685.0,284.5" fill="url(#g1058)" stroke="#e45d36"/>
<polygon points="680.2,290.6 686.7,282.3 694.1,283.3 686.2,291.4" fill="url(#g1059)" stroke="#e55e36"/>
<polygon points="686.7,282.3 693.3,273.0 702.1,274.1 694.1,283.3" fill="url(#g1060)" stroke="#e96135"/>
<polygon points="700.1,276.4 692.1,285.4 685.0,284.5 691.7,275.4" fill="url(#g1061)" stroke="#e86135"/>
<polygon points="743.6,241.7 735.5,249.5 723.9,248.1 731.3,240.1" fill="url(#g1062)" stroke="#e97433"/>
<polygon points="689.8,293.9 680.7,299.7 676.7,299.2 684.3,293.2" fill="url(#g1063)" stroke="#df5b3d"/>
<polygon points="678.6,297.9 686.2,291.4 692.1,292.1 683.0,298.4" fill="url(#g1064)" stroke="#e15c3d"/>
<polygon points="718.1,254.8 725.7,245.9 737.6,247.4 729.0,256.2" fill="url(#g1065)" stroke="#e96f34"/>
<polygon points="735.5,249.5 726.8,258.5 716.1,257.1 723.9,248.1" fill="url(#g1066)" stroke="#e96c35"/>
<polygon points="699.1,286.3 689.8,293.9 684.3,293.2 692.1,285.4" fill="url(#g1067)" stroke="#e45d36"/>
<polygon points="686.2,291.4 694.1,283.3 701.5,284.2 692.1,292.1" fill="url(#g1068)" stroke="#e45d36"/>
<polygon points="710.1,264.4 718.1,254.8 729.0,256.2 720.1,265.6" fill="url(#g1069)" stroke="#e96735"/>
<polygon points="726.8,258.5 717.8,268.0 708.1,266.8 716.1,257.1" fill="url(#g1070)" stroke="#e96635"/>
<polygon points="708.5,277.5 699.1,286.3 692.1,285.4 700.1,276.4" fill="url(#g1071)" stroke="#e76135"/>
<polygon points="694.1,283.3 702.1,274.1 710.8,275.2 701.5,284.2" fill="url(#g1072)" stroke="#e86135"/>
<polygon points="702.1,274.1 710.1,264.4 720.1,265.6 710.8,275.2" fill="url(#g1073)" stroke="#e96235"/>
<polygon points="717.8,268.0 708.5,277.5 700.1,276.4 708.1,266.8" fill="url(#g1074)" stroke="#e96135"/>
<polyline points="651.0,214.3 650.2,214.1 649.4,213.9 648.6,213.8 647.8,213.7 647.1,213.7 646.3,213.7 645.6,213.7 644.9,213.8 644.2,213.9 643.5,214.1 642.9,214.2 642.2,214.5 641.6,214.8 641.0,215.1 640.4,215.4 639.8,215.8 639.2,216.2 638.7,216.7 638.1,217.2 637.6,217.7 637.1,218.3 636.6,218.9 636.2,219.5 635.7,220.2 635.3,220.9 634.9,221.7 634.5,222.5 634.1,223.3 633.7,224.1 633.4,225.0 633.0,225.9 632.7,226.9 632.4,227.8 632.1,228.8 631.9,229.9 631.6,230.9 631.4,232.0 631.2,233.1 631.0,234.2 630.9,235.4 630.7,236.6 630.6,237.7 630.5,239.0 630.4,240.2 630.3,241.4 630.3,242.7 630.2,244.0 630.2,245.3 630.2,246.6 630.2,247.9 630.3,249.2 630.3,250.6 630.4,251.9 630.5,253.2 630.6,254.6 630.8,256.0 630.9,257.3 631.1,258.7 631.3,260.1 631.5,261.4 631.7,262.8 631.9,264.1 632.2,265.5 632.5,266.9 632.8,268.2 633.1,269.5 633.4,270.9 633.8,272.2 634.2,273.5 634.5,274.8 634.9,276.0 635.4,277.3 635.8,278.5 636.3,279.8 636.7,281.0 637.2,282.2 637.7,283.3 638.3,284.5 638.8,285.6 639.4,286.7 639.9,287.8 640.5,288.8 641.1,289.8 641.8,290.8 642.4,291.8 643.1,292.7 643.7,293.6 644.4,294.5 645.1,295.3 645.8,296.2 646.6,296.9 647.3,297.7 648.1,298.4 648.8,299.0 649.6,299.7 650.4,300.3 651.3,300.8 652.1,301.4 652.9,301.8 653.8,302.3 654.7,302.7 655.5,303.1 656.4,303.4 657.3,303.7 658.2,303.9 659.2,304.2 660.1,304.3 661.1,304.5 662.0,304.6 663.0,304.6 664.0,304.6 665.0,304.6 666.0,304.5 667.0,304.4 668.0,304.3 669.1,304.1 670.1,303.9 671.1,303.6 672.2,303.3 673.3,303.0 674.3,302.6 675.4,302.2 676.5,301.7 677.6,301.2 678.7,300.7 679.8,300.2 680.9,299.6 682.0,299.0 683.2,298.3 684.3,297.6 685.4,296.9 686.6,296.1 687.7,295.4 688.9,294.5 690.0,293.7 691.2,292.8 692.3,292.0 693.5,291.0 694.7,290.1 695.8,289.1 697.0,288.1 698.2,287.1 699.3,286.1 700.5,285.1 701.7,284.0 702.8,282.9 704.0,281.8 705.2,280.7 706.4,279.6 707.5,278.4 708.7,277.3 709.9,276.1 711.0,274.9 712.2,273.8 713.4,272.6 714.5,271.4 715.7,270.2 716.8,269.0 718.0,267.8 719.1,266.6 720.3,265.4 721.4,264.2 722.6,263.0 723.7,261.8 724.8,260.6 725.9,259.5 727.0,258.3 728.1,257.1 729.2,256.0 730.3,254.8 731.4,253.7 732.5,252.6 733.6,251.5 734.6,250.4 735.7,249.3 736.7,248.3 737.8,247.3 738.8,246.2 739.8,245.2 740.8,244.3 741.8,243.3 742.8,242.4 743.8,241.5 744.8,240.6 745.7,239.8 746.7,239.0 747.6,238.2 748.5,237.4 749.4,236.6 750.3,235.9 751.2,235.3 752.1,234.6 753.0,234.0 753.8,233.4 754.7,232.9 755.5,232.3 756.3,231.8 757.1,231.4 757.9,231.0 758.6,230.6 759.4,230.2 760.1,229.9 760.9,229.6 761.6,229.4 762.3,229.2 762.9,229.0 763.6,228.9 764.2,228.8 764.9,228.7 765.5,228.7 766.1,228.7 766.7,228.7 767.2,228.8 767.8,228.9 768.3,229.0 768.9,229.2 769.4,229.4 769.8,229.6 770.3,229.9 770.7,230.2 771.2,230.6 771.6,230.9 772.0,231.3 772.4,231.8 772.7,232.2 773.1,232.7 773.4,233.2 773.7,233.8 774.0,234.4 774.3,235.0 774.5,235.6 774.7,236.3 775.0,236.9 775.1,237.6 775.3,238.4 775.5,239.1 775.6,239.9 775.7,240.7 775.8,241.5 775.9,242.3 776.0,243.1 776.0,244.0 776.1,244.9 776.1,245.7 776.1,246.6 776.0,247.6 776.0,248.5 775.9,249.4 775.8,250.3 775.7,251.3 775.6,252.2 775.5,253.2 775.3,254.1 775.1,255.1 774.9,256.1 774.7,257.0 774.5,258.0 774.2,259.0 774.0,259.9 773.7,260.9 773.4,261.8 773.0,262.7 772.7,263.7 772.3,264.6 772.0,265.5 771.6,266.4 771.1,267.3 770.7,268.2 770.3,269.1 769.8,269.9 769.3,270.7 768.8,271.6 768.3,272.4 767.8,273.1 767.2,273.9 766.7,274.6 766.1,275.3 765.5,276.0 764.9,276.7 764.2,277.3 763.6,278.0 762.9,278.6 762.2,279.1 761.6,279.7 760.8,280.2 760.1,280.7 759.4,281.1 758.6,281.5 757.9,281.9 757.1,282.3 756.3,282.6 755.5,282.9 754.7,283.2 753.8,283.4 753.0,283.6 752.1,283.8 751.3,283.9 750.4,284.0 749.5,284.1 748.6,284.1 747.7,284.1 746.7,284.1 745.8,284.0 744.9,283.9 743.9,283.7 742.9,283.6 741.9,283.3 740.9,283.1 739.9,282.8 738.9,282.5 737.9,282.1 736.9,281.8 735.8,281.3 734.8,280.9 733.7,280.4 732.7,279.9 731.6,279.4 730.5,278.8 729.4,278.2 728.4,277.5 727.3,276.9 726.2,276.2 725.0,275.5 723.9,274.7 722.8,273.9 721.7,273.1 720.6,272.3 719.4,271.4 718.3,270.6 717.1,269.7 716.0,268.7" class="bl"/>
<circle cx="631.2" cy="259.8" r="1.15" class="dt"/>
<circle cx="630.3" cy="249.0" r="1.15" class="dt"/>
<circle cx="630.5" cy="238.7" r="1.15" class="dt"/>
<circle cx="631.9" cy="229.7" r="1.15" class="dt"/>
<circle cx="634.5" cy="222.3" r="1.15" class="dt"/>
<circle cx="638.2" cy="217.1" r="1.15" class="dt"/>
<circle cx="643.0" cy="214.2" r="1.15" class="dt"/>
<circle cx="648.7" cy="213.8" r="1.15" class="dt"/>
<circle cx="716.2" cy="268.9" r="1.15" class="dt"/>
<circle cx="725.3" cy="275.6" r="1.15" class="dt"/>
<circle cx="733.9" cy="280.5" r="1.15" class="dt"/>
<circle cx="742.1" cy="283.4" r="1.15" class="dt"/>
<circle cx="749.7" cy="284.1" r="1.15" class="dt"/>
<circle cx="756.5" cy="282.6" r="1.15" class="dt"/>
<circle cx="762.4" cy="279.0" r="1.15" class="dt"/>
<circle cx="767.3" cy="273.8" r="1.15" class="dt"/>
<circle cx="771.2" cy="267.2" r="1.15" class="dt"/>
<circle cx="774.0" cy="259.7" r="1.15" class="dt"/>
<circle cx="775.6" cy="252.1" r="1.15" class="dt"/>
<circle cx="776.1" cy="244.7" r="1.15" class="dt"/>
<circle cx="775.3" cy="238.2" r="1.15" class="dt"/>
<circle cx="773.3" cy="233.1" r="1.15" class="dt"/>
<circle cx="770.2" cy="229.9" r="1.15" class="dt"/>
<circle cx="766.0" cy="228.7" r="1.15" class="dt"/>
<circle cx="760.7" cy="229.7" r="1.15" class="dt"/>
<circle cx="754.5" cy="233.0" r="1.15" class="dt"/>
<circle cx="747.4" cy="238.3" r="1.15" class="dt"/>
<circle cx="739.6" cy="245.4" r="1.15" class="dt"/>
<circle cx="731.2" cy="253.9" r="1.15" class="dt"/>
<circle cx="722.4" cy="263.2" r="1.15" class="dt"/>
<circle cx="713.2" cy="272.8" r="1.15" class="dt"/>
<circle cx="703.8" cy="282.0" r="1.15" class="dt"/>
<circle cx="694.4" cy="290.3" r="1.15" class="dt"/>
<circle cx="685.2" cy="297.0" r="1.15" class="dt"/>
<circle cx="676.3" cy="301.8" r="1.15" class="dt"/>
<circle cx="667.8" cy="304.3" r="1.15" class="dt"/>
<circle cx="659.9" cy="304.3" r="1.15" class="dt"/>
<circle cx="652.8" cy="301.8" r="1.15" class="dt"/>
<circle cx="646.4" cy="296.8" r="1.15" class="dt"/>
<circle cx="641.0" cy="289.7" r="1.15" class="dt"/>
<circle cx="636.7" cy="280.8" r="1.15" class="dt"/>
<circle cx="633.4" cy="270.6" r="1.15" class="dt"/>
<line x1="645.9" y1="213.7" x2="758.8" y2="227.9" class="sil"/>
<line x1="640.4" y1="197.6" x2="791.9" y2="193.4" class="bx"/>
<line x1="614.4" y1="171.2" x2="640.4" y2="197.6" class="bx"/>
<line x1="640.4" y1="197.6" x2="639.8" y2="349.4" class="bx"/>
<line x1="792.1" y1="344.5" x2="792.6" y2="194.2" class="ax"/>
<line x1="792.1" y1="344.5" x2="640.3" y2="349.4" class="ax2"/>
<line x1="792.1" y1="344.5" x2="765.8" y2="318.9" class="ax"/>
<line x1="792.5" y1="196.8" x2="799.1" y2="196.8" class="tk"/>
<text x="802.7" y="200.7" class="al">1</text>
<line x1="792.4" y1="232.6" x2="799.0" y2="232.6" class="tk"/>
<text x="802.6" y="236.5" class="al">0.5</text>
<line x1="792.3" y1="268.5" x2="798.9" y2="268.5" class="tk"/>
<text x="802.5" y="272.4" class="al">0</text>
<line x1="792.1" y1="304.3" x2="798.7" y2="304.3" class="tk"/>
<text x="802.3" y="308.2" class="al">-0.5</text>
<line x1="645.4" y1="349.3" x2="645.4" y2="351.9" class="tk2"/>
<text x="648.8" y="353.7" class="al">1</text>
<line x1="681.4" y1="348.3" x2="681.4" y2="350.9" class="tk2"/>
<text x="684.8" y="352.7" class="al">0.5</text>
<line x1="717.3" y1="347.3" x2="717.3" y2="349.9" class="tk2"/>
<text x="720.7" y="351.7" class="al">0</text>
<line x1="753.2" y1="346.3" x2="753.2" y2="348.9" class="tk2"/>
<text x="756.6" y="350.7" class="al">-0.5</text>
<line x1="789.2" y1="345.4" x2="789.2" y2="348.0" class="tk2"/>
<text x="792.6" y="349.8" class="al">-1</text>
<line x1="765.9" y1="319.5" x2="773.5" y2="319.5" class="tk"/>
<text x="777.3" y="321.8" class="al">1</text>
<line x1="772.1" y1="325.8" x2="779.7" y2="325.8" class="tk"/>
<text x="783.5" y="328.1" class="al">0.5</text>
<line x1="778.3" y1="332.1" x2="785.9" y2="332.1" class="tk"/>
<text x="789.7" y="334.4" class="al">0</text>
<line x1="784.5" y1="338.3" x2="792.1" y2="338.3" class="tk"/>
<text x="795.9" y="340.6" class="al">-0.5</text>
<line x1="790.6" y1="344.6" x2="798.2" y2="344.6" class="tk"/>
<text x="802.0" y="346.9" class="al">-1</text></g>
<text x="30.6" y="49.9" class="m">F</text>
<text x="38.0" y="49.9" class="m">1</text>
<text x="43.4" y="49.9" class="m">(</text>
<text x="48.7" y="49.9" class="m">t</text>
<text x="53.9" y="49.9" class="m">,</text>
<text x="58.6" y="49.9" class="m">u</text>
<text x="65.9" y="49.9" class="m">)</text>
<text x="74.6" y="49.9" class="m">:</text>
<text x="77.5" y="49.9" class="m">=</text>
<path class="pr" d="M96.2,6.0 Q90.8,10.6 90.8,17.5 L90.8,73.1 Q90.8,80.0 96.2,84.6"/>
<path class="pr" d="M164.2,6.0 Q169.6,10.6 169.6,17.5 L169.6,73.1 Q169.6,80.0 164.2,84.6"/>
<text x="110.4" y="17.7" class="m">sin(t)</text>
<text x="139.3" y="17.7" class="m">·</text>
<text x="143.4" y="17.7" class="m">u</text>
<text x="107.8" y="39.7" class="m">cos(t)</text>
<text x="140.1" y="39.7" class="m">·</text>
<text x="144.4" y="39.7" class="m">u</text>
<text x="102.5" y="62.4" class="m" text-anchor="middle">1</text>
<text x="102.7" y="81.9" class="m" text-anchor="middle">2</text>
<line x1="99.1" y1="67.2" x2="106.3" y2="67.2" class="fb"/>
<text x="107.5" y="70.7" class="m">·</text>
<text x="112.1" y="70.7" class="m">sin(</text>
<text x="132.2" y="70.7" class="m">2</text>
<text x="137.6" y="70.7" class="m">·</text>
<text x="142.5" y="70.7" class="m">t</text>
<text x="146.6" y="70.7" class="m">)</text>
<text x="150.6" y="70.7" class="m">·</text>
<text x="155.5" y="70.7" class="m">u</text>
<text x="30.5" y="113.7" class="m">M</text>
<text x="43.3" y="113.7" class="m">1</text>
<text x="53.1" y="113.7" class="m">:</text>
<text x="56.1" y="113.7" class="m">=</text>
<text x="67.7" y="113.7" class="m">CreateMesh(F</text>
<text x="146.1" y="113.7" class="m">1</text>
<text x="153.4" y="113.7" class="m">,</text>
<text x="158.0" y="113.7" class="m">0</text>
<text x="165.9" y="113.7" class="m">,</text>
<text x="170.0" y="113.7" class="m">2π</text>
<text x="186.7" y="113.7" class="m">,</text>
<text x="190.7" y="113.7" class="m">0</text>
<text x="198.6" y="113.7" class="m">,</text>
<text x="203.7" y="113.7" class="m">1</text>
<text x="210.7" y="113.7" class="m">,</text>
<text x="214.7" y="113.7" class="m">5</text>
<text x="221.2" y="113.7" class="m">0</text>
<text x="229.1" y="113.7" class="m">,</text>
<text x="233.8" y="113.7" class="m">1</text>
<text x="239.2" y="113.7" class="m">0</text>
<text x="245.8" y="113.7" class="m">)</text>
<text x="6.8" y="396.8" class="m">M</text>
<text x="18.4" y="396.8" class="m">1</text>
<text x="26.0" y="396.8" class="m">,</text>
<text x="30.5" y="396.8" class="m">S</text>
<text x="318.7" y="57.9" class="m">F</text>
<text x="325.6" y="57.9" class="m">2</text>
<text x="331.4" y="57.9" class="m">(</text>
<text x="336.7" y="57.9" class="m">t</text>
<text x="341.9" y="57.9" class="m">,</text>
<text x="346.7" y="57.9" class="m">u</text>
<text x="353.9" y="57.9" class="m">)</text>
<text x="362.7" y="57.9" class="m">:</text>
<text x="365.6" y="57.9" class="m">=</text>
<path class="pr" d="M384.6,14.1 Q379.2,18.7 379.2,25.6 L379.2,81.2 Q379.2,88.1 384.6,92.7"/>
<path class="pr" d="M441.9,14.1 Q447.3,18.7 447.3,25.6 L447.3,81.2 Q447.3,88.1 441.9,92.7"/>
<text x="392.2" y="26.1" class="m">sin(t)</text>
<text x="421.1" y="26.1" class="m">·</text>
<text x="425.2" y="26.1" class="m">u</text>
<text x="391.2" y="47.6" class="m">cos(t)</text>
<text x="423.5" y="47.6" class="m">·</text>
<text x="427.8" y="47.6" class="m">u</text>
<text x="390.6" y="70.7" class="m" text-anchor="middle">1</text>
<text x="390.8" y="90.2" class="m" text-anchor="middle">2</text>
<line x1="387.2" y1="75.5" x2="394.4" y2="75.5" class="fb"/>
<text x="395.6" y="78.9" class="m">·</text>
<text x="400.2" y="78.9" class="m">sin(</text>
<text x="420.3" y="78.9" class="m">2</text>
<text x="425.7" y="78.9" class="m">·</text>
<text x="430.6" y="78.9" class="m">t</text>
<text x="434.7" y="78.9" class="m">)</text>
<text x="318.6" y="121.7" class="m">M</text>
<text x="331.0" y="121.7" class="m">2</text>
<text x="341.2" y="121.7" class="m">:</text>
<text x="344.2" y="121.7" class="m">=</text>
<text x="355.8" y="121.7" class="m">CreateMesh(F</text>
<text x="434.4" y="121.7" class="m">2</text>
<text x="441.4" y="121.7" class="m">,</text>
<text x="446.0" y="121.7" class="m">0</text>
<text x="453.9" y="121.7" class="m">,</text>
<text x="458.0" y="121.7" class="m">2π</text>
<text x="474.7" y="121.7" class="m">,</text>
<text x="478.7" y="121.7" class="m">0</text>
<text x="486.6" y="121.7" class="m">,</text>
<text x="491.7" y="121.7" class="m">1</text>
<text x="498.7" y="121.7" class="m">,</text>
<text x="502.7" y="121.7" class="m">5</text>
<text x="509.2" y="121.7" class="m">0</text>
<text x="517.1" y="121.7" class="m">,</text>
<text x="521.8" y="121.7" class="m">1</text>
<text x="527.2" y="121.7" class="m">0</text>
<text x="533.8" y="121.7" class="m">)</text>
<text x="294.9" y="404.8" class="m">M</text>
<text x="306.4" y="404.8" class="m">2</text>
<text x="314.0" y="404.8" class="m">,</text>
<text x="318.5" y="404.8" class="m">S</text>
<text x="606.7" y="57.9" class="m">F</text>
<text x="613.6" y="57.9" class="m">3</text>
<text x="619.5" y="57.9" class="m">(</text>
<text x="624.8" y="57.9" class="m">t</text>
<text x="630.0" y="57.9" class="m">,</text>
<text x="634.7" y="57.9" class="m">u</text>
<text x="642.0" y="57.9" class="m">)</text>
<text x="650.7" y="57.9" class="m">:</text>
<text x="653.6" y="57.9" class="m">=</text>
<path class="br" d="M671.5,14.8 L666.3,14.8 L666.3,92 L671.5,92"/>
<path class="br" d="M827.8,14.8 L833.0,14.8 L833.0,92 L827.8,92"/>
<text x="672.6" y="26.1" class="m">−</text>
<text x="680.0" y="26.1" class="m">sin(t)</text>
<text x="713.9" y="26.1" class="m">+</text>
<text x="726.3" y="26.1" class="m">u</text>
<text x="733.1" y="26.1" class="m">·</text>
<text x="736.8" y="26.1" class="m">(</text>
<text x="742.2" y="26.1" class="m">sin(t)</text>
<text x="776.3" y="26.1" class="m">+</text>
<text x="788.0" y="26.1" class="m">cos(t))</text>
<text x="671.0" y="47.6" class="m">−</text>
<text x="678.6" y="47.6" class="m">cos(t)</text>
<text x="716.0" y="47.6" class="m">+</text>
<text x="728.1" y="47.6" class="m">u</text>
<text x="734.9" y="47.6" class="m">·</text>
<text x="738.6" y="47.6" class="m">(</text>
<text x="743.7" y="47.6" class="m">sin(t)</text>
<text x="778.0" y="47.6" class="m">+</text>
<text x="789.5" y="47.6" class="m">cos(t))</text>
<text x="727.3" y="70.7" class="m" text-anchor="middle">1</text>
<text x="727.5" y="90.2" class="m" text-anchor="middle">2</text>
<line x1="723.9" y1="75.5" x2="731.1" y2="75.5" class="fb"/>
<text x="732.5" y="78.9" class="m">·</text>
<text x="737.2" y="78.9" class="m">sin(</text>
<text x="757.3" y="78.9" class="m">2</text>
<text x="762.7" y="78.9" class="m">·</text>
<text x="767.6" y="78.9" class="m">t</text>
<text x="771.7" y="78.9" class="m">)</text>
<text x="606.6" y="121.7" class="m">M</text>
<text x="619.0" y="121.7" class="m">3</text>
<text x="629.2" y="121.7" class="m">:</text>
<text x="632.2" y="121.7" class="m">=</text>
<text x="643.8" y="121.7" class="m">CreateMesh(F</text>
<text x="722.4" y="121.7" class="m">3</text>
<text x="729.5" y="121.7" class="m">,</text>
<text x="734.1" y="121.7" class="m">0</text>
<text x="742.0" y="121.7" class="m">,</text>
<text x="746.1" y="121.7" class="m">2π</text>
<text x="762.8" y="121.7" class="m">,</text>
<text x="766.8" y="121.7" class="m">0</text>
<text x="774.7" y="121.7" class="m">,</text>
<text x="779.8" y="121.7" class="m">1</text>
<text x="786.8" y="121.7" class="m">,</text>
<text x="790.8" y="121.7" class="m">5</text>
<text x="797.3" y="121.7" class="m">0</text>
<text x="805.2" y="121.7" class="m">,</text>
<text x="809.9" y="121.7" class="m">1</text>
<text x="815.3" y="121.7" class="m">0</text>
<text x="821.9" y="121.7" class="m">)</text>
<text x="582.9" y="404.8" class="m">M</text>
<text x="594.4" y="404.8" class="m">3</text>
<text x="602.1" y="404.8" class="m">,</text>
<text x="606.6" y="404.8" class="m">S</text>
</svg>
</body></html>
